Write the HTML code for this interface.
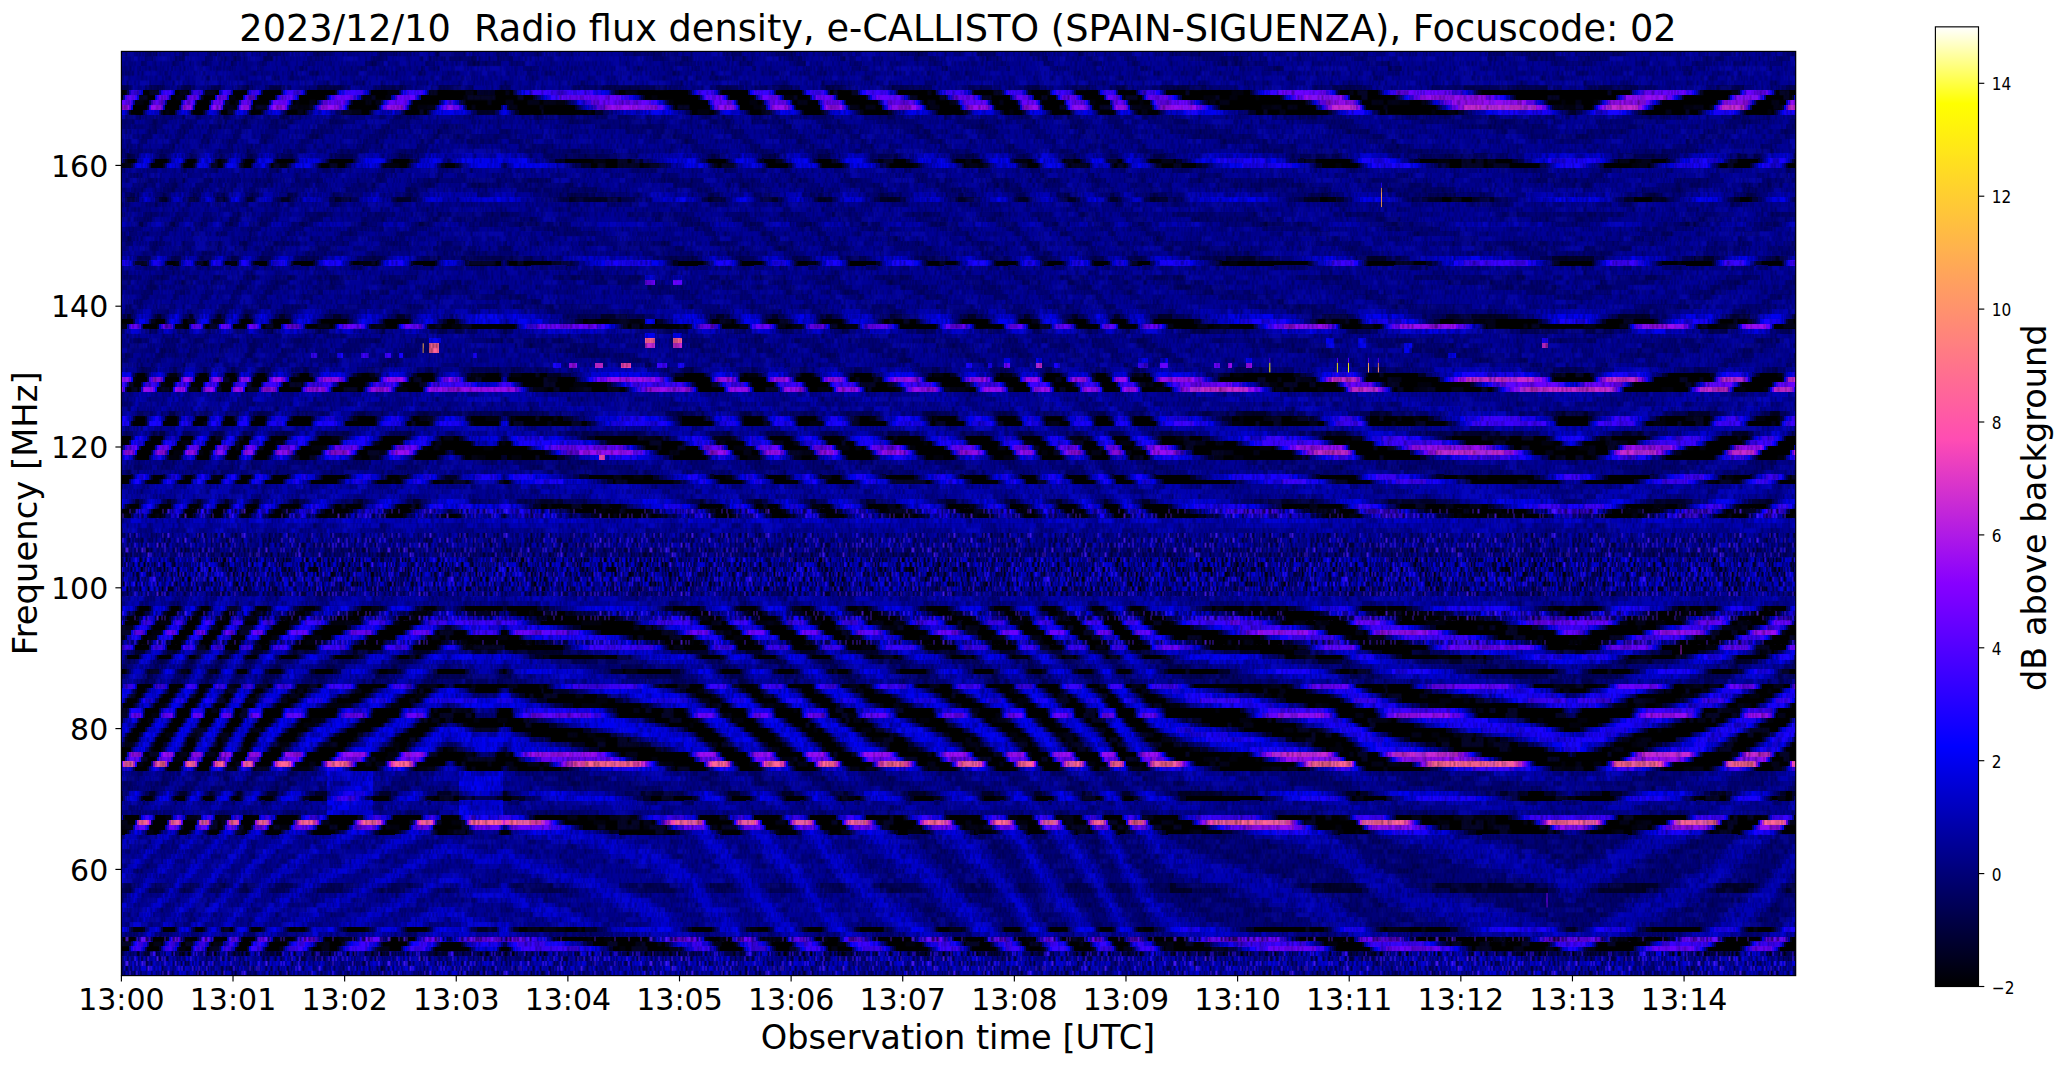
<!DOCTYPE html><html><head><meta charset="utf-8"><title>e-CALLISTO</title><style>html,body{margin:0;padding:0;background:#fff}svg{display:block}text{font-family:"DejaVu Sans","Liberation Sans",sans-serif;fill:#000}</style></head><body>
<svg width="2066" height="1067" viewBox="0 0 2066 1067">
<rect width="2066" height="1067" fill="#fff"/>
<g transform="translate(121.40 53.832) scale(2.00036 4.86421)" fill="none" stroke-width="1.05" shape-rendering="crispEdges">
<path stroke="#000096" d="M0 0h837M0 1h837M0 2h837M0 3h837M0 4h837M0 5h837M0 6h837M0 7h837M0 13h837M0 14h837M0 15h837M0 16h837M0 17h837M0 18h837M0 19h837M0 20h837M0 24h837M0 25h837M0 27h837M0 28h837M0 31h837M0 32h837M0 33h837M0 34h837M0 36h837M0 37h837M0 38h837M0 39h837M0 40h837M0 41h837M0 44h837M0 45h837M0 46h837M0 47h837M0 48h837M0 49h837M0 50h837M0 51h837M0 52h837M0 58h837M0 59h837M0 60h837M0 61h837M0 62h837M0 63h837M0 64h837M0 70h837M0 71h837M0 72h837M0 73h837M0 77h837M0 84h837M0 91h837M0 98h837M0 102h837M0 103h837M0 148h837M0 149h837M0 150h837M0 151h837M0 154h837M0 155h837M0 156h837M0 161h837M0 162h837M0 163h837M0 164h837M0 165h837M0 166h837M0 167h837M0 168h837M0 169h837M0 170h837M0 173h837M0 174h837M0 175h837M0 176h837M0 177h837M0 178h837M0 179h837"/>
<path stroke="#000000" d="M0 8h837M0 9h837M0 10h837M0 11h837M0 12h837M0 22h837M0 23h837M0 43h837M0 55h837M0 56h837M0 66h837M0 67h837M0 68h837M0 69h837M0 75h837M0 76h837M0 79h837M0 80h837M0 81h837M0 82h837M0 83h837M0 87h837M0 88h837M0 93h837M0 94h837M0 95h837M0 114h837M0 115h837M0 116h837M0 117h837M0 118h837M0 119h837M0 120h837M0 121h837M0 122h837M0 124h837M0 127h837M0 130h837M0 131h837M0 132h837M0 133h837M0 134h837M0 135h837M0 136h837M0 137h837M0 138h837M0 139h837M0 140h837M0 141h837M0 142h837M0 143h837M0 144h837M0 145h837M0 146h837M0 147h837M0 153h837M0 157h837M0 158h837M0 159h837M0 160h837M0 180h837M0 182h837M0 183h837M0 184h837"/>
<path stroke="#00005a" d="M0 21h837M0 42h837M0 54h837M0 74h837M0 78h837M0 125h837M0 128h837M0 171h837M0 172h837M0 185h837"/>
<path stroke="#000078" d="M0 26h837M0 29h837M0 53h837M0 57h837M0 85h837M0 86h837M0 126h837M0 129h837"/>
<path stroke="#00002d" d="M0 30h837M0 92h837M0 123h837M0 152h837"/>
<path stroke="#0000b4" d="M0 35h837M0 65h837M0 89h837M0 90h837M0 96h837M0 97h837M0 99h837M0 100h837M0 101h837M0 111h837M0 112h837M0 113h837M0 181h837M0 189h837"/>
<path stroke="#0000d2" d="M0 104h837M0 105h837M0 106h837M0 107h837M0 108h837M0 109h837M0 110h837M0 186h837M0 187h837M0 188h837"/>
<path stroke="#000000" d="M599 30h8m53 0h15m81 0h9m44 0h6M569 123h17m44 0h15m130 0h13m31 0h7M617 152h2m84 0h8m29 0h4m54 0h4m30 0h3"/>
<path stroke="#00002d" d="M107 8h1m70 0h9m9 0h1m50 0h2m34 0h1m15 0h1m125 0h1m138 0h1m43 0h1m19 0h1m48 0h1m76 0h1m53 0h1m17 0h1M68 9h1m33 0h1m17 0h1m85 0h1m54 0h1m26 0h1m14 0h1m12 0h1m55 0h1m107 0h1m19 0h1m78 0h1m58 0h1m57 0h1m83 0h1m54 0h1M44 10h1m70 0h1m54 0h1m51 0h1m50 0h1m46 0h1m79 0h1m16 0h1m29 0h1m11 0h1m43 0h1m38 0h1m50 0h1m58 0h1m59 0h1m25 0h1m30 0h1m27 0h1M51 11h1m32 0h1m43 0h1m15 0h1m48 0h1m33 0h1m48 0h1m125 0h1m33 0h1m11 0h1m36 0h1m8 0h1m9 0h1m43 0h1m108 0h1m57 0h1m19 0h1m59 0h1m34 0h1M4 12h1m15 0h1m14 0h1m5 0h1m22 0h1m5 0h1m11 0h1m9 0h1m17 0h1m13 0h1m16 0h1m11 0h1m24 0h9m10 0h2m38 0h4m43 0h1m11 0h1m16 0h1m10 0h1m15 0h1m10 0h1m16 0h1m14 0h2m22 0h1m14 0h1m17 0h1m9 0h1m13 0h1m9 0h1m13 0h1m7 0h1m10 0h1m10 0h1m44 0h4m36 0h2m23 0h1m39 0h3m52 0h4m31 0h2m28 0h2m21 0h1m14 0h1M1 22h1m5 0h1m15 0h1m8 0h1m19 0h1m8 0h1m4 0h1m10 0h1m8 0h1m16 0h1m12 0h1m18 0h1m10 0h1m70 0h5m35 0h4m31 0h1m9 0h1m16 0h2m9 0h1m16 0h1m9 0h1m18 0h2m14 0h2m22 0h1m12 0h1m16 0h1m8 0h1m14 0h1m8 0h1m13 0h1m19 0h1m13 0h3m58 0h3m23 0h1m31 0h3m46 0h3m48 0h2m24 0h2m29 0h1m14 0h1m16 0h1M5 23h1m15 0h1m8 0h1m5 0h1m22 0h1m23 0h1m15 0h1m12 0h1m18 0h1m11 0h1m16 0h2m5 0h2m61 0h5m34 0h3m23 0h1m10 0h1m15 0h1m10 0h2m14 0h1m10 0h1m20 0h1m16 0h1m21 0h1m12 0h1m15 0h1m8 0h1m13 0h1m10 0h1m11 0h1m6 0h1m13 0h1m20 0h3m57 0h3m18 0h1m39 0h4m47 0h3m27 0h2m23 0h2m32 0h1m15 0h1m17 0h1M552 42h17m53 0h10m83 0h21m50 0h10m29 0h6M43 43h1m22 0h1m18 0h1m10 0h1m18 0h1m12 0h1m16 0h1m11 0h1m14 0h2m19 0h1m26 0h4m52 0h2m14 0h1m16 0h1m10 0h1m15 0h1m10 0h1m15 0h1m13 0h2m23 0h1m14 0h1m18 0h1m10 0h1m12 0h1m9 0h1m14 0h1m7 0h1m10 0h1m42 0h3m43 0h2m26 0h1m30 0h3m60 0h1m19 0h1m32 0h2m25 0h1m20 0h1m13 0h1M3 54h2m13 0h2m14 0h2m12 0h2m12 0h2m15 0h3m24 0h4m28 0h4m98 0h13m44 0h4m24 0h3m24 0h3m29 0h6m33 0h4m24 0h3m21 0h3m18 0h3m19 0h7m75 0h13m49 0h31m55 0h16m40 0h10m22 0h1M45 55h1m5 0h1m7 0h1m5 0h1m9 0h1m8 0h1m14 0h1m13 0h1m17 0h1m12 0h1m16 0h2m4 0h2m58 0h4m37 0h3m23 0h1m11 0h1m15 0h1m10 0h1m15 0h1m10 0h1m19 0h1m16 0h2m20 0h1m13 0h1m14 0h1m9 0h1m13 0h1m9 0h1m11 0h1m7 0h1m12 0h1m20 0h3m56 0h3m20 0h1m37 0h3m49 0h2m30 0h2m24 0h2m30 0h1m16 0h1m16 0h1M18 56h1m43 0h1m7 0h1m21 0h1m13 0h1m17 0h1m28 0h1m43 0h1m52 0h1m33 0h1m55 0h1m13 0h1m52 0h1m18 0h1m13 0h1m12 0h1m23 0h1m10 0h1m9 0h1m8 0h1m58 0h1m42 0h1m19 0h1m50 0h2m125 0h1M7 66h1m4 0h1m10 0h1m4 0h1m9 0h1m4 0h1m8 0h1m4 0h1m9 0h1m4 0h1m13 0h2m6 0h2m20 0h2m9 0h2m17 0h2m8 0h1m16 0h2m14 0h1m4 0h1m18 0h7m57 0h4m10 0h1m17 0h2m7 0h2m17 0h2m7 0h1m17 0h2m9 0h2m26 0h2m9 0h3m20 0h2m6 0h2m14 0h1m7 0h1m15 0h2m5 0h1m12 0h1m6 0h2m34 0h6m35 0h3m30 0h1m25 0h4m63 0h2m17 0h2m34 0h3m21 0h2m21 0h2m11 0h1M51 67h1m32 0h1m43 0h1m15 0h1m48 0h1m33 0h1m48 0h1m125 0h1m33 0h1m11 0h1m36 0h1m8 0h1m9 0h1m43 0h1m109 0h1m56 0h1m19 0h1m59 0h1m34 0h1M49 68h1m5 0h1m7 0h1m58 0h1m17 0h1m11 0h1m47 0h1m42 0h2m41 0h1m27 0h1m54 0h1m15 0h1m23 0h1m55 0h1m9 0h1m13 0h1m18 0h1m11 0h1m48 0h2m36 0h1m23 0h1m42 0h2m79 0h1m30 0h1m22 0h1M9 69h1m15 0h1m178 0h2m46 0h1m90 0h1m45 0h1m21 0h1m54 0h1m23 0h1m33 0h1m50 0h1m59 0h1m49 0h1M557 74h15m52 0h11m82 0h16m50 0h11m30 0h5M6 75h1m5 0h1m9 0h1m5 0h1m8 0h1m19 0h1m8 0h1m5 0h1m12 0h1m9 0h1m19 0h1m11 0h1m17 0h1m10 0h1m16 0h2m14 0h1m4 0h1m26 0h5m52 0h2m12 0h2m16 0h1m9 0h1m16 0h1m9 0h1m16 0h2m11 0h2m24 0h2m12 0h1m19 0h1m9 0h1m13 0h1m8 0h1m15 0h1m6 0h1m11 0h1m8 0h1m35 0h5m38 0h3m26 0h2m29 0h3m60 0h2m15 0h2m32 0h2m25 0h1m21 0h1m12 0h1M5 76h1m6 0h1m15 0h1m28 0h1m69 0h1m46 0h1m19 0h1m38 0h2m44 0h1m15 0h1m14 0h1m12 0h1m26 0h1m122 0h1m12 0h1m8 0h1m9 0h1m47 0h2m68 0h1m39 0h2m52 0h1m75 0h1M602 78h10m54 0h23m61 0h11m44 0h8M14 79h1m29 0h1m5 0h1m13 0h1m9 0h1m23 0h1m12 0h1m18 0h1m11 0h1m16 0h1m9 0h2m62 0h4m34 0h3m21 0h1m11 0h1m15 0h1m10 0h1m15 0h1m10 0h1m20 0h1m16 0h2m20 0h1m12 0h1m24 0h1m13 0h1m9 0h1m11 0h1m7 0h1m13 0h1m22 0h4m56 0h1m61 0h3m47 0h2m23 0h2m23 0h2m33 0h1m15 0h1m17 0h1M81 80h1m12 0h1m14 0h1m16 0h1m28 0h1m19 0h1m66 0h1m37 0h1m16 0h1m27 0h1m12 0h1m13 0h1m32 0h1m37 0h1m14 0h1m12 0h1m23 0h1m43 0h1m37 0h1m47 0h1m19 0h1m45 0h1m47 0h1m10 0h1m26 0h1m52 0h1M77 81h1m43 0h1m81 0h2m55 0h1m54 0h1m41 0h1m13 0h1m21 0h1m96 0h1m18 0h1m19 0h1m46 0h1m59 0h1m57 0h2m51 0h1m34 0h1m20 0h1M45 82h1m7 0h1m21 0h1m42 0h1m13 0h1m15 0h1m13 0h1m3 0h1m45 0h2m54 0h1m21 0h1m42 0h1m11 0h1m28 0h1m22 0h1m70 0h1m13 0h1m52 0h1m49 0h1m119 0h1m70 0h1M7 83h1m15 0h1m5 0h1m22 0h1m5 0h1m7 0h1m6 0h1m12 0h1m10 0h1m18 0h1m12 0h1m16 0h1m11 0h1m12 0h1m18 0h3m25 0h4m52 0h2m16 0h1m15 0h1m10 0h1m15 0h1m11 0h1m14 0h1m13 0h2m23 0h1m14 0h1m18 0h1m10 0h1m23 0h1m13 0h1m8 0h1m19 0h1m29 0h3m44 0h3m27 0h1m28 0h3m61 0h1m23 0h1m32 0h2m24 0h1m20 0h1m13 0h1M5 87h1m9 0h1m5 0h1m9 0h1m4 0h1m8 0h1m29 0h1m7 0h1m16 0h1m11 0h2m18 0h1m10 0h1m18 0h6m61 0h5m32 0h3m25 0h2m9 0h1m16 0h1m9 0h2m15 0h1m9 0h1m20 0h2m14 0h2m21 0h2m11 0h1m16 0h1m7 0h1m14 0h1m9 0h1m12 0h1m5 0h1m14 0h1m17 0h3m60 0h2m18 0h1m39 0h4m45 0h3m32 0h2m21 0h2m33 0h1m14 0h1m18 0h1M12 88h1m6 0h1m8 0h1m20 0h1m7 0h1m5 0h1m44 0h1m18 0h1m12 0h1m33 0h1m19 0h1m48 0h3m33 0h1m18 0h1m11 0h1m41 0h1m12 0h1m19 0h2m17 0h1m19 0h1m50 0h1m10 0h1m18 0h1m14 0h1m33 0h3m48 0h2m17 0h1m47 0h2m44 0h1m12 0h1m24 0h2m34 0h1m35 0h1M2 93h1m15 0h1m20 0h1m22 0h1m5 0h1m10 0h1m9 0h1m16 0h1m13 0h1m16 0h1m11 0h1m56 0h4m40 0h3m35 0h1m11 0h1m15 0h1m11 0h1m15 0h1m9 0h1m17 0h1m16 0h1m22 0h1m13 0h1m26 0h1m13 0h1m9 0h1m20 0h1m11 0h1m12 0h2m52 0h3m30 0h1m26 0h2m44 0h3m65 0h1m28 0h2m24 0h1m15 0h1M0 94h1m5 0h1m15 0h1m14 0h1m22 0h1m15 0h1m8 0h1m15 0h1m12 0h2m17 0h1m11 0h1m77 0h3m37 0h3m27 0h1m10 0h1m43 0h1m9 0h1m19 0h1m16 0h1m21 0h2m12 0h1m15 0h1m8 0h1m14 0h1m9 0h1m32 0h1m17 0h2m58 0h2m22 0h1m34 0h3m48 0h2m39 0h2m24 0h2m30 0h1M14 95h1m5 0h1m9 0h1m19 0h1m8 0h1m4 0h1m9 0h1m7 0h1m15 0h1m11 0h2m19 0h1m9 0h2m16 0h3m6 0h2m65 0h5m30 0h3m23 0h1m9 0h2m16 0h1m9 0h1m16 0h1m9 0h1m20 0h2m14 0h2m21 0h2m10 0h2m15 0h1m7 0h1m15 0h1m8 0h1m18 0h1m14 0h1m20 0h4m58 0h2m17 0h1m43 0h3m45 0h2m25 0h2m21 0h2m34 0h1m14 0h1M8 114h1m5 0h1m9 0h1m4 0h1m9 0h1m4 0h1m8 0h1m4 0h1m8 0h1m5 0h2m13 0h1m8 0h2m19 0h2m9 0h2m17 0h2m8 0h2m10 0h2m19 0h2m15 0h6m58 0h4m13 0h2m16 0h2m8 0h1m17 0h1m8 0h2m16 0h1m10 0h2m24 0h3m11 0h1m20 0h2m8 0h1m14 0h1m7 0h2m15 0h1m6 0h1m11 0h1m7 0h1m28 0h5m38 0h4m32 0h1m22 0h3m65 0h3m25 0h2m35 0h3m19 0h1m22 0h1M6 115h1m4 0h1m10 0h1m4 0h1m9 0h1m3 0h1m9 0h1m4 0h1m8 0h1m4 0h2m12 0h2m6 0h2m19 0h3m8 0h2m18 0h2m7 0h2m21 0h13m6 0h3m24 0h8m51 0h4m8 0h2m16 0h2m7 0h2m17 0h2m7 0h1m17 0h2m10 0h3m24 0h3m9 0h3m19 0h2m6 0h2m14 0h1m7 0h1m15 0h2m5 0h1m11 0h2m6 0h2m42 0h5m33 0h3m26 0h2m29 0h5m58 0h3m6 0h3m33 0h3m23 0h2m22 0h2m11 0h1M8 116h1m15 0h1m14 0h1m8 0h1m13 0h1m25 0h1m17 0h2m11 0h1m18 0h1m10 0h1m58 0h5m34 0h4m38 0h1m9 0h1m17 0h1m9 0h1m16 0h1m9 0h1m18 0h1m13 0h2m24 0h1m11 0h2m17 0h1m8 0h1m13 0h1m9 0h1m13 0h1m19 0h1m10 0h2m55 0h3m27 0h2m27 0h2m41 0h3m68 0h1m26 0h2m40 0h1M17 117h1m21 0h1m7 0h1m30 0h1m25 0h1m31 0h1m12 0h1m58 0h2m46 0h1m72 0h1m14 0h1m11 0h1m34 0h1m20 0h1m15 0h1m38 0h1m31 0h1m26 0h1m52 0h1m32 0h1m25 0h1m51 0h2m88 0h1m23 0h1m31 0h1M15 118h1m15 0h1m13 0h1m5 0h1m13 0h1m18 0h1m15 0h1m12 0h2m17 0h1m11 0h1m17 0h5m59 0h4m36 0h2m26 0h1m10 0h1m15 0h1m10 0h1m15 0h1m10 0h1m19 0h1m16 0h2m20 0h2m12 0h1m15 0h1m8 0h1m13 0h1m10 0h1m11 0h1m6 0h1m13 0h1m18 0h2m58 0h2m21 0h1m36 0h3m48 0h3m34 0h1m24 0h2m46 0h1m17 0h1M20 119h1m75 0h1m13 0h1m17 0h1m12 0h1m15 0h1m35 0h1m44 0h2m36 0h1m47 0h1m11 0h1m14 0h1m11 0h1m38 0h1m19 0h1m13 0h1m37 0h1m10 0h1m18 0h1m13 0h1m29 0h2m72 0h1m44 0h1m48 0h1m17 0h1m59 0h1M10 120h1m15 0h1m28 0h1m22 0h1m12 0h1m31 0h1m28 0h1m46 0h1m54 0h2m29 0h1m15 0h1m39 0h1m27 0h1m20 0h1m50 0h1m12 0h1m23 0h1m29 0h1m16 0h1m43 0h2m40 0h1m19 0h1m54 0h2m62 0h1m35 0h1M14 121h1m15 0h1m8 0h1m19 0h1m8 0h1m5 0h1m13 0h1m9 0h2m19 0h1m11 0h1m17 0h1m10 0h2m6 0h2m37 0h5m57 0h3m17 0h1m16 0h1m9 0h2m16 0h1m9 0h1m15 0h2m10 0h2m24 0h2m12 0h2m19 0h2m9 0h1m13 0h1m8 0h1m15 0h1m7 0h1m10 0h1m7 0h1m26 0h3m41 0h3m34 0h1m21 0h3m64 0h3m30 0h2m35 0h2m20 0h1m20 0h1M66 122h1m30 0h1m60 0h1m32 0h1m29 0h1m51 0h1m18 0h1m27 0h1m14 0h1m11 0h1m14 0h1m14 0h1m22 0h1m58 0h1m10 0h1m22 0h1m9 0h1m38 0h2m48 0h1m59 0h1m59 0h1m25 0h1m58 0h1M18 124h1m20 0h1m8 0h1m13 0h1m5 0h1m10 0h1m8 0h1m17 0h1m12 0h2m17 0h1m10 0h1m57 0h4m37 0h5m36 0h1m9 0h2m15 0h2m9 0h1m16 0h1m9 0h1m17 0h2m14 0h2m22 0h2m12 0h1m17 0h1m8 0h1m13 0h1m9 0h1m13 0h1m6 0h1m11 0h1m11 0h2m54 0h3m29 0h1m26 0h3m42 0h4m65 0h2m27 0h2m24 0h1m15 0h1M598 125h12m50 0h22m70 0h13m42 0h8M3 127h1m9 0h1m15 0h1m4 0h1m8 0h1m4 0h1m23 0h2m6 0h1m14 0h2m9 0h2m20 0h1m9 0h2m16 0h2m14 0h2m15 0h2m2 0h1m51 0h6m24 0h4m20 0h1m9 0h1m16 0h2m8 0h2m15 0h2m8 0h2m22 0h2m13 0h2m21 0h1m10 0h2m14 0h1m7 0h2m14 0h2m7 0h1m11 0h1m6 0h1m16 0h2m25 0h6m53 0h2m13 0h2m50 0h4m38 0h2m15 0h2m19 0h2m37 0h2m13 0h2m19 0h1M15 130h1m29 0h1m7 0h1m13 0h1m7 0h1m42 0h1m13 0h1m15 0h1m13 0h2m2 0h1m46 0h1m53 0h2m21 0h1m14 0h1m39 0h1m28 0h1m22 0h1m16 0h1m17 0h1m12 0h1m22 0h1m13 0h1m52 0h1m49 0h1m58 0h1m60 0h1m94 0h1M7 131h1m4 0h1m10 0h1m4 0h1m9 0h1m3 0h1m9 0h1m4 0h1m8 0h1m4 0h1m13 0h2m6 0h2m20 0h2m9 0h2m18 0h2m7 0h1m18 0h3m11 0h1m5 0h2m20 0h8m55 0h3m9 0h2m17 0h2m7 0h2m17 0h2m6 0h2m17 0h2m9 0h2m26 0h2m9 0h3m20 0h1m7 0h2m14 0h1m6 0h2m15 0h2m5 0h1m11 0h2m6 0h1m38 0h6m34 0h3m28 0h2m26 0h4m62 0h2m13 0h2m34 0h3m22 0h1m22 0h1m12 0h1M4 132h1m5 0h1m9 0h1m5 0h1m8 0h1m19 0h1m13 0h1m11 0h2m8 0h1m17 0h2m11 0h2m17 0h1m10 0h1m46 0h3m36 0h5m42 0h2m10 0h1m16 0h1m9 0h2m15 0h1m9 0h1m17 0h2m13 0h1m24 0h1m12 0h2m17 0h1m9 0h1m13 0h1m8 0h1m14 0h1m6 0h1m11 0h1m9 0h2m47 0h4m33 0h2m24 0h2m38 0h3m84 0h1m28 0h2m22 0h1m14 0h1M8 133h1m15 0h1m14 0h1m8 0h1m13 0h1m25 0h1m17 0h2m11 0h1m18 0h1m10 0h1m58 0h5m34 0h4m38 0h1m9 0h1m17 0h1m9 0h1m16 0h1m9 0h1m18 0h1m13 0h2m24 0h1m11 0h2m17 0h1m8 0h1m13 0h1m9 0h1m13 0h1m19 0h1m10 0h2m55 0h3m27 0h2m27 0h2m41 0h3m68 0h1m26 0h2m40 0h1M6 134h1m9 0h1m5 0h1m14 0h1m8 0h1m19 0h1m10 0h1m7 0h1m16 0h1m12 0h1m18 0h1m10 0h1m75 0h5m34 0h4m28 0h2m9 0h1m16 0h1m10 0h1m15 0h2m8 0h2m18 0h2m14 0h2m22 0h1m12 0h1m16 0h1m8 0h1m13 0h2m8 0h1m12 0h1m6 0h1m13 0h1m14 0h3m59 0h2m22 0h1m33 0h4m45 0h4m43 0h1m24 0h2m30 0h1m14 0h1m16 0h1M3 135h1m30 0h1m7 0h1m28 0h1m8 0h1m58 0h1m35 0h1m12 0h1m6 0h1m50 0h2m33 0h1m29 0h1m14 0h1m26 0h1m12 0h1m20 0h1m17 0h1m46 0h1m9 0h1m13 0h1m20 0h1m23 0h1m37 0h2m46 0h1m67 0h2m43 0h1m8 0h1m25 0h1M93 136h1m13 0h1m17 0h1m28 0h1m93 0h1m33 0h1m16 0h1m39 0h1m66 0h1m18 0h1m13 0h1m122 0h1m45 0h1m18 0h1m49 0h1m44 0h1m4 0h1m26 0h1m53 0h1M0 137h1m8 0h1m15 0h1m5 0h1m22 0h1m5 0h1m7 0h1m7 0h1m12 0h1m10 0h2m18 0h2m11 0h1m16 0h1m13 0h2m38 0h4m56 0h3m21 0h1m15 0h1m11 0h1m15 0h1m10 0h1m15 0h1m11 0h2m22 0h2m14 0h1m19 0h1m11 0h1m13 0h1m8 0h1m14 0h1m8 0h1m10 0h1m8 0h1m21 0h3m42 0h3m35 0h1m21 0h2m62 0h3m40 0h1m35 0h2m19 0h1m20 0h1m11 0h1M14 138h1m23 0h1m5 0h1m29 0h1m12 0h1m9 0h2m18 0h1m12 0h1m16 0h1m10 0h2m10 0h1m20 0h1m22 0h4m54 0h2m17 0h1m15 0h1m10 0h1m16 0h1m10 0h1m15 0h1m12 0h1m23 0h2m14 0h1m18 0h1m24 0h1m9 0h1m14 0h1m7 0h1m10 0h1m8 0h1m27 0h4m43 0h3m29 0h1m26 0h3m62 0h2m25 0h2m33 0h2m22 0h1m20 0h1M5 139h1m15 0h1m14 0h1m5 0h1m13 0h1m14 0h1m11 0h1m9 0h1m18 0h1m12 0h1m17 0h1m10 0h1m21 0h1m11 0h1m6 0h1m35 0h4m46 0h2m12 0h1m15 0h1m11 0h1m15 0h1m10 0h1m15 0h1m14 0h1m23 0h2m13 0h1m18 0h1m9 0h1m12 0h1m10 0h1m13 0h1m7 0h1m10 0h1m9 0h1m41 0h3m39 0h2m23 0h1m36 0h3m54 0h2m8 0h2m30 0h2m28 0h1m21 0h1M3 140h1m5 0h1m9 0h1m14 0h1m5 0h1m39 0h1m9 0h1m16 0h2m12 0h1m17 0h1m11 0h1m50 0h3m40 0h3m39 0h1m10 0h1m16 0h1m10 0h1m15 0h1m10 0h1m16 0h2m14 0h2m22 0h1m13 0h2m16 0h1m9 0h1m13 0h1m9 0h1m13 0h1m6 0h1m11 0h1m10 0h2m50 0h3m33 0h1m24 0h2m42 0h3m73 0h2m29 0h1m23 0h1M8 141h1m8 0h1m6 0h1m22 0h1m5 0h1m13 0h1m10 0h1m8 0h1m16 0h1m13 0h1m17 0h1m11 0h1m63 0h3m39 0h4m32 0h1m10 0h1m16 0h1m10 0h1m15 0h1m10 0h1m17 0h1m16 0h1m22 0h1m13 0h1m16 0h1m8 0h1m13 0h1m9 0h1m20 0h1m11 0h1m13 0h2m55 0h3m27 0h1m28 0h3m45 0h4m55 0h2m27 0h2m25 0h1m15 0h1m15 0h1M1 142h1m4 0h1m9 0h1m4 0h2m9 0h1m4 0h1m8 0h1m4 0h1m8 0h1m4 0h1m10 0h2m6 0h1m16 0h3m9 0h2m19 0h2m7 0h2m79 0h8m27 0h6m28 0h2m8 0h2m16 0h2m7 0h2m16 0h2m7 0h2m20 0h2m12 0h3m22 0h2m9 0h2m17 0h1m6 0h2m14 0h2m7 0h1m13 0h1m5 0h1m13 0h2m13 0h4m60 0h3m19 0h1m36 0h5m41 0h5m41 0h2m21 0h3m31 0h2m13 0h1m17 0h1M14 143h1m5 0h1m9 0h1m13 0h1m5 0h1m8 0h1m4 0h1m9 0h1m7 0h1m15 0h1m12 0h1m18 0h2m10 0h1m16 0h2m7 0h3m63 0h5m31 0h3m23 0h1m9 0h2m15 0h2m9 0h1m15 0h2m9 0h1m20 0h2m14 0h2m21 0h1m11 0h2m15 0h1m7 0h1m14 0h2m8 0h1m18 0h1m14 0h1m21 0h4m57 0h2m17 0h1m43 0h3m45 0h2m25 0h2m21 0h2m34 0h1m14 0h2m17 0h1M11 144h1m15 0h1m20 0h1m7 0h1m81 0h1m15 0h1m22 0h1m9 0h1m61 0h1m77 0h1m26 0h1m33 0h1m17 0h1m115 0h1m40 0h1m115 0h1m43 0h1m1 0h2m26 0h1m35 0h1M10 145h1m6 0h1m8 0h1m20 0h1m7 0h1m35 0h1m12 0h1m18 0h1m12 0h1m15 0h1m46 0h1m56 0h2m71 0h1m11 0h1m14 0h1m12 0h1m21 0h1m36 0h1m12 0h1m57 0h1m8 0h1m17 0h1m43 0h1m61 0h1m55 0h2m59 0h1M67 146h1m19 0h1m79 0h1m165 0h1m26 0h1m53 0h1m30 0h1m90 0h1m49 0h1m30 0h1m88 0h1m68 0h1m43 0h1m13 0h1M13 147h1m15 0h1m22 0h1m13 0h1m6 0h1m11 0h1m10 0h1m18 0h1m12 0h1m17 0h1m10 0h1m14 0h1m17 0h1m2 0h1m26 0h4m51 0h2m15 0h1m15 0h1m11 0h1m15 0h1m10 0h1m15 0h1m13 0h1m23 0h2m14 0h1m18 0h1m10 0h1m12 0h1m9 0h1m14 0h1m7 0h1m10 0h1m8 0h1m31 0h4m43 0h2m27 0h1m29 0h3m60 0h1m21 0h1m32 0h2m24 0h1m20 0h1m13 0h1M10 153h1m5 0h1m9 0h1m19 0h1m8 0h1m4 0h1m8 0h1m6 0h1m14 0h1m9 0h2m22 0h1m8 0h1m17 0h1m16 0h8m11 0h3m8 0h3m59 0h4m20 0h2m16 0h2m9 0h1m16 0h1m9 0h1m16 0h1m10 0h2m23 0h2m13 0h1m20 0h1m10 0h1m14 0h1m8 0h1m14 0h1m8 0h1m10 0h1m7 0h1m20 0h3m38 0h4m40 0h1m17 0h3m60 0h4m47 0h1m37 0h2m16 0h2m20 0h1m10 0h1M1 157h1m52 0h1m34 0h1m116 0h1m51 0h1m29 0h1m13 0h1m89 0h1m50 0h1m35 0h1m97 0h1m35 0h1m79 0h2M66 158h1m33 0h1m120 0h1m70 0h1m54 0h1m29 0h1m79 0h1m12 0h1m22 0h1m155 0h1m92 0h1M44 159h1m68 0h1m16 0h1m25 0h1m16 0h1m55 0h2m63 0h1m12 0h1m41 0h1m30 0h1m38 0h1m39 0h1m12 0h1m69 0h1m54 0h1m60 0h1m54 0h1m51 0h1m65 0h1M3 160h1m15 0h1m14 0h1m8 0h1m13 0h1m14 0h1m7 0h1m14 0h1m11 0h2m18 0h2m10 0h1m16 0h1m16 0h1m15 0h1m4 0h1m49 0h5m28 0h2m19 0h2m9 0h1m16 0h1m10 0h1m15 0h1m10 0h1m21 0h2m14 0h2m20 0h2m11 0h1m14 0h1m8 0h1m14 0h1m8 0h1m11 0h1m6 0h1m15 0h2m28 0h5m51 0h2m15 0h1m49 0h4m40 0h2m13 0h2m21 0h2m36 0h1m15 0h1m19 0h1M524 171h3m68 0h22m38 0h51m37 0h25m32 0h16m18 0h3M524 172h11m66 0h19m44 0h49m25 0h24m35 0h16m19 0h5M5 180h1m5 0h1m24 0h1m4 0h1m8 0h1m13 0h1m5 0h1m12 0h1m8 0h1m18 0h2m11 0h1m17 0h1m10 0h1m24 0h10m8 0h3m33 0h6m45 0h2m10 0h1m16 0h2m9 0h1m16 0h1m9 0h1m16 0h2m12 0h2m24 0h1m12 0h2m18 0h1m8 0h1m13 0h1m9 0h1m14 0h1m6 0h1m11 0h1m8 0h2m44 0h4m35 0h2m24 0h2m35 0h4m54 0h6m32 0h2m27 0h1m22 0h1m13 0h1M7 182h1m15 0h1m36 0h1m15 0h1m9 0h1m14 0h1m116 0h1m44 0h2m39 0h1m14 0h1m38 0h1m17 0h1m18 0h1m50 0h1m85 0h1m55 0h1m58 0h1m53 0h2m41 0h1m28 0h1m27 0h1m32 0h1M44 183h1m85 0h1m28 0h1m10 0h1m62 0h3m36 0h2m21 0h1m11 0h1m15 0h1m26 0h1m31 0h1m17 0h1m33 0h1m24 0h1m13 0h1m21 0h1m7 0h1m37 0h3m56 0h1m19 0h1m41 0h2m49 0h1m23 0h1m24 0h2m49 0h1m17 0h1M19 184h1m8 0h1m28 0h1m5 0h1m8 0h1m22 0h1m12 0h1m18 0h1m28 0h1m17 0h1m14 0h1m4 0h1m49 0h2m32 0h2m18 0h1m11 0h1m15 0h1m10 0h1m48 0h1m16 0h1m20 0h1m12 0h1m23 0h1m24 0h1m10 0h1m22 0h1m32 0h3m50 0h1m66 0h2m43 0h1m13 0h1m23 0h1m52 0h1"/>
<path stroke="#00005a" d="M0 7h4m10 0h6m10 0h5m10 0h5m9 0h5m10 0h8m16 0h12m20 0h11m18 0h11m71 0h32m24 0h11m17 0h10m17 0h10m23 0h15m23 0h12m16 0h8m16 0h9m13 0h6m16 0h23m63 0h15m51 0h42m25 0h20m39 0h14m21 0h5M3 8h1m30 0h1m35 0h1m9 0h1m11 0h1m31 0h1m14 0h1m57 0h1m48 0h1m37 0h1m55 0h1m12 0h1m33 0h1m19 0h1m32 0h1m11 0h1m23 0h1m11 0h1m18 0h1m13 0h1m43 0h1m63 0h1m46 0h1m111 0h1M207 9h1m52 0h1m96 0h1m35 0h1m18 0h1m97 0h1m18 0h1m50 0h1m58 0h1m55 0h1m107 0h1M85 10h1m44 0h1m14 0h1m13 0h1m63 0h1m48 0h1m34 0h1m70 0h1m55 0h1m106 0h1m77 0h1m33 0h1m57 0h1m104 0h1M13 11h1m51 0h1m30 0h1m60 0h1m14 0h1m55 0h1m107 0h1m26 0h1m96 0h1m54 0h1m31 0h1m49 0h1m23 0h1m36 0h1m106 0h1M11 12h1m15 0h1m21 0h1m6 0h1m24 0h1m11 0h1m15 0h1m15 0h1m14 0h1m13 0h1m21 0h2m9 0h1m8 0h1m44 0h3m38 0h2m13 0h1m14 0h1m12 0h1m13 0h1m12 0h1m14 0h1m17 0h1m20 0h1m16 0h1m15 0h1m11 0h1m11 0h1m11 0h1m30 0h1m12 0h1m41 0h2m42 0h1m20 0h2m43 0h2m48 0h2m4 0h2m28 0h1m32 0h1m19 0h1m16 0h1M16 22h1m21 0h1m7 0h1m55 0h1m14 0h1m16 0h1m12 0h1m66 0h3m44 0h3m27 0h1m11 0h1m14 0h1m12 0h1m14 0h1m11 0h1m16 0h1m18 0h1m20 0h1m14 0h1m25 0h1m12 0h1m10 0h1m11 0h1m7 0h1m11 0h1m17 0h2m54 0h2m27 0h1m28 0h2m52 0h3m44 0h1m28 0h2m26 0h1m16 0h1M14 23h1m29 0h1m6 0h1m13 0h1m8 0h1m9 0h1m13 0h1m14 0h1m16 0h1m13 0h1m14 0h1m9 0h2m56 0h3m42 0h1m21 0h1m12 0h1m53 0h1m17 0h2m18 0h1m19 0h1m14 0h1m13 0h1m10 0h1m34 0h1m20 0h1m24 0h3m53 0h1m22 0h1m36 0h2m54 0h1m25 0h1m27 0h1m30 0h1m17 0h1M5 29h2m14 0h2m13 0h2m12 0h2m12 0h2m17 0h3m25 0h4m27 0h4m77 0h14m56 0h3m25 0h3m24 0h3m27 0h5m35 0h4m25 0h3m21 0h3m20 0h2m18 0h4m75 0h10m50 0h14m93 0h10m42 0h5M2 30h1m4 0h1m9 0h2m4 0h1m9 0h1m3 0h2m8 0h1m4 0h1m9 0h1m3 0h1m11 0h2m5 0h2m17 0h3m8 0h3m18 0h2m7 0h3m68 0h8m26 0h7m34 0h2m7 0h2m17 0h2m7 0h2m16 0h2m7 0h2m19 0h3m10 0h3m23 0h3m8 0h3m17 0h2m5 0h2m14 0h2m6 0h2m14 0h1m4 0h2m12 0h2m9 0h4m59 0h5m20 0h2m32 0h5m36 0h7m55 0h3m21 0h4m28 0h2m12 0h2m16 0h1M9 35h2m14 0h2m13 0h1m13 0h2m12 0h2m19 0h3m28 0h3m26 0h4m46 0h10m77 0h3m25 0h3m24 0h4m24 0h4m36 0h4m28 0h3m21 0h3m21 0h2m17 0h3m58 0h12m50 0h9m139 0h8m35 0h3M6 43h1m6 0h1m8 0h1m6 0h1m7 0h1m20 0h1m14 0h1m40 0h1m14 0h1m60 0h1m1 0h1m31 0h3m48 0h1m17 0h1m14 0h1m12 0h1m26 0h1m30 0h1m21 0h1m16 0h1m52 0h1m42 0h1m30 0h2m48 0h1m59 0h2m57 0h1m21 0h1m30 0h1m28 0h1M6 55h1m7 0h1m7 0h1m7 0h1m6 0h1m36 0h1m23 0h1m15 0h1m30 0h1m13 0h2m8 0h1m54 0h3m44 0h2m20 0h1m27 0h1m12 0h1m13 0h1m12 0h1m16 0h2m19 0h1m18 0h1m15 0h1m36 0h1m11 0h1m30 0h1m24 0h2m53 0h1m24 0h1m33 0h3m54 0h2m27 0h1m28 0h1m47 0h1M41 56h1m6 0h1m89 0h1m110 0h1m63 0h1m13 0h1m40 0h1m19 0h1m133 0h1m44 0h1m111 0h1m73 0h1m33 0h1M14 57h1m14 0h2m13 0h1m13 0h2m13 0h3m21 0h3m29 0h3m26 0h5m4 0h5m19 0h2m75 0h8m30 0h3m24 0h3m24 0h3m34 0h5m31 0h3m22 0h2m22 0h3m17 0h2m30 0h18m63 0h9m75 0h19m14 0h14m47 0h10m26 0h6M10 65h2m14 0h2m13 0h2m12 0h2m13 0h2m19 0h3m29 0h4m25 0h4m19 0h14m6 0h5m81 0h5m25 0h3m25 0h3m24 0h4m35 0h4m30 0h3m20 0h3m22 0h2m17 0h3m48 0h13m55 0h7m87 0h12m55 0h6m33 0h3M13 66h1m15 0h1m7 0h1m20 0h1m7 0h1m6 0h1m11 0h1m10 0h1m18 0h1m13 0h1m15 0h1m11 0h1m14 0h1m17 0h1m2 0h1m26 0h5m50 0h2m15 0h1m15 0h1m11 0h1m15 0h1m10 0h1m15 0h1m13 0h2m22 0h2m14 0h1m18 0h1m10 0h1m12 0h1m9 0h1m22 0h1m10 0h1m40 0h3m44 0h3m26 0h1m30 0h3m59 0h1m21 0h1m31 0h2m26 0h1m19 0h1M13 67h1m51 0h1m30 0h1m60 0h1m14 0h1m55 0h1m107 0h1m26 0h1m96 0h1m54 0h1m31 0h1m49 0h1m23 0h1m143 0h1M10 68h1m8 0h1m6 0h1m64 0h1m16 0h1m14 0h1m15 0h1m59 0h1m45 0h1m39 0h1m12 0h1m27 0h1m14 0h1m11 0h1m32 0h1m37 0h1m16 0h1m55 0h1m70 0h1m61 0h1m45 0h1m148 0h1M2 69h1m30 0h1m71 0h1m15 0h1m15 0h1m115 0h1m74 0h1m26 0h1m15 0h1m239 0h1m74 0h1m63 0h1m32 0h1m39 0h1M43 75h1m7 0h1m13 0h1m18 0h1m11 0h1m17 0h1m13 0h1m15 0h1m12 0h1m14 0h1m20 0h1m32 0h3m47 0h2m31 0h1m11 0h1m14 0h1m11 0h1m14 0h1m15 0h1m22 0h1m15 0h1m17 0h1m11 0h1m11 0h1m10 0h1m13 0h1m8 0h1m9 0h1m10 0h1m31 0h3m46 0h2m58 0h3m56 0h1m19 0h1m30 0h1m28 0h1m19 0h1m14 0h1M50 76h1m21 0h1m22 0h1m15 0h1m30 0h1m13 0h1m32 0h1m45 0h2m41 0h1m58 0h1m26 0h1m17 0h1m20 0h1m17 0h1m15 0h1m23 0h1m55 0h1m33 0h2m48 0h1m63 0h1m67 0h1m27 0h1m50 0h1m16 0h1M5 79h1m15 0h1m14 0h1m21 0h1m24 0h1m13 0h1m14 0h1m16 0h1m13 0h1m14 0h1m12 0h1m19 0h2m37 0h3m41 0h1m33 0h1m13 0h1m12 0h1m26 0h1m18 0h1m19 0h1m18 0h1m14 0h1m13 0h1m22 0h1m11 0h1m31 0h1m27 0h2m52 0h2m20 0h1m39 0h2m52 0h1m21 0h1m27 0h1m31 0h1m17 0h1M4 80h1m37 0h1m145 0h1m6 0h1m44 0h2m39 0h1m29 0h1m72 0h1m20 0h1m56 0h1m95 0h2m44 0h1m65 0h1m87 0h1m32 0h1M9 81h1m15 0h1m6 0h1m70 0h1m31 0h1m69 0h1m53 0h1m70 0h1m12 0h1m67 0h1m17 0h1m25 0h1m10 0h1m61 0h1m48 0h1m35 0h1m79 0h1M15 82h1m51 0h1m19 0h1m12 0h1m62 0h1m1 0h1m48 0h1m52 0h1m37 0h1m12 0h1m95 0h1m17 0h1m12 0h1m140 0h1m57 0h1m130 0h1m24 0h1M37 83h1m6 0h1m29 0h1m10 0h1m29 0h1m14 0h1m14 0h1m13 0h1m10 0h1m51 0h2m48 0h2m33 0h1m12 0h1m57 0h1m21 0h1m16 0h1m16 0h1m12 0h1m11 0h1m43 0h1m37 0h2m50 0h1m25 0h1m32 0h2m58 0h1m25 0h1m30 0h1m27 0h1m18 0h1M30 87h1m20 0h1m7 0h1m5 0h1m18 0h1m14 0h1m14 0h1m16 0h1m12 0h1m15 0h2m6 0h1m57 0h3m40 0h2m35 0h1m14 0h1m26 0h1m11 0h1m18 0h1m18 0h1m19 0h1m14 0h1m14 0h1m9 0h1m12 0h1m22 0h1m7 0h1m12 0h1m21 0h3m55 0h2m21 0h1m36 0h2m52 0h2m29 0h1m25 0h2m30 0h1m16 0h1m16 0h1M42 88h1m38 0h1m12 0h1m14 0h1m16 0h1m28 0h1m19 0h1m12 0h1m51 0h3m37 0h2m15 0h1m13 0h1m13 0h1m12 0h1m45 0h1m20 0h1m17 0h1m14 0h1m12 0h1m10 0h1m56 0h1m37 0h3m44 0h1m20 0h1m44 0h2m47 0h1m10 0h1m27 0h1m32 0h1m18 0h1M6 92h1m2 0h2m10 0h2m2 0h2m9 0h2m2 0h1m10 0h1m2 0h2m9 0h1m3 0h1m14 0h2m3 0h3m20 0h4m5 0h3m19 0h3m4 0h3m45 0h9m14 0h12m52 0h4m3 0h3m18 0h3m4 0h3m18 0h3m3 0h3m19 0h3m5 0h5m26 0h4m5 0h4m20 0h3m3 0h2m15 0h3m3 0h3m16 0h2m2 0h2m13 0h2m4 0h3m49 0h7m23 0h5m28 0h4m24 0h7m98 0h4m19 0h4m24 0h2m10 0h1M9 93h1m15 0h1m7 0h1m20 0h1m50 0h1m15 0h1m28 0h1m53 0h2m47 0h3m45 0h1m41 0h1m11 0h1m15 0h1m18 0h1m20 0h1m15 0h1m15 0h1m10 0h1m11 0h1m11 0h1m11 0h1m34 0h1m49 0h2m34 0h1m23 0h2m49 0h3m61 0h1m31 0h1m22 0h1m17 0h1M15 94h1m15 0h1m20 0h1m13 0h1m33 0h1m45 0h1m16 0h3m54 0h3m43 0h2m24 0h1m12 0h1m14 0h1m11 0h1m14 0h1m11 0h1m17 0h1m18 0h1m35 0h1m24 0h1m12 0h1m22 0h1m7 0h1m11 0h1m20 0h2m55 0h1m57 0h2m53 0h2m36 0h1m28 0h1m28 0h1m16 0h1M5 95h1m15 0h1m14 0h1m7 0h1m38 0h1m13 0h1m14 0h1m17 0h1m12 0h1m14 0h1m11 0h2m19 0h2m39 0h3m38 0h2m20 0h1m27 0h1m11 0h1m14 0h1m11 0h1m18 0h1m18 0h1m19 0h1m14 0h1m13 0h1m9 0h1m13 0h1m10 0h1m10 0h1m7 0h1m12 0h1m25 0h3m54 0h1m20 0h1m39 0h3m50 0h1m23 0h1m25 0h1m32 0h1m16 0h1m17 0h1M30 114h1m7 0h1m20 0h1m27 0h1m11 0h1m17 0h1m13 0h1m15 0h1m12 0h2m6 0h2m44 0h3m53 0h2m19 0h1m14 0h1m11 0h1m15 0h1m11 0h1m14 0h1m13 0h1m22 0h1m15 0h2m17 0h1m11 0h1m12 0h1m10 0h1m13 0h1m8 0h1m9 0h1m9 0h1m24 0h3m47 0h2m29 0h1m26 0h3m60 0h2m30 0h1m32 0h2m23 0h1m20 0h1m12 0h1M5 115h1m6 0h1m8 0h1m6 0h1m7 0h1m5 0h1m14 0h1m25 0h1m10 0h1m17 0h1m13 0h1m16 0h1m11 0h1m18 0h2m18 0h1m35 0h5m44 0h2m14 0h1m14 0h1m11 0h1m15 0h1m10 0h1m15 0h1m15 0h1m22 0h1m15 0h1m17 0h1m10 0h1m12 0h1m9 0h1m13 0h1m8 0h1m9 0h1m10 0h1m37 0h4m41 0h2m23 0h1m36 0h3m54 0h1m12 0h2m29 0h2m28 0h1m20 0h1m14 0h1M2 116h1m15 0h1m14 0h1m20 0h1m13 0h1m10 0h1m9 0h1m15 0h1m14 0h1m16 0h1m12 0h1m54 0h3m43 0h3m34 0h1m11 0h1m15 0h1m11 0h1m14 0h1m11 0h1m16 0h1m16 0h1m22 0h1m30 0h1m54 0h1m11 0h1m13 0h1m52 0h2m58 0h1m46 0h3m64 0h1m29 0h1m24 0h1m15 0h1M61 117h1m6 0h1m51 0h1m85 0h2m49 0h1m44 0h1m13 0h1m55 0h1m106 0h1m30 0h1m16 0h1m50 0h1m58 0h1m54 0h1m55 0h1m32 0h1m40 0h1M6 118h1m15 0h1m14 0h1m21 0h1m15 0h1m9 0h1m13 0h1m45 0h1m15 0h1m5 0h1m55 0h3m42 0h2m23 0h1m12 0h1m26 0h1m26 0h1m17 0h1m19 0h1m18 0h1m15 0h1m13 0h1m54 0h1m11 0h1m21 0h2m55 0h1m58 0h2m54 0h1m32 0h1m27 0h1m29 0h1m16 0h1M43 119h1m38 0h1m154 0h1m39 0h1m18 0h1m12 0h1m73 0h1m66 0h1m99 0h1m51 0h1m63 0h1m93 0h1m51 0h1M2 120h1m30 0h1m71 0h1m31 0h1m62 0h1m52 0h1m32 0h1m27 0h1m13 0h1m26 0h1m53 0h1m17 0h1m61 0h1m34 0h1m46 0h1m60 0h1m52 0h1m99 0h1m38 0h1M8 121h1m6 0h1m8 0h1m20 0h1m7 0h1m13 0h1m7 0h1m11 0h1m12 0h1m17 0h1m13 0h1m15 0h1m13 0h2m1 0h3m44 0h3m52 0h2m21 0h1m14 0h1m12 0h1m14 0h1m11 0h1m28 0h1m22 0h1m16 0h1m17 0h1m12 0h1m22 0h1m13 0h1m28 0h1m23 0h2m47 0h2m31 0h1m25 0h2m60 0h2m35 0h1m33 0h1m23 0h1m32 0h1M44 122h1m40 0h1m29 0h1m14 0h1m28 0h1m10 0h1m51 0h2m48 0h1m34 0h1m109 0h1m29 0h1m93 0h1m51 0h1m25 0h1m33 0h1m115 0h1m46 0h1M6 123h1m5 0h1m9 0h1m5 0h1m8 0h1m4 0h1m8 0h1m5 0h1m7 0h1m5 0h2m11 0h2m8 0h2m17 0h3m10 0h2m16 0h2m9 0h2m17 0h3m11 0h2m4 0h2m25 0h9m48 0h4m11 0h1m16 0h2m8 0h2m15 0h2m8 0h2m15 0h3m11 0h2m23 0h3m11 0h2m18 0h2m8 0h2m12 0h2m7 0h2m14 0h2m5 0h2m10 0h2m7 0h2m35 0h8m35 0h4m25 0h2m29 0h6m57 0h2m12 0h3m31 0h4m23 0h2m21 0h2m11 0h2M2 124h1m6 0h1m15 0h1m7 0h1m20 0h1m34 0h1m15 0h1m15 0h1m15 0h1m12 0h1m53 0h3m46 0h3m32 0h1m12 0h1m26 0h1m14 0h1m11 0h1m15 0h1m18 0h1m20 0h1m15 0h1m15 0h1m10 0h1m11 0h1m11 0h1m11 0h1m33 0h2m49 0h3m33 0h1m23 0h2m49 0h3m61 0h1m31 0h1m22 0h1m17 0h1M1 126h2m14 0h2m13 0h2m13 0h2m12 0h2m14 0h3m23 0h4m28 0h4m111 0h11m39 0h3m25 0h3m23 0h4m31 0h5m32 0h4m23 0h3m21 0h3m18 0h2m23 0h7m80 0h4m67 0h16m50 0h6m50 0h5m27 0h2M12 127h1m6 0h1m8 0h1m20 0h1m7 0h1m5 0h1m17 0h1m12 0h1m13 0h2m17 0h1m12 0h1m33 0h1m19 0h1m47 0h3m34 0h2m17 0h1m11 0h1m14 0h1m12 0h1m13 0h1m12 0h1m19 0h2m17 0h1m18 0h2m13 0h1m12 0h1m23 0h1m10 0h1m18 0h1m13 0h2m33 0h4m47 0h2m17 0h1m47 0h2m44 0h1m12 0h2m23 0h2m34 0h1m17 0h1m17 0h1M12 129h2m14 0h2m12 0h2m13 0h2m12 0h3m20 0h3m29 0h4m25 0h3m14 0h4m12 0h3m1 0h4m79 0h7m26 0h4m24 0h3m24 0h4m34 0h5m30 0h3m21 0h3m22 0h2m17 0h2m39 0h15m61 0h5m88 0h7m9 0h7m54 0h5m32 0h3M87 130h1m12 0h1m63 0h2m48 0h1m51 0h1m51 0h1m40 0h1m36 0h1m60 0h1m34 0h1m41 0h1m51 0h1m58 0h1m58 0h1m38 0h1m31 0h1m43 0h1M6 131h1m15 0h1m14 0h1m5 0h1m28 0h1m22 0h1m18 0h1m13 0h1m16 0h1m10 0h1m16 0h1m15 0h1m34 0h4m49 0h2m14 0h1m15 0h1m11 0h1m15 0h1m10 0h1m15 0h1m13 0h2m22 0h2m14 0h1m18 0h1m23 0h1m9 0h1m13 0h1m8 0h1m9 0h1m9 0h1m33 0h4m43 0h2m25 0h1m32 0h3m58 0h1m17 0h1m31 0h2m26 0h1m20 0h1M19 132h1m21 0h1m7 0h1m13 0h1m6 0h1m21 0h1m15 0h1m15 0h1m15 0h1m12 0h1m43 0h2m44 0h2m39 0h1m13 0h1m14 0h1m26 0h1m11 0h1m15 0h1m16 0h2m20 0h2m15 0h1m15 0h1m23 0h1m10 0h1m12 0h1m18 0h1m12 0h1m44 0h2m39 0h1m22 0h1m43 0h3m79 0h2m31 0h1m20 0h1M2 133h1m15 0h1m14 0h1m20 0h1m13 0h1m10 0h1m9 0h1m15 0h1m14 0h1m16 0h1m12 0h1m54 0h3m43 0h3m34 0h1m11 0h1m15 0h1m11 0h1m14 0h1m11 0h1m16 0h1m16 0h1m22 0h1m30 0h1m54 0h1m11 0h1m13 0h1m52 0h2m58 0h1m46 0h3m64 0h1m29 0h1m24 0h1m15 0h1M0 134h1m6 0h1m15 0h1m7 0h1m20 0h1m7 0h1m15 0h1m9 0h1m14 0h1m14 0h1m16 0h1m12 0h1m70 0h4m43 0h2m38 0h1m14 0h1m12 0h1m43 0h1m18 0h1m20 0h1m14 0h1m14 0h1m34 0h1m19 0h1m11 0h1m18 0h2m55 0h2m25 0h1m30 0h2m53 0h2m39 0h2m27 0h2m27 0h1m16 0h1M19 135h1m73 0h1m14 0h1m16 0h1m50 0h1m67 0h2m36 0h1m15 0h1m40 0h1m46 0h1m37 0h1m14 0h1m47 0h1m18 0h1m13 0h1m40 0h1m64 0h1m47 0h1m46 0h1m6 0h1m61 0h1m18 0h1m17 0h1M3 136h1m7 0h1m15 0h1m6 0h1m21 0h1m23 0h1m96 0h1m9 0h1m8 0h1m50 0h1m35 0h1m28 0h1m54 0h1m19 0h1m64 0h1m10 0h1m12 0h1m44 0h1m41 0h1m112 0h1m46 0h4m62 0h1M16 137h1m22 0h1m6 0h1m41 0h1m30 0h1m14 0h1m14 0h1m58 0h3m51 0h2m25 0h1m41 0h1m12 0h1m13 0h1m14 0h1m20 0h1m17 0h1m17 0h1m13 0h1m11 0h1m10 0h1m23 0h1m38 0h2m48 0h2m57 0h2m57 0h3m44 0h1m33 0h1m22 0h1m18 0h1M7 138h1m15 0h1m6 0h1m21 0h1m6 0h1m6 0h1m19 0h1m29 0h1m14 0h1m14 0h1m13 0h1m7 0h2m48 0h3m49 0h2m20 0h1m13 0h1m12 0h1m14 0h1m26 0h1m14 0h2m20 0h1m17 0h1m16 0h1m12 0h1m11 0h1m24 0h1m18 0h1m10 0h1m24 0h2m50 0h2m26 0h1m30 0h2m58 0h2m29 0h1m30 0h2m25 0h1m33 0h1M12 139h1m15 0h1m21 0h1m13 0h1m17 0h1m11 0h1m16 0h1m14 0h1m15 0h1m12 0h1m19 0h1m59 0h3m42 0h1m15 0h1m41 0h1m26 0h1m16 0h2m20 0h1m16 0h1m16 0h1m11 0h1m35 0h1m18 0h1m11 0h1m37 0h3m44 0h1m21 0h1m40 0h3m50 0h1m12 0h1m28 0h1m31 0h1m19 0h1m15 0h1M10 140h1m15 0h1m21 0h1m6 0h1m13 0h1m36 0h1m15 0h1m15 0h1m13 0h1m47 0h2m46 0h3m35 0h1m12 0h1m14 0h1m12 0h1m26 0h1m14 0h1m18 0h1m20 0h1m16 0h1m38 0h1m11 0h1m11 0h1m18 0h1m13 0h1m47 0h2m37 0h1m22 0h1m47 0h2m70 0h1m32 0h1m21 0h1m16 0h1M1 141h1m30 0h1m6 0h1m21 0h1m26 0h1m14 0h1m15 0h1m15 0h1m13 0h1m59 0h3m46 0h2m29 0h1m12 0h1m14 0h1m12 0h1m13 0h1m28 0h1m18 0h1m20 0h1m15 0h1m14 0h1m10 0h1m11 0h1m11 0h1m11 0h1m35 0h2m51 0h2m31 0h1m25 0h2m52 0h3m51 0h1m31 0h1m23 0h1m17 0h1M0 142h1m14 0h1m15 0h1m20 0h1m13 0h1m18 0h1m14 0h1m14 0h1m17 0h1m11 0h2m16 0h3m54 0h4m41 0h3m24 0h1m12 0h1m14 0h1m11 0h1m14 0h1m11 0h1m17 0h2m17 0h1m20 0h1m13 0h2m14 0h1m9 0h1m12 0h1m10 0h1m11 0h1m7 0h1m11 0h1m19 0h3m54 0h3m23 0h1m32 0h3m51 0h3m36 0h2m26 0h2m28 0h1m16 0h1M5 143h1m15 0h1m14 0h1m21 0h1m24 0h1m13 0h1m14 0h1m16 0h1m13 0h1m14 0h1m12 0h1m19 0h2m38 0h3m39 0h2m20 0h1m39 0h1m26 0h1m18 0h1m18 0h1m19 0h1m14 0h1m13 0h1m9 0h1m24 0h1m10 0h1m7 0h1m12 0h1m26 0h3m52 0h2m20 0h1m39 0h3m50 0h2m21 0h2m25 0h2m31 0h1M178 144h1m17 0h1m51 0h1m34 0h1m15 0h1m12 0h1m54 0h1m95 0h1m100 0h1m43 0h1m19 0h1m49 0h1m45 0h1m101 0h1M78 145h1m121 0h1m54 0h1m45 0h1m12 0h1m94 0h1m44 0h1m34 0h1m81 0h1m115 0h1m97 0h1m19 0h1m18 0h1M75 146h1m86 0h1m51 0h1m53 0h1m49 0h1m78 0h1m84 0h1m162 0h1m96 0h1M6 147h1m15 0h1m14 0h1m20 0h1m38 0h1m16 0h1m14 0h1m15 0h1m12 0h1m12 0h1m19 0h2m31 0h3m46 0h2m18 0h1m27 0h1m13 0h1m12 0h1m13 0h1m15 0h1m21 0h1m17 0h1m16 0h1m35 0h1m12 0h1m18 0h1m10 0h1m28 0h2m49 0h2m24 0h1m33 0h2m57 0h1m23 0h1m29 0h2m27 0h1m34 0h1M1 152h2m9 0h2m3 0h1m10 0h1m4 0h1m9 0h1m3 0h1m9 0h1m3 0h1m10 0h1m5 0h1m15 0h3m30 0h2m6 0h3m18 0h2m35 0h2m57 0h8m16 0h5m20 0h2m6 0h2m17 0h2m6 0h3m16 0h2m6 0h3m23 0h4m9 0h3m22 0h3m6 0h3m15 0h2m4 0h2m16 0h2m5 0h2m12 0h1m4 0h2m18 0h4m22 0h8m52 0h2m11 0h3m56 0h7m28 0h3m10 0h4m16 0h3m38 0h3m11 0h2m21 0h1M1 153h1m30 0h1m7 0h1m36 0h1m12 0h1m32 0h2m10 0h1m15 0h1m25 0h11m14 0h3m53 0h3m26 0h1m14 0h1m12 0h1m14 0h1m11 0h1m14 0h1m13 0h1m20 0h2m16 0h1m18 0h1m12 0h1m12 0h1m34 0h1m18 0h1m18 0h1m45 0h3m36 0h1m21 0h1m56 0h3m52 0h1m34 0h2m39 0h1M9 157h1m15 0h1m6 0h1m70 0h1m31 0h1m33 0h1m34 0h2m53 0h1m70 0h1m12 0h1m67 0h1m17 0h1m25 0h1m10 0h1m23 0h1m37 0h1m47 0h1m59 0h1m58 0h1m51 0h1m34 0h1m20 0h1M15 158h1m36 0h1m167 0h1m46 0h1m37 0h1m126 0h1m80 0h1m21 0h1m54 0h1m115 0h1m126 0h1M51 159h1m13 0h1m18 0h1m143 0h1m44 0h1m61 0h1m64 0h1m47 0h1m54 0h1m11 0h1m27 0h1m52 0h1m23 0h1m36 0h1m79 0h1m28 0h1M12 160h1m15 0h1m20 0h1m13 0h1m17 0h1m12 0h1m14 0h1m16 0h1m13 0h1m14 0h1m18 0h2m65 0h3m35 0h2m16 0h1m12 0h1m14 0h1m12 0h1m13 0h1m12 0h1m19 0h1m18 0h1m18 0h1m14 0h1m12 0h1m10 0h1m12 0h1m10 0h1m18 0h1m13 0h1m35 0h3m47 0h1m18 0h1m46 0h2m46 0h1m11 0h1m25 0h1m34 0h1m17 0h1m17 0h1M4 180h1m15 0h1m6 0h1m7 0h1m20 0h1m14 0h1m10 0h1m10 0h1m16 0h1m14 0h1m15 0h1m12 0h1m21 0h2m17 0h1m42 0h3m41 0h1m13 0h1m27 0h1m14 0h1m11 0h1m14 0h1m16 0h2m21 0h1m15 0h1m16 0h1m10 0h1m23 0h1m12 0h1m8 0h1m9 0h1m11 0h1m40 0h3m41 0h2m21 0h1m41 0h2m50 0h2m6 0h2m28 0h2m30 0h1m20 0h1m15 0h1M0 182h1m37 0h1m94 0h1m13 0h1m68 0h2m47 0h1m25 0h1m54 0h1m68 0h1m15 0h1m37 0h1m11 0h1m105 0h1m58 0h1m56 0h1m70 0h1M5 183h1m15 0h1m14 0h1m46 0h1m13 0h1m14 0h1m30 0h1m14 0h1m12 0h1m19 0h2m38 0h2m41 0h1m60 0h1m26 0h1m18 0h1m38 0h1m14 0h1m13 0h1m34 0h1m31 0h1m27 0h1m54 0h1m60 0h2m134 0h1M12 184h1m36 0h1m31 0h1m12 0h1m45 0h1m102 0h1m36 0h1m44 0h1m12 0h1m13 0h1m12 0h1m19 0h1m18 0h1m70 0h1m29 0h1m13 0h1m36 0h1m48 0h1m18 0h1m47 0h1m58 0h1m60 0h1m35 0h1"/>
<path stroke="#000078" d="M0 0h3m10 0h5m11 0h5m9 0h5m10 0h4m11 0h7m16 0h10m22 0h10m19 0h16m17 0h4m57 0h27m22 0h10m18 0h9m18 0h9m25 0h14m24 0h10m17 0h7m17 0h8m13 0h6m19 0h27m59 0h13m60 0h34m17 0h18m42 0h13m23 0h7M12 1h4m11 0h5m10 0h4m10 0h4m11 0h5m17 0h8m24 0h8m21 0h24m10 0h8m70 0h17m22 0h7m20 0h8m19 0h8m29 0h11m25 0h8m17 0h6m19 0h6m13 0h6m26 0h30m53 0h11m76 0h19m6 0h16m46 0h11m26 0h7M10 2h3m13 0h3m12 0h3m11 0h3m11 0h4m18 0h5m26 0h6m24 0h5m16 0h17m4 0h8m75 0h10m22 0h6m22 0h5m22 0h6m33 0h7m27 0h5m19 0h5m20 0h4m15 0h4m41 0h23m49 0h12m82 0h19m50 0h10m29 0h6M9 3h1m15 0h1m14 0h1m13 0h1m13 0h2m19 0h2m29 0h3m27 0h2m49 0h8m77 0h3m26 0h2m25 0h2m26 0h3m37 0h3m29 0h2m21 0h3m22 0h1m18 0h2m60 0h10m52 0h7m140 0h5m37 0h3M4 7h2m6 0h2m6 0h2m6 0h2m5 0h2m6 0h2m5 0h2m5 0h2m5 0h2m6 0h2m8 0h3m9 0h4m12 0h5m11 0h4m11 0h4m10 0h4m11 0h6m13 0h6m31 0h15m32 0h8m13 0h3m11 0h3m10 0h4m10 0h4m10 0h3m10 0h4m13 0h6m15 0h5m13 0h5m12 0h4m9 0h3m8 0h3m9 0h4m9 0h3m7 0h3m6 0h3m9 0h4m23 0h16m37 0h10m15 0h5m30 0h16m42 0h7m11 0h7m20 0h10m24 0h5m14 0h5m12 0h4M41 8h1m111 0h1m91 0h1m80 0h1m41 0h1m128 0h1m68 0h1m40 0h1M32 9h1m44 0h1m130 0h1m121 0h1m136 0h1m60 0h1m165 0h1m52 0h1m31 0h1M14 10h1m22 0h1m36 0h1m23 0h1m70 0h1m54 0h1m136 0h1m37 0h1m114 0h1m25 0h1m53 0h1m59 0h1m84 0h1m28 0h1M29 11h1m43 0h1m39 0h1m76 0h1m38 0h1m45 0h1m18 0h1m85 0h1m38 0h1m126 0h1m112 0h1m154 0h1M19 12h1m22 0h1m20 0h1m7 0h1m36 0h1m66 0h1m12 0h1m6 0h1m48 0h2m35 0h1m16 0h1m12 0h1m54 0h1m19 0h1m18 0h1m18 0h1m37 0h1m24 0h1m32 0h1m37 0h3m45 0h1m18 0h1m47 0h2m45 0h1m8 0h1m26 0h1m34 0h1m17 0h1M2 13h8m8 0h8m7 0h7m8 0h7m7 0h7m10 0h11m15 0h17m15 0h14m53 0h52m32 0h14m14 0h13m14 0h13m15 0h20m20 0h17m15 0h12m11 0h13m11 0h9m11 0h16m49 0h37m23 0h54m61 0h33m22 0h19M0 14h7m9 0h7m9 0h6m8 0h7m7 0h7m9 0h10m15 0h16m17 0h13m72 0h46m27 0h13m15 0h12m15 0h12m18 0h19m20 0h16m15 0h10m13 0h11m12 0h8m12 0h20m57 0h26m33 0h54m41 0h28m29 0h17m16 0h3M0 15h5m9 0h7m9 0h6m8 0h6m9 0h6m9 0h9m15 0h13m19 0h12m17 0h12m66 0h36m23 0h12m16 0h11m16 0h11m21 0h17m22 0h13m15 0h9m15 0h10m12 0h7m14 0h25m60 0h18m46 0h47m25 0h23m36 0h15m20 0h5M0 16h3m10 0h5m10 0h6m9 0h5m9 0h5m10 0h7m16 0h11m21 0h11m18 0h19m14 0h6m57 0h28m21 0h10m17 0h10m17 0h10m24 0h15m23 0h11m16 0h8m16 0h8m13 0h6m19 0h31m55 0h14m60 0h34m14 0h20m41 0h14m22 0h8M11 17h5m11 0h5m9 0h5m10 0h4m10 0h6m16 0h9m23 0h9m20 0h45m68 0h19m20 0h8m19 0h9m18 0h10m27 0h12m24 0h9m16 0h7m18 0h7m12 0h7m25 0h34m49 0h14m73 0h41m44 0h13m25 0h8M9 18h4m12 0h4m11 0h4m10 0h4m11 0h4m16 0h7m25 0h8m21 0h7m16 0h17m4 0h12m71 0h11m21 0h7m21 0h7m20 0h8m30 0h10m25 0h7m17 0h6m18 0h6m13 0h6m39 0h29m44 0h15m79 0h19m47 0h13m28 0h7M8 19h3m13 0h3m12 0h2m12 0h3m11 0h3m17 0h5m26 0h6m24 0h5m46 0h17m69 0h6m23 0h5m22 0h5m23 0h7m33 0h6m26 0h5m19 0h4m20 0h4m15 0h4m56 0h19m44 0h15m129 0h12m32 0h6M4 20h7m8 0h8m8 0h6m8 0h7m7 0h7m11 0h11m16 0h16m16 0h13m45 0h48m39 0h14m14 0h13m15 0h12m15 0h19m21 0h17m16 0h11m12 0h12m13 0h9m10 0h13m45 0h42m22 0h46m79 0h33m21 0h17M2 21h1m4 0h2m8 0h2m4 0h2m8 0h1m4 0h1m8 0h2m3 0h2m8 0h1m3 0h2m10 0h2m6 0h2m16 0h3m9 0h3m17 0h3m7 0h3m62 0h11m26 0h10m32 0h3m6 0h3m16 0h2m7 0h3m15 0h3m6 0h3m17 0h4m10 0h4m22 0h3m9 0h3m16 0h2m6 0h2m13 0h3m6 0h2m13 0h2m4 0h2m11 0h3m8 0h5m55 0h7m21 0h3m28 0h7m35 0h10m55 0h4m21 0h6m25 0h3m12 0h2m15 0h1M0 22h1m52 0h1m6 0h1m6 0h1m8 0h1m10 0h1m13 0h1m16 0h1m14 0h1m14 0h1m63 0h2m50 0h2m24 0h1m13 0h1m40 0h1m28 0h1m20 0h1m18 0h1m16 0h1m13 0h1m22 0h1m12 0h1m50 0h1m51 0h2m57 0h1m57 0h2m41 0h1m31 0h1m24 0h1m18 0h1m13 0h1M6 23h1m15 0h1m14 0h1m59 0h1m16 0h1m43 0h1m12 0h1m19 0h2m31 0h3m46 0h2m18 0h1m27 0h1m13 0h1m12 0h1m13 0h1m37 0h1m17 0h1m16 0h1m35 0h1m12 0h1m18 0h1m10 0h1m28 0h2m49 0h2m24 0h1m33 0h2m57 0h1m23 0h1m29 0h1m28 0h1m34 0h1M0 24h2m12 0h4m12 0h3m12 0h3m11 0h3m12 0h5m19 0h7m25 0h7m22 0h11m85 0h18m28 0h7m21 0h6m21 0h6m29 0h9m28 0h7m19 0h5m20 0h5m15 0h4m22 0h17m70 0h8m68 0h24m27 0h11m47 0h9m26 0h5M13 25h2m14 0h2m12 0h2m13 0h1m14 0h2m21 0h3m29 0h4m25 0h4m7 0h5m17 0h4m76 0h8m29 0h3m24 0h3m24 0h3m35 0h4m31 0h3m22 0h2m22 0h3m17 0h2m33 0h12m68 0h5m86 0h8m17 0h7m53 0h5m31 0h3M6 27h7m9 0h7m8 0h7m8 0h6m8 0h7m12 0h11m19 0h14m16 0h12m16 0h17m3 0h33m50 0h18m15 0h12m16 0h12m15 0h15m23 0h16m18 0h12m13 0h11m13 0h9m10 0h11m33 0h47m27 0h33m61 0h19m33 0h27m21 0h14M5 28h6m10 0h6m9 0h5m9 0h6m8 0h6m13 0h9m19 0h13m18 0h11m45 0h40m47 0h11m17 0h11m17 0h10m18 0h14m25 0h14m19 0h9m14 0h10m15 0h7m12 0h10m49 0h36m27 0h37m93 0h28m24 0h14M1 30h1m6 0h1m15 0h1m7 0h1m20 0h1m7 0h1m5 0h1m9 0h1m9 0h1m14 0h2m14 0h1m16 0h1m12 0h1m62 0h5m41 0h5m28 0h1m11 0h2m13 0h2m11 0h1m14 0h1m11 0h1m16 0h2m16 0h2m19 0h2m14 0h1m15 0h1m9 0h1m12 0h1m10 0h2m11 0h1m7 0h1m10 0h1m15 0h3m52 0h4m27 0h2m26 0h4m48 0h5m48 0h2m28 0h3m24 0h1m16 0h1m14 0h1M2 31h2m13 0h3m13 0h2m12 0h3m11 0h3m14 0h3m23 0h5m27 0h5m102 0h16m39 0h5m23 0h4m22 0h5m28 0h8m31 0h5m23 0h3m20 0h5m17 0h3m20 0h8m78 0h7m59 0h22m54 0h9m47 0h6m26 0h1M0 33h2m9 0h7m9 0h7m7 0h7m8 0h6m8 0h9m13 0h14m17 0h14m16 0h46m54 0h33m15 0h13m15 0h13m13 0h14m21 0h19m18 0h14m13 0h11m13 0h11m10 0h9m17 0h44m42 0h20m54 0h66m36 0h19m19 0h12M9 34h7m9 0h6m9 0h6m8 0h6m8 0h8m13 0h12m19 0h13m17 0h14m1 0h43m59 0h22m16 0h12m16 0h11m16 0h13m24 0h16m19 0h12m14 0h9m15 0h9m11 0h9m24 0h45m37 0h22m66 0h38m37 0h20m22 0h12M7 35h2m2 0h2m9 0h3m2 0h2m8 0h3m1 0h2m9 0h2m2 0h2m8 0h2m2 0h3m12 0h4m3 0h4m19 0h5m3 0h5m17 0h4m4 0h4m17 0h16m4 0h5m10 0h16m53 0h8m3 0h5m16 0h4m3 0h4m16 0h4m4 0h3m16 0h5m4 0h6m24 0h6m4 0h5m19 0h4m3 0h4m13 0h4m3 0h3m15 0h3m2 0h3m11 0h3m3 0h4m36 0h18m12 0h14m28 0h8m9 0h15m62 0h17m34 0h11m8 0h7m22 0h6m3 0h5M6 36h4m12 0h4m11 0h4m10 0h5m9 0h5m14 0h7m22 0h10m21 0h9m47 0h30m56 0h9m19 0h8m20 0h7m20 0h12m28 0h11m22 0h7m16 0h7m17 0h6m13 0h8m54 0h28m34 0h27m106 0h21m29 0h10M4 37h4m12 0h4m11 0h4m11 0h3m11 0h3m15 0h5m23 0h8m23 0h7m68 0h24m51 0h6m22 0h6m21 0h6m24 0h8m31 0h8m23 0h5m18 0h6m18 0h4m15 0h7m68 0h17m42 0h24m89 0h16m36 0h8M3 38h2m14 0h2m13 0h2m13 0h1m13 0h2m15 0h3m25 0h3m28 0h3m95 0h11m48 0h3m25 0h3m24 0h3m29 0h5m34 0h3m25 0h3m21 0h3m19 0h2m19 0h5m80 0h7m57 0h12m76 0h7m47 0h4M0 39h6m8 0h8m8 0h7m7 0h7m8 0h6m9 0h10m13 0h17m16 0h14m14 0h14m19 0h2m36 0h46m19 0h14m14 0h14m13 0h14m17 0h21m18 0h17m13 0h11m12 0h13m10 0h9m12 0h29m52 0h24m37 0h56m23 0h29m30 0h19m16 0h6M0 40h4m8 0h7m9 0h7m8 0h6m8 0h6m9 0h9m13 0h14m19 0h13m16 0h19m14 0h6m51 0h35m18 0h12m15 0h13m14 0h13m21 0h18m20 0h14m13 0h10m14 0h11m11 0h8m15 0h37m50 0h17m51 0h43m12 0h24m37 0h17m19 0h9M0 41h1m10 0h6m10 0h5m9 0h6m9 0h5m9 0h7m15 0h11m20 0h12m18 0h46m62 0h25m17 0h11m17 0h10m17 0h11m25 0h15m21 0h11m15 0h9m15 0h9m11 0h8m21 0h40m45 0h17m65 0h51m40 0h16m22 0h11M8 42h1m6 0h1m8 0h1m5 0h1m8 0h1m5 0h1m7 0h2m4 0h1m8 0h1m6 0h1m12 0h2m9 0h2m17 0h3m10 0h2m15 0h3m9 0h10m36 0h7m53 0h6m16 0h2m15 0h2m9 0h2m15 0h2m9 0h1m14 0h3m10 0h3m21 0h3m13 0h2m18 0h2m9 0h2m12 0h2m8 0h2m13 0h2m7 0h1m10 0h1m7 0h2m22 0h6m39 0h6m32 0h1m21 0h5m60 0h5m32 0h3m32 0h4m19 0h2m19 0h2m11 0h1M51 43h1m13 0h1m18 0h1m12 0h1m46 0h1m13 0h1m12 0h1m19 0h1m35 0h2m44 0h2m60 0h1m26 0h1m37 0h1m34 0h1m12 0h1m10 0h1m24 0h1m9 0h1m8 0h1m11 0h1m27 0h2m51 0h1m23 0h1m36 0h1m55 0h1m23 0h1m28 0h1m48 0h1m15 0h1M7 44h3m13 0h3m12 0h2m12 0h3m11 0h3m17 0h4m25 0h6m25 0h5m54 0h18m65 0h5m23 0h5m22 0h5m24 0h6m33 0h7m25 0h4m19 0h5m20 0h3m16 0h4m62 0h17m43 0h17m117 0h12m35 0h6M1 46h7m8 0h8m8 0h7m7 0h7m8 0h6m10 0h10m15 0h16m16 0h14m68 0h46m29 0h13m15 0h13m14 0h13m17 0h19m20 0h16m15 0h11m12 0h12m12 0h8m11 0h20m55 0h29m30 0h55m44 0h30m27 0h17m16 0h2M0 47h5m9 0h7m9 0h6m9 0h6m8 0h6m10 0h8m15 0h14m19 0h12m17 0h10m64 0h28m5 0h5m24 0h11m16 0h12m15 0h12m20 0h18m21 0h13m16 0h9m14 0h11m11 0h8m14 0h24m59 0h19m44 0h49m27 0h24m35 0h15m19 0h5M0 48h3m10 0h6m10 0h5m9 0h5m10 0h5m10 0h7m16 0h11m21 0h10m19 0h17m16 0h4m56 0h28m22 0h10m18 0h9m17 0h11m24 0h14m23 0h11m16 0h8m16 0h9m12 0h7m18 0h29m58 0h13m58 0h36m17 0h19m41 0h13m23 0h7M0 49h1m10 0h5m11 0h5m10 0h4m10 0h4m11 0h5m17 0h8m24 0h9m20 0h25m8 0h10m68 0h19m21 0h8m19 0h8m19 0h9m28 0h11m24 0h9m17 0h7m17 0h7m13 0h6m25 0h32m52 0h12m74 0h22m2 0h19m44 0h13m25 0h8M10 50h3m13 0h3m11 0h4m11 0h3m11 0h4m17 0h6m26 0h7m22 0h6m16 0h17m4 0h9m74 0h10m22 0h6m22 0h6m21 0h7m31 0h8m26 0h7m18 0h5m19 0h5m14 0h5m39 0h26m48 0h13m81 0h19m49 0h11m29 0h6M9 51h1m15 0h1m13 0h2m13 0h1m13 0h2m19 0h2m29 0h3m26 0h3m48 0h10m76 0h4m24 0h3m25 0h3m25 0h4m35 0h4m29 0h3m20 0h3m21 0h3m16 0h3m59 0h12m50 0h9m138 0h7m35 0h4M4 52h7m9 0h7m8 0h7m7 0h7m7 0h8m10 0h12m15 0h17m15 0h14m24 0h10m8 0h49m38 0h16m13 0h14m14 0h13m14 0h20m20 0h18m15 0h12m11 0h13m12 0h9m10 0h14m42 0h44m21 0h47m48 0h4m29 0h34m19 0h18M0 54h1m5 0h1m9 0h1m5 0h1m8 0h1m5 0h1m8 0h1m13 0h1m5 0h1m9 0h1m8 0h1m15 0h1m12 0h2m17 0h2m10 0h1m18 0h2m55 0h7m34 0h5m25 0h2m10 0h1m15 0h2m9 0h2m14 0h2m9 0h2m17 0h3m14 0h3m20 0h2m11 0h2m15 0h1m8 0h2m12 0h2m9 0h1m11 0h2m6 0h1m12 0h1m16 0h4m56 0h4m21 0h1m33 0h5m46 0h5m37 0h2m23 0h4m28 0h2m14 0h2m16 0h1M44 55h1m40 0h1m29 0h1m14 0h1m39 0h1m50 0h3m49 0h1m33 0h1m12 0h1m14 0h1m11 0h1m52 0h1m16 0h1m29 0h1m11 0h1m10 0h1m32 0h1m37 0h2m49 0h2m58 0h1m59 0h1m25 0h1m30 0h1m27 0h1M198 56h1m49 0h1m50 0h1m108 0h1m55 0h1m165 0h1m194 0h1M6 59h8m8 0h8m7 0h7m8 0h7m7 0h8m11 0h12m17 0h16m15 0h9m18 0h19m2 0h33m49 0h1m4 0h14m14 0h13m15 0h13m14 0h16m22 0h18m17 0h12m12 0h12m13 0h9m10 0h11m30 0h51m26 0h34m58 0h23m30 0h29m20 0h15M5 60h6m10 0h6m9 0h6m8 0h6m8 0h7m11 0h11m18 0h14m17 0h12m43 0h41m46 0h13m16 0h11m16 0h11m17 0h16m23 0h15m18 0h11m13 0h10m14 0h8m11 0h11m46 0h38m26 0h13m4 0h22m93 0h29m23 0h15M3 61h6m10 0h6m9 0h5m10 0h5m9 0h5m12 0h9m18 0h13m19 0h10m61 0h38m41 0h10m18 0h10m18 0h9m19 0h15m25 0h13m18 0h9m15 0h9m14 0h7m13 0h11m59 0h28m31 0h1m4 0h34m75 0h25m29 0h13M2 62h4m11 0h5m11 0h4m10 0h5m10 0h4m12 0h7m19 0h4m3 0h3m22 0h3m2 0h4m82 0h30m37 0h8m20 0h8m19 0h8m23 0h12m27 0h10m19 0h7m17 0h7m15 0h6m15 0h12m69 0h17m43 0h7m4 0h24m58 0h18m38 0h11m20 0h1M0 63h4m12 0h4m12 0h3m11 0h3m11 0h3m13 0h5m20 0h7m25 0h7m105 0h20m34 0h6m21 0h6m21 0h6m28 0h9m28 0h8m20 0h5m19 0h6m15 0h4m22 0h10m74 0h9m59 0h28m41 0h12m45 0h8m25 0h3M0 64h1m14 0h2m14 0h1m13 0h2m12 0h2m14 0h2m22 0h3m29 0h3m27 0h8m93 0h6m36 0h3m24 0h3m24 0h3m33 0h5m32 0h2m23 0h1m24 0h2m18 0h2m28 0h8m76 0h4m80 0h11m30 0h6m52 0h5m29 0h3M8 65h2m2 0h3m9 0h2m2 0h2m9 0h2m2 0h2m8 0h2m2 0h2m8 0h3m2 0h3m12 0h4m3 0h5m19 0h5m4 0h4m17 0h4m4 0h4m9 0h6m14 0h6m5 0h14m58 0h9m5 0h5m16 0h4m3 0h4m17 0h4m3 0h4m15 0h5m4 0h5m24 0h6m4 0h6m19 0h5m3 0h4m13 0h3m3 0h4m15 0h3m2 0h3m11 0h3m3 0h3m28 0h17m13 0h16m33 0h6m7 0h12m67 0h8m12 0h9m36 0h10m6 0h6m22 0h5m3 0h4M6 66h1m15 0h1m21 0h1m52 0h1m16 0h1m43 0h1m11 0h2m19 0h2m32 0h3m45 0h2m18 0h1m27 0h1m13 0h1m12 0h1m13 0h1m16 0h1m20 0h1m17 0h1m16 0h1m23 0h1m11 0h1m12 0h1m9 0h1m8 0h1m10 0h1m27 0h3m50 0h1m24 0h1m34 0h2m56 0h1m23 0h1m29 0h1m47 0h1m15 0h1M29 67h1m43 0h1m39 0h1m76 0h1m38 0h1m45 0h1m18 0h1m54 0h1m30 0h1m38 0h1m126 0h1m112 0h1m154 0h1M3 68h1m30 0h1m45 0h1m117 0h1m47 0h2m65 0h1m73 0h1m20 0h1m43 0h1m11 0h1m11 0h1m44 0h1m45 0h1m40 0h1m68 0h1m76 0h1m32 0h1m20 0h1M203 69h1m83 0h1m27 0h1m74 0h1m36 0h1m50 0h1m30 0h1m64 0h1m59 0h1m52 0h1M0 74h1m6 0h1m6 0h2m7 0h1m6 0h2m5 0h2m6 0h1m6 0h1m6 0h1m6 0h2m7 0h2m8 0h3m10 0h4m13 0h3m13 0h3m11 0h3m12 0h10m44 0h11m40 0h7m19 0h2m11 0h3m11 0h3m11 0h3m11 0h2m11 0h3m13 0h4m16 0h5m14 0h4m13 0h3m11 0h3m9 0h2m10 0h2m10 0h3m8 0h2m7 0h2m9 0h2m19 0h7m46 0h7m23 0h3m26 0h8m50 0h8m29 0h4m26 0h5m23 0h3m16 0h3m12 0h2M13 75h1m15 0h1m28 0h1m14 0h1m39 0h1m15 0h1m60 0h1m38 0h3m43 0h1m18 0h1m13 0h1m13 0h1m26 0h1m30 0h1m20 0h1m17 0h1m52 0h1m72 0h2m51 0h1m22 0h1m37 0h1m54 0h1m21 0h1m27 0h2m48 0h1M64 76h1m108 0h1m63 0h1m39 0h1m272 0h1m51 0h1m63 0h1m93 0h1m33 0h1M0 78h1m5 0h2m7 0h1m6 0h2m7 0h1m5 0h1m7 0h1m6 0h1m7 0h1m5 0h1m8 0h2m8 0h2m13 0h2m12 0h3m15 0h2m11 0h2m15 0h5m51 0h9m36 0h6m23 0h2m10 0h2m13 0h3m9 0h3m13 0h2m9 0h2m16 0h4m14 0h4m18 0h3m12 0h2m13 0h2m8 0h2m12 0h2m9 0h2m10 0h1m7 0h1m11 0h2m16 0h6m52 0h6m21 0h2m30 0h7m46 0h7m34 0h3m23 0h5m27 0h2m14 0h3m14 0h2M13 79h1m15 0h1m21 0h1m13 0h1m7 0h1m10 0h1m11 0h1m16 0h1m30 0h1m12 0h1m14 0h1m17 0h1m2 0h1m34 0h2m45 0h2m17 0h1m41 0h1m12 0h1m13 0h1m16 0h1m38 0h1m28 0h1m11 0h1m54 0h1m30 0h2m49 0h1m23 0h1m36 0h2m55 0h1m19 0h1m29 0h1m29 0h1m34 0h1M20 80h1m14 0h1m35 0h1m38 0h1m30 0h1m34 0h1m62 0h1m126 0h1m55 0h1m64 0h1m8 0h1m9 0h1m11 0h1m41 0h1m108 0h1m50 0h1m8 0h1m81 0h1M1 81h1m52 0h1m34 0h1m60 0h1m107 0h1m29 0h1m103 0h1m50 0h1m193 0h1m143 0h1m40 0h1M164 82h1m101 0h1m92 0h1m36 0h1m60 0h1m76 0h1m110 0h1m58 0h1m38 0h1m75 0h1M6 83h1m7 0h1m7 0h1m7 0h1m67 0h1m15 0h1m45 0h1m8 0h1m54 0h3m44 0h1m21 0h1m27 0h1m12 0h1m13 0h1m12 0h1m37 0h1m18 0h1m52 0h1m11 0h1m30 0h1m24 0h2m53 0h1m59 0h2m54 0h2m27 0h1m28 0h1M5 84h7m9 0h7m8 0h6m8 0h7m7 0h7m12 0h10m18 0h14m17 0h12m23 0h11m8 0h42m45 0h13m16 0h12m16 0h11m16 0h16m24 0h15m18 0h10m13 0h11m14 0h8m11 0h11m44 0h41m24 0h40m55 0h6m32 0h30m22 0h15M6 87h1m7 0h1m7 0h1m14 0h1m36 0h1m23 0h1m31 0h1m14 0h1m13 0h1m9 0h1m53 0h3m45 0h2m20 0h1m13 0h1m26 0h1m26 0h1m16 0h1m20 0h1m34 0h1m48 0h1m30 0h1m25 0h2m51 0h2m24 0h1m33 0h2m56 0h1m27 0h1m28 0h1m47 0h1M4 88h1m15 0h1m14 0h1m35 0h1m21 0h1m16 0h1m14 0h1m15 0h1m34 0h1m18 0h1m42 0h2m42 0h1m41 0h1m14 0h1m11 0h1m14 0h1m55 0h1m16 0h1m34 0h1m12 0h1m8 0h1m9 0h1m11 0h1m41 0h1m42 0h1m22 0h1m41 0h2m50 0h1m8 0h1m29 0h1m51 0h1m15 0h1M5 92h1m5 0h1m8 0h1m6 0h1m13 0h1m8 0h1m5 0h1m7 0h1m5 0h1m11 0h2m8 0h2m16 0h2m12 0h2m16 0h1m10 0h2m21 0h12m8 0h2m35 0h7m42 0h3m10 0h2m15 0h1m10 0h2m14 0h2m9 0h2m15 0h2m13 0h2m22 0h2m13 0h2m16 0h2m8 0h2m12 0h1m9 0h2m12 0h2m6 0h1m10 0h2m9 0h1m42 0h6m35 0h3m22 0h3m35 0h5m52 0h9m29 0h3m27 0h2m20 0h2m13 0h2M17 93h1m22 0h1m6 0h1m30 0h1m11 0h1m13 0h1m31 0h1m14 0h1m50 0h2m52 0h2m29 0h1m27 0h1m13 0h1m12 0h1m13 0h1m13 0h1m20 0h1m18 0h1m17 0h1m13 0h1m56 0h1m9 0h1m16 0h1m46 0h2m37 0h1m21 0h1m54 0h2m58 0h1m33 0h1M7 94h1m15 0h1m21 0h1m29 0h1m10 0h1m29 0h1m15 0h1m29 0h1m3 0h2m50 0h2m48 0h1m50 0h1m13 0h1m42 0h1m20 0h1m18 0h1m29 0h1m35 0h1m53 0h1m52 0h2m26 0h1m30 0h1m57 0h2m64 0h1m45 0h1m14 0h1M13 95h1m15 0h1m28 0h1m14 0h1m39 0h1m15 0h1m60 0h1m38 0h3m43 0h1m18 0h1m13 0h1m13 0h1m26 0h1m30 0h1m20 0h1m17 0h1m52 0h1m72 0h2m51 0h1m22 0h1m37 0h1m54 0h1m21 0h1m27 0h2m48 0h1M12 113h2m14 0h2m12 0h2m13 0h2m12 0h3m20 0h4m28 0h4m25 0h4m12 0h6m11 0h8m78 0h8m26 0h4m24 0h3m23 0h5m34 0h5m29 0h4m21 0h3m21 0h4m16 0h3m37 0h17m59 0h7m87 0h7m8 0h8m54 0h6m30 0h4M7 114h1m15 0h1m21 0h1m29 0h1m10 0h1m29 0h1m15 0h1m29 0h1m3 0h2m49 0h3m48 0h2m49 0h1m13 0h1m26 0h1m15 0h1m20 0h1m18 0h1m29 0h1m35 0h1m52 0h2m52 0h2m26 0h1m30 0h1m57 0h2m33 0h1m30 0h1m26 0h1m18 0h1m14 0h1M50 115h1m13 0h1m7 0h1m22 0h1m15 0h1m15 0h1m14 0h1m13 0h1m16 0h1m15 0h1m45 0h3m40 0h1m44 0h1m13 0h1m12 0h1m13 0h1m17 0h1m20 0h1m17 0h1m15 0h1m23 0h1m11 0h1m43 0h1m33 0h3m47 0h1m21 0h1m40 0h2m51 0h1m15 0h1m27 0h1m31 0h1m18 0h1m16 0h1M9 116h1m15 0h1m95 0h1m82 0h1m49 0h2m45 0h1m69 0h1m18 0h1m20 0h1m15 0h1m26 0h1m11 0h1m11 0h1m11 0h1m34 0h1m49 0h2m34 0h1m23 0h2m50 0h2m61 0h1m31 0h1m22 0h1m17 0h1M1 117h1m52 0h1m34 0h1m13 0h1m46 0h1m54 0h1m52 0h1m29 0h1m54 0h1m48 0h1m50 0h1m133 0h1m35 0h1m79 0h1M30 118h1m35 0h1m48 0h1m15 0h1m28 0h1m7 0h1m52 0h2m47 0h2m20 0h1m27 0h1m13 0h1m12 0h1m29 0h1m80 0h1m11 0h1m12 0h1m9 0h1m44 0h2m52 0h1m25 0h1m32 0h1m57 0h2m29 0h1m29 0h1m27 0h1m18 0h1m14 0h1M64 119h1m46 0h1m61 0h1m62 0h1m127 0h1m56 0h1m95 0h1m33 0h1m113 0h1m67 0h1m95 0h1M69 120h1m52 0h1m78 0h1m49 0h2m47 0h1m41 0h1m27 0h1m18 0h1m52 0h1m22 0h1m106 0h1m37 0h1m22 0h1m49 0h2m66 0h1m32 0h1m21 0h1M31 121h1m6 0h1m78 0h1m29 0h1m16 0h1m50 0h2m48 0h2m65 0h1m26 0h1m15 0h1m20 0h1m18 0h1m41 0h1m34 0h1m8 0h1m10 0h1m20 0h2m51 0h2m28 0h1m28 0h2m56 0h2m38 0h1m30 0h2m43 0h1M14 122h1m22 0h1m36 0h1m23 0h1m46 0h1m23 0h1m54 0h1m136 0h1m16 0h1m20 0h1m34 0h1m79 0h1m25 0h1m53 0h1m59 0h1m56 0h1m27 0h1m28 0h1M5 123h1m7 0h1m7 0h1m7 0h1m6 0h1m6 0h1m14 0h1m14 0h1m9 0h1m12 0h1m15 0h1m15 0h2m13 0h1m13 0h1m14 0h2m16 0h1m2 0h1m36 0h6m39 0h3m16 0h2m12 0h2m12 0h2m12 0h1m12 0h2m12 0h1m16 0h3m18 0h2m16 0h2m15 0h1m12 0h1m10 0h1m11 0h2m11 0h1m9 0h1m8 0h1m11 0h1m29 0h5m47 0h3m20 0h2m37 0h4m51 0h2m17 0h2m26 0h3m29 0h2m17 0h2m15 0h1M17 124h1m22 0h1m6 0h1m13 0h1m16 0h1m11 0h1m13 0h1m31 0h1m14 0h1m49 0h3m52 0h2m29 0h1m27 0h1m13 0h1m12 0h1m13 0h1m13 0h1m20 0h1m18 0h1m17 0h1m13 0h1m56 0h1m9 0h1m16 0h1m46 0h2m37 0h1m21 0h1m54 0h2m58 0h1m33 0h2m51 0h1M1 125h1m5 0h1m8 0h2m5 0h1m8 0h1m5 0h1m7 0h1m5 0h1m8 0h1m4 0h1m10 0h1m8 0h1m15 0h2m11 0h3m16 0h2m10 0h2m67 0h8m34 0h6m28 0h2m9 0h2m15 0h2m9 0h2m14 0h2m8 0h2m17 0h3m14 0h3m20 0h3m11 0h2m15 0h1m8 0h2m12 0h2m8 0h2m11 0h2m6 0h1m11 0h2m13 0h4m55 0h5m22 0h2m30 0h5m44 0h6m45 0h3m24 0h4m26 0h2m14 0h2m15 0h1M4 127h1m30 0h1m6 0h1m28 0h1m54 0h1m14 0h1m13 0h1m19 0h2m11 0h1m6 0h1m43 0h3m39 0h1m15 0h1m13 0h1m54 0h1m17 0h1m20 0h1m56 0h1m24 0h1m8 0h1m21 0h1m39 0h2m44 0h1m20 0h1m43 0h3m47 0h2m9 0h1m27 0h1m32 0h1M1 128h1m9 0h2m3 0h2m9 0h1m4 0h2m7 0h2m3 0h2m8 0h1m4 0h1m8 0h2m5 0h2m13 0h3m7 0h4m18 0h3m7 0h3m16 0h3m19 0h14m6 0h3m55 0h10m17 0h5m16 0h3m7 0h2m16 0h2m7 0h3m14 0h3m7 0h4m21 0h5m9 0h4m19 0h4m7 0h3m13 0h2m6 0h2m14 0h3m5 0h3m10 0h2m4 0h3m17 0h5m28 0h9m44 0h3m12 0h4m55 0h10m25 0h10m18 0h3m37 0h3m13 0h2m20 0h2m8 0h1M31 130h1m85 0h1m29 0h1m67 0h1m116 0h1m42 0h1m125 0h1m10 0h1m20 0h1m53 0h1m28 0h1m86 0h1m70 0h1M13 131h1m15 0h1m21 0h1m13 0h1m7 0h1m10 0h1m11 0h1m16 0h1m30 0h1m12 0h1m14 0h1m17 0h1m2 0h1m34 0h3m44 0h2m17 0h1m13 0h1m13 0h1m13 0h1m12 0h1m13 0h1m16 0h1m20 0h1m17 0h1m16 0h1m11 0h1m11 0h1m11 0h1m42 0h1m30 0h2m49 0h1m23 0h1m36 0h2m55 0h1m19 0h1m29 0h1m29 0h1m18 0h1m15 0h1M3 132h1m7 0h1m15 0h1m6 0h1m21 0h1m23 0h1m58 0h1m37 0h11m8 0h1m48 0h3m35 0h1m28 0h1m13 0h1m26 0h1m13 0h1m19 0h1m64 0h1m10 0h1m12 0h1m20 0h1m23 0h1m41 0h2m42 0h1m19 0h2m47 0h2m44 0h5m27 0h1m34 0h1m18 0h1m17 0h1M9 133h1m15 0h1m95 0h1m82 0h1m49 0h2m45 0h1m69 0h1m18 0h1m20 0h1m15 0h1m26 0h1m11 0h1m11 0h1m11 0h1m34 0h1m49 0h2m34 0h1m23 0h2m50 0h2m61 0h1m31 0h1m22 0h1m17 0h1M15 134h1m22 0h1m6 0h1m54 0h1m16 0h1m14 0h1m14 0h1m15 0h4m48 0h2m49 0h2m23 0h1m13 0h1m40 0h1m12 0h1m15 0h1m20 0h1m18 0h1m16 0h1m24 0h1m11 0h1m22 0h1m19 0h1m21 0h2m51 0h2m56 0h2m57 0h2m68 0h1m25 0h1M11 135h1m15 0h1m21 0h1m6 0h1m6 0h1m76 0h1m13 0h1m22 0h1m9 0h1m55 0h1m68 0h1m93 0h1m56 0h1m98 0h1m43 0h1m20 0h1m45 0h1m48 0h1m4 0h1m28 0h1M139 136h1m38 0h9m59 0h1m79 0h1m26 0h1m143 0h1m66 0h1m42 0h1m20 0h1m197 0h1M8 137h1m15 0h1m7 0h1m44 0h1m24 0h1m108 0h2m47 0h2m41 0h1m13 0h1m39 0h1m16 0h1m18 0h1m19 0h1m66 0h1m19 0h1m10 0h1m17 0h1m52 0h2m30 0h1m26 0h2m53 0h2m48 0h1m30 0h2m56 0h1M75 138h1m9 0h1m13 0h1m15 0h1m45 0h2m4 0h1m53 0h3m44 0h2m50 0h1m12 0h1m13 0h1m12 0h1m36 0h1m19 0h1m29 0h1m22 0h1m11 0h1m10 0h1m42 0h2m54 0h1m58 0h1m55 0h2m32 0h1m28 0h1m28 0h1m17 0h1M4 139h1m15 0h1m14 0h1m21 0h1m14 0h1m22 0h1m14 0h1m16 0h1m13 0h1m14 0h1m17 0h1m14 0h1m4 0h1m43 0h3m37 0h2m30 0h1m13 0h1m12 0h1m13 0h1m32 0h1m18 0h1m18 0h1m14 0h1m23 0h1m12 0h1m21 0h1m21 0h1m33 0h3m48 0h1m19 0h1m44 0h1m48 0h1m14 0h1m26 0h1m33 0h1m17 0h1M2 140h1m15 0h1m43 0h1m16 0h1m11 0h1m31 0h1m13 0h1m60 0h2m51 0h2m32 0h1m14 0h1m40 0h1m47 0h1m18 0h1m32 0h1m11 0h1m10 0h1m33 0h1m24 0h1m44 0h2m40 0h1m19 0h2m50 0h3m66 0h1m34 0h1m19 0h1m18 0h1M68 141h1m8 0h1m24 0h1m17 0h1m85 0h3m51 0h2m26 0h1m14 0h1m12 0h1m40 0h1m14 0h1m20 0h1m18 0h1m67 0h1m19 0h1m9 0h1m18 0h1m48 0h2m34 0h1m23 0h1m57 0h2m48 0h1m33 0h1m54 0h1M7 142h1m15 0h1m21 0h1m29 0h1m10 0h1m12 0h1m16 0h1m15 0h1m28 0h2m3 0h2m49 0h3m48 0h2m21 0h1m27 0h1m13 0h1m12 0h1m13 0h1m15 0h1m20 0h1m17 0h2m16 0h1m12 0h1m22 0h1m12 0h1m53 0h2m50 0h2m27 0h1m29 0h2m57 0h3m32 0h1m30 0h2m25 0h1m18 0h1m14 0h1M13 143h1m15 0h1m35 0h1m7 0h1m10 0h1m11 0h1m16 0h1m43 0h1m14 0h1m17 0h1m37 0h3m44 0h2m17 0h1m13 0h1m13 0h1m13 0h1m12 0h1m13 0h1m16 0h1m20 0h1m17 0h1m40 0h1m11 0h1m42 0h1m30 0h2m49 0h1m23 0h1m36 0h2m55 0h1m49 0h1m29 0h1m18 0h1m15 0h1M107 144h1m71 0h8m60 0h1m177 0h1m251 0h1m130 0h1M69 145h1m52 0h1m78 0h1m52 0h1m31 0h1m178 0h1m12 0h1m46 0h1m46 0h1m38 0h1m21 0h1m52 0h1m63 0h1M45 146h1m86 0h1m33 0h1m48 0h1m159 0h1m116 0h1m42 0h1m51 0h1m117 0h1m68 0h1M44 147h1m6 0h1m13 0h1m8 0h1m9 0h1m45 0h1m13 0h1m14 0h1m10 0h1m56 0h2m43 0h1m34 0h1m71 0h1m54 0h1m13 0h1m10 0h1m34 0h1m20 0h1m25 0h2m53 0h1m59 0h2m54 0h1m25 0h1m27 0h1m30 0h1m17 0h1M5 148h6m10 0h6m9 0h6m9 0h5m9 0h6m12 0h10m50 0h11m43 0h37m50 0h12m17 0h10m17 0h10m18 0h14m25 0h14m19 0h10m14 0h9m15 0h8m11 0h10m47 0h37m27 0h35m60 0h3m36 0h27m24 0h14M4 149h5m10 0h6m10 0h5m9 0h5m9 0h6m12 0h8m51 0h10m56 0h39m43 0h11m17 0h10m18 0h9m19 0h15m25 0h13m19 0h8m15 0h9m15 0h6m13 0h11m57 0h29m30 0h39m79 0h27m27 0h14M1 150h7m9 0h7m8 0h7m8 0h7m7 0h7m9 0h11m14 0h1m32 0h14m63 0h50m28 0h14m14 0h13m14 0h13m16 0h20m20 0h17m14 0h11m12 0h13m11 0h9m11 0h19m53 0h31m27 0h57m47 0h31m26 0h18m14 0h2M0 151h6m9 0h7m9 0h6m8 0h7m7 0h7m9 0h10m14 0h4m28 0h14m16 0h8m57 0h45m23 0h13m14 0h13m15 0h12m18 0h20m20 0h15m14 0h11m13 0h11m11 0h9m12 0h24m57 0h23m37 0h54m30 0h27m32 0h17m17 0h4M3 152h1m7 0h1m6 0h1m8 0h1m6 0h1m7 0h1m5 0h1m7 0h1m5 0h1m8 0h1m7 0h2m12 0h1m32 0h1m11 0h1m15 0h2m13 0h2m24 0h2m50 0h5m29 0h2m16 0h2m10 0h2m14 0h1m11 0h1m14 0h1m11 0h2m19 0h2m16 0h2m18 0h2m12 0h1m12 0h2m8 0h2m12 0h2m9 0h1m10 0h1m7 0h1m14 0h3m34 0h6m44 0h2m16 0h2m49 0h5m38 0h3m3 0h4m23 0h2m34 0h2m16 0h2m18 0h1M9 153h1m7 0h1m7 0h1m21 0h1m6 0h1m6 0h1m6 0h1m20 0h1m32 0h1m13 0h1m13 0h1m54 0h2m49 0h2m30 0h1m27 0h1m12 0h1m13 0h1m12 0h1m34 0h1m19 0h1m16 0h1m14 0h1m22 0h1m12 0h1m19 0h1m26 0h2m49 0h1m34 0h1m23 0h2m52 0h2m56 0h1m32 0h1m22 0h1m17 0h1m13 0h1M11 154h1m15 0h1m13 0h1m14 0h1m13 0h2m20 0h2m59 0h2m40 0h4m82 0h5m26 0h2m25 0h2m25 0h3m37 0h3m30 0h2m22 0h2m22 0h2m17 0h2m51 0h10m57 0h5m89 0h10m57 0h4m34 0h3M5 156h5m11 0h5m10 0h4m10 0h5m9 0h5m13 0h8m52 0h9m52 0h36m48 0h10m18 0h10m18 0h9m19 0h13m27 0h11m21 0h8m15 0h8m16 0h6m13 0h9m56 0h29m32 0h33m92 0h24m28 0h12M77 157h1m43 0h1m28 0h1m109 0h1m96 0h1m13 0h1m21 0h1m135 0h1m45 0h1m59 0h1m60 0h1M45 158h1m70 0h1m15 0h1m13 0h1m72 0h1m196 0h1m200 0h1m154 0h1M97 159h1m46 0h1m46 0h1m35 0h1m46 0h1m87 0h1m72 0h1m48 0h1m9 0h1m49 0h1m111 0h1m139 0h1m18 0h1M4 160h1m15 0h1m14 0h1m6 0h1m28 0h1m21 0h1m16 0h1m30 0h1m34 0h1m11 0h1m6 0h1m43 0h2m40 0h1m29 0h1m12 0h1m14 0h1m11 0h1m14 0h1m17 0h1m20 0h1m16 0h1m16 0h1m34 0h1m12 0h1m8 0h1m9 0h1m11 0h1m39 0h3m43 0h1m20 0h1m43 0h2m49 0h1m8 0h2m27 0h1m32 0h1M393 161h11m24 0h11m15 0h9m15 0h10m11 0h8m16 0h43m43 0h20m51 0h73m35 0h20m18 0h11M396 162h11m24 0h10m15 0h9m15 0h9m11 0h9m18 0h47m38 0h23m55 0h59m35 0h21m19 0h13M399 163h11m23 0h10m15 0h9m15 0h9m10 0h10m21 0h50m33 0h26m58 0h47m33 0h23m19 0h14M367 164h3m32 0h11m22 0h10m14 0h10m15 0h8m11 0h9m26 0h51m29 0h30m60 0h34m31 0h27m19 0h14M368 165h5m32 0h11m21 0h10m14 0h9m15 0h9m10 0h10m31 0h51m24 0h36m58 0h23m30 0h30m19 0h15M370 166h7m30 0h11m21 0h10m14 0h9m15 0h8m11 0h10m38 0h47m22 0h42m53 0h15m29 0h32m19 0h16M373 167h7m30 0h11m21 0h8m14 0h10m15 0h7m11 0h12m43 0h44m21 0h46m49 0h6m29 0h33m20 0h17M375 168h8m30 0h11m19 0h9m14 0h10m14 0h8m11 0h13m48 0h40m22 0h50m71 0h33m21 0h18M378 169h9m28 0h11m19 0h9m14 0h10m14 0h7m12 0h15m52 0h35m25 0h54m57 0h32m24 0h18m13 0h1M380 170h10m28 0h11m18 0h8m15 0h10m13 0h7m13 0h18m55 0h30m28 0h57m44 0h31m26 0h18m15 0h2M0 171h1m6 0h2m6 0h2m6 0h2m6 0h1m6 0h1m7 0h1m5 0h2m6 0h1m6 0h1m8 0h1m9 0h2m12 0h3m13 0h3m14 0h2m11 0h3m31 0h9m5 0h2m20 0h6m27 0h5m20 0h4m14 0h2m11 0h2m12 0h3m10 0h3m12 0h2m11 0h2m14 0h3m18 0h3m15 0h3m15 0h2m11 0h2m10 0h2m9 0h2m12 0h2m7 0h2m9 0h1m8 0h2m26 0h7m37 0h5m31 0h2m20 0h5m66 0h3m19 0h3m36 0h4m17 0h2m22 0h2m9 0h2M5 172h1m7 0h1m7 0h1m7 0h1m6 0h1m6 0h2m5 0h1m7 0h1m5 0h1m8 0h1m8 0h2m12 0h2m13 0h3m14 0h2m12 0h2m13 0h5m3 0h4m28 0h4m22 0h6m25 0h5m18 0h4m13 0h2m11 0h2m13 0h2m11 0h2m12 0h2m11 0h2m15 0h3m18 0h3m15 0h3m14 0h3m10 0h1m11 0h2m9 0h2m12 0h1m8 0h1m9 0h1m9 0h2m33 0h8m34 0h4m28 0h2m24 0h6m62 0h2m12 0h3m34 0h4m20 0h2m22 0h2m10 0h2M389 173h11m25 0h11m16 0h9m15 0h10m11 0h8m14 0h35m50 0h20m45 0h49m14 0h27m34 0h19m17 0h8M392 174h11m25 0h10m16 0h8m16 0h9m11 0h8m16 0h42m44 0h20m49 0h46m4 0h28m34 0h20m18 0h10M395 175h11m24 0h10m15 0h9m15 0h10m11 0h8m18 0h46m39 0h22m53 0h65m34 0h21m19 0h12M398 176h11m23 0h10m15 0h9m15 0h9m11 0h9m20 0h50m34 0h25m57 0h51m33 0h23m19 0h14M367 177h2m32 0h11m22 0h10m15 0h9m15 0h9m10 0h10m24 0h51m30 0h29m59 0h38m32 0h26m18 0h15M368 178h4m32 0h11m22 0h9m14 0h10m15 0h8m11 0h10m28 0h52m26 0h33m59 0h27m30 0h29m19 0h15M370 179h5m31 0h11m22 0h9m14 0h10m14 0h9m10 0h11m35 0h49m22 0h40m54 0h19m29 0h31m19 0h16M42 180h1m38 0h1m12 0h1m14 0h1m16 0h1m28 0h1m19 0h1m12 0h1m52 0h2m37 0h2m15 0h1m13 0h1m13 0h1m12 0h1m13 0h1m32 0h1m19 0h1m17 0h1m14 0h1m12 0h1m10 0h1m56 0h1m37 0h2m46 0h1m19 0h1m44 0h2m47 0h1m10 0h1m26 0h1m33 0h1m18 0h1M4 181h4m11 0h5m11 0h4m10 0h4m10 0h4m14 0h7m20 0h10m22 0h8m66 0h32m45 0h8m19 0h8m20 0h7m22 0h12m28 0h10m21 0h6m17 0h7m16 0h5m15 0h9m65 0h21m37 0h32m79 0h21m33 0h11M31 182h1m85 0h1m97 0h1m116 0h1m42 0h1m125 0h1m10 0h1m20 0h1m82 0h1m28 0h1m97 0h1m75 0h1M29 183h1m28 0h1m14 0h1m55 0h1m100 0h1m44 0h1m32 0h1m13 0h1m26 0h1m51 0h1m70 0h1m72 0h1m52 0h1m60 0h1m54 0h1m21 0h1m27 0h1m49 0h1M109 184h1m16 0h1m28 0h1m19 0h1m65 0h2m54 0h1m125 0h1m14 0h1m12 0h1m10 0h1m94 0h1m113 0h1m47 0h1m37 0h1m52 0h1M1 185h1m9 0h2m3 0h2m9 0h2m3 0h1m9 0h1m3 0h2m8 0h2m3 0h1m9 0h1m5 0h2m14 0h2m7 0h3m19 0h3m7 0h3m17 0h2m18 0h15m6 0h2m58 0h8m16 0h5m17 0h3m6 0h3m16 0h3m6 0h3m15 0h2m7 0h3m23 0h4m9 0h4m20 0h3m7 0h2m14 0h2m6 0h2m15 0h2m5 0h2m11 0h2m4 0h2m18 0h6m26 0h9m45 0h3m12 0h3m57 0h9m25 0h10m17 0h4m37 0h3m13 0h2m20 0h2m8 0h1"/>
<path stroke="#000096" d="M19 8h1m88 0h1m89 0h1m99 0h1m14 0h1m72 0h1m21 0h1m15 0h1m39 0h1m55 0h1m46 0h1m62 0h1m44 0h1m79 0h1m31 0h1M1 9h1m37 0h1m63 0h1m31 0h1m13 0h1m59 0h1m49 0h1m29 0h1m54 0h1m28 0h1m55 0h1m14 0h1m10 0h1m35 0h1m89 0h1m31 0h1m26 0h1m180 0h1M6 10h1m15 0h1m202 0h1m45 0h1m21 0h1m40 0h1m13 0h1m122 0h1m11 0h1m55 0h1m170 0h1M58 11h1m70 0h1m100 0h1m77 0h1m13 0h1m26 0h1m51 0h1m70 0h1m72 0h1m52 0h1m115 0h1m21 0h1m27 0h1M3 12h1m8 0h1m21 0h1m45 0h1m13 0h1m12 0h1m18 0h1m12 0h1m15 0h1m90 0h2m32 0h1m45 0h1m11 0h1m14 0h1m11 0h1m21 0h1m16 0h1m33 0h1m13 0h1m23 0h1m9 0h1m10 0h1m7 0h1m15 0h1m34 0h2m49 0h1m67 0h2m42 0h1m10 0h2m23 0h1m72 0h1M0 21h2m7 0h1m6 0h1m8 0h1m6 0h1m6 0h2m5 0h1m7 0h1m5 0h2m6 0h1m7 0h2m10 0h3m10 0h3m15 0h3m11 0h3m13 0h3m50 0h9m47 0h8m21 0h3m12 0h3m10 0h3m12 0h2m11 0h2m12 0h2m12 0h3m18 0h4m14 0h4m15 0h3m11 0h2m10 0h2m9 0h2m11 0h3m8 0h2m8 0h1m8 0h2m16 0h6m42 0h7m31 0h3m19 0h6m52 0h8m44 0h3m31 0h4m19 0h2m17 0h2m12 0h1M8 22h1m6 0h1m8 0h1m6 0h1m56 0h1m11 0h1m18 0h1m43 0h3m44 0h2m54 0h2m21 0h1m15 0h1m11 0h1m14 0h1m26 0h1m13 0h1m22 0h1m16 0h1m18 0h1m11 0h1m12 0h1m33 0h1m9 0h1m9 0h1m21 0h2m47 0h2m32 0h1m24 0h2m60 0h2m38 0h1m33 0h2M13 23h1m15 0h1m28 0h1m14 0h1m11 0h1m29 0h1m13 0h1m15 0h1m26 0h1m17 0h1m31 0h2m51 0h1m32 0h1m11 0h1m15 0h1m26 0h1m14 0h1m22 0h1m15 0h1m29 0h1m12 0h1m84 0h2m46 0h1m58 0h2m60 0h1m21 0h1m31 0h2m46 0h1M0 26h8m8 0h8m8 0h7m7 0h7m7 0h7m9 0h11m14 0h17m15 0h15m67 0h50m26 0h14m14 0h13m14 0h13m16 0h21m19 0h17m14 0h11m12 0h13m10 0h9m11 0h21m53 0h30m29 0h58m41 0h32m25 0h19m14 0h3M0 29h2m7 0h2m5 0h2m7 0h2m5 0h2m6 0h2m4 0h2m6 0h2m4 0h2m7 0h2m5 0h3m11 0h3m8 0h5m15 0h4m9 0h3m13 0h4m24 0h9m10 0h9m47 0h12m18 0h5m13 0h4m8 0h3m13 0h3m8 0h4m11 0h4m9 0h4m18 0h6m11 0h5m15 0h4m9 0h4m10 0h3m7 0h3m11 0h3m7 0h3m8 0h2m6 0h3m15 0h8m31 0h14m33 0h5m12 0h9m49 0h16m21 0h3m18 0h7m31 0h7m12 0h5m17 0h4m7 0h3M0 30h1m15 0h1m14 0h1m7 0h1m6 0h1m7 0h1m5 0h1m7 0h1m7 0h1m11 0h2m11 0h1m17 0h2m12 0h2m14 0h2m54 0h6m51 0h4m22 0h2m14 0h1m11 0h1m14 0h2m10 0h2m13 0h1m13 0h2m20 0h2m15 0h2m17 0h2m11 0h2m11 0h1m10 0h1m13 0h1m9 0h1m9 0h1m8 0h1m19 0h4m44 0h4m33 0h1m22 0h3m57 0h5m41 0h2m33 0h2m20 0h2m18 0h1m12 0h1M5 35h2m6 0h2m6 0h1m7 0h2m5 0h1m6 0h2m5 0h2m6 0h1m5 0h2m7 0h2m8 0h2m11 0h3m12 0h4m13 0h3m11 0h3m12 0h4m8 0h5m16 0h4m31 0h13m33 0h7m16 0h2m11 0h3m11 0h3m10 0h3m11 0h3m10 0h3m15 0h4m16 0h4m15 0h4m12 0h3m11 0h2m9 0h2m10 0h3m9 0h3m8 0h2m7 0h2m10 0h3m21 0h12m44 0h8m16 0h4m32 0h12m43 0h7m17 0h6m20 0h8m26 0h4m14 0h4m14 0h2M0 42h1m6 0h1m8 0h1m6 0h1m7 0h1m6 0h1m7 0h1m5 0h1m7 0h1m6 0h1m8 0h1m9 0h2m13 0h2m13 0h2m15 0h2m11 0h2m65 0h8m40 0h5m24 0h2m11 0h2m13 0h2m11 0h2m12 0h2m11 0h1m16 0h2m16 0h3m18 0h3m13 0h2m13 0h2m9 0h1m12 0h1m10 0h2m10 0h1m7 0h2m10 0h2m15 0h5m51 0h5m25 0h2m27 0h5m49 0h6m40 0h2m26 0h4m25 0h2m15 0h2m14 0h1M44 43h1m29 0h1m38 0h1m16 0h1m28 0h1m10 0h1m58 0h3m40 0h1m21 0h1m12 0h1m14 0h1m26 0h1m30 0h1m38 0h1m14 0h1m37 0h1m68 0h2m54 0h1m60 0h2m52 0h1m25 0h1m26 0h1m31 0h1m16 0h1M0 53h2m6 0h3m4 0h3m6 0h3m4 0h2m6 0h2m4 0h2m7 0h2m4 0h2m6 0h2m6 0h2m10 0h3m9 0h4m15 0h4m9 0h4m13 0h4m9 0h5m33 0h13m44 0h11m18 0h4m12 0h4m8 0h4m12 0h3m9 0h3m11 0h4m9 0h5m18 0h5m12 0h5m14 0h5m9 0h3m10 0h3m7 0h3m11 0h3m7 0h3m8 0h2m6 0h4m15 0h9m34 0h14m28 0h6m14 0h11m47 0h17m35 0h7m28 0h9m14 0h5m15 0h5m8 0h4M7 54h1m7 0h1m7 0h1m6 0h1m7 0h1m6 0h1m6 0h1m6 0h1m15 0h1m10 0h1m12 0h2m15 0h2m13 0h2m13 0h2m12 0h4m2 0h3m46 0h6m46 0h4m20 0h1m13 0h2m12 0h1m13 0h1m12 0h1m13 0h1m14 0h2m20 0h2m16 0h2m15 0h2m12 0h1m11 0h1m10 0h1m12 0h1m9 0h1m9 0h1m9 0h2m21 0h4m48 0h4m26 0h2m27 0h4m56 0h4m30 0h3m29 0h3m24 0h1m18 0h1m14 0h1M52 55h1m5 0h1m7 0h1m30 0h1m18 0h1m12 0h1m16 0h1m11 0h1m12 0h1m19 0h2m26 0h2m53 0h2m16 0h1m15 0h1m53 0h1m14 0h1m23 0h1m14 0h1m18 0h1m48 0h1m8 0h1m19 0h1m29 0h3m45 0h1m28 0h1m29 0h2m61 0h1m23 0h1m32 0h2m24 0h1m20 0h1m13 0h1M107 56h1m15 0h1m123 0h1m37 0h1m55 0h1m83 0h1m142 0h1m39 0h1m69 0h1M2 57h1m7 0h2m6 0h1m7 0h2m5 0h1m7 0h1m5 0h2m6 0h1m6 0h1m6 0h2m7 0h2m11 0h2m11 0h3m15 0h3m11 0h3m13 0h2m24 0h10m8 0h6m46 0h9m26 0h4m12 0h3m10 0h3m12 0h3m10 0h2m12 0h2m11 0h3m18 0h4m15 0h3m16 0h3m11 0h2m11 0h2m8 0h3m11 0h2m9 0h2m8 0h2m7 0h2m13 0h5m37 0h8m37 0h3m16 0h5m47 0h9m61 0h3m32 0h4m16 0h3m16 0h3M0 65h1m5 0h2m7 0h1m6 0h2m6 0h2m5 0h2m6 0h1m6 0h1m6 0h2m5 0h1m8 0h2m8 0h2m12 0h3m12 0h4m13 0h3m11 0h3m12 0h9m45 0h12m37 0h9m19 0h3m10 0h3m11 0h3m11 0h3m11 0h3m9 0h3m14 0h4m16 0h4m16 0h4m12 0h3m12 0h2m8 0h3m10 0h3m9 0h3m8 0h2m7 0h2m9 0h3m16 0h9m46 0h9m20 0h4m25 0h12m44 0h11m29 0h6m22 0h8m22 0h4m14 0h4m12 0h3M14 66h1m15 0h1m20 0h1m13 0h1m8 0h1m9 0h1m13 0h1m14 0h1m16 0h1m13 0h1m14 0h2m8 0h1m58 0h3m40 0h2m21 0h1m12 0h1m14 0h1m11 0h1m14 0h1m11 0h1m18 0h1m18 0h1m19 0h1m14 0h1m13 0h1m23 0h1m10 0h1m31 0h1m24 0h2m54 0h2m21 0h1m37 0h2m52 0h2m25 0h2m25 0h2m30 0h1M58 67h1m70 0h1m100 0h1m77 0h1m13 0h1m78 0h1m70 0h1m72 0h1m52 0h1m61 0h1m53 0h1m21 0h1m27 0h1M41 68h1m28 0h1m36 0h1m45 0h1m94 0h1m35 0h1m14 0h1m68 0h1m56 0h1m140 0h1m62 0h1m48 0h1M40 69h1m49 0h1m60 0h1m50 0h1m51 0h1m155 0h1m114 0h1m47 0h1m231 0h1M1 74h2m1 0h3m9 0h2m2 0h3m9 0h2m1 0h2m9 0h2m2 0h2m8 0h2m2 0h2m11 0h2m3 0h3m17 0h4m4 0h5m19 0h4m3 0h4m80 0h16m11 0h13m28 0h4m3 0h4m17 0h4m3 0h4m16 0h4m3 0h4m20 0h6m4 0h6m23 0h5m4 0h4m17 0h3m3 0h3m14 0h4m3 0h3m13 0h3m2 0h2m13 0h5m5 0h9m60 0h7m13 0h3m37 0h10m29 0h11m41 0h4m15 0h7m31 0h3m10 0h3m17 0h2M5 75h1m15 0h1m14 0h1m46 0h1m13 0h1m14 0h1m30 0h1m14 0h1m12 0h1m19 0h2m39 0h2m39 0h2m20 0h1m39 0h1m26 0h1m18 0h1m18 0h1m19 0h1m14 0h1m13 0h1m9 0h1m24 0h1m10 0h1m7 0h1m12 0h1m26 0h2m54 0h1m20 0h1m39 0h2m51 0h1m23 0h1m25 0h1m32 0h1M43 76h1m38 0h1m45 0h1m109 0h1m57 0h1m12 0h1m14 0h1m26 0h1m31 0h1m18 0h1m47 0h1m34 0h1m18 0h1m44 0h1m72 0h1m44 0h1m48 0h1m17 0h1M8 78h1m5 0h1m9 0h1m5 0h1m7 0h2m4 0h1m8 0h1m5 0h1m7 0h1m6 0h1m12 0h2m8 0h3m17 0h3m10 0h2m15 0h3m8 0h4m5 0h5m19 0h2m16 0h9m51 0h6m14 0h3m14 0h2m9 0h2m15 0h2m8 0h3m13 0h3m10 0h3m22 0h3m12 0h3m17 0h3m8 0h2m12 0h2m8 0h2m13 0h2m6 0h2m9 0h2m7 0h2m24 0h7m39 0h6m29 0h2m22 0h6m60 0h5m25 0h4m31 0h5m19 0h3m19 0h2m11 0h1M6 79h1m36 0h1m70 0h1m13 0h1m44 0h1m51 0h3m49 0h1m31 0h1m11 0h1m26 0h1m30 0h1m22 0h1m15 0h1m17 0h1m34 0h1m13 0h1m8 0h1m9 0h1m43 0h2m46 0h1m59 0h2m108 0h1m48 0h1M82 80h1m10 0h1m31 0h1m112 0h1m43 0h1m13 0h1m27 0h1m14 0h1m11 0h1m31 0h1m22 0h1m32 0h1m10 0h1m23 0h1m86 0h1m41 0h1m22 0h1m41 0h1m52 0h1m6 0h1m30 0h1m30 0h1m36 0h1M61 81h1m6 0h1m51 0h1m85 0h1m95 0h1m13 0h1m55 0h1m106 0h1m47 0h1m50 0h1m113 0h1m55 0h1m55 0h1M31 82h1m183 0h1m116 0h1m42 0h1m116 0h1m8 0h1m10 0h1m20 0h1m53 0h1m28 0h1m86 0h1m70 0h1M51 83h1m7 0h1m5 0h1m18 0h1m14 0h1m31 0h1m12 0h1m16 0h1m5 0h2m58 0h2m40 0h2m35 0h1m53 0h1m18 0h1m18 0h1m34 0h1m14 0h1m9 0h1m35 0h1m7 0h1m12 0h1m21 0h2m56 0h2m21 0h1m37 0h1m52 0h1m30 0h1m25 0h2m30 0h1m16 0h1m16 0h1M0 85h2m9 0h7m9 0h6m8 0h7m8 0h6m8 0h8m14 0h13m19 0h13m16 0h46m57 0h29m17 0h12m15 0h12m15 0h13m22 0h18m19 0h13m14 0h10m14 0h10m10 0h9m18 0h42m44 0h19m58 0h61m37 0h18m21 0h11M9 86h7m9 0h7m7 0h7m8 0h6m8 0h8m12 0h13m18 0h14m16 0h62m54 0h25m15 0h12m15 0h13m14 0h15m22 0h17m19 0h13m12 0h11m14 0h10m9 0h10m22 0h49m34 0h25m62 0h41m35 0h22m20 0h13M44 87h1m21 0h1m18 0h1m11 0h1m17 0h1m42 0h1m11 0h1m20 0h1m29 0h2m50 0h1m18 0h1m27 0h1m14 0h1m11 0h1m14 0h1m14 0h1m22 0h1m16 0h1m29 0h1m11 0h1m10 0h1m22 0h1m9 0h1m38 0h2m48 0h1m58 0h2m59 0h1m25 0h1m30 0h2m26 0h1m33 0h1M11 88h1m15 0h1m28 0h1m7 0h1m17 0h1m28 0h1m42 0h1m22 0h2m8 0h1m8 0h1m39 0h2m45 0h1m12 0h1m15 0h1m54 0h1m15 0h1m22 0h1m14 0h1m28 0h1m12 0h1m53 0h1m43 0h2m39 0h1m64 0h1m53 0h1m5 0h2m31 0h1m29 0h1M0 89h1m9 0h7m9 0h7m8 0h6m9 0h5m9 0h8m13 0h12m20 0h12m18 0h47m60 0h26m17 0h11m17 0h11m15 0h12m24 0h16m21 0h12m14 0h9m15 0h9m11 0h8m21 0h41m44 0h18m63 0h52m39 0h18m21 0h11M9 90h6m10 0h5m9 0h6m9 0h5m9 0h7m14 0h10m21 0h11m18 0h11m9 0h41m62 0h18m17 0h10m18 0h10m16 0h13m25 0h14m21 0h11m14 0h9m16 0h8m11 0h8m29 0h42m37 0h22m70 0h28m40 0h19m23 0h11M4 92h1m7 0h1m15 0h1m6 0h1m6 0h1m6 0h1m7 0h1m5 0h1m7 0h1m9 0h1m12 0h1m13 0h2m16 0h2m12 0h2m13 0h1m18 0h2m12 0h1m5 0h2m44 0h5m34 0h3m15 0h2m11 0h2m13 0h1m12 0h1m13 0h1m12 0h2m17 0h3m17 0h2m17 0h2m13 0h1m12 0h1m10 0h1m12 0h1m10 0h1m9 0h1m8 0h1m12 0h3m33 0h6m44 0h3m17 0h2m43 0h5m44 0h3m9 0h2m24 0h3m32 0h2m17 0h1m17 0h1M1 93h1m59 0h1m7 0h1m33 0h1m18 0h1m12 0h1m64 0h2m56 0h2m26 0h1m15 0h1m11 0h1m77 0h1m16 0h1m45 0h1m9 0h1m13 0h1m9 0h1m37 0h1m43 0h2m60 0h1m57 0h2m55 0h1m35 0h1m19 0h1m19 0h1m11 0h1M38 94h1m20 0h1m39 0h1m17 0h1m13 0h1m15 0h1m13 0h1m6 0h1m47 0h2m51 0h2m20 0h1m14 0h1m39 0h1m13 0h1m37 0h1m16 0h1m17 0h1m24 0h1m10 0h1m32 0h1m9 0h1m24 0h1m50 0h1m58 0h1m60 0h1m32 0h1m31 0h1m25 0h1M43 95h1m7 0h1m13 0h1m18 0h1m11 0h1m31 0h1m15 0h1m12 0h1m14 0h1m20 0h1m32 0h3m47 0h1m32 0h1m11 0h1m14 0h1m26 0h1m15 0h1m22 0h1m33 0h1m11 0h1m11 0h1m24 0h1m8 0h1m9 0h1m10 0h1m31 0h3m46 0h2m59 0h2m56 0h1m19 0h1m30 0h1m28 0h1m19 0h1m14 0h1M13 97h3m13 0h2m13 0h2m12 0h2m13 0h3m20 0h5m28 0h4m24 0h16m17 0h4m73 0h10m28 0h4m24 0h4m23 0h4m33 0h5m30 0h5m20 0h4m21 0h3m17 0h2m30 0h15m68 0h5m83 0h11m19 0h8m52 0h6m29 0h4M0 111h5m9 0h7m9 0h6m9 0h6m8 0h6m9 0h9m15 0h14m19 0h12m16 0h11m65 0h38m23 0h12m16 0h11m16 0h11m20 0h18m21 0h14m15 0h9m15 0h10m12 0h7m14 0h25m59 0h19m44 0h48m27 0h23m36 0h15m19 0h5M0 112h3m9 0h7m9 0h6m8 0h6m9 0h6m9 0h8m14 0h13m19 0h12m17 0h21m12 0h8m54 0h32m18 0h12m16 0h11m15 0h12m23 0h17m20 0h13m14 0h10m14 0h10m11 0h8m17 0h37m50 0h16m55 0h39m10 0h23m38 0h16m21 0h9M0 113h2m7 0h3m2 0h3m8 0h3m2 0h3m6 0h3m2 0h3m7 0h3m2 0h2m7 0h3m3 0h4m10 0h6m4 0h6m15 0h7m4 0h6m13 0h6m4 0h12m6 0h11m8 0h14m49 0h15m8 0h8m13 0h5m4 0h5m13 0h6m3 0h6m12 0h5m5 0h7m19 0h8m5 0h7m16 0h6m4 0h6m10 0h5m3 0h5m12 0h4m4 0h4m8 0h4m3 0h4m17 0h16m17 0h21m31 0h7m7 0h14m52 0h21m7 0h8m8 0h11m31 0h12m6 0h7m17 0h6m4 0h5M15 114h1m15 0h1m20 0h1m13 0h1m33 0h1m14 0h1m30 0h1m16 0h3m54 0h3m43 0h2m24 0h1m12 0h1m14 0h1m11 0h1m14 0h1m11 0h1m17 0h1m18 0h1m35 0h1m24 0h1m12 0h1m22 0h1m7 0h1m11 0h1m20 0h1m56 0h1m57 0h2m53 0h2m36 0h2m27 0h1m28 0h1m16 0h1M4 115h1m8 0h1m6 0h1m14 0h1m7 0h1m38 0h1m13 0h1m13 0h1m17 0h1m12 0h1m15 0h1m14 0h1m17 0h1m2 0h1m44 0h3m35 0h2m18 0h1m12 0h1m14 0h1m11 0h1m14 0h1m11 0h1m19 0h2m17 0h1m19 0h1m13 0h1m13 0h1m9 0h1m13 0h1m10 0h1m10 0h1m7 0h1m13 0h1m29 0h3m51 0h2m18 0h1m43 0h3m47 0h1m17 0h1m24 0h2m33 0h1m16 0h1M17 116h1m22 0h1m6 0h1m30 0h1m11 0h1m13 0h1m31 0h1m14 0h1m50 0h2m52 0h2m29 0h1m27 0h1m13 0h1m12 0h1m13 0h1m13 0h1m20 0h1m18 0h1m17 0h1m13 0h1m56 0h1m9 0h1m16 0h1m46 0h2m37 0h1m21 0h1m54 0h2m58 0h1m33 0h1M9 117h1m15 0h1m6 0h1m44 0h1m57 0h1m68 0h1m54 0h1m70 0h1m40 0h1m39 0h1m17 0h1m25 0h1m10 0h1m23 0h1m37 0h1m47 0h1m59 0h1m57 0h1m52 0h1m34 0h1M14 118h1m29 0h1m7 0h1m21 0h1m11 0h1m11 0h1m17 0h1m13 0h1m15 0h1m12 0h1m9 0h1m48 0h3m51 0h1m34 0h1m53 0h1m37 0h1m16 0h1m17 0h1m78 0h1m26 0h2m48 0h2m27 0h1m29 0h2m60 0h1m27 0h1m31 0h1M50 119h1m21 0h1m22 0h1m46 0h1m13 0h1m32 0h1m45 0h1m42 0h1m58 0h1m44 0h1m20 0h1m33 0h1m23 0h1m90 0h1m48 0h1m21 0h1m40 0h1m52 0h1m43 0h1m31 0h1M18 120h1m21 0h1m21 0h1m16 0h1m10 0h1m15 0h1m44 0h1m50 0h1m47 0h1m36 0h1m122 0h1m15 0h1m26 0h1m23 0h1m20 0h1m24 0h1m49 0h1m60 0h1m47 0h1M0 121h1m6 0h1m15 0h1m36 0h1m15 0h1m9 0h1m14 0h1m31 0h1m83 0h2m44 0h2m26 0h1m12 0h1m14 0h1m26 0h1m11 0h1m17 0h1m18 0h1m35 0h1m14 0h1m22 0h1m11 0h1m49 0h2m55 0h2m57 0h1m53 0h2m41 0h1m28 0h1m27 0h1m16 0h1m15 0h1M6 122h1m15 0h1m91 0h1m45 0h1m64 0h1m45 0h1m21 0h1m40 0h1m13 0h1m122 0h1m11 0h1m55 0h1m170 0h1M4 123h1m9 0h1m5 0h1m14 0h1m8 0h1m5 0h1m13 0h1m9 0h1m7 0h1m14 0h2m11 0h2m18 0h1m10 0h2m15 0h2m9 0h3m19 0h2m43 0h6m29 0h4m21 0h1m10 0h1m16 0h1m9 0h2m15 0h1m9 0h2m20 0h2m14 0h2m20 0h2m11 0h2m14 0h1m8 0h1m14 0h1m8 0h2m11 0h1m6 0h1m13 0h2m21 0h6m55 0h3m16 0h1m43 0h5m43 0h3m21 0h3m20 0h3m34 0h2m14 0h1m18 0h1M1 124h1m8 0h1m15 0h1m5 0h1m22 0h1m13 0h1m7 0h1m13 0h1m11 0h1m18 0h1m12 0h1m16 0h1m47 0h1m57 0h2m26 0h1m15 0h1m11 0h1m15 0h1m38 0h1m22 0h1m16 0h1m19 0h1m25 0h1m9 0h1m13 0h1m9 0h1m18 0h1m18 0h2m41 0h3m40 0h1m18 0h2m57 0h3m54 0h1m36 0h1m18 0h1m19 0h1M0 125h1m7 0h1m6 0h1m8 0h1m6 0h1m7 0h1m5 0h1m7 0h1m6 0h1m6 0h1m7 0h2m10 0h2m11 0h2m16 0h2m12 0h2m14 0h2m12 0h5m41 0h7m48 0h6m20 0h2m13 0h2m11 0h2m13 0h2m10 0h2m12 0h2m13 0h2m20 0h3m14 0h3m16 0h2m11 0h2m11 0h1m9 0h2m12 0h2m8 0h1m9 0h1m9 0h1m19 0h5m45 0h5m29 0h2m23 0h5m55 0h6m37 0h2m31 0h3m21 0h2m18 0h2m12 0h1M6 126h2m4 0h2m7 0h2m5 0h2m6 0h2m4 0h2m7 0h2m4 0h2m6 0h2m5 0h2m9 0h4m7 0h4m14 0h5m9 0h4m13 0h4m8 0h4m12 0h5m12 0h7m23 0h15m41 0h7m11 0h3m13 0h4m7 0h4m12 0h4m8 0h3m12 0h4m11 0h5m19 0h5m10 0h5m14 0h4m7 0h4m10 0h3m7 0h3m11 0h3m6 0h2m9 0h2m7 0h4m26 0h16m30 0h11m20 0h6m22 0h14m51 0h7m10 0h8m25 0h10m18 0h6m17 0h5m9 0h3M11 127h1m8 0h1m6 0h1m28 0h1m7 0h1m17 0h1m10 0h1m16 0h1m14 0h1m28 0h1m22 0h2m8 0h1m8 0h1m39 0h3m43 0h2m12 0h1m15 0h1m11 0h1m14 0h1m11 0h1m15 0h1m15 0h1m22 0h1m15 0h1m16 0h1m10 0h1m12 0h1m10 0h1m31 0h1m10 0h1m42 0h3m40 0h1m22 0h1m40 0h2m52 0h1m6 0h2m29 0h1m30 0h1m20 0h1m15 0h1M2 128h2m6 0h1m7 0h2m6 0h1m7 0h1m5 0h1m7 0h1m6 0h1m6 0h1m6 0h1m9 0h2m9 0h2m14 0h3m12 0h3m13 0h3m11 0h2m45 0h7m40 0h8m32 0h3m10 0h3m12 0h3m10 0h3m12 0h2m10 0h2m14 0h3m14 0h4m18 0h3m13 0h3m14 0h2m9 0h2m10 0h2m10 0h2m11 0h2m6 0h2m9 0h2m11 0h4m42 0h8m33 0h3m19 0h5m42 0h8m66 0h4m29 0h4m18 0h3m15 0h2M1 129h2m4 0h2m8 0h2m4 0h2m7 0h2m4 0h2m7 0h1m5 0h1m7 0h2m4 0h2m8 0h3m6 0h4m12 0h5m9 0h5m14 0h3m9 0h3m56 0h13m31 0h12m26 0h4m8 0h4m12 0h4m8 0h3m13 0h3m8 0h3m14 0h5m12 0h5m18 0h4m10 0h5m13 0h3m6 0h3m11 0h3m7 0h4m10 0h2m5 0h3m9 0h3m10 0h8m47 0h12m20 0h5m22 0h12m33 0h17m47 0h7m19 0h10m21 0h4m11 0h5m12 0h2M0 130h1m37 0h1m94 0h1m82 0h1m48 0h1m25 0h1m54 0h1m68 0h1m15 0h1m37 0h1m11 0h1m106 0h1m57 0h1m55 0h1M5 131h1m15 0h1m14 0h1m21 0h1m24 0h1m13 0h1m14 0h1m16 0h1m13 0h1m14 0h1m12 0h1m19 0h2m38 0h3m39 0h2m20 0h1m39 0h1m26 0h1m18 0h1m18 0h1m19 0h1m14 0h1m13 0h1m9 0h1m24 0h1m18 0h1m12 0h1m26 0h3m52 0h2m20 0h1m39 0h2m52 0h1m21 0h2m25 0h2m31 0h1M48 132h1m22 0h1m21 0h1m13 0h1m17 0h1m12 0h1m15 0h1m21 0h1m18 0h1m52 0h2m32 0h1m16 0h1m27 0h1m11 0h1m14 0h1m11 0h1m21 0h1m17 0h1m18 0h1m13 0h1m47 0h1m18 0h1m15 0h1m37 0h3m45 0h1m17 0h1m51 0h2m41 0h1m5 0h2m24 0h1m36 0h1m36 0h1M17 133h1m22 0h1m6 0h1m30 0h1m11 0h1m13 0h1m31 0h1m14 0h1m50 0h2m52 0h2m29 0h1m27 0h1m13 0h1m12 0h1m13 0h1m13 0h1m20 0h1m18 0h1m17 0h1m13 0h1m56 0h1m9 0h1m16 0h1m46 0h2m37 0h1m21 0h1m54 0h2m58 0h1m33 0h1M53 134h1m13 0h1m7 0h1m11 0h1m11 0h1m18 0h1m29 0h1m12 0h2m4 0h1m45 0h2m53 0h2m20 0h1m27 0h1m14 0h1m11 0h1m14 0h1m13 0h1m22 0h1m16 0h1m18 0h1m11 0h1m22 0h1m13 0h1m53 0h2m47 0h2m30 0h1m26 0h1m61 0h2m34 0h1m32 0h1m23 0h1m19 0h1m13 0h1M81 135h1m27 0h1m68 0h9m9 0h1m45 0h1m40 0h1m41 0h1m26 0h1m14 0h1m17 0h1m37 0h1m27 0h1m23 0h1m43 0h1m43 0h1m108 0h1m50 0h1m1 0h2m62 0h1M19 136h1m72 0h1m15 0h1m15 0h1m120 0h1m52 0h1m41 0h1m45 0h1m20 0h1m16 0h1m15 0h1m66 0h1m57 0h1m109 0h1m79 0h1m32 0h1M1 137h1m51 0h1m7 0h1m5 0h1m19 0h1m15 0h1m14 0h1m16 0h1m12 0h1m64 0h2m43 0h2m30 0h1m11 0h1m15 0h1m11 0h1m14 0h1m46 0h1m21 0h1m14 0h1m15 0h1m9 0h1m12 0h1m10 0h1m48 0h1m55 0h2m27 0h1m29 0h1m50 0h2m51 0h1m28 0h1m26 0h1m16 0h1M6 138h1m8 0h1m6 0h1m14 0h1m7 0h1m54 0h1m13 0h1m17 0h1m12 0h1m17 0h4m57 0h2m41 0h1m25 0h1m11 0h1m42 0h1m10 0h1m18 0h1m17 0h1m21 0h1m13 0h1m24 0h1m13 0h1m42 0h1m19 0h2m57 0h2m22 0h1m34 0h2m52 0h1m35 0h1m25 0h2m46 0h1m16 0h1M43 139h1m37 0h1m27 0h1m18 0h1m44 0h1m67 0h2m34 0h1m19 0h1m11 0h1m15 0h1m26 0h1m11 0h1m58 0h1m27 0h1m33 0h1m18 0h1m14 0h1m30 0h2m52 0h1m64 0h2m62 0h1m24 0h1m70 0h1M33 140h1m7 0h1m28 0h1m21 0h1m12 0h1m18 0h1m28 0h1m43 0h1m55 0h2m29 0h1m16 0h1m11 0h1m14 0h1m11 0h1m14 0h1m12 0h1m21 0h1m16 0h1m19 0h1m12 0h1m37 0h1m9 0h1m18 0h1m16 0h2m40 0h2m61 0h1m55 0h2m100 0h1M9 141h1m6 0h1m8 0h1m20 0h1m7 0h1m34 0h1m44 0h1m15 0h1m53 0h2m56 0h2m67 0h1m11 0h1m14 0h1m12 0h1m22 0h1m16 0h1m18 0h1m12 0h1m12 0h1m9 0h1m23 0h1m39 0h2m44 0h2m59 0h1m60 0h2m81 0h1m20 0h1m19 0h1M14 142h1m15 0h1m7 0h1m20 0h1m7 0h1m6 0h1m12 0h1m10 0h1m18 0h1m13 0h1m15 0h1m12 0h1m7 0h2m43 0h4m53 0h2m34 0h1m11 0h1m15 0h1m26 0h1m13 0h1m22 0h2m14 0h1m30 0h1m12 0h1m24 0h1m8 0h1m9 0h1m9 0h1m25 0h2m46 0h2m30 0h1m26 0h2m62 0h2m29 0h1m33 0h2m22 0h1m20 0h1m12 0h1M6 143h1m15 0h1m20 0h1m7 0h1m62 0h1m13 0h1m15 0h1m28 0h1m19 0h1m31 0h3m49 0h1m15 0h1m15 0h1m11 0h1m26 0h1m30 0h1m22 0h1m15 0h1m17 0h1m11 0h1m22 0h1m13 0h1m8 0h1m9 0h1m43 0h3m45 0h1m25 0h1m33 0h2m77 0h1m30 0h1m48 0h1M34 144h1m45 0h1m11 0h1m31 0h1m215 0h1m46 0h1m19 0h1m32 0h1m35 0h1m11 0h1m18 0h1m13 0h1m43 0h1m188 0h1m33 0h1M33 145h1m71 0h1m147 0h1m88 0h1m12 0h1m14 0h1m19 0h1m36 0h1m356 0h1M15 146h1m147 0h1m103 0h1m37 0h1m126 0h1m79 0h1m133 0h1m153 0h1M14 147h1m15 0h1m67 0h1m14 0h1m46 0h1m8 0h1m59 0h3m39 0h1m22 0h1m27 0h1m11 0h1m14 0h1m11 0h1m18 0h1m18 0h1m19 0h1m52 0h1m10 0h1m55 0h2m56 0h1m21 0h1m38 0h2m51 0h1m27 0h1m25 0h1M19 152h1m21 0h1m7 0h1m13 0h1m6 0h1m10 0h1m10 0h1m10 0h2m34 0h2m12 0h1m17 0h3m15 0h2m6 0h3m42 0h5m36 0h3m11 0h2m14 0h1m11 0h2m13 0h2m10 0h2m14 0h1m16 0h2m20 0h2m14 0h2m15 0h2m9 0h1m12 0h1m10 0h1m12 0h1m8 0h1m9 0h1m11 0h2m43 0h4m38 0h2m20 0h3m41 0h5m46 0h3m29 0h2m30 0h2m20 0h1m16 0h1M39 153h1m38 0h1m70 0h1m57 0h3m44 0h2m45 0h1m42 0h1m27 0h1m17 0h1m21 0h1m14 0h1m26 0h1m12 0h1m10 0h1m31 0h1m14 0h1m52 0h2m58 0h1m49 0h2m59 0h1m30 0h1m24 0h1M159 157h1m43 0h1m57 0h1m25 0h1m15 0h1m11 0h1m164 0h1m19 0h1m8 0h1m64 0h1m39 0h1m82 0h1m48 0h1m36 0h1m39 0h1m11 0h1M75 158h1m81 0h1m239 0h1m84 0h1m106 0h1m58 0h1M58 159h1m55 0h1m14 0h1m62 0h1m33 0h1m81 0h1m12 0h1m57 0h1m38 0h1m126 0h1m49 0h1m59 0h1m58 0h1m21 0h1m30 0h1M11 160h1m15 0h1m22 0h1m5 0h1m7 0h1m17 0h1m28 0h1m13 0h1m16 0h1m11 0h1m22 0h11m8 0h1m39 0h3m43 0h2m12 0h1m15 0h1m54 0h1m15 0h1m22 0h1m14 0h1m28 0h1m12 0h1m53 0h1m43 0h2m39 0h2m22 0h2m39 0h2m52 0h1m5 0h2m30 0h2m29 0h1m20 0h1m15 0h1M9 171h1m4 0h1m10 0h1m4 0h1m8 0h1m5 0h1m8 0h1m4 0h1m8 0h1m5 0h2m12 0h2m8 0h2m19 0h2m10 0h2m16 0h2m11 0h3m11 0h4m9 0h1m3 0h1m28 0h4m19 0h4m29 0h2m10 0h2m15 0h2m9 0h1m16 0h2m8 0h2m15 0h2m10 0h2m24 0h3m10 0h2m20 0h2m7 0h2m14 0h1m6 0h2m16 0h1m5 0h1m12 0h1m5 0h2m35 0h9m22 0h6m38 0h2m13 0h5m74 0h2m14 0h3m43 0h4m11 0h2m26 0h2m6 0h1M6 172h1m5 0h1m9 0h1m5 0h1m8 0h1m4 0h1m8 0h1m5 0h1m7 0h1m5 0h2m11 0h2m8 0h2m18 0h2m10 0h2m16 0h2m9 0h2m12 0h3m23 0h2m32 0h4m17 0h4m27 0h2m9 0h2m15 0h2m9 0h2m15 0h2m8 0h2m15 0h2m10 0h3m24 0h3m10 0h2m20 0h2m6 0h2m14 0h1m6 0h2m15 0h2m4 0h2m11 0h2m5 0h2m43 0h7m21 0h6m34 0h3m16 0h5m70 0h5m2 0h5m41 0h4m13 0h3m26 0h2m7 0h1M12 180h1m15 0h1m20 0h1m7 0h1m5 0h1m44 0h1m18 0h1m12 0h1m33 0h1m19 0h1m48 0h2m34 0h1m18 0h1m11 0h1m54 0h1m20 0h1m17 0h1m19 0h1m50 0h1m10 0h1m18 0h1m14 0h1m33 0h3m49 0h1m17 0h1m47 0h2m44 0h1m12 0h1m24 0h1m35 0h1m35 0h1M2 181h2m4 0h2m7 0h2m5 0h2m7 0h2m4 0h2m6 0h2m4 0h2m6 0h2m4 0h2m9 0h3m7 0h3m13 0h4m10 0h4m14 0h4m8 0h4m50 0h12m32 0h12m29 0h4m8 0h3m13 0h3m8 0h4m12 0h4m7 0h4m13 0h5m12 0h5m18 0h5m10 0h4m13 0h4m6 0h3m11 0h3m7 0h3m11 0h2m5 0h3m9 0h3m9 0h6m45 0h14m21 0h6m20 0h11m32 0h16m57 0h6m21 0h9m19 0h5m11 0h4m12 0h1M164 182h1m101 0h1m51 0h1m40 0h1m36 0h1m60 0h1m34 0h1m41 0h1m51 0h1m117 0h1m70 0h1m24 0h1M13 183h1m51 0h1m30 0h1m16 0h1m58 0h1m17 0h1m37 0h2m64 0h1m41 0h1m26 0h1m16 0h1m38 0h1m40 0h1m54 0h1m30 0h2m49 0h1m23 0h1m36 0h1m106 0h1m29 0h1M4 184h1m30 0h1m6 0h1m28 0h1m116 0h1m6 0h1m44 0h1m40 0h1m29 0h1m72 0h1m20 0h1m90 0h1m61 0h2m44 0h1m20 0h1m44 0h1m59 0h1m27 0h1m32 0h1M2 185h1m7 0h1m7 0h1m7 0h1m6 0h1m6 0h2m6 0h1m6 0h1m6 0h1m6 0h2m8 0h1m10 0h3m12 0h3m14 0h2m13 0h2m12 0h3m43 0h6m44 0h8m29 0h3m12 0h2m12 0h2m12 0h2m12 0h2m11 0h2m12 0h3m16 0h4m17 0h2m15 0h3m12 0h3m10 0h1m10 0h2m11 0h2m9 0h2m8 0h1m8 0h2m13 0h3m41 0h7m36 0h2m18 0h5m45 0h7m65 0h3m31 0h3m18 0h2m16 0h2"/>
<path stroke="#0000b4" d="M63 8h1m59 0h1m75 0h1m44 0h1m40 0h1m55 0h1m99 0h1m126 0h1m105 0h1m134 0h1m15 0h1M88 9h1m30 0h1m90 0h1m47 0h1m43 0h1m14 0h1m74 0h1m86 0h1m213 0h1m84 0h1M30 10h1m83 0h1m45 0h1m65 0h1m94 0h1m57 0h1m38 0h1m176 0h1m59 0h1m111 0h1m30 0h1m33 0h1M171 11h1m20 0h1m38 0h1m42 0h1m160 0h1m224 0h1M28 12h1m19 0h1m8 0h1m14 0h1m22 0h1m10 0h1m20 0h1m10 0h1m17 0h1m16 0h2m14 0h1m4 0h1m53 0h3m27 0h2m19 0h1m10 0h1m16 0h1m9 0h1m16 0h1m9 0h1m23 0h1m14 0h1m21 0h1m11 0h1m23 0h1m15 0h1m44 0h1m30 0h3m52 0h1m15 0h1m52 0h2m39 0h1m13 0h1m21 0h1m37 0h1m15 0h1M10 21h2m2 0h2m10 0h2m2 0h2m9 0h1m2 0h2m9 0h2m1 0h2m9 0h3m2 0h2m15 0h3m3 0h4m21 0h4m3 0h4m19 0h3m3 0h14m4 0h12m3 0h2m2 0h7m64 0h9m6 0h6m18 0h4m2 0h4m17 0h4m3 0h4m16 0h4m3 0h5m25 0h5m5 0h4m22 0h4m3 0h4m14 0h3m3 0h3m16 0h3m2 0h3m11 0h3m2 0h3m24 0h9m23 0h10m41 0h3m11 0h5m66 0h9m31 0h4m38 0h5m11 0h3m21 0h3m7 0h2M39 22h1m5 0h1m22 0h1m6 0h1m23 0h1m20 0h1m11 0h1m16 0h1m11 0h2m3 0h2m38 0h4m58 0h2m46 0h1m16 0h1m10 0h1m15 0h1m11 0h1m24 0h1m14 0h1m54 0h1m14 0h1m27 0h1m24 0h2m43 0h2m35 0h1m21 0h2m64 0h2m35 0h1m36 0h1m20 0h1m20 0h1m11 0h1M43 23h1m8 0h1m13 0h1m19 0h1m9 0h1m19 0h1m11 0h1m17 0h1m10 0h1m15 0h1m19 0h1m24 0h4m54 0h2m14 0h1m16 0h1m37 0h1m29 0h1m24 0h1m13 0h1m19 0h1m33 0h1m14 0h1m7 0h1m10 0h1m8 0h1m33 0h3m41 0h2m28 0h1m28 0h2m63 0h1m19 0h1m34 0h1m24 0h1m21 0h1m12 0h1M11 29h5m11 0h5m10 0h4m10 0h4m11 0h5m17 0h8m24 0h9m20 0h24m9 0h10m68 0h18m22 0h8m19 0h8m19 0h9m28 0h11m24 0h9m17 0h7m17 0h7m13 0h6m26 0h31m52 0h12m74 0h21m3 0h18m45 0h12m26 0h7M9 30h1m5 0h1m9 0h1m14 0h1m4 0h1m13 0h1m9 0h1m5 0h1m14 0h1m8 0h2m20 0h2m8 0h2m18 0h1m9 0h8m31 0h5m61 0h5m15 0h2m17 0h2m7 0h2m17 0h1m8 0h1m16 0h2m9 0h2m24 0h3m10 0h2m21 0h2m8 0h1m14 0h2m6 0h2m15 0h1m6 0h2m11 0h1m6 0h1m24 0h4m35 0h5m38 0h2m16 0h4m65 0h4m35 0h2m37 0h3m16 0h1m21 0h2m9 0h1M1 42h2m3 0h1m10 0h1m4 0h1m9 0h2m3 0h1m9 0h1m3 0h1m9 0h1m3 0h2m10 0h2m5 0h2m17 0h3m7 0h3m19 0h3m6 0h2m75 0h10m22 0h8m31 0h3m6 0h2m17 0h2m6 0h3m16 0h3m5 0h3m19 0h4m9 0h3m24 0h3m7 0h3m17 0h2m5 0h2m14 0h3m5 0h2m13 0h2m4 0h1m14 0h2m9 0h4m61 0h5m17 0h3m34 0h6m35 0h8m48 0h3m19 0h4m31 0h2m11 0h2m17 0h2M5 43h1m8 0h1m6 0h1m8 0h1m5 0h1m46 0h1m14 0h1m13 0h1m30 0h1m16 0h1m8 0h1m62 0h2m37 0h1m23 0h1m38 0h1m26 0h1m19 0h1m17 0h1m20 0h1m28 0h1m33 0h1m32 0h1m22 0h2m57 0h2m19 0h1m40 0h2m49 0h1m27 0h1m24 0h1M11 53h4m12 0h4m10 0h4m11 0h4m10 0h6m15 0h9m23 0h9m21 0h9m5 0h33m68 0h18m20 0h8m19 0h9m18 0h9m28 0h12m24 0h9m16 0h7m17 0h7m13 0h6m28 0h34m48 0h14m75 0h35m44 0h14m25 0h8M8 54h1m5 0h1m9 0h1m4 0h1m9 0h1m4 0h1m8 0h1m4 0h1m8 0h1m5 0h2m12 0h2m8 0h2m19 0h2m9 0h2m17 0h2m8 0h2m9 0h3m19 0h2m15 0h7m56 0h5m13 0h2m16 0h2m8 0h2m15 0h2m8 0h2m15 0h2m10 0h2m24 0h3m11 0h2m19 0h2m8 0h2m13 0h1m7 0h2m14 0h2m6 0h1m11 0h1m7 0h1m27 0h6m37 0h5m32 0h1m21 0h5m64 0h3m25 0h2m35 0h3m19 0h2m20 0h2m10 0h2M7 55h1m5 0h1m9 0h1m5 0h1m8 0h1m34 0h1m12 0h1m9 0h1m20 0h1m10 0h1m18 0h1m9 0h1m14 0h1m17 0h1m2 0h1m22 0h3m72 0h1m27 0h1m16 0h1m9 0h1m16 0h1m12 0h1m25 0h1m12 0h1m20 0h1m9 0h1m13 0h1m8 0h1m15 0h1m18 0h1m7 0h1m33 0h2m41 0h2m30 0h1m26 0h2m64 0h1m21 0h1m35 0h1m45 0h1M3 56h1m6 0h1m15 0h1m7 0h1m20 0h1m24 0h1m10 0h1m60 0h1m46 0h1m169 0h1m17 0h1m53 0h1m10 0h1m23 0h1m44 0h1m47 0h1m61 0h1m45 0h1m76 0h1m31 0h1m21 0h1M3 57h2m4 0h1m9 0h2m4 0h1m8 0h2m3 0h2m8 0h1m4 0h1m8 0h1m4 0h1m11 0h2m6 0h3m16 0h4m8 0h3m17 0h3m7 0h3m50 0h10m26 0h10m39 0h3m7 0h2m16 0h3m6 0h3m15 0h3m6 0h3m16 0h4m10 0h4m22 0h4m8 0h4m16 0h3m6 0h2m13 0h2m6 0h3m13 0h2m4 0h2m11 0h2m7 0h4m50 0h8m25 0h4m24 0h6m33 0h8m73 0h4m24 0h4m23 0h2m12 0h2M5 66h1m15 0h1m14 0h1m22 0h1m23 0h1m15 0h1m12 0h1m18 0h1m11 0h1m17 0h1m5 0h2m62 0h4m34 0h2m24 0h1m10 0h1m26 0h1m26 0h1m20 0h1m16 0h1m21 0h1m12 0h1m15 0h1m8 0h1m36 0h1m6 0h1m13 0h1m20 0h3m58 0h2m18 0h1m40 0h3m47 0h2m29 0h1m23 0h1m33 0h1m15 0h1m17 0h1M171 67h1m20 0h1m38 0h1m42 0h1m160 0h1m108 0h1m251 0h1M92 68h1m31 0h1m72 0h1m51 0h1m77 0h1m12 0h1m47 0h1m18 0h1m32 0h1m47 0h1m18 0h1m14 0h1m42 0h1m113 0h1m73 0h1m34 0h1M255 69h1m45 0h1m40 0h1m27 0h1m71 0h1m11 0h1m233 0h1m95 0h1M9 70h6m10 0h6m9 0h5m9 0h6m8 0h7m14 0h11m20 0h12m18 0h12m6 0h39m62 0h20m17 0h11m17 0h10m17 0h11m26 0h14m21 0h11m14 0h9m16 0h8m11 0h8m27 0h42m39 0h20m70 0h33m40 0h18m23 0h11M7 71h6m10 0h6m9 0h6m8 0h6m8 0h7m13 0h10m19 0h14m17 0h11m16 0h17m4 0h29m54 0h16m16 0h12m16 0h11m16 0h14m24 0h16m19 0h11m13 0h10m14 0h9m10 0h10m35 0h44m29 0h31m63 0h19m35 0h25m22 0h13M7 72h2m14 0h2m13 0h2m12 0h2m13 0h1m18 0h3m27 0h4m26 0h4m59 0h12m68 0h3m25 0h3m24 0h3m26 0h4m36 0h4m27 0h3m20 0h3m21 0h2m18 0h3m67 0h10m49 0h10m121 0h9m38 0h4M5 73h3m12 0h4m12 0h2m12 0h3m11 0h3m15 0h5m23 0h7m24 0h6m71 0h22m52 0h5m22 0h6m22 0h5m24 0h8m32 0h7m23 0h5m19 0h5m18 0h3m17 0h6m70 0h15m44 0h22m89 0h14m38 0h8M3 74h1m14 0h2m14 0h1m13 0h2m12 0h2m15 0h3m24 0h4m28 0h3m100 0h11m45 0h3m25 0h3m24 0h3m30 0h4m34 0h4m24 0h3m21 0h3m19 0h2m20 0h5m76 0h13m50 0h29m56 0h15m41 0h10m22 0h1M14 75h1m29 0h1m5 0h1m13 0h1m9 0h1m23 0h1m12 0h1m18 0h1m11 0h1m16 0h1m9 0h2m63 0h3m34 0h2m34 0h1m15 0h1m10 0h1m15 0h1m10 0h1m20 0h1m16 0h1m21 0h1m12 0h1m38 0h1m9 0h1m33 0h1m22 0h3m57 0h1m61 0h3m47 0h1m25 0h1m23 0h1m34 0h1m15 0h1m17 0h1M4 76h1m8 0h1m6 0h1m14 0h1m60 0h1m13 0h1m30 0h1m15 0h1m14 0h1m20 0h1m45 0h2m35 0h1m59 0h1m26 0h1m20 0h1m37 0h1m13 0h1m23 0h1m13 0h1m21 0h1m21 0h1m28 0h2m54 0h1m64 0h1m90 0h1m51 0h1M0 77h2m9 0h7m9 0h7m7 0h7m8 0h6m8 0h9m13 0h14m18 0h13m16 0h45m55 0h32m16 0h12m16 0h12m14 0h14m21 0h18m19 0h14m13 0h10m14 0h11m10 0h9m17 0h42m44 0h19m56 0h65m37 0h18m20 0h11M9 78h5m11 0h5m10 0h4m10 0h5m9 0h6m15 0h8m23 0h10m20 0h8m14 0h19m2 0h16m66 0h14m19 0h9m19 0h8m19 0h10m28 0h12m23 0h8m16 0h8m17 0h6m13 0h7m33 0h12m18 0h9m37 0h3m12 0h7m71 0h4m17 0h4m40 0h5m11 0h3m24 0h2m7 0h2M22 79h1m14 0h1m19 0h1m14 0h1m12 0h1m9 0h1m19 0h1m11 0h1m17 0h1m10 0h1m32 0h1m4 0h1m27 0h3m53 0h1m14 0h1m43 0h1m26 0h1m13 0h1m24 0h1m13 0h1m19 0h1m9 0h1m13 0h1m52 0h1m35 0h3m41 0h2m26 0h1m31 0h2m60 0h1m17 0h1m32 0h2m25 0h1M11 80h1m15 0h1m28 0h1m7 0h1m89 0h1m22 0h1m9 0h1m8 0h1m40 0h1m45 0h1m28 0h1m54 0h1m95 0h1m53 0h1m44 0h1m104 0h1m59 0h1M17 81h1m189 0h1m49 0h1m98 0h1m55 0h1m97 0h1m68 0h1m58 0h1m52 0h1m88 0h1m55 0h1M38 82h1m78 0h1m15 0h1m13 0h1m68 0h1m48 0h1m149 0h1m230 0h1M15 83h1m29 0h1m29 0h1m24 0h1m12 0h1m18 0h1m10 0h1m18 0h2m2 0h1m62 0h3m35 0h2m25 0h1m10 0h1m16 0h1m10 0h1m15 0h1m30 0h1m16 0h1m21 0h1m12 0h1m39 0h1m9 0h1m52 0h2m60 0h1m59 0h2m48 0h2m32 0h1m23 0h1m33 0h1M7 87h1m15 0h1m5 0h1m22 0h1m5 0h1m14 0h1m12 0h1m29 0h1m12 0h1m16 0h1m24 0h1m18 0h1m1 0h1m25 0h3m53 0h2m32 0h1m10 0h1m56 0h1m24 0h1m14 0h1m18 0h1m10 0h1m37 0h1m28 0h1m30 0h2m44 0h2m28 0h1m28 0h2m62 0h1m23 0h1m33 0h1m24 0h1m20 0h1M41 88h1m8 0h1m19 0h1m21 0h1m31 0h1m17 0h1m10 0h1m25 0h8m10 0h1m35 0h3m48 0h1m10 0h1m27 0h1m16 0h1m9 0h1m17 0h1m13 0h1m24 0h1m32 0h1m32 0h1m14 0h1m6 0h1m11 0h1m55 0h2m36 0h1m25 0h2m36 0h2m55 0h5m34 0h1m27 0h1m22 0h1M0 91h5m9 0h7m9 0h6m8 0h7m8 0h6m9 0h9m14 0h15m18 0h13m15 0h13m20 0h1m43 0h39m22 0h12m15 0h13m14 0h13m19 0h19m20 0h14m15 0h10m13 0h11m12 0h8m13 0h27m57 0h20m43 0h50m23 0h25m35 0h16m18 0h6M3 92h1m9 0h1m4 0h2m9 0h1m4 0h1m8 0h1m4 0h1m13 0h1m9 0h2m6 0h1m14 0h2m9 0h2m20 0h1m9 0h2m16 0h2m14 0h2m15 0h2m2 0h1m51 0h6m24 0h4m20 0h1m9 0h1m16 0h2m8 0h2m15 0h2m8 0h2m22 0h2m12 0h3m21 0h2m9 0h2m14 0h2m6 0h2m14 0h2m7 0h1m11 0h2m5 0h1m16 0h2m24 0h7m53 0h2m13 0h2m50 0h5m37 0h2m14 0h3m19 0h2m37 0h2m13 0h2m19 0h1M10 93h1m15 0h1m5 0h1m22 0h1m21 0h1m13 0h1m31 0h1m28 0h1m46 0h1m60 0h2m23 0h1m17 0h1m26 0h1m10 0h1m15 0h1m11 0h1m23 0h1m14 0h1m20 0h1m11 0h1m38 0h1m19 0h1m7 0h1m19 0h2m39 0h2m42 0h1m18 0h1m60 0h2m52 0h1m37 0h1M14 94h1m15 0h1m56 0h1m10 0h1m61 0h1m8 0h1m44 0h2m55 0h1m46 0h1m15 0h1m26 0h1m13 0h1m23 0h1m14 0h1m30 0h1m37 0h1m8 0h1m45 0h2m46 0h2m30 0h1m26 0h2m62 0h1m30 0h1m33 0h1m23 0h1m20 0h1m12 0h1M6 95h1m15 0h1m14 0h1m34 0h1m22 0h1m18 0h1m30 0h1m10 0h1m16 0h1m15 0h1m33 0h3m51 0h2m14 0h1m43 0h1m10 0h1m15 0h1m13 0h1m24 0h1m14 0h1m18 0h1m23 0h1m9 0h1m42 0h1m35 0h2m43 0h1m26 0h1m32 0h2m59 0h1m17 0h1m32 0h1m26 0h1M1 98h7m9 0h7m9 0h6m8 0h6m8 0h6m11 0h9m16 0h15m17 0h13m67 0h45m31 0h12m16 0h11m16 0h11m18 0h18m22 0h15m16 0h10m13 0h11m13 0h7m12 0h17m58 0h27m31 0h50m53 0h27m29 0h15m17 0h1M0 114h1m5 0h1m15 0h1m14 0h1m22 0h1m15 0h1m8 0h1m15 0h1m12 0h1m18 0h1m11 0h1m77 0h3m37 0h3m27 0h1m10 0h1m43 0h1m9 0h1m19 0h1m16 0h1m21 0h2m12 0h1m15 0h1m8 0h1m14 0h1m9 0h1m32 0h1m17 0h2m58 0h2m22 0h1m34 0h3m48 0h2m40 0h1m24 0h2M29 115h1m19 0h1m8 0h1m4 0h1m9 0h1m7 0h1m15 0h1m11 0h1m19 0h1m10 0h1m17 0h1m12 0h1m19 0h2m48 0h3m29 0h3m21 0h1m10 0h1m16 0h1m9 0h1m16 0h1m9 0h1m22 0h1m14 0h2m21 0h1m11 0h1m15 0h1m23 0h1m8 0h1m18 0h1m15 0h1m24 0h4m56 0h1m16 0h1m47 0h3m42 0h2m19 0h2m21 0h1m36 0h1m34 0h1M1 116h1m59 0h1m7 0h1m33 0h1m18 0h1m12 0h1m64 0h2m56 0h2m26 0h1m15 0h1m11 0h1m77 0h1m16 0h1m45 0h1m9 0h1m13 0h1m9 0h1m37 0h1m43 0h2m60 0h1m57 0h2m55 0h1m35 0h1m19 0h1m19 0h1m11 0h1M121 117h1m81 0h1m56 0h1m54 0h1m41 0h1m35 0h1m115 0h1m19 0h1m45 0h1m119 0h1m107 0h1M7 118h1m15 0h1m14 0h1m58 0h1m19 0h1m29 0h1m10 0h1m11 0h1m20 0h1m24 0h2m55 0h1m17 0h1m27 0h1m15 0h1m10 0h1m15 0h1m13 0h1m23 0h1m14 0h1m30 0h1m12 0h1m9 0h1m14 0h1m18 0h1m38 0h2m45 0h1m58 0h1m63 0h1m25 0h1m33 0h1m24 0h1m20 0h1M57 119h1m69 0h1m66 0h1m39 0h1m88 0h1m26 0h1m122 0h1m21 0h1m57 0h1m109 0h1M48 120h1m72 0h1m16 0h1m64 0h2m44 0h1m65 0h1m11 0h1m26 0h1m16 0h1m16 0h1m101 0h1m18 0h1m12 0h1m51 0h1m34 0h1m25 0h1m45 0h1m70 0h1m30 0h1m23 0h1m15 0h1M16 121h1m29 0h1m5 0h1m13 0h1m35 0h1m13 0h1m17 0h1m11 0h1m72 0h3m39 0h2m29 0h1m10 0h1m27 0h1m15 0h1m29 0h1m16 0h1m21 0h1m13 0h1m25 0h1m13 0h1m9 0h1m12 0h1m6 0h1m12 0h1m16 0h1m59 0h1m24 0h1m32 0h2m49 0h2m44 0h1m26 0h1M30 122h1m100 0h1m36 0h1m57 0h1m43 0h1m50 0h1m57 0h1m38 0h1m176 0h1m59 0h1m111 0h1m30 0h1m33 0h1M3 123h1m11 0h1m3 0h1m10 0h2m2 0h1m10 0h1m3 0h1m9 0h1m3 0h1m11 0h1m4 0h2m17 0h2m6 0h3m21 0h2m6 0h2m19 0h9m73 0h7m17 0h5m26 0h3m5 0h2m18 0h2m5 0h2m18 0h2m5 0h2m24 0h3m8 0h3m24 0h3m6 0h2m17 0h2m4 0h2m16 0h2m5 0h1m14 0h1m3 0h2m16 0h3m13 0h5m64 0h3m11 0h2m49 0h5m34 0h4m27 0h2m15 0h3m39 0h1m11 0h2m20 0h1M16 124h1m24 0h1m4 0h1m23 0h1m31 0h1m20 0h1m10 0h1m18 0h1m43 0h3m60 0h4m20 0h2m17 0h1m9 0h1m17 0h1m9 0h1m15 0h1m10 0h1m24 0h2m13 0h1m21 0h1m10 0h1m14 0h1m7 0h1m15 0h1m7 0h1m11 0h1m28 0h2m37 0h2m61 0h1m62 0h3m50 0h1m38 0h1m16 0h1M9 125h1m4 0h1m10 0h1m4 0h1m9 0h1m3 0h1m9 0h1m4 0h1m8 0h2m4 0h1m14 0h2m6 0h3m20 0h3m7 0h2m18 0h2m6 0h4m5 0h5m19 0h2m7 0h8m61 0h6m11 0h3m17 0h2m6 0h3m17 0h2m6 0h2m16 0h3m7 0h3m25 0h3m8 0h3m21 0h3m6 0h2m14 0h2m5 0h2m16 0h2m4 0h2m11 0h2m5 0h2m25 0h7m31 0h7m36 0h2m16 0h5m66 0h6m27 0h4m36 0h4m15 0h2m22 0h1m9 0h2M8 126h4m11 0h5m10 0h4m11 0h4m10 0h5m15 0h7m23 0h9m21 0h8m21 0h12m7 0h23m63 0h11m20 0h7m20 0h8m19 0h11m29 0h10m23 0h7m17 0h7m17 0h6m13 0h7m46 0h30m37 0h22m72 0h10m43 0h18m28 0h9M5 127h1m15 0h1m14 0h1m4 0h1m8 0h1m19 0h1m12 0h1m8 0h1m18 0h2m11 0h1m17 0h1m10 0h1m25 0h8m10 0h2m33 0h4m48 0h1m10 0h1m17 0h1m9 0h1m16 0h1m9 0h1m17 0h1m12 0h2m24 0h1m12 0h2m18 0h1m8 0h1m14 0h1m8 0h1m14 0h1m6 0h1m11 0h1m8 0h1m46 0h3m35 0h2m24 0h2m35 0h3m55 0h6m32 0h2m27 0h1m22 0h1m13 0h1M4 128h2m1 0h3m10 0h2m1 0h3m9 0h2m1 0h2m9 0h2m2 0h2m8 0h2m2 0h2m12 0h3m3 0h3m19 0h4m4 0h4m19 0h4m3 0h4m54 0h13m13 0h14m43 0h4m3 0h3m18 0h4m2 0h4m17 0h4m3 0h3m19 0h5m4 0h5m25 0h5m4 0h4m19 0h4m2 0h3m14 0h4m3 0h3m15 0h2m2 0h2m13 0h3m3 0h5m54 0h9m19 0h5m27 0h7m26 0h9m78 0h5m18 0h6m25 0h3m9 0h3M3 129h4m12 0h4m11 0h4m10 0h5m10 0h4m13 0h6m21 0h9m22 0h9m72 0h31m42 0h8m20 0h8m19 0h8m22 0h12m27 0h10m21 0h6m17 0h7m16 0h5m15 0h10m67 0h20m39 0h33m71 0h19m35 0h11M7 130h1m15 0h1m36 0h1m15 0h1m9 0h1m14 0h1m115 0h2m45 0h1m39 0h1m14 0h1m56 0h1m18 0h1m50 0h1m85 0h1m114 0h1m53 0h1m42 0h1m28 0h1m27 0h1m32 0h1M14 131h1m29 0h1m5 0h1m13 0h1m9 0h1m23 0h1m12 0h1m18 0h1m11 0h1m16 0h1m9 0h2m63 0h3m34 0h2m34 0h1m15 0h1m10 0h1m15 0h1m10 0h1m20 0h1m16 0h1m21 0h1m12 0h1m38 0h1m9 0h1m11 0h1m21 0h1m22 0h3m57 0h1m61 0h3m47 0h2m24 0h1m23 0h1m34 0h1m15 0h1m17 0h1M18 132h1m23 0h1m19 0h1m16 0h1m14 0h1m11 0h1m19 0h1m28 0h1m19 0h1m12 0h1m61 0h3m27 0h2m18 0h1m10 0h1m26 0h1m26 0h1m23 0h1m15 0h1m20 0h1m11 0h1m14 0h1m8 0h1m14 0h1m20 0h1m24 0h1m34 0h2m49 0h1m15 0h1m54 0h2m38 0h1m8 0h2m21 0h1m38 0h1m15 0h1M1 133h1m59 0h1m7 0h1m33 0h1m18 0h1m12 0h1m64 0h2m56 0h2m26 0h1m15 0h1m11 0h1m77 0h1m16 0h1m45 0h1m9 0h1m13 0h1m9 0h1m37 0h1m43 0h2m60 0h1m57 0h2m55 0h1m35 0h1m19 0h1m19 0h1m11 0h1M8 134h1m5 0h1m9 0h1m5 0h1m28 0h1m28 0h1m9 0h1m20 0h1m11 0h1m28 0h1m7 0h2m40 0h3m57 0h2m17 0h1m16 0h1m10 0h1m16 0h1m26 0h1m11 0h1m24 0h2m13 0h1m30 0h1m13 0h1m24 0h1m7 0h1m10 0h1m8 0h1m26 0h2m43 0h2m33 0h1m23 0h2m64 0h2m30 0h2m34 0h2m42 0h1M70 135h1m21 0h1m31 0h1m28 0h1m43 0h1m43 0h1m42 0h1m12 0h1m42 0h1m43 0h1m22 0h1m32 0h1m47 0h1m18 0h1m56 0h2m39 0h1m22 0h1m42 0h1m52 0h1m32 0h1m52 0h1m15 0h1M41 136h1m21 0h1m6 0h1m82 0h1m43 0h1m46 0h1m39 0h1m203 0h1m31 0h1m153 0h1m134 0h1M17 137h1m5 0h1m14 0h1m8 0h1m30 0h1m25 0h1m12 0h1m18 0h1m10 0h1m67 0h3m37 0h3m33 0h1m37 0h1m16 0h1m9 0h1m18 0h1m15 0h1m23 0h1m12 0h1m40 0h1m22 0h1m6 0h1m12 0h1m13 0h2m58 0h2m56 0h2m45 0h3m54 0h1m26 0h1m28 0h1m14 0h1M0 138h1m30 0h1m19 0h1m8 0h1m4 0h1m10 0h1m7 0h1m16 0h1m11 0h1m19 0h1m10 0h1m81 0h4m34 0h3m37 0h1m16 0h1m10 0h1m46 0h1m15 0h1m23 0h1m11 0h1m16 0h1m32 0h1m12 0h1m6 0h1m13 0h1m17 0h1m61 0h1m20 0h1m37 0h2m48 0h2m37 0h1m23 0h1m32 0h1M13 139h1m5 0h1m9 0h1m19 0h1m13 0h1m9 0h1m22 0h1m11 0h1m31 0h1m16 0h1m14 0h1m17 0h1m2 0h1m49 0h3m29 0h2m21 0h1m37 0h1m26 0h1m21 0h2m14 0h2m21 0h1m11 0h1m23 0h1m14 0h1m44 0h1m26 0h3m55 0h1m16 0h1m48 0h2m43 0h1m17 0h1m22 0h1m36 0h1m15 0h1M11 140h1m5 0h1m9 0h1m19 0h1m8 0h1m21 0h1m25 0h1m20 0h1m10 0h1m17 0h1m22 0h11m8 0h1m58 0h3m25 0h1m28 0h1m16 0h1m26 0h1m10 0h1m23 0h1m14 0h1m21 0h1m25 0h1m8 0h1m35 0h1m26 0h1m36 0h3m45 0h1m16 0h1m58 0h2m35 0h2m24 0h1m37 0h1m16 0h1m20 0h1M0 141h1m30 0h1m8 0h1m19 0h1m15 0h1m13 0h1m10 0h1m19 0h1m11 0h1m17 0h1m50 0h2m60 0h2m21 0h1m16 0h1m10 0h1m16 0h1m9 0h1m27 0h1m24 0h1m14 0h1m20 0h1m10 0h1m38 0h1m19 0h1m7 0h1m22 0h2m40 0h2m39 0h1m19 0h2m63 0h2m43 0h1m36 0h1m40 0h1M8 142h1m15 0h1m14 0h1m4 0h1m8 0h1m4 0h1m29 0h1m8 0h1m20 0h2m9 0h2m17 0h2m8 0h2m10 0h2m19 0h2m16 0h4m59 0h3m14 0h2m16 0h2m8 0h1m17 0h1m8 0h2m16 0h1m10 0h2m25 0h1m12 0h1m20 0h2m8 0h1m14 0h1m7 0h2m15 0h1m6 0h1m11 0h1m7 0h1m28 0h4m39 0h3m33 0h1m22 0h3m66 0h2m25 0h2m36 0h2m19 0h1m22 0h1M12 143h1m15 0h1m8 0h1m19 0h1m14 0h1m12 0h1m9 0h1m19 0h1m11 0h1m17 0h1m10 0h1m17 0h1m14 0h1m4 0h1m27 0h3m53 0h2m30 0h1m9 0h1m16 0h1m26 0h1m13 0h1m24 0h1m13 0h1m19 0h1m9 0h1m13 0h1m24 0h1m18 0h1m8 0h1m36 0h3m40 0h2m58 0h2m60 0h1m16 0h2m32 0h2m25 0h1m21 0h1m12 0h1M3 144h1m37 0h1m28 0h1m68 0h1m13 0h1m43 0h1m48 0h1m37 0h1m68 0h1m98 0h1m176 0h1m46 0h1M2 145h1m37 0h1m49 0h1m46 0h1m13 0h1m50 0h1m125 0h1m81 0h1m31 0h1m81 0h1m48 0h1m60 0h1m50 0h1M38 146h1m61 0h1m16 0h1m29 0h1m16 0h2m50 0h1m240 0h1m76 0h1M5 147h1m15 0h1m14 0h1m22 0h1m23 0h1m15 0h1m12 0h1m18 0h1m11 0h1m17 0h1m5 0h2m63 0h3m34 0h2m24 0h1m10 0h1m26 0h1m26 0h1m20 0h1m16 0h1m21 0h1m12 0h1m15 0h1m8 0h1m36 0h1m6 0h1m13 0h1m20 0h2m59 0h2m18 0h1m41 0h2m47 0h2m29 0h1m23 0h1m33 0h1m15 0h1m17 0h1M0 148h2m12 0h4m12 0h3m12 0h3m11 0h3m13 0h4m19 0h5m28 0h6m23 0h9m85 0h18m29 0h6m22 0h6m21 0h6m28 0h10m27 0h7m20 0h5m19 0h6m15 0h4m22 0h16m70 0h8m67 0h26m27 0h12m47 0h8m26 0h5M0 149h1m11 0h4m12 0h4m11 0h3m11 0h4m11 0h5m18 0h7m25 0h7m22 0h13m22 0h4m68 0h17m24 0h7m21 0h6m20 0h8m29 0h10m26 0h7m18 0h6m19 0h6m14 0h5m25 0h26m58 0h10m75 0h19m12 0h15m46 0h10m26 0h7M106 150h9M103 151h7M4 152h1m5 0h1m9 0h1m5 0h1m8 0h1m4 0h1m9 0h1m4 0h1m8 0h1m4 0h1m12 0h1m7 0h2m13 0h2m34 0h2m8 0h2m21 0h2m12 0h1m11 0h4m31 0h7m44 0h2m8 0h1m17 0h2m8 0h1m17 0h1m8 0h1m17 0h2m11 0h3m24 0h2m10 0h2m19 0h1m7 0h1m14 0h1m8 0h1m14 0h1m6 0h1m11 0h2m7 0h2m49 0h5m30 0h3m25 0h3m34 0h4m85 0h3m25 0h2m23 0h2m12 0h2M2 153h1m5 0h1m9 0h1m5 0h1m8 0h1m28 0h1m16 0h1m8 0h1m14 0h1m17 0h1m15 0h1m72 0h3m38 0h3m35 0h1m10 0h1m16 0h1m10 0h1m26 0h1m17 0h1m15 0h1m23 0h1m30 0h1m8 0h1m37 0h1m6 0h1m12 0h1m12 0h1m55 0h2m29 0h1m27 0h2m44 0h3m62 0h1m28 0h1m41 0h1M2 154h4m11 0h4m12 0h3m11 0h4m10 0h4m13 0h5m53 0h7m90 0h25m37 0h7m21 0h7m20 0h7m25 0h10m29 0h8m21 0h5m18 0h6m16 0h5m17 0h10m73 0h13m49 0h30m56 0h15m41 0h10m22 0h1M0 155h4m11 0h5m11 0h4m10 0h4m10 0h4m12 0h6m18 0h4m28 0h9m21 0h7m77 0h25m28 0h9m19 0h8m19 0h8m25 0h13m25 0h10m18 0h7m17 0h7m14 0h6m17 0h19m68 0h12m55 0h36m31 0h15m43 0h11m23 0h4M16 157h1m23 0h1m5 0h1m43 0h1m11 0h1m31 0h1m35 0h1m31 0h1m59 0h1m79 0h1m27 0h1m23 0h1m15 0h1m19 0h1m11 0h1m87 0h1m42 0h1m60 0h1m63 0h1M86 158h1m85 0h1m45 0h1m49 0h1m64 0h1m112 0h1m89 0h1m170 0h1m91 0h1m18 0h1M6 159h1m15 0h1m6 0h1m43 0h1m100 0h1m50 0h1m49 0h1m17 0h1m54 0h1m52 0h1m69 0h1m74 0h1M5 160h1m15 0h1m14 0h1m4 0h1m28 0h1m12 0h1m8 0h1m19 0h1m11 0h1m18 0h1m9 0h1m43 0h2m33 0h4m48 0h1m10 0h1m17 0h1m9 0h1m16 0h1m9 0h1m17 0h1m12 0h2m24 0h2m11 0h1m19 0h1m8 0h1m14 0h1m8 0h1m14 0h1m6 0h1m11 0h1m8 0h1m46 0h3m35 0h1m26 0h1m35 0h3m55 0h5m34 0h1m27 0h1m22 0h1m13 0h1M2 161h2m4 0h1m9 0h2m4 0h1m8 0h2m3 0h2m8 0h1m4 0h1m8 0h1m4 0h2m10 0h2m6 0h2m16 0h3m9 0h4m16 0h3m7 0h3m53 0h10m27 0h9m37 0h3m7 0h3m15 0h3m7 0h3m14 0h3m7 0h2m17 0h3m9 0h5m23 0h4m7 0h3m18 0h3m4 0h3m14 0h3m3 0h3m15 0h2m3 0h2m13 0h3m2 0h4m58 0h26m34 0h31m92 0h22m30 0h11M0 162h1m4 0h2m8 0h2m4 0h2m8 0h1m4 0h2m7 0h2m4 0h1m8 0h1m4 0h1m9 0h2m6 0h3m14 0h3m9 0h3m17 0h3m8 0h3m17 0h3m49 0h10m24 0h9m30 0h3m7 0h3m15 0h3m7 0h3m14 0h3m7 0h2m17 0h4m9 0h5m22 0h4m7 0h4m17 0h3m4 0h2m15 0h3m3 0h3m15 0h2m2 0h2m13 0h4m2 0h5m63 0h23m36 0h33m78 0h22m32 0h11M3 163h1m9 0h1m5 0h1m9 0h1m4 0h1m8 0h2m3 0h2m8 0h1m4 0h1m8 0h2m6 0h2m13 0h3m8 0h4m17 0h3m8 0h3m15 0h4m9 0h4m18 0h2m33 0h10m21 0h8m25 0h3m7 0h3m15 0h3m7 0h3m14 0h3m7 0h2m18 0h4m10 0h4m22 0h4m7 0h3m17 0h3m4 0h2m15 0h3m3 0h3m14 0h2m2 0h2m14 0h4m2 0h6m67 0h19m40 0h35m65 0h20m35 0h11M0 164h2m8 0h2m4 0h2m8 0h2m4 0h1m8 0h1m4 0h1m8 0h2m3 0h2m8 0h1m5 0h2m13 0h3m7 0h4m18 0h3m7 0h3m16 0h3m20 0h8m5 0h2m4 0h2m40 0h8m20 0h7m21 0h3m8 0h2m15 0h3m7 0h3m14 0h3m7 0h2m19 0h4m10 0h4m22 0h4m6 0h3m17 0h2m4 0h3m15 0h3m3 0h3m13 0h3m2 0h2m14 0h5m3 0h7m68 0h16m45 0h37m51 0h18m38 0h12m21 0h1M8 165h1m4 0h2m9 0h1m4 0h2m7 0h2m4 0h1m8 0h1m4 0h2m7 0h2m4 0h2m12 0h2m7 0h3m18 0h4m8 0h3m15 0h3m8 0h5m2 0h6m26 0h5m43 0h7m18 0h5m19 0h3m8 0h2m15 0h3m7 0h3m14 0h3m7 0h3m19 0h4m10 0h4m22 0h3m6 0h4m16 0h2m4 0h2m16 0h2m4 0h3m13 0h2m2 0h2m16 0h5m3 0h9m68 0h14m51 0h37m38 0h17m41 0h11m22 0h3M5 166h2m4 0h1m9 0h2m4 0h1m8 0h2m3 0h2m8 0h1m4 0h1m8 0h1m4 0h2m11 0h2m7 0h3m17 0h3m9 0h3m16 0h3m7 0h3m16 0h4m14 0h4m10 0h7m41 0h7m16 0h5m16 0h3m8 0h3m14 0h3m7 0h3m14 0h3m7 0h3m20 0h5m9 0h4m21 0h4m6 0h3m15 0h3m3 0h3m15 0h3m4 0h2m13 0h2m2 0h2m17 0h7m3 0h12m66 0h11m57 0h36m27 0h16m43 0h11m23 0h5M3 167h1m4 0h2m8 0h2m4 0h2m8 0h1m4 0h2m7 0h2m4 0h1m7 0h2m4 0h1m11 0h2m6 0h2m16 0h4m9 0h3m16 0h3m8 0h3m25 0h12m5 0h3m16 0h7m38 0h7m14 0h4m16 0h3m7 0h3m14 0h3m7 0h3m14 0h3m7 0h3m21 0h5m9 0h4m21 0h3m6 0h3m15 0h3m3 0h3m15 0h3m3 0h3m12 0h3m2 0h2m19 0h9m2 0h15m61 0h11m63 0h31m19 0h16m44 0h11m24 0h7M0 168h2m4 0h1m9 0h2m4 0h1m9 0h1m4 0h1m8 0h1m4 0h2m7 0h2m3 0h2m9 0h2m6 0h2m15 0h3m9 0h4m16 0h3m8 0h3m51 0h6m17 0h8m35 0h6m12 0h4m15 0h3m7 0h3m14 0h3m7 0h3m14 0h3m7 0h3m23 0h4m9 0h3m21 0h4m5 0h3m15 0h2m4 0h2m16 0h3m3 0h3m12 0h2m2 0h3m21 0h31m55 0h12m69 0h25m10 0h17m45 0h12m24 0h8M3 169h2m8 0h2m4 0h2m8 0h2m4 0h1m8 0h1m4 0h1m8 0h2m3 0h1m9 0h2m5 0h3m13 0h3m9 0h3m18 0h3m7 0h3m16 0h11m36 0h7m18 0h7m32 0h5m11 0h3m15 0h3m7 0h3m14 0h3m7 0h3m14 0h3m8 0h3m23 0h4m8 0h4m21 0h3m5 0h3m15 0h2m4 0h2m16 0h3m3 0h2m12 0h3m2 0h2m25 0h34m50 0h13m74 0h40m44 0h13m25 0h8M1 170h2m8 0h1m5 0h1m9 0h1m4 0h2m7 0h2m4 0h1m8 0h1m4 0h1m8 0h2m5 0h2m13 0h3m8 0h3m18 0h3m8 0h3m15 0h3m15 0h3m39 0h7m17 0h6m30 0h5m9 0h3m15 0h3m7 0h3m14 0h3m7 0h3m14 0h3m8 0h4m23 0h4m8 0h4m20 0h3m5 0h3m14 0h3m3 0h3m16 0h3m2 0h3m12 0h2m2 0h3m30 0h35m44 0h16m77 0h27m44 0h15m25 0h9M10 171h1m2 0h1m12 0h1m2 0h1m10 0h1m2 0h2m10 0h1m2 0h1m10 0h1m3 0h1m16 0h2m4 0h2m23 0h3m4 0h3m20 0h2m4 0h5m3 0h4m5 0h2m14 0h3m33 0h5m9 0h5m35 0h4m4 0h2m19 0h3m3 0h3m19 0h2m4 0h2m19 0h3m3 0h4m29 0h4m2 0h4m24 0h7m17 0h6m19 0h5m14 0h5m46 0h22m46 0h13m81 0h14m50 0h11m30 0h6M7 172h1m2 0h2m11 0h1m2 0h2m10 0h1m2 0h1m10 0h2m2 0h1m9 0h2m2 0h1m15 0h2m3 0h3m22 0h3m4 0h3m20 0h3m4 0h2m17 0h2m5 0h10m5 0h1m38 0h5m8 0h4m33 0h3m4 0h2m19 0h3m3 0h3m19 0h2m4 0h2m19 0h3m4 0h3m30 0h4m2 0h4m24 0h6m17 0h6m19 0h4m15 0h5m52 0h21m43 0h16m80 0h2m50 0h13m31 0h7M3 173h2m4 0h2m8 0h2m4 0h2m7 0h2m4 0h1m8 0h1m4 0h2m7 0h1m4 0h2m10 0h3m6 0h3m16 0h3m9 0h3m16 0h3m8 0h3m20 0h3m15 0h1m7 0h5m31 0h6m14 0h5m23 0h3m7 0h3m15 0h3m7 0h3m15 0h2m7 0h3m15 0h4m8 0h4m24 0h4m7 0h4m19 0h3m4 0h2m14 0h3m4 0h3m15 0h3m2 0h2m12 0h3m2 0h4m51 0h29m34 0h27m110 0h21m27 0h11M1 174h2m4 0h1m9 0h1m4 0h2m8 0h2m3 0h2m8 0h1m4 0h1m8 0h1m4 0h1m10 0h2m6 0h2m15 0h4m9 0h3m17 0h3m7 0h3m30 0h12m3 0h2m10 0h6m30 0h5m14 0h5m21 0h2m7 0h3m15 0h3m7 0h3m15 0h2m7 0h3m16 0h3m9 0h4m24 0h4m7 0h3m19 0h3m4 0h2m14 0h3m4 0h3m15 0h2m2 0h2m13 0h3m2 0h4m57 0h27m33 0h30m96 0h22m30 0h11M4 175h2m8 0h2m4 0h2m8 0h1m4 0h2m7 0h2m3 0h2m8 0h1m4 0h1m9 0h2m5 0h3m13 0h4m8 0h4m17 0h3m7 0h3m19 0h3m31 0h3m13 0h5m29 0h5m13 0h5m19 0h2m8 0h2m15 0h3m7 0h3m15 0h3m6 0h3m16 0h4m9 0h5m23 0h3m7 0h4m18 0h2m4 0h3m14 0h3m4 0h3m14 0h2m2 0h3m13 0h3m2 0h5m62 0h23m35 0h33m82 0h22m32 0h11M2 176h1m8 0h2m4 0h2m8 0h2m4 0h1m8 0h1m4 0h2m7 0h2m3 0h2m8 0h2m5 0h2m13 0h3m8 0h3m18 0h3m8 0h3m15 0h4m9 0h4m29 0h5m13 0h6m27 0h5m12 0h4m18 0h2m8 0h3m14 0h3m7 0h3m15 0h2m7 0h3m17 0h4m9 0h5m22 0h4m7 0h3m18 0h2m4 0h2m15 0h3m4 0h2m15 0h2m2 0h2m14 0h3m3 0h5m66 0h20m39 0h34m69 0h21m34 0h11M0 177h1m8 0h2m4 0h1m9 0h2m3 0h2m8 0h1m4 0h1m8 0h2m3 0h2m7 0h2m5 0h2m12 0h2m8 0h3m18 0h3m8 0h3m16 0h3m19 0h3m31 0h5m13 0h6m26 0h4m12 0h4m16 0h3m7 0h3m14 0h3m7 0h3m15 0h2m7 0h3m18 0h4m10 0h4m22 0h4m6 0h4m16 0h3m4 0h2m15 0h3m3 0h3m14 0h2m2 0h2m15 0h4m2 0h7m68 0h17m44 0h35m56 0h19m37 0h12m20 0h1M6 178h2m4 0h2m8 0h2m4 0h2m7 0h2m4 0h1m8 0h1m4 0h1m8 0h1m5 0h2m11 0h2m7 0h3m18 0h3m8 0h3m16 0h3m8 0h6m3 0h4m7 0h6m7 0h4m20 0h4m13 0h5m25 0h5m10 0h4m15 0h3m7 0h3m15 0h2m7 0h3m15 0h2m7 0h3m19 0h4m10 0h4m22 0h3m7 0h3m16 0h3m3 0h3m15 0h3m3 0h3m13 0h2m2 0h3m15 0h5m3 0h8m69 0h14m49 0h37m43 0h16m41 0h11m22 0h2M4 179h2m4 0h1m9 0h1m5 0h1m8 0h1m4 0h2m7 0h2m4 0h1m8 0h1m4 0h2m10 0h3m6 0h3m16 0h4m8 0h4m15 0h3m8 0h3m16 0h3m12 0h3m6 0h2m22 0h5m13 0h4m24 0h4m10 0h3m15 0h3m7 0h3m15 0h2m8 0h2m15 0h2m7 0h3m20 0h5m9 0h4m21 0h4m6 0h3m16 0h2m4 0h2m16 0h3m3 0h3m13 0h2m2 0h2m16 0h7m3 0h10m67 0h13m54 0h37m31 0h16m42 0h11m23 0h4M3 180h1m15 0h1m14 0h1m8 0h1m28 0h1m7 0h1m14 0h1m11 0h1m31 0h1m16 0h1m16 0h1m15 0h1m55 0h3m29 0h2m30 0h1m16 0h1m10 0h1m15 0h1m10 0h1m22 0h1m15 0h1m33 0h1m14 0h1m8 0h1m14 0h1m20 0h1m23 0h1m29 0h3m53 0h1m15 0h1m50 0h2m41 0h1m14 0h2m21 0h1m37 0h1m15 0h1M15 182h1m51 0h1m19 0h1m12 0h1m62 0h1m1 0h1m48 0h1m52 0h1m37 0h1m108 0h1m17 0h1m12 0h1m139 0h1m58 0h1m60 0h1M51 183h1m32 0h1m43 0h1m15 0h1m12 0h1m35 0h1m33 0h1m48 0h1m102 0h1m22 0h1m33 0h1m11 0h1m36 0h1m8 0h1m9 0h1m43 0h1m47 0h1m60 0h1m57 0h1m19 0h1m30 0h1m63 0h1M20 184h1m72 0h1m16 0h1m30 0h1m34 0h1m62 0h1m84 0h1m14 0h1m11 0h1m14 0h1m55 0h1m16 0h1m34 0h1m12 0h1m18 0h1m11 0h1m41 0h1m108 0h1m50 0h1m8 0h1M3 185h2m3 0h2m9 0h2m3 0h2m8 0h2m3 0h1m9 0h1m4 0h1m8 0h1m4 0h1m11 0h3m5 0h2m18 0h3m8 0h3m17 0h3m7 0h2m52 0h9m26 0h9m40 0h3m6 0h3m16 0h3m6 0h3m16 0h2m6 0h3m17 0h3m9 0h4m23 0h4m8 0h3m18 0h2m5 0h3m13 0h2m6 0h3m13 0h2m4 0h2m11 0h3m6 0h4m51 0h7m25 0h4m25 0h5m32 0h8m75 0h4m22 0h5m23 0h3m11 0h2M0 186h1m9 0h6m10 0h6m8 0h6m9 0h6m8 0h8m13 0h12m19 0h13m17 0h53m60 0h24m16 0h12m16 0h11m16 0h13m23 0h16m20 0h12m14 0h9m15 0h9m11 0h9m22 0h44m39 0h21m65 0h44m38 0h19m21 0h12"/>
<path stroke="#0000d2" d="M10 8h1m15 0h1m22 0h1m5 0h1m25 0h1m9 0h1m48 0h1m11 0h1m89 0h2m81 0h1m26 0h1m16 0h1m15 0h1m37 0h1m27 0h1m23 0h1m32 0h1m10 0h1m49 0h1m36 0h1m24 0h1m41 0h1m82 0h1m29 0h1M8 9h1m15 0h1m36 0h1m149 0h1m45 0h1m155 0h1m97 0h1m15 0h1m54 0h1m58 0h1m50 0h1m55 0h1M51 10h1m7 0h1m71 0h1m12 0h1m23 0h1m58 0h1m42 0h1m35 0h1m91 0h1m34 0h1m14 0h1m9 0h1m35 0h1m7 0h1m35 0h1m79 0h1m37 0h1m52 0h1m30 0h1m74 0h1M21 11h1m14 0h1m60 0h1m45 0h1m14 0h1m32 0h1m40 0h1m129 0h1m18 0h1m102 0h1m59 0h1m54 0h1m20 0h1m40 0h1m101 0h1m32 0h1M2 12h1m10 0h1m4 0h1m10 0h1m3 0h1m9 0h1m18 0h1m10 0h1m5 0h1m16 0h1m8 0h1m22 0h1m8 0h1m19 0h1m14 0h1m17 0h1m2 0h1m57 0h4m20 0h3m22 0h1m8 0h1m18 0h1m7 0h1m18 0h1m7 0h1m25 0h2m10 0h2m23 0h2m8 0h1m16 0h1m6 0h1m17 0h1m6 0h1m12 0h1m5 0h1m18 0h2m24 0h4m56 0h1m13 0h1m55 0h3m35 0h1m15 0h1m18 0h2m39 0h1m13 0h1m21 0h1M12 21h2m14 0h2m12 0h2m13 0h1m14 0h2m20 0h3m29 0h3m26 0h3m14 0h4m12 0h3m2 0h2m80 0h6m28 0h2m25 0h3m24 0h3m35 0h5m30 0h3m21 0h3m22 0h2m17 0h2m36 0h23m54 0h11m80 0h31m47 0h11m27 0h7M9 22h1m4 0h1m10 0h1m4 0h1m23 0h1m4 0h1m14 0h1m14 0h1m8 0h1m22 0h1m9 0h1m18 0h1m8 0h2m7 0h2m33 0h3m64 0h3m14 0h2m17 0h1m8 0h1m18 0h1m8 0h1m17 0h1m9 0h1m26 0h2m10 0h2m21 0h2m8 0h1m14 0h1m7 0h1m16 0h1m6 0h1m11 0h1m6 0h1m27 0h3m37 0h3m57 0h2m68 0h2m32 0h1m38 0h1m18 0h1m22 0h1M7 23h1m4 0h1m10 0h1m4 0h1m9 0h1m18 0h1m14 0h1m22 0h1m21 0h1m9 0h1m19 0h1m8 0h1m17 0h1m14 0h1m4 0h1m19 0h4m60 0h2m11 0h1m18 0h1m7 0h2m17 0h1m8 0h1m17 0h2m9 0h2m26 0h2m10 0h1m21 0h1m8 0h1m14 0h1m7 0h1m16 0h1m5 0h1m12 0h1m6 0h1m37 0h3m36 0h2m31 0h1m25 0h2m66 0h1m17 0h1m36 0h2m21 0h1M10 30h2m1 0h2m11 0h2m1 0h2m10 0h1m2 0h1m10 0h2m1 0h1m11 0h2m1 0h2m16 0h3m2 0h3m24 0h3m2 0h3m21 0h3m2 0h4m8 0h4m3 0h12m2 0h4m2 0h4m71 0h6m5 0h4m21 0h2m3 0h2m20 0h3m2 0h3m19 0h3m2 0h4m29 0h4m3 0h3m25 0h3m2 0h3m17 0h2m2 0h2m18 0h3m1 0h2m14 0h2m1 0h3m29 0h6m23 0h6m45 0h1m12 0h3m73 0h5m27 0h3m42 0h3m11 0h2m24 0h1m7 0h1M3 42h3m12 0h4m12 0h3m11 0h3m11 0h3m14 0h5m22 0h7m25 0h6m87 0h22m42 0h6m21 0h6m22 0h5m26 0h9m30 0h7m22 0h5m19 0h5m17 0h4m17 0h9m70 0h7m7 0h3m43 0h10m14 0h11m59 0h5m8 0h6m37 0h3m5 0h3M50 43h1m8 0h1m4 0h1m34 0h1m11 0h1m19 0h1m10 0h1m18 0h1m5 0h2m65 0h3m32 0h2m35 0h1m16 0h1m9 0h1m16 0h1m9 0h1m21 0h1m15 0h1m22 0h1m11 0h1m24 0h1m14 0h1m21 0h1m6 0h1m14 0h1m19 0h2m61 0h1m17 0h1m43 0h2m45 0h2m29 0h1m21 0h2m34 0h1m14 0h1m18 0h1M262 46h5m9 0h4M9 54h2m1 0h2m11 0h2m1 0h1m11 0h1m1 0h2m10 0h2m1 0h1m10 0h2m2 0h1m16 0h3m2 0h3m23 0h3m3 0h3m21 0h3m2 0h3m14 0h4m12 0h3m2 0h2m4 0h9m68 0h6m4 0h3m20 0h3m2 0h3m19 0h3m2 0h3m19 0h3m3 0h4m29 0h4m3 0h4m23 0h3m2 0h3m16 0h3m2 0h2m18 0h2m2 0h2m13 0h2m2 0h3m34 0h8m23 0h6m38 0h2m15 0h4m72 0h3m19 0h3m40 0h4m13 0h2m24 0h2m7 0h1M8 55h1m3 0h1m11 0h1m3 0h1m14 0h1m9 0h1m3 0h1m9 0h1m4 0h1m14 0h1m7 0h1m22 0h1m8 0h1m20 0h1m7 0h1m16 0h2m14 0h1m4 0h1m16 0h5m74 0h1m18 0h2m7 0h1m18 0h1m7 0h1m18 0h1m9 0h2m27 0h1m10 0h1m22 0h1m7 0h1m15 0h1m6 0h1m17 0h1m5 0h1m12 0h1m5 0h1m36 0h4m35 0h2m57 0h2m67 0h1m19 0h1m37 0h2m20 0h1m34 0h1M139 56h1m60 0h1m45 0h1m67 0h1m11 0h1m26 0h1m55 0h1m79 0h1m7 0h1m10 0h1m61 0h1m105 0h1M5 57h4m12 0h4m11 0h3m11 0h4m10 0h4m14 0h6m23 0h8m23 0h7m63 0h26m52 0h7m21 0h6m21 0h6m23 0h10m30 0h8m23 0h6m17 0h6m18 0h4m15 0h7m62 0h12m5 0h8m34 0h11m8 0h14m85 0h8m7 0h9m29 0h5m3 0h4M15 66h1m4 0h1m10 0h1m13 0h1m4 0h1m13 0h1m10 0h1m6 0h1m17 0h1m9 0h2m20 0h2m8 0h1m19 0h5m68 0h5m25 0h4m27 0h1m8 0h1m17 0h2m7 0h1m17 0h2m7 0h1m22 0h2m12 0h2m23 0h2m9 0h1m17 0h1m6 0h1m15 0h2m6 0h2m18 0h1m15 0h1m16 0h3m63 0h1m16 0h1m44 0h3m42 0h2m32 0h1m20 0h2m35 0h1m13 0h1M21 67h1m14 0h1m60 0h1m14 0h1m30 0h1m14 0h1m32 0h1m40 0h1m102 0h1m26 0h1m18 0h1m38 0h1m63 0h1m114 0h1m20 0h1m40 0h1m101 0h1M48 68h1m57 0h1m31 0h1m39 0h9m9 0h1m53 0h1m32 0h1m70 0h1m12 0h1m109 0h1m86 0h1m44 0h1m18 0h1m51 0h1m43 0h2m81 0h1m18 0h1M47 69h1m21 0h1m8 0h1m43 0h1m13 0h1m64 0h1m189 0h1m73 0h1m106 0h1m60 0h1m55 0h1m59 0h1M4 75h1m15 0h1m9 0h1m4 0h1m23 0h1m22 0h1m16 0h1m10 0h1m20 0h1m9 0h1m18 0h2m5 0h2m68 0h4m28 0h2m25 0h1m9 0h1m17 0h1m26 0h1m8 0h1m22 0h2m13 0h1m23 0h1m10 0h1m16 0h1m7 0h1m15 0h1m21 0h1m5 0h1m15 0h1m19 0h2m61 0h2m16 0h1m45 0h2m43 0h2m27 0h1m20 0h2m50 0h1M29 76h1m28 0h1m14 0h1m55 0h1m60 0h1m50 0h1m33 0h1m21 0h1m10 0h1m92 0h1m144 0h1m57 0h1m16 0h1m47 0h1m45 0h1m19 0h1m22 0h1m36 0h1m34 0h1M556 78h18m49 0h12m82 0h17m49 0h11m29 0h7M12 79h1m15 0h1m23 0h1m13 0h1m27 0h1m21 0h1m9 0h1m19 0h1m8 0h1m18 0h2m43 0h3m57 0h2m11 0h1m17 0h1m9 0h1m17 0h1m8 0h1m17 0h1m11 0h1m26 0h1m11 0h1m21 0h1m23 0h1m7 0h1m15 0h1m6 0h1m11 0h1m7 0h1m39 0h3m37 0h1m29 0h1m28 0h2m63 0h1m15 0h1m35 0h1m23 0h1m22 0h1m12 0h1M50 80h1m41 0h1m18 0h1m12 0h1m17 0h1m35 0h9m48 0h2m86 0h1m16 0h1m9 0h1m31 0h1m24 0h1m13 0h1m18 0h1m32 0h1m89 0h1m38 0h1m24 0h1m37 0h2m55 0h2m2 0h1m33 0h1m28 0h1m22 0h1M47 81h1m56 0h1m31 0h1m71 0h1m47 0h1m72 0h1m61 0h1m36 0h1m38 0h1m31 0h1m26 0h1m85 0h1m26 0h1m50 0h1M0 82h1m100 0h1m115 0h1m73 0h1m12 0h1m41 0h1m48 0h1m35 0h1m37 0h1m11 0h1m50 0h1m55 0h1m113 0h1m41 0h1m56 0h1M0 83h1m4 0h1m15 0h1m9 0h1m4 0h1m13 0h1m32 0h1m17 0h1m10 0h1m20 0h1m8 0h1m21 0h2m66 0h4m29 0h2m28 0h1m8 0h1m18 0h1m8 0h1m17 0h1m8 0h1m21 0h2m12 0h2m23 0h1m10 0h1m17 0h1m7 0h1m15 0h1m7 0h1m13 0h1m5 0h1m14 0h1m16 0h2m63 0h2m17 0h1m41 0h3m43 0h2m35 0h1m21 0h1m49 0h1m18 0h1M13 87h1m24 0h1m4 0h1m52 0h1m20 0h1m10 0h1m18 0h1m9 0h1m14 0h2m19 0h1m20 0h4m58 0h2m13 0h1m17 0h1m8 0h1m17 0h1m9 0h1m16 0h1m11 0h1m26 0h1m12 0h1m20 0h1m23 0h1m8 0h1m15 0h1m6 0h1m11 0h1m7 0h1m33 0h3m39 0h2m31 0h1m25 0h2m65 0h2m20 0h1m35 0h2m21 0h1m22 0h1m11 0h1M5 88h1m4 0h1m10 0h1m4 0h1m9 0h1m18 0h1m27 0h1m7 0h1m20 0h1m10 0h1m19 0h1m8 0h1m45 0h2m30 0h3m52 0h1m27 0h1m8 0h1m18 0h1m7 0h1m19 0h1m11 0h1m26 0h1m11 0h1m20 0h1m7 0h1m14 0h1m7 0h1m43 0h1m48 0h3m32 0h1m28 0h1m32 0h3m97 0h1m25 0h1m24 0h1m12 0h1M1 92h2m11 0h1m2 0h1m12 0h1m1 0h2m10 0h2m1 0h1m10 0h2m1 0h1m12 0h2m1 0h3m17 0h3m3 0h3m23 0h3m3 0h3m20 0h5m3 0h6m19 0h2m58 0h10m7 0h7m25 0h3m3 0h3m19 0h3m2 0h3m19 0h3m2 0h3m26 0h5m3 0h4m26 0h3m3 0h3m18 0h2m2 0h2m18 0h2m2 0h3m14 0h1m2 0h2m19 0h5m11 0h8m62 0h2m9 0h2m57 0h7m27 0h3m19 0h3m13 0h3m41 0h2m9 0h2m22 0h2M16 93h1m24 0h1m4 0h1m13 0h1m9 0h1m21 0h1m9 0h1m21 0h1m9 0h1m18 0h1m43 0h2m63 0h3m19 0h1m28 0h1m17 0h1m8 0h1m17 0h1m9 0h1m25 0h1m12 0h1m22 0h1m9 0h1m15 0h1m7 0h1m23 0h1m18 0h1m22 0h2m35 0h2m45 0h1m15 0h2m63 0h3m48 0h1m39 0h1m16 0h1m21 0h1m9 0h1M8 94h1m15 0h1m19 0h1m8 0h1m13 0h1m6 0h1m43 0h1m11 0h1m17 0h1m10 0h1m10 0h1m40 0h3m58 0h2m16 0h1m16 0h1m37 0h1m28 0h1m59 0h1m24 0h1m8 0h1m42 0h1m28 0h2m43 0h1m58 0h1m65 0h2m27 0h1m35 0h2M12 95h1m15 0h1m23 0h1m4 0h1m8 0h1m18 0h1m8 0h1m20 0h1m10 0h2m18 0h1m27 0h1m19 0h1m24 0h4m56 0h2m11 0h1m17 0h1m9 0h1m17 0h1m8 0h1m17 0h1m11 0h1m26 0h1m11 0h2m20 0h1m8 0h1m22 0h1m15 0h1m6 0h1m11 0h1m7 0h1m38 0h3m38 0h2m28 0h1m28 0h3m62 0h1m15 0h1m34 0h2m23 0h1m22 0h1m12 0h1M5 96h7m9 0h7m8 0h6m8 0h7m7 0h7m11 0h11m18 0h14m17 0h13m22 0h11m8 0h43m44 0h14m15 0h12m16 0h11m16 0h17m22 0h16m18 0h11m12 0h11m14 0h8m11 0h11m44 0h41m24 0h41m53 0h8m31 0h30m22 0h15M16 114h1m15 0h1m13 0h1m4 0h1m13 0h1m11 0h1m6 0h1m17 0h1m10 0h1m20 0h1m9 0h1m81 0h5m29 0h3m31 0h1m8 0h1m17 0h2m7 0h2m17 0h1m7 0h1m21 0h2m12 0h2m24 0h1m10 0h1m17 0h1m23 0h1m7 0h1m13 0h1m5 0h1m14 0h1m13 0h3m62 0h2m19 0h1m38 0h2m43 0h3m43 0h1m21 0h2m32 0h1m14 0h1m17 0h1M3 115h1m10 0h1m4 0h1m10 0h1m3 0h1m9 0h1m3 0h1m10 0h1m14 0h1m5 0h1m17 0h2m7 0h2m21 0h2m6 0h2m19 0h3m6 0h3m73 0h6m19 0h4m25 0h2m6 0h2m18 0h2m6 0h1m18 0h1m6 0h2m24 0h3m9 0h2m24 0h2m7 0h2m17 0h1m5 0h2m16 0h1m6 0h1m13 0h1m4 0h1m17 0h2m17 0h5m61 0h2m13 0h1m51 0h3m38 0h1m23 0h1m18 0h2m38 0h1m12 0h2m20 0h1M10 116h1m15 0h1m5 0h1m22 0h1m21 0h1m13 0h1m31 0h1m28 0h1m46 0h1m60 0h2m23 0h1m17 0h1m26 0h1m10 0h1m15 0h1m11 0h1m23 0h1m14 0h1m20 0h1m11 0h1m38 0h1m19 0h1m7 0h1m19 0h2m39 0h2m42 0h1m18 0h1m60 0h2m52 0h1m37 0h1M16 117h1m23 0h1m5 0h1m43 0h1m11 0h1m31 0h1m16 0h1m50 0h1m58 0h2m24 0h1m15 0h1m106 0h1m19 0h1m11 0h1m37 0h1m19 0h1m73 0h1m39 0h1m20 0h1m60 0h2m48 0h1m36 0h1m39 0h1m11 0h1M13 118h1m15 0h1m28 0h1m8 0h1m5 0h1m13 0h1m41 0h1m41 0h1m18 0h1m1 0h1m21 0h2m58 0h2m32 0h1m9 0h1m56 0h1m25 0h1m12 0h1m20 0h1m9 0h1m46 0h1m19 0h1m31 0h2m41 0h2m31 0h1m25 0h2m65 0h1m23 0h1m35 0h2m21 0h1m34 0h1M5 119h1m6 0h1m15 0h1m54 0h1m28 0h1m61 0h1m58 0h1m45 0h1m15 0h1m14 0h1m93 0h1m15 0h1m28 0h1m36 0h1m18 0h1m10 0h1m37 0h1m45 0h1m131 0h1m29 0h1m50 0h1M9 120h1m15 0h1m8 0h1m19 0h1m25 0h1m8 0h1m17 0h1m42 0h1m54 0h2m40 0h2m39 0h1m10 0h1m43 0h1m43 0h1m23 0h1m13 0h1m17 0h1m22 0h1m108 0h2m102 0h2m72 0h1m28 0h1M1 121h1m4 0h1m15 0h1m9 0h1m4 0h1m39 0h1m7 0h1m17 0h1m11 0h1m19 0h1m9 0h1m76 0h4m32 0h3m32 0h1m8 0h1m17 0h1m9 0h1m17 0h1m8 0h1m20 0h1m13 0h2m23 0h1m11 0h1m17 0h1m7 0h1m15 0h1m7 0h1m34 0h1m13 0h2m61 0h2m21 0h1m35 0h2m44 0h3m47 0h1m23 0h2m30 0h1m14 0h1m17 0h1M51 122h1m7 0h1m24 0h1m14 0h1m44 0h1m16 0h1m65 0h2m77 0h1m91 0h1m34 0h1m14 0h1m9 0h1m35 0h1m7 0h1m35 0h1m57 0h1m21 0h1m37 0h1m52 0h1m30 0h1m74 0h1M0 123h3m13 0h3m13 0h2m12 0h3m11 0h3m13 0h4m21 0h6m26 0h6m110 0h17m34 0h5m22 0h5m22 0h5m29 0h8m30 0h6m21 0h4m20 0h5m16 0h3m21 0h13m72 0h3m6 0h2m56 0h7m20 0h7m33 0h4m8 0h3m43 0h3m6 0h2m23 0h1M0 124h1m10 0h1m3 0h1m11 0h1m3 0h1m13 0h1m10 0h1m3 0h1m10 0h1m4 0h1m15 0h2m6 0h2m22 0h2m6 0h2m20 0h1m8 0h4m9 0h12m7 0h2m67 0h4m13 0h3m20 0h2m5 0h2m19 0h1m6 0h2m17 0h2m6 0h2m27 0h2m9 0h2m23 0h2m6 0h2m16 0h1m5 0h1m17 0h1m5 0h1m13 0h1m4 0h2m23 0h3m30 0h4m46 0h1m14 0h2m66 0h3m45 0h2m40 0h1m14 0h1m22 0h1m9 0h1M10 125h4m12 0h4m11 0h3m11 0h4m11 0h4m17 0h6m26 0h7m22 0h6m14 0h19m2 0h7m75 0h11m22 0h6m22 0h6m21 0h7m31 0h8m27 0h6m18 0h5m20 0h4m15 0h5m34 0h31m45 0h4m6 0h6m77 0h5m17 0h5m44 0h5m7 0h3m25 0h3m4 0h2M6 127h1m3 0h1m15 0h1m13 0h1m10 0h1m3 0h1m9 0h1m3 0h1m14 0h1m5 0h2m21 0h2m7 0h2m19 0h2m6 0h2m46 0h4m22 0h7m53 0h2m7 0h1m19 0h1m6 0h2m18 0h2m5 0h2m19 0h2m8 0h2m27 0h3m7 0h2m21 0h2m5 0h1m16 0h1m5 0h2m16 0h1m4 0h1m13 0h1m6 0h1m50 0h3m30 0h2m28 0h2m30 0h3m98 0h2m23 0h2m24 0h1M6 128h1m15 0h1m14 0h1m13 0h2m12 0h2m17 0h3m26 0h4m27 0h3m71 0h13m61 0h3m25 0h2m25 0h3m27 0h4m35 0h4m27 0h2m21 0h3m20 0h2m18 0h3m68 0h19m39 0h26m92 0h18m34 0h9M116 130h1m102 0h1m43 0h1m67 0h1m26 0h1m57 0h1m39 0h1m74 0h1m57 0h1m25 0h1m32 0h1m51 0h1m71 0h1m45 0h1M4 131h1m15 0h1m9 0h1m4 0h1m23 0h1m15 0h1m6 0h1m16 0h1m10 0h1m20 0h1m9 0h1m18 0h3m4 0h2m68 0h5m26 0h3m25 0h1m9 0h1m17 0h1m8 0h1m17 0h1m8 0h1m22 0h2m12 0h2m23 0h1m10 0h1m16 0h1m7 0h1m15 0h1m7 0h1m13 0h1m5 0h1m15 0h1m18 0h3m61 0h2m16 0h1m45 0h3m42 0h2m27 0h1m20 0h2m36 0h1m13 0h1m19 0h1M2 132h1m9 0h1m15 0h1m4 0h1m13 0h1m9 0h1m14 0h1m5 0h1m16 0h1m8 0h2m21 0h1m8 0h2m18 0h1m16 0h2m14 0h1m4 0h1m58 0h4m21 0h2m21 0h1m8 0h1m17 0h2m7 0h1m17 0h1m8 0h1m25 0h2m11 0h2m22 0h1m9 0h1m16 0h1m6 0h1m16 0h1m7 0h1m12 0h1m5 0h1m18 0h2m28 0h4m52 0h1m13 0h1m57 0h3m34 0h1m11 0h1m19 0h1m40 0h1m13 0h1m21 0h1M10 133h1m15 0h1m5 0h1m22 0h1m21 0h1m13 0h1m31 0h1m28 0h1m46 0h1m60 0h2m23 0h1m17 0h1m26 0h1m10 0h1m15 0h1m11 0h1m23 0h1m14 0h1m20 0h1m11 0h1m38 0h1m19 0h1m7 0h1m19 0h2m39 0h2m42 0h1m18 0h1m60 0h2m52 0h1m37 0h1M39 134h1m4 0h1m9 0h1m13 0h1m5 0h1m14 0h1m7 0h1m22 0h1m9 0h1m18 0h2m7 0h2m10 0h2m19 0h2m12 0h5m62 0h3m13 0h1m18 0h1m8 0h1m18 0h1m7 0h2m17 0h1m9 0h1m27 0h1m11 0h1m21 0h2m7 0h1m15 0h1m7 0h1m16 0h1m18 0h1m6 0h1m29 0h3m38 0h2m36 0h1m20 0h2m68 0h2m27 0h1m38 0h1m19 0h1m22 0h1m10 0h1M4 135h1m15 0h1m14 0h1m5 0h1m68 0h1m30 0h1m56 0h1m40 0h2m72 0h1m10 0h1m26 0h1m16 0h1m39 0h1m13 0h1m41 0h1m9 0h1m21 0h1m21 0h1m47 0h1m37 0h1m24 0h1m40 0h1m87 0h1m29 0h1M140 136h1m57 0h1m44 0h1m69 0h1m54 0h1m197 0h1m39 0h1m22 0h1m43 0h1m82 0h1M2 137h1m4 0h1m25 0h1m18 0h1m13 0h1m19 0h1m18 0h1m10 0h1m20 0h1m8 0h1m71 0h4m30 0h3m37 0h1m7 0h2m17 0h2m7 0h1m18 0h1m7 0h1m20 0h2m11 0h2m25 0h1m10 0h1m18 0h1m7 0h1m15 0h1m7 0h1m14 0h1m19 0h1m10 0h2m62 0h2m22 0h1m33 0h2m40 0h3m58 0h1m23 0h2m61 0h1M5 138h1m10 0h1m4 0h1m14 0h1m9 0h1m36 0h1m18 0h1m9 0h1m21 0h1m8 0h1m86 0h4m27 0h3m30 0h2m7 0h1m18 0h1m8 0h1m17 0h1m8 0h1m21 0h2m12 0h1m25 0h1m9 0h1m18 0h1m6 0h1m15 0h1m7 0h1m14 0h1m4 0h1m15 0h1m13 0h3m63 0h2m58 0h3m42 0h3m40 0h1m20 0h2m34 0h1m13 0h1m18 0h1M3 139h1m30 0h1m9 0h1m13 0h1m21 0h1m16 0h1m9 0h1m21 0h2m8 0h1m18 0h1m11 0h2m19 0h2m53 0h3m24 0h2m24 0h1m7 0h2m17 0h1m8 0h1m17 0h1m8 0h1m24 0h1m12 0h1m24 0h1m9 0h1m16 0h1m6 0h1m16 0h1m7 0h1m12 0h1m5 0h1m17 0h1m21 0h4m59 0h2m13 0h1m51 0h3m39 0h1m19 0h2m18 0h2m38 0h1m13 0h1m20 0h1M1 140h1m30 0h1m9 0h1m18 0h1m9 0h1m5 0h1m15 0h1m9 0h1m22 0h1m8 0h1m19 0h1m19 0h2m11 0h1m6 0h1m62 0h3m19 0h3m19 0h1m8 0h1m18 0h1m8 0h1m17 0h1m8 0h1m25 0h2m11 0h1m23 0h1m8 0h2m15 0h1m6 0h1m16 0h1m7 0h1m18 0h1m20 0h2m31 0h3m49 0h1m14 0h1m61 0h3m29 0h3m2 0h3m20 0h1m39 0h1m14 0h1m31 0h1M10 141h1m4 0h1m10 0h1m18 0h1m9 0h1m13 0h1m5 0h1m15 0h1m8 0h1m21 0h2m8 0h1m19 0h1m9 0h6m31 0h3m64 0h3m16 0h2m18 0h1m8 0h1m18 0h1m7 0h1m17 0h2m8 0h1m26 0h2m11 0h1m22 0h1m8 0h1m15 0h1m7 0h1m16 0h1m6 0h1m18 0h1m25 0h2m35 0h3m42 0h1m16 0h2m67 0h2m39 0h2m38 0h2m16 0h1m32 0h1M9 142h1m2 0h2m11 0h1m2 0h2m10 0h1m2 0h1m10 0h2m1 0h1m10 0h2m2 0h2m15 0h2m3 0h3m23 0h3m3 0h3m21 0h2m3 0h3m14 0h4m13 0h2m2 0h2m5 0h9m66 0h6m5 0h3m20 0h2m3 0h3m19 0h3m3 0h2m19 0h3m4 0h3m28 0h4m4 0h4m23 0h3m3 0h2m16 0h2m3 0h2m18 0h2m2 0h2m13 0h2m2 0h3m33 0h6m29 0h4m37 0h1m18 0h3m71 0h2m21 0h2m40 0h2m16 0h1m24 0h1m9 0h1M7 143h1m15 0h1m18 0h1m9 0h1m13 0h1m4 0h1m14 0h1m7 0h1m21 0h1m9 0h1m19 0h1m8 0h1m19 0h2m11 0h1m6 0h1m21 0h5m58 0h2m9 0h2m18 0h1m7 0h1m18 0h1m7 0h2m17 0h2m9 0h2m26 0h2m10 0h1m21 0h1m7 0h1m15 0h1m6 0h2m16 0h1m5 0h1m12 0h1m6 0h1m40 0h3m35 0h2m29 0h1m27 0h3m63 0h2m13 0h1m36 0h2m22 0h1M245 144h1m67 0h1m12 0h1m41 0h1m128 0h1m68 0h1m40 0h1M203 145h1m48 0h1m34 0h1m12 0h1m14 0h1m73 0h1m119 0h1m64 0h1m109 0h1m66 0h1m31 0h1m22 0h1M291 146h1m54 0h1m12 0h1m36 0h1m18 0h1m53 0h1m118 0h1m115 0h1m38 0h1M15 147h1m29 0h1m4 0h1m13 0h1m10 0h1m6 0h1m17 0h1m10 0h1m20 0h1m9 0h1m19 0h5m68 0h3m28 0h3m27 0h1m8 0h1m17 0h1m26 0h1m8 0h1m22 0h2m12 0h2m23 0h1m10 0h1m17 0h1m6 0h1m15 0h1m8 0h1m34 0h1m17 0h2m63 0h1m61 0h2m43 0h2m32 0h1m20 0h2m35 0h1m13 0h1M110 148h16m49 0h14M106 149h17M103 150h3m9 0h6M110 151h7m52 0h3M5 152h2m1 0h2m11 0h2m1 0h2m10 0h2m1 0h1m11 0h1m1 0h2m10 0h1m1 0h2m14 0h2m2 0h3m17 0h2m15 0h2m17 0h3m2 0h3m25 0h12m16 0h11m8 0h12m53 0h3m2 0h3m20 0h3m2 0h3m19 0h3m2 0h3m20 0h4m3 0h4m29 0h4m3 0h3m22 0h3m2 0h2m16 0h3m2 0h3m16 0h2m2 0h2m14 0h2m2 0h3m56 0h6m20 0h4m31 0h4m24 0h6m92 0h3m18 0h4m27 0h2m9 0h1M38 153h1m9 0h1m4 0h1m13 0h1m19 0h1m16 0h1m15 0h1m17 0h1m8 0h2m64 0h4m30 0h4m39 0h1m8 0h1m18 0h1m8 0h1m17 0h1m8 0h1m19 0h2m11 0h2m25 0h1m10 0h2m18 0h1m22 0h1m8 0h1m14 0h1m19 0h1m9 0h2m58 0h3m25 0h1m30 0h2m39 0h3m66 0h1m25 0h2m27 0h1m13 0h1M118 154h8m44 0h21M114 155h12m49 0h14M107 156h18m52 0h11M69 157h1m52 0h1m78 0h1m61 0h1m22 0h1m44 0h1m26 0h1m97 0h1m8 0h1m65 0h1m40 0h1m126 0h1m84 0h1m17 0h1M7 158h1m15 0h1m295 0h1m56 0h1m270 0h1m93 0h1m31 0h1M13 159h1m23 0h1m152 0h1m33 0h1m111 0h1m123 0h1m53 0h1m32 0h1m46 0h1m26 0h1m32 0h1m113 0h1M6 160h1m3 0h1m11 0h1m3 0h1m13 0h1m10 0h1m3 0h1m9 0h1m3 0h1m14 0h1m5 0h2m21 0h2m7 0h2m20 0h1m6 0h2m46 0h4m22 0h7m53 0h2m6 0h2m19 0h1m6 0h2m18 0h2m5 0h2m19 0h2m8 0h2m28 0h2m7 0h2m21 0h2m5 0h1m16 0h1m5 0h2m16 0h1m4 0h1m13 0h1m6 0h1m50 0h4m29 0h2m28 0h2m30 0h3m98 0h2m23 0h2m24 0h1M4 161h4m12 0h4m11 0h3m11 0h4m10 0h4m14 0h6m21 0h9m23 0h7m66 0h27m49 0h7m21 0h7m20 0h7m22 0h9m32 0h7m24 0h4m20 0h3m20 0h3m18 0h2M1 162h4m12 0h4m11 0h4m11 0h4m10 0h4m12 0h6m20 0h9m23 0h8m82 0h24m42 0h7m21 0h7m20 0h7m23 0h9m31 0h7m24 0h4m20 0h3m20 0h2m19 0h2M0 163h3m11 0h5m11 0h4m11 0h3m11 0h4m11 0h6m18 0h8m24 0h8m22 0h9m67 0h21m36 0h7m21 0h7m20 0h7m24 0h10m30 0h7m23 0h4m20 0h3m19 0h2m20 0h2M12 164h4m12 0h4m10 0h4m11 0h3m11 0h5m18 0h7m25 0h7m22 0h20m15 0h4m50 0h20m31 0h8m20 0h7m20 0h7m25 0h10m30 0h6m22 0h4m21 0h3m19 0h2m21 0h3M9 165h4m12 0h4m11 0h4m10 0h4m11 0h4m16 0h7m25 0h8m21 0h8m13 0h26m55 0h18m27 0h8m20 0h7m20 0h7m26 0h10m29 0h6m22 0h4m20 0h4m18 0h2m23 0h3M7 166h4m12 0h4m11 0h3m11 0h4m10 0h4m15 0h7m23 0h9m22 0h7m23 0h14m4 0h10m55 0h16m24 0h8m20 0h7m20 0h7m28 0h9m29 0h6m21 0h3m21 0h4m17 0h2m26 0h3M4 167h4m12 0h4m11 0h4m11 0h4m10 0h4m14 0h6m22 0h9m22 0h8m48 0h16m52 0h14m23 0h7m20 0h7m20 0h7m29 0h9m28 0h6m21 0h3m21 0h3m18 0h2m30 0h2M2 168h4m12 0h4m11 0h4m10 0h4m11 0h3m13 0h6m20 0h9m23 0h8m60 0h17m49 0h12m22 0h7m20 0h7m20 0h7m30 0h9m28 0h5m20 0h4m21 0h3m17 0h2M0 169h3m12 0h4m12 0h4m10 0h4m11 0h3m12 0h5m19 0h9m24 0h7m73 0h18m44 0h11m21 0h7m20 0h7m20 0h8m30 0h8m28 0h5m20 0h4m21 0h3m17 0h2M0 170h1m11 0h5m11 0h4m11 0h4m10 0h4m11 0h5m18 0h8m24 0h8m21 0h15m49 0h17m41 0h9m21 0h7m20 0h7m20 0h8m31 0h8m27 0h5m20 0h3m22 0h2m17 0h2M11 171h2m14 0h2m12 0h2m13 0h2m12 0h3m19 0h4m28 0h4m25 0h4m12 0h5m57 0h9m44 0h4m24 0h3m24 0h4m24 0h3m37 0h2M8 172h2m14 0h2m13 0h2m13 0h2m12 0h2m18 0h3m28 0h4m26 0h4m21 0h5m10 0h5m44 0h8m40 0h4m24 0h3m24 0h4m24 0h4m37 0h2M5 173h4m12 0h4m11 0h4m10 0h4m10 0h4m15 0h6m22 0h9m22 0h8m26 0h15m1 0h7m42 0h14m31 0h7m21 0h7m20 0h7m22 0h8m32 0h7m26 0h4m19 0h4m21 0h2m17 0h2M3 174h4m11 0h4m12 0h3m11 0h4m10 0h4m13 0h6m21 0h9m23 0h7m50 0h10m41 0h14m28 0h7m21 0h7m20 0h7m22 0h9m32 0h7m25 0h4m19 0h4m20 0h2m18 0h2M0 175h4m12 0h4m11 0h4m11 0h3m11 0h4m12 0h5m20 0h8m24 0h7m59 0h13m39 0h13m26 0h8m20 0h7m21 0h6m23 0h9m31 0h7m24 0h4m20 0h4m19 0h2m19 0h2M0 176h2m11 0h4m12 0h4m10 0h4m11 0h3m12 0h5m18 0h8m24 0h8m22 0h9m38 0h13m38 0h12m24 0h8m20 0h7m20 0h7m24 0h9m31 0h7m23 0h4m20 0h4m19 0h2m19 0h3M11 177h4m12 0h3m11 0h4m11 0h3m11 0h5m16 0h8m24 0h8m22 0h19m39 0h13m36 0h12m23 0h7m20 0h7m20 0h7m25 0h10m30 0h6m23 0h4m20 0h3m19 0h2m21 0h2M8 178h4m12 0h4m11 0h4m10 0h4m10 0h5m15 0h7m24 0h8m22 0h8m13 0h7m41 0h13m35 0h10m22 0h7m20 0h7m20 0h7m26 0h10m29 0h7m22 0h3m21 0h3m18 0h2m23 0h3M6 179h4m11 0h5m10 0h4m11 0h4m10 0h4m15 0h6m23 0h8m22 0h8m22 0h12m3 0h6m29 0h13m32 0h10m21 0h7m20 0h8m19 0h7m28 0h9m29 0h6m21 0h4m21 0h3m18 0h2m25 0h3M13 180h1m4 0h1m10 0h1m18 0h1m9 0h1m3 0h1m10 0h1m5 0h1m16 0h1m9 0h1m21 0h2m8 0h1m18 0h1m14 0h1m17 0h1m2 0h1m54 0h4m23 0h2m22 0h2m7 0h1m18 0h1m8 0h1m17 0h1m8 0h1m24 0h1m12 0h2m22 0h2m9 0h1m16 0h1m6 0h1m16 0h1m7 0h1m12 0h1m5 0h1m17 0h2m23 0h4m57 0h1m13 0h1m53 0h3m37 0h1m17 0h1m19 0h1m39 0h1m13 0h1m20 0h1M13 181h2m14 0h1m13 0h2m13 0h1m13 0h3m20 0h4m28 0h4m25 0h4m9 0h5m15 0h5m77 0h8m28 0h3m24 0h4m23 0h4m34 0h5m30 0h4m21 0h3m21 0h3m17 0h2m34 0h15m65 0h5m87 0h7m15 0h7m53 0h5m31 0h3M45 182h1m7 0h1m21 0h1m42 0h1m13 0h1m15 0h1m13 0h1m3 0h1m45 0h2m54 0h1m21 0h1m54 0h1m28 0h1m22 0h1m70 0h1m13 0h1m52 0h1m107 0h1m62 0h1m35 0h1m33 0h1m56 0h1M6 183h1m15 0h1m20 0h1m70 0h1m58 0h1m51 0h2m50 0h1m15 0h1m15 0h1m11 0h1m26 0h1m69 0h1m52 0h1m77 0h2m71 0h1m33 0h1m158 0h1M11 184h1m15 0h1m28 0h1m25 0h1m42 0h1m28 0h1m22 0h1m59 0h2m43 0h1m13 0h1m86 0h1m22 0h1m43 0h1m110 0h1m41 0h1m22 0h1m41 0h1m52 0h1m6 0h1m30 0h1m30 0h1m20 0h1m15 0h1M5 185h3m13 0h3m12 0h3m11 0h4m10 0h4m15 0h5m23 0h8m23 0h7m63 0h26m52 0h6m22 0h6m21 0h6m23 0h9m31 0h8m23 0h5m18 0h6m18 0h4m16 0h6m62 0h10m8 0h7m34 0h10m11 0h11m87 0h6m9 0h7m31 0h3m5 0h3M0 189h4m9 0h7m9 0h6m8 0h6m9 0h5m9 0h9m14 0h13m20 0h12m16 0h18m15 0h5m51 0h34m20 0h11m16 0h12m15 0h12m22 0h17m21 0h13m14 0h10m14 0h10m11 0h8m16 0h32m54 0h17m51 0h43m15 0h23m37 0h16m20 0h8"/>
<path stroke="#0000f0" d="M69 8h1m39 0h1m12 0h1m77 0h2m38 0h2m44 0h1m10 0h1m16 0h1m69 0h1m24 0h1m55 0h1m23 0h1m80 0h1m34 0h1m26 0h1m39 0h1m84 0h1M17 9h1m29 0h1m5 0h1m50 0h1m13 0h1m17 0h1m11 0h1m63 0h1m43 0h1m72 0h1m26 0h1m17 0h1m16 0h1m36 0h1m39 0h1m30 0h1m26 0h1m56 0h1m58 0h1m48 0h1m85 0h1m26 0h1m31 0h1M65 10h1m18 0h1m14 0h1m61 0h1m5 0h1m60 0h1m40 0h1m90 0h1m154 0h1m21 0h1m58 0h1m60 0h1m50 0h1m57 0h1M5 11h1m77 0h1m28 0h1m120 0h1m39 0h1m21 0h1m39 0h1m64 0h1m19 0h1m28 0h1m9 0h1m43 0h1m12 0h1m26 0h1m118 0h1m50 0h1m23 0h1m93 0h1M0 12h2m12 0h4m12 0h3m11 0h4m10 0h4m12 0h5m18 0h8m24 0h8m21 0h14m19 0h2m62 0h20m26 0h8m20 0h7m20 0h7m28 0h10m27 0h8m18 0h6m19 0h6m14 0h5m21 0h7m6 0h11m61 0h2m9 0h2m59 0h6m27 0h2m17 0h2m14 0h2m42 0h2m10 0h1m23 0h1M10 22h4m12 0h4m10 0h5m10 0h4m10 0h5m16 0h8m24 0h9m20 0h8m11 0h33m70 0h14m20 0h8m20 0h8m19 0h9m29 0h10m25 0h8m16 0h7m18 0h6m13 0h6m31 0h7m25 0h5m41 0h2m14 0h3m72 0h4m26 0h2m40 0h3m14 0h1m24 0h1m8 0h1M8 23h4m12 0h4m11 0h4m10 0h4m10 0h5m15 0h8m23 0h9m21 0h8m19 0h14m6 0h19m66 0h11m20 0h7m20 0h8m20 0h9m30 0h10m23 0h8m16 0h7m18 0h5m14 0h6m41 0h7m25 0h4m34 0h2m19 0h4m69 0h2m13 0h2m39 0h3m17 0h1m24 0h2m9 0h1M12 30h1m15 0h1m13 0h2m13 0h1m14 0h1m21 0h2m30 0h2m27 0h2m16 0h3m12 0h2m4 0h2m81 0h5m27 0h3m25 0h2m25 0h2m37 0h3m31 0h2m22 0h2m23 0h1m18 0h1m38 0h23m52 0h12m81 0h27m48 0h11m27 0h7M602 42h7m56 0h14m75 0h8m46 0h5M4 43h1m10 0h1m4 0h1m10 0h1m3 0h1m9 0h1m29 0h1m6 0h1m17 0h1m9 0h1m21 0h2m7 0h1m20 0h5m70 0h5m23 0h4m27 0h1m8 0h1m18 0h1m7 0h1m18 0h1m7 0h1m23 0h2m11 0h2m24 0h1m9 0h1m17 0h1m6 0h1m16 0h1m6 0h2m13 0h1m4 0h1m16 0h1m15 0h3m64 0h1m62 0h2m41 0h2m32 0h1m19 0h1m37 0h1m12 0h1M11 54h1m15 0h1m13 0h1m14 0h1m13 0h2m20 0h2m29 0h3m27 0h2m21 0h12m7 0h4m83 0h4m26 0h2m25 0h2m25 0h3m37 0h3m30 0h2m22 0h2m22 0h2m17 0h2m45 0h23m46 0h15m79 0h19m47 0h13m28 0h7M9 55h3m13 0h3m11 0h4m11 0h3m11 0h4m16 0h7m24 0h8m22 0h7m19 0h14m6 0h16m51 0h5m9 0h14m21 0h7m20 0h7m20 0h9m30 0h10m24 0h7m17 0h6m19 0h5m14 0h5m41 0h7m23 0h5m35 0h2m18 0h4m70 0h2m15 0h2m40 0h3m15 0h2m24 0h2m8 0h1M19 56h1m49 0h1m38 0h1m13 0h1m78 0h1m42 0h2m40 0h1m11 0h1m87 0h1m37 0h1m40 0h1m54 0h1m50 0h1m35 0h1m24 0h1m42 0h1m79 0h1m29 0h1M592 57h5m53 0h8m107 0h7m43 0h3M262 58h5m9 0h4M154 59h6m442 0h4m12 0h4M602 60h4m12 0h4m19 0h4M641 61h4M663 62h4M441 63h3m13 0h3m48 0h5m6 0h4m39 0h3M0 66h5m11 0h4m12 0h4m10 0h4m10 0h4m12 0h6m19 0h9m24 0h8m98 0h25m32 0h8m20 0h7m20 0h7m25 0h12m27 0h9m19 0h6m18 0h6m15 0h5m17 0h16m67 0h4m11 0h1m48 0h5m31 0h6m35 0h3m14 0h3m38 0h2m9 0h2m20 0h2M5 67h1m77 0h1m149 0h1m39 0h1m21 0h1m104 0h1m48 0h1m9 0h1m35 0h1m7 0h1m12 0h1m26 0h1m118 0h1m50 0h1m23 0h1m93 0h1M11 68h1m6 0h1m8 0h1m28 0h1m5 0h1m16 0h1m45 0h1m28 0h1m22 0h1m9 0h1m63 0h1m30 0h1m17 0h1m11 0h1m76 0h1m16 0h1m19 0h1m12 0h1m13 0h1m9 0h1m34 0h1m24 0h1m38 0h2m63 0h1m53 0h2m39 0h2m2 0h2m24 0h1m36 0h1M17 69h1m86 0h1m151 0h1m29 0h1m27 0h1m14 0h1m26 0h1m52 0h1m18 0h1m70 0h1m26 0h1m44 0h1m40 0h1m77 0h1m133 0h1M0 75h1m2 0h1m11 0h2m2 0h1m11 0h1m2 0h1m10 0h2m2 0h1m10 0h1m2 0h1m11 0h2m3 0h2m18 0h2m5 0h3m22 0h3m4 0h2m21 0h5m74 0h8m13 0h7m28 0h3m4 0h2m19 0h2m4 0h3m18 0h2m4 0h2m25 0h3m6 0h4m25 0h3m4 0h3m18 0h2m3 0h2m17 0h2m4 0h2m14 0h1m3 0h1m17 0h3m11 0h5m65 0h2m13 0h1m48 0h4m36 0h3m30 0h2m16 0h2m38 0h2m11 0h1m20 0h1M44 76h1m4 0h1m13 0h1m17 0h1m15 0h1m10 0h2m20 0h1m9 0h1m17 0h1m11 0h2m19 0h2m49 0h3m28 0h2m23 0h1m8 0h1m17 0h1m9 0h1m16 0h1m9 0h1m22 0h2m13 0h1m22 0h2m10 0h1m15 0h1m7 0h1m15 0h1m8 0h1m18 0h1m15 0h1m23 0h3m59 0h1m64 0h2m42 0h1m21 0h1m20 0h1m52 0h1M7 79h2m2 0h1m11 0h2m2 0h1m10 0h1m2 0h2m10 0h1m2 0h1m10 0h1m2 0h2m14 0h2m4 0h2m23 0h2m5 0h2m21 0h2m4 0h2m21 0h13m6 0h3m13 0h8m62 0h4m5 0h2m19 0h3m3 0h3m19 0h2m4 0h2m19 0h3m5 0h3m28 0h3m5 0h3m23 0h2m4 0h2m16 0h1m4 0h2m17 0h2m3 0h1m13 0h2m3 0h2m43 0h5m29 0h3m31 0h1m24 0h3m66 0h2m11 0h2m37 0h2m20 0h1m24 0h1m10 0h1M5 80h1m15 0h1m14 0h1m4 0h1m28 0h1m12 0h1m28 0h1m10 0h1m19 0h1m9 0h1m43 0h2m32 0h4m49 0h2m9 0h1m17 0h1m54 0h1m12 0h1m26 0h1m11 0h1m28 0h1m14 0h1m23 0h1m6 0h1m11 0h1m8 0h1m47 0h2m35 0h1m26 0h1m35 0h1m59 0h2m35 0h1m26 0h1m37 0h1M39 81h1m38 0h1m9 0h1m30 0h1m29 0h1m59 0h1m45 0h1m33 0h1m11 0h1m42 0h1m28 0h1m70 0h1m9 0h1m36 0h1m88 0h1m108 0h1m59 0h1m29 0h1m41 0h1M7 82h1m15 0h1m36 0h1m15 0h1m9 0h1m131 0h1m45 0h1m54 0h1m56 0h1m69 0h1m142 0h1m57 0h1m53 0h1m71 0h1m44 0h1m15 0h1M1 83h1m2 0h1m11 0h1m3 0h1m11 0h1m2 0h1m10 0h1m2 0h1m10 0h2m1 0h2m11 0h2m3 0h2m19 0h2m5 0h3m22 0h2m4 0h2m94 0h3m3 0h2m14 0h7m31 0h2m4 0h2m20 0h2m4 0h2m19 0h2m4 0h2m24 0h3m6 0h3m26 0h3m5 0h2m19 0h2m3 0h2m17 0h2m3 0h2m15 0h1m3 0h1m16 0h3m9 0h4m67 0h2m14 0h1m45 0h3m37 0h3m38 0h2m17 0h2m36 0h1m12 0h1M8 87h1m3 0h1m11 0h1m3 0h1m10 0h1m2 0h1m10 0h2m2 0h1m9 0h2m2 0h2m14 0h3m3 0h3m22 0h3m4 0h3m20 0h3m4 0h2m17 0h3m11 0h2m4 0h2m10 0h8m64 0h5m5 0h3m19 0h2m4 0h2m19 0h3m4 0h2m18 0h3m5 0h3m28 0h3m6 0h3m22 0h3m3 0h3m15 0h2m4 0h2m17 0h2m3 0h1m13 0h2m3 0h2m37 0h6m30 0h3m34 0h1m21 0h3m69 0h1m17 0h2m38 0h2m18 0h1m24 0h1M6 88h1m2 0h1m12 0h1m2 0h1m11 0h1m2 0h1m10 0h1m2 0h1m10 0h2m2 0h1m14 0h2m3 0h2m22 0h3m5 0h2m21 0h2m4 0h2m48 0h7m14 0h9m56 0h3m3 0h3m19 0h2m4 0h2m20 0h2m3 0h2m21 0h2m5 0h4m28 0h3m5 0h3m22 0h2m3 0h2m16 0h2m3 0h2m17 0h2m2 0h2m13 0h2m4 0h2m52 0h3m27 0h2m30 0h2m27 0h3m101 0h2m21 0h2m26 0h1m10 0h1M0 92h1m14 0h2m14 0h1m14 0h1m13 0h1m15 0h1m23 0h3m29 0h3m28 0h3m95 0h7m35 0h3m25 0h2m25 0h2m34 0h3m33 0h3m23 0h2m22 0h2m18 0h2m26 0h11m72 0h9m66 0h27m25 0h13m46 0h9m26 0h5M0 93h1m10 0h2m2 0h1m11 0h2m2 0h1m10 0h1m2 0h1m10 0h1m2 0h1m11 0h1m3 0h2m16 0h2m4 0h3m23 0h2m4 0h3m20 0h2m5 0h8m6 0h14m6 0h2m68 0h6m9 0h4m20 0h3m4 0h2m19 0h2m4 0h2m19 0h2m4 0h3m27 0h4m5 0h3m24 0h3m4 0h2m17 0h2m3 0h2m17 0h2m3 0h2m13 0h2m2 0h2m25 0h4m26 0h5m48 0h1m12 0h2m68 0h3m44 0h1m41 0h2m13 0h1m23 0h1M13 94h1m15 0h1m9 0h1m18 0h1m9 0h1m4 0h1m14 0h1m8 0h1m21 0h1m9 0h1m19 0h1m8 0h1m12 0h2m17 0h3m14 0h4m63 0h2m13 0h1m18 0h1m7 0h2m17 0h2m7 0h1m17 0h2m8 0h2m26 0h2m10 0h2m21 0h1m8 0h1m15 0h1m6 0h1m16 0h1m6 0h1m11 0h1m6 0h1m31 0h3m37 0h3m34 0h1m21 0h3m68 0h1m25 0h1m38 0h1m19 0h1m22 0h1M7 95h2m2 0h1m11 0h2m2 0h1m10 0h1m2 0h2m10 0h1m2 0h1m10 0h1m2 0h2m14 0h2m4 0h2m22 0h3m5 0h2m21 0h2m4 0h3m19 0h14m6 0h3m13 0h8m62 0h4m5 0h2m19 0h2m5 0h2m19 0h2m4 0h2m19 0h3m5 0h3m28 0h3m5 0h3m23 0h2m4 0h2m15 0h2m4 0h2m17 0h2m3 0h1m13 0h2m3 0h2m42 0h6m29 0h3m31 0h1m24 0h3m66 0h2m11 0h2m37 0h2m20 0h1m24 0h1m10 0h1M1 114h5m11 0h5m11 0h4m10 0h4m10 0h4m13 0h6m19 0h10m22 0h9m87 0h29m35 0h8m20 0h7m20 0h7m24 0h12m27 0h10m19 0h7m17 0h7m15 0h5m16 0h13m67 0h3m14 0h2m41 0h5m33 0h5m47 0h2m16 0h3m35 0h2m10 0h2m19 0h1M0 115h3m12 0h4m12 0h3m11 0h3m12 0h3m12 0h5m20 0h7m25 0h6m24 0h6m82 0h19m31 0h6m22 0h6m20 0h6m29 0h9m28 0h7m20 0h5m19 0h6m15 0h4m20 0h17m68 0h3m7 0h3m55 0h7m25 0h6m25 0h4m10 0h4m41 0h3m7 0h2m23 0h1M0 116h1m15 0h1m24 0h1m4 0h1m13 0h1m9 0h1m5 0h1m15 0h1m8 0h2m21 0h1m8 0h2m18 0h1m24 0h10m8 0h3m63 0h3m18 0h2m19 0h1m7 0h2m17 0h1m8 0h1m17 0h1m8 0h2m25 0h2m11 0h1m22 0h2m8 0h1m15 0h1m6 0h2m16 0h1m6 0h1m18 0h1m22 0h2m34 0h3m45 0h1m15 0h2m63 0h3m48 0h1m39 0h2m15 0h1m21 0h1m9 0h1M69 117h1m52 0h1m78 0h1m61 0h1m22 0h1m27 0h1m16 0h1m10 0h1m15 0h1m11 0h1m23 0h1m14 0h1m46 0h1m8 0h1m64 0h2m41 0h1m60 0h1m63 0h1m103 0h1M8 118h1m15 0h1m14 0h1m3 0h1m9 0h1m18 0h1m15 0h1m6 0h2m21 0h2m7 0h2m19 0h2m6 0h2m14 0h2m15 0h1m3 0h1m14 0h6m62 0h3m10 0h2m18 0h1m7 0h1m18 0h2m6 0h2m17 0h2m8 0h2m27 0h2m9 0h1m22 0h2m6 0h1m15 0h2m5 0h2m16 0h1m5 0h1m12 0h1m6 0h1m34 0h4m35 0h2m34 0h1m21 0h3m68 0h1m21 0h1m38 0h2m18 0h1m23 0h1M21 119h1m14 0h1m57 0h1m48 0h1m87 0h2m47 0h1m57 0h1m26 0h1m15 0h1m56 0h1m116 0h2m42 0h1m24 0h1m36 0h2m55 0h1m44 0h1m28 0h1M3 120h1m15 0h1m19 0h1m9 0h1m13 0h1m4 0h1m19 0h1m19 0h1m10 0h2m18 0h2m8 0h1m57 0h4m32 0h4m42 0h1m8 0h1m17 0h2m8 0h1m17 0h1m8 0h1m18 0h2m12 0h1m25 0h1m11 0h1m19 0h1m7 0h1m14 0h1m7 0h2m14 0h1m5 0h1m12 0h1m9 0h2m55 0h2m29 0h1m27 0h2m39 0h2m75 0h1m26 0h1m26 0h1m13 0h1M2 121h1m2 0h1m11 0h2m2 0h1m11 0h1m2 0h1m10 0h1m3 0h1m9 0h2m2 0h1m12 0h2m3 0h2m19 0h3m5 0h3m21 0h2m5 0h2m81 0h10m14 0h8m36 0h2m4 0h2m19 0h3m4 0h2m19 0h2m4 0h2m22 0h4m6 0h3m26 0h3m5 0h3m19 0h2m3 0h2m17 0h2m3 0h2m15 0h2m2 0h2m15 0h2m7 0h4m65 0h3m17 0h1m38 0h4m36 0h4m51 0h2m18 0h3m33 0h1m12 0h1M65 122h1m9 0h1m37 0h1m48 0h1m4 0h1m61 0h2m37 0h2m24 0h1m38 0h1m15 0h1m10 0h1m19 0h1m16 0h1m21 0h1m52 0h1m9 0h1m32 0h1m20 0h2m119 0h1m50 0h1m32 0h1m24 0h1M610 123h6m65 0h20m44 0h8m49 0h6m26 0h3M12 124h3m13 0h3m11 0h3m12 0h3m12 0h4m18 0h6m26 0h6m23 0h8m4 0h9m12 0h7m73 0h13m25 0h5m22 0h6m21 0h6m31 0h9m27 0h6m19 0h5m19 0h5m15 0h4m28 0h30m51 0h2m9 0h3m71 0h6m14 0h10m13 0h2m43 0h3m9 0h2m24 0h2m6 0h1M623 125h6m88 0h17m54 0h7m31 0h4M7 127h3m12 0h4m11 0h3m12 0h3m11 0h3m16 0h5m25 0h7m23 0h6m52 0h22m62 0h7m21 0h6m22 0h5m23 0h8m32 0h7m25 0h5m18 0h5m19 0h4m15 0h6m54 0h8m17 0h5m32 0h4m19 0h7m103 0h4m16 0h3m27 0h2m8 0h2M16 130h1m29 0h1m5 0h1m13 0h1m35 0h1m31 0h1m11 0h1m73 0h2m39 0h2m29 0h1m10 0h1m43 0h1m29 0h1m16 0h1m35 0h1m39 0h1m9 0h1m12 0h1m6 0h1m12 0h1m16 0h1m59 0h1m58 0h1m49 0h1m45 0h1M0 131h4m11 0h5m11 0h4m10 0h5m10 0h4m12 0h6m18 0h10m22 0h9m22 0h4m75 0h26m29 0h9m19 0h8m19 0h8m25 0h12m26 0h10m18 0h7m17 0h7m15 0h5m17 0h6m4 0h8m66 0h3m11 0h2m49 0h4m34 0h4m30 0h3m14 0h3m39 0h1m10 0h2m21 0h1M0 132h2m11 0h5m11 0h4m10 0h4m11 0h4m11 0h5m18 0h8m24 0h8m21 0h16m17 0h4m63 0h21m24 0h8m20 0h7m19 0h8m28 0h11m25 0h9m18 0h6m18 0h7m14 0h5m21 0h5m14 0h9m57 0h2m10 0h1m61 0h6m26 0h2m13 0h2m15 0h2m42 0h1m11 0h1m23 0h1M0 133h1m15 0h1m24 0h1m4 0h1m13 0h1m9 0h1m5 0h1m15 0h1m8 0h2m21 0h1m8 0h2m18 0h1m24 0h10m8 0h3m63 0h3m18 0h2m19 0h1m7 0h2m17 0h1m8 0h1m17 0h1m8 0h2m25 0h2m11 0h1m22 0h2m8 0h1m15 0h1m6 0h2m16 0h1m6 0h1m18 0h1m22 0h2m34 0h3m45 0h1m15 0h2m63 0h3m48 0h1m39 0h2m15 0h1m21 0h1m9 0h1M9 134h5m11 0h5m10 0h4m11 0h4m10 0h5m16 0h7m24 0h9m21 0h7m14 0h19m2 0h12m70 0h13m20 0h8m20 0h7m20 0h9m29 0h11m24 0h7m17 0h7m18 0h6m13 0h6m33 0h7m26 0h5m39 0h1m16 0h3m72 0h2m23 0h2m40 0h3m14 0h2m24 0h1m8 0h1M10 135h1m15 0h1m23 0h1m4 0h1m8 0h1m17 0h1m8 0h1m19 0h1m11 0h1m18 0h1m9 0h1m46 0h2m34 0h4m46 0h2m9 0h1m17 0h1m26 0h1m27 0h1m12 0h2m25 0h1m11 0h1m19 0h1m8 0h1m38 0h1m18 0h1m8 0h1m49 0h2m34 0h1m26 0h1m37 0h2m89 0h1m27 0h1m23 0h1M49 136h1m31 0h1m27 0h1m13 0h1m118 0h1m42 0h1m39 0h1m26 0h1m32 0h1m22 0h1m14 0h1m27 0h1m12 0h1m10 0h1m43 0h1m47 0h1m62 0h1m41 0h1m114 0h1M3 137h4m11 0h5m11 0h4m10 0h4m10 0h4m13 0h7m20 0h10m22 0h8m76 0h30m41 0h7m21 0h7m20 0h7m23 0h11m28 0h10m20 0h7m17 0h7m16 0h5m15 0h10m66 0h3m17 0h2m36 0h4m31 0h5m62 0h2m18 0h3m32 0h2m10 0h2M1 138h4m12 0h4m11 0h4m11 0h4m10 0h4m12 0h6m20 0h9m23 0h8m91 0h27m35 0h7m20 0h8m19 0h8m24 0h12m27 0h9m20 0h6m17 0h7m16 0h4m17 0h5m1 0h7m68 0h3m13 0h2m43 0h4m34 0h4m44 0h2m16 0h2m37 0h1m10 0h2M0 139h3m11 0h5m11 0h4m11 0h4m10 0h4m11 0h6m18 0h9m24 0h8m20 0h11m79 0h24m27 0h7m20 0h8m19 0h8m26 0h12m26 0h9m18 0h6m18 0h7m14 0h5m19 0h5m9 0h7m65 0h1m11 0h1m55 0h4m32 0h3m22 0h2m14 0h2m41 0h1m11 0h1m22 0h1M0 140h1m11 0h5m11 0h4m11 0h4m10 0h4m11 0h5m17 0h9m24 0h8m21 0h19m14 0h6m66 0h19m23 0h8m20 0h8m19 0h8m28 0h11m25 0h8m18 0h6m18 0h7m13 0h6m23 0h5m19 0h7m53 0h1m11 0h2m65 0h5m22 0h2m8 0h2m16 0h2m41 0h2m11 0h1m23 0h1M11 141h4m12 0h4m10 0h4m11 0h4m10 0h5m17 0h8m24 0h8m21 0h9m6 0h31m70 0h16m21 0h8m20 0h7m20 0h8m29 0h11m24 0h8m17 0h7m18 0h6m13 0h6m28 0h6m24 0h5m46 0h1m13 0h2m71 0h4m34 0h1m42 0h2m12 0h2m23 0h1m8 0h1M10 142h2m14 0h2m13 0h2m13 0h1m13 0h2m19 0h3m29 0h3m26 0h3m21 0h13m6 0h5m81 0h5m25 0h3m25 0h3m24 0h4m35 0h4m30 0h3m20 0h3m22 0h2m17 0h2m42 0h29m42 0h6m3 0h9m76 0h5m10 0h6m44 0h6m6 0h4m26 0h3m3 0h3M8 143h4m12 0h4m10 0h4m11 0h4m10 0h4m16 0h7m23 0h9m21 0h8m22 0h11m8 0h21m65 0h9m21 0h7m20 0h7m21 0h9m30 0h10m23 0h7m17 0h6m19 0h5m14 0h6m44 0h7m24 0h4m32 0h3m19 0h5m68 0h2m8 0h3m39 0h3m17 0h2m24 0h2m9 0h1M19 144h1m88 0h1m89 0h1m99 0h1m87 0h1m21 0h1m15 0h1m39 0h1m55 0h1m46 0h1m107 0h1m79 0h1m31 0h1M18 145h1m43 0h1m16 0h1m26 0h1m14 0h1m82 0h1m46 0h1m119 0h1m54 0h1m26 0h1m12 0h1m10 0h1m12 0h1m7 0h1m24 0h1m51 0h1m34 0h1m24 0h1m47 0h1m139 0h1M217 146h1m48 0h1m65 0h1m168 0h1m114 0h1m30 0h1m125 0h1M0 147h1m3 0h1m11 0h1m2 0h2m10 0h2m2 0h1m10 0h1m2 0h1m10 0h1m2 0h1m12 0h2m3 0h1m19 0h2m5 0h3m22 0h3m4 0h2m96 0h8m13 0h7m31 0h2m4 0h2m19 0h3m3 0h3m18 0h2m4 0h2m25 0h3m6 0h3m26 0h3m4 0h3m19 0h1m3 0h2m17 0h2m4 0h2m14 0h2m2 0h2m16 0h2m10 0h5m66 0h2m13 0h2m46 0h3m37 0h3m35 0h2m16 0h2m38 0h1m11 0h1m20 0h1M103 148h7m59 0h6m14 0h2M103 149h3m17 0h3m43 0h22M121 150h5m43 0h22M117 151h9m46 0h19M7 152h1m15 0h1m14 0h1m13 0h1m13 0h1m18 0h2m22 0h2m11 0h2m22 0h2m67 0h8m68 0h2m26 0h2m25 0h2m27 0h3m37 0h3m28 0h2m21 0h2m21 0h2m18 0h2m65 0h20m39 0h24m101 0h18m33 0h9M3 153h5m11 0h5m10 0h4m11 0h4m10 0h4m13 0h7m18 0h1m13 0h1m19 0h8m70 0h30m44 0h8m20 0h8m19 0h8m22 0h11m28 0h10m21 0h7m16 0h8m16 0h5m15 0h9m63 0h4m19 0h2m33 0h4m30 0h5m70 0h2m20 0h3m30 0h1m11 0h1M103 154h15m51 0h1M103 155h11m55 0h6m14 0h2M103 156h4m18 0h1m43 0h8m11 0h3M0 157h1m9 0h1m15 0h1m4 0h1m23 0h1m4 0h1m15 0h1m14 0h1m9 0h1m21 0h1m9 0h1m17 0h1m6 0h1m12 0h1m27 0h2m63 0h2m19 0h1m18 0h1m9 0h1m17 0h1m8 0h1m27 0h1m25 0h1m13 0h1m21 0h1m9 0h1m39 0h1m7 0h1m11 0h1m6 0h1m23 0h1m37 0h2m43 0h1m16 0h2m66 0h1m44 0h1m39 0h1m38 0h1M99 158h1m117 0h1m51 0h1m76 0h1m13 0h1m176 0h1m50 0h1m119 0h1M85 159h1m10 0h1m18 0h1m12 0h1m16 0h1m9 0h1m37 0h1m28 0h2m52 0h1m86 0h1m14 0h1m23 0h1m14 0h1m18 0h1m10 0h1m37 0h1m18 0h1m43 0h1m44 0h1m59 0h1m61 0h1m19 0h1m59 0h1m20 0h1m13 0h1M7 160h3m13 0h3m11 0h3m12 0h3m11 0h3m16 0h5m25 0h7m23 0h6m52 0h22m62 0h6m22 0h6m22 0h5m23 0h8m32 0h7m25 0h5m18 0h5m19 0h4m15 0h6m55 0h7m17 0h5m32 0h4m19 0h7m103 0h4m16 0h3m27 0h2m8 0h2M0 180h3m11 0h4m12 0h4m10 0h4m11 0h3m12 0h5m18 0h9m24 0h8m20 0h14m19 0h2m59 0h23m26 0h7m20 0h8m19 0h8m26 0h12m26 0h9m18 0h6m18 0h7m14 0h5m20 0h5m10 0h8m62 0h2m10 0h1m57 0h5m30 0h2m19 0h2m15 0h2m41 0h1m11 0h1m22 0h1M8 182h1m15 0h1m74 0h1m61 0h1m5 0h1m43 0h1m57 0h1m47 0h1m15 0h1m26 0h1m52 0h1m97 0h1m24 0h1m46 0h2m32 0h1m24 0h1m64 0h1m69 0h1m42 0h1M28 183h1m8 0h1m19 0h1m14 0h1m12 0h1m9 0h1m19 0h1m11 0h1m17 0h1m10 0h1m17 0h1m14 0h1m4 0h1m27 0h3m53 0h2m30 0h1m9 0h1m16 0h1m26 0h1m13 0h1m24 0h1m13 0h1m19 0h1m9 0h1m13 0h1m24 0h1m27 0h1m36 0h2m41 0h2m58 0h2m60 0h1m17 0h1m32 0h2m25 0h1M50 184h1m13 0h1m46 0h1m12 0h1m17 0h1m35 0h10m8 0h1m38 0h2m46 0h1m28 0h1m10 0h1m16 0h1m26 0h1m14 0h1m24 0h1m13 0h1m18 0h1m22 0h1m9 0h1m43 0h1m44 0h2m38 0h1m24 0h1m38 0h2m54 0h1m4 0h1m32 0h1M590 185h8m51 0h11m104 0h9m41 0h5"/>
<path stroke="#1700ff" d="M4 8h1m4 0h1m10 0h1m4 0h1m9 0h1m4 0h1m9 0h1m13 0h1m17 0h1m7 0h1m19 0h2m9 0h1m19 0h2m8 0h1m50 0h3m31 0h4m47 0h1m8 0h1m18 0h1m8 0h1m17 0h2m7 0h1m18 0h2m11 0h1m26 0h2m9 0h2m19 0h1m7 0h1m15 0h1m7 0h1m15 0h1m5 0h1m12 0h1m7 0h2m52 0h3m30 0h1m28 0h1m36 0h2m86 0h1m26 0h1m24 0h1m13 0h1M67 9h1m10 0h1m8 0h1m125 0h2m39 0h2m34 0h1m10 0h1m16 0h1m26 0h1m68 0h1m30 0h1m8 0h1m23 0h1m46 0h1m58 0h1m27 0h1m30 0h1m45 0h2m58 0h1m26 0h1m43 0h1M45 10h1m29 0h1m37 0h1m18 0h1m29 0h1m3 0h1m62 0h3m36 0h1m25 0h1m27 0h1m10 0h1m15 0h1m30 0h1m16 0h1m21 0h1m52 0h1m9 0h1m53 0h1m60 0h1m60 0h1m48 0h1m33 0h1m23 0h1m33 0h1M44 11h1m85 0h1m28 0h1m10 0h1m63 0h2m36 0h1m34 0h1m15 0h1m26 0h1m31 0h1m90 0h1m21 0h1m46 0h1m57 0h1m62 0h1m98 0h1m50 0h1M532 12h6m74 0h9m67 0h27m21 0h14m46 0h10m25 0h6M547 22h25m48 0h14m79 0h26m45 0h14m26 0h8M560 23h25m40 0h19m75 0h13m44 0h17m27 0h9M0 43h4m12 0h4m12 0h3m11 0h4m10 0h4m12 0h6m19 0h9m24 0h7m101 0h23m32 0h8m20 0h7m20 0h7m26 0h11m27 0h9m19 0h6m18 0h6m16 0h4m18 0h15m68 0h3m11 0h2m48 0h5m32 0h4m35 0h2m14 0h3m39 0h1m10 0h1m21 0h1M559 55h23m42 0h18m76 0h15m45 0h15m28 0h8M40 56h1m8 0h1m13 0h1m17 0h1m8 0h1m49 0h1m10 0h1m50 0h1m39 0h2m43 0h1m37 0h1m16 0h1m9 0h1m17 0h1m14 0h1m24 0h1m31 0h1m8 0h1m23 0h1m33 0h1m62 0h1m60 0h1m40 0h1m109 0h1m24 0h1m14 0h1M710 59h3M108 62h3m28 0h2m35 0h2M216 64h4m58 0h3m141 0h3m8 0h2m31 0h3M605 66h11m54 0h31m44 0h14m43 0h9m24 0h2M44 67h1m85 0h1m28 0h1m10 0h1m63 0h2m36 0h1m34 0h1m15 0h1m26 0h1m31 0h1m51 0h1m38 0h1m67 0h2m57 0h1m62 0h1m98 0h1m50 0h1M2 68h1m30 0h1m8 0h1m28 0h1m21 0h1m11 0h1m31 0h1m37 0h2m11 0h1m6 0h1m56 0h3m26 0h1m19 0h1m9 0h1m16 0h1m10 0h1m15 0h1m10 0h1m23 0h1m14 0h1m21 0h1m34 0h1m15 0h1m8 0h1m18 0h1m17 0h1m35 0h2m48 0h1m15 0h1m56 0h2m36 0h1m6 0h1m22 0h1m38 0h1m15 0h1M10 69h1m15 0h1m28 0h1m5 0h1m90 0h1m47 0h1m56 0h1m44 0h1m66 0h1m109 0h1m9 0h1m18 0h1m18 0h1m42 0h1m61 0h1m58 0h1m93 0h1m18 0h1m31 0h1M1 75h2m14 0h2m13 0h2m13 0h2m12 0h2m14 0h3m22 0h5m28 0h4m110 0h13m38 0h4m23 0h4m23 0h4m30 0h6m32 0h4m23 0h3m21 0h4m17 0h3m21 0h11m72 0h4m6 0h3m53 0h8m20 0h8m35 0h4m8 0h4m42 0h2m6 0h3m22 0h2M0 76h4m10 0h6m10 0h5m10 0h4m10 0h4m11 0h7m17 0h10m23 0h9m19 0h11m75 0h28m26 0h8m19 0h9m18 0h9m25 0h13m25 0h10m17 0h7m17 0h8m13 0h6m17 0h6m10 0h7m63 0h1m13 0h1m51 0h3m37 0h2m23 0h1m18 0h1m39 0h1m12 0h1m21 0h1M9 79h2m14 0h2m12 0h2m13 0h2m12 0h2m18 0h4m27 0h5m25 0h4m45 0h13m74 0h5m24 0h3m24 0h4m24 0h5m34 0h5m28 0h4m19 0h4m21 0h3m16 0h3m50 0h11m9 0h9m35 0h5m12 0h7m71 0h11m41 0h5m12 0h3m26 0h2m6 0h2M6 80h5m11 0h5m10 0h4m10 0h5m9 0h5m14 0h8m21 0h10m21 0h9m46 0h32m55 0h9m19 0h9m18 0h9m19 0h12m28 0h11m21 0h8m16 0h8m16 0h6m13 0h8m50 0h4m29 0h2m28 0h2m29 0h4m98 0h2m23 0h1m25 0h1m11 0h1M8 81h1m15 0h1m8 0h1m71 0h1m104 0h2m41 0h2m62 0h1m37 0h1m34 0h1m22 0h1m13 0h1m50 0h1m32 0h1m13 0h1m55 0h2m57 0h1m46 0h2m89 0h1m26 0h1M16 82h1m29 0h1m5 0h1m63 0h1m29 0h1m72 0h1m42 0h2m67 0h1m26 0h1m35 0h1m21 0h1m39 0h1m56 0h1m17 0h1m83 0h1m32 0h1m51 0h1m44 0h1m26 0h1M2 83h2m13 0h3m13 0h2m12 0h2m13 0h1m15 0h3m23 0h5m27 0h4m104 0h14m40 0h4m24 0h4m23 0h4m29 0h6m32 0h5m23 0h3m21 0h3m18 0h3m20 0h9m73 0h4m7 0h3m49 0h8m21 0h8m43 0h3m9 0h5m39 0h3m7 0h2m21 0h2M9 87h3m13 0h3m12 0h2m13 0h2m12 0h2m19 0h3m28 0h4m26 0h4m22 0h11m8 0h10m77 0h5m24 0h4m24 0h4m23 0h5m34 0h6m28 0h3m20 0h4m21 0h3m16 0h3m45 0h30m38 0h4m10 0h7m73 0h4m8 0h5m42 0h5m10 0h3m26 0h2m6 0h2M7 88h2m14 0h2m13 0h2m12 0h2m13 0h2m17 0h3m27 0h5m25 0h4m57 0h14m68 0h3m24 0h4m24 0h3m25 0h5m35 0h5m27 0h3m20 0h3m21 0h2m17 0h4m57 0h9m12 0h6m34 0h5m15 0h7m106 0h5m13 0h3m29 0h2m6 0h2M13 93h2m14 0h2m12 0h2m12 0h2m13 0h3m20 0h4m28 0h4m25 0h5m8 0h6m14 0h6m76 0h9m27 0h4m23 0h4m23 0h4m34 0h5m30 0h4m21 0h3m21 0h3m17 0h2m31 0h26m54 0h2m6 0h4m73 0h7m11 0h12m10 0h4m44 0h3m8 0h2m25 0h1m5 0h2M9 94h4m12 0h4m11 0h4m10 0h4m11 0h4m16 0h8m23 0h9m21 0h8m15 0h17m3 0h14m69 0h13m20 0h7m21 0h7m20 0h8m30 0h10m24 0h8m17 0h6m18 0h6m13 0h6m35 0h7m26 0h4m38 0h2m16 0h3m72 0h2m21 0h2m40 0h3m14 0h2m24 0h1m9 0h1M9 95h2m14 0h2m12 0h2m13 0h2m12 0h2m18 0h4m27 0h5m25 0h4m45 0h13m74 0h5m23 0h5m23 0h4m24 0h5m34 0h5m28 0h4m19 0h4m21 0h3m16 0h3m50 0h29m35 0h5m11 0h8m71 0h11m41 0h6m10 0h4m26 0h3m5 0h2M599 114h14m48 0h33m54 0h16m40 0h10m22 0h1M610 115h7m65 0h25m35 0h10m48 0h7m26 0h4M11 116h5m11 0h5m10 0h4m10 0h4m11 0h5m17 0h8m24 0h8m21 0h24m10 0h8m69 0h18m22 0h7m20 0h8m19 0h8m29 0h11m25 0h8m17 0h6m19 0h6m13 0h6m25 0h7m20 0h7m49 0h1m11 0h3m68 0h5m19 0h6m16 0h2m42 0h2m11 0h2m23 0h1m7 0h1M0 117h1m9 0h1m4 0h1m10 0h1m4 0h1m9 0h1m3 0h1m9 0h1m4 0h1m9 0h1m5 0h1m14 0h1m8 0h2m21 0h1m8 0h2m18 0h2m9 0h4m31 0h3m63 0h4m16 0h2m18 0h2m7 0h1m18 0h1m8 0h1m17 0h1m8 0h2m25 0h2m11 0h1m22 0h2m8 0h1m15 0h1m6 0h1m16 0h1m7 0h1m11 0h1m6 0h1m23 0h2m36 0h3m42 0h1m16 0h2m65 0h3m43 0h1m38 0h2m38 0h1M9 118h4m12 0h4m11 0h3m11 0h4m10 0h4m17 0h6m25 0h7m23 0h6m18 0h15m5 0h14m71 0h10m21 0h7m21 0h6m21 0h8m31 0h9m25 0h6m18 0h5m19 0h5m14 0h6m39 0h9m20 0h6m37 0h2m15 0h4m72 0h3m15 0h3m41 0h3m14 0h1m25 0h2m7 0h2M42 119h1m28 0h1m41 0h1m12 0h1m28 0h1m19 0h1m12 0h1m6 0h1m33 0h2m50 0h1m12 0h1m16 0h1m10 0h1m26 0h1m16 0h1m13 0h1m24 0h1m13 0h1m42 0h1m9 0h1m42 0h1m41 0h2m39 0h1m61 0h1m58 0h1m11 0h1m32 0h1m63 0h1M4 120h5m11 0h5m10 0h4m11 0h4m10 0h4m13 0h7m21 0h10m22 0h8m62 0h32m47 0h8m20 0h8m19 0h8m21 0h12m27 0h11m21 0h7m16 0h7m17 0h5m14 0h9m59 0h4m23 0h2m30 0h3m32 0h4m78 0h2m22 0h2m28 0h1m11 0h1M3 121h2m14 0h2m13 0h2m12 0h3m12 0h2m15 0h3m24 0h5m26 0h5m93 0h14m46 0h4m24 0h4m23 0h4m28 0h6m32 0h5m24 0h3m21 0h3m19 0h2m19 0h7m72 0h6m7 0h4m43 0h9m17 0h10m57 0h3m10 0h5m37 0h3m6 0h3m20 0h1M5 122h1m9 0h1m5 0h1m14 0h1m8 0h1m37 0h1m16 0h1m11 0h1m19 0h1m10 0h1m19 0h4m64 0h3m32 0h2m27 0h1m9 0h1m16 0h1m36 0h1m21 0h1m14 0h1m23 0h1m11 0h1m16 0h1m7 0h1m43 0h1m14 0h1m17 0h2m61 0h2m18 0h1m40 0h2m46 0h2m57 0h1m33 0h1m14 0h1M617 124h9m80 0h14m10 0h13m48 0h9m28 0h6M577 127h17m41 0h19m114 0h16m32 0h8M1 130h1m4 0h1m15 0h1m9 0h1m4 0h1m39 0h1m7 0h1m17 0h1m11 0h1m19 0h1m9 0h1m76 0h4m32 0h3m32 0h1m8 0h1m17 0h1m9 0h1m17 0h1m8 0h1m20 0h1m13 0h2m23 0h1m11 0h1m17 0h1m7 0h1m15 0h1m42 0h1m13 0h2m61 0h2m21 0h1m35 0h2m45 0h2m47 0h1m23 0h2m30 0h1m14 0h1M525 131h4m77 0h11m55 0h34m37 0h14m43 0h10m24 0h3M531 132h14m68 0h10m68 0h26m17 0h15m45 0h11m25 0h7M11 133h5m11 0h5m10 0h4m10 0h4m11 0h5m17 0h8m24 0h8m21 0h24m10 0h8m69 0h18m22 0h7m20 0h8m19 0h8m29 0h11m25 0h8m17 0h6m19 0h6m13 0h6m25 0h7m20 0h7m49 0h1m11 0h3m68 0h5m19 0h6m16 0h2m42 0h2m11 0h2m23 0h1m7 0h1M550 134h26m45 0h16m77 0h23m45 0h14m27 0h8M5 135h5m11 0h5m10 0h5m10 0h4m10 0h5m13 0h8m21 0h11m20 0h9m49 0h34m52 0h9m19 0h9m18 0h9m19 0h12m28 0h11m21 0h8m15 0h9m16 0h6m13 0h8m52 0h4m28 0h2m28 0h2m31 0h4m92 0h2m24 0h1m25 0h1m12 0h1M4 136h1m5 0h1m15 0h1m8 0h1m19 0h1m35 0h1m49 0h1m10 0h1m46 0h2m39 0h2m55 0h1m16 0h1m26 0h1m27 0h1m14 0h1m24 0h1m31 0h1m47 0h1m6 0h1m11 0h1m9 0h1m49 0h2m35 0h1m25 0h1m39 0h1m85 0h1m28 0h1m23 0h1m14 0h1M593 137h17m42 0h31m69 0h18m37 0h10M522 138h1m78 0h13m49 0h34m50 0h16m40 0h10m22 0h2M527 139h9m73 0h11m60 0h32m27 0h14m44 0h11m24 0h5M534 140h19m61 0h11m72 0h22m12 0h16m45 0h11m25 0h8M542 141h24m52 0h13m77 0h34m45 0h12m26 0h8M627 142h3m90 0h10m56 0h6m33 0h3M564 143h24m39 0h19m75 0h8m45 0h17m28 0h9M63 144h1m27 0h1m31 0h1m75 0h1m43 0h2m40 0h1m55 0h1m99 0h1m126 0h1m37 0h1m23 0h1m43 0h1m134 0h1m15 0h1M9 145h1m15 0h1m22 0h1m5 0h1m34 0h1m48 0h1m11 0h1m54 0h2m42 0h2m37 0h1m38 0h1m15 0h1m10 0h1m33 0h1m22 0h1m31 0h1m78 0h1m53 0h1m59 0h1m44 0h2m69 0h1m29 0h1M7 146h1m15 0h1m7 0h1m54 0h1m131 0h1m46 0h1m53 0h1m56 0h1m69 0h1m86 0h1m55 0h1m58 0h1m54 0h1m114 0h1M1 147h3m13 0h2m14 0h2m12 0h2m12 0h2m15 0h3m22 0h5m28 0h4m106 0h13m40 0h4m24 0h3m23 0h4m30 0h6m32 0h4m23 0h3m21 0h4m18 0h2m20 0h10m73 0h4m7 0h2m51 0h8m21 0h8m40 0h3m9 0h4m41 0h2m7 0h2m22 0h1M111 152h11M106 153h2m9 0h2m470 0h19m39 0h30m77 0h20m34 0h11M11 157h1m2 0h2m11 0h1m2 0h1m10 0h2m2 0h1m10 0h1m2 0h1m10 0h2m2 0h2m16 0h2m4 0h3m23 0h2m4 0h3m19 0h2m3 0h1m14 0h2m3 0h12m6 0h4m67 0h7m8 0h4m20 0h3m3 0h3m19 0h2m4 0h2m18 0h3m4 0h3m27 0h4m5 0h4m23 0h3m4 0h2m16 0h2m4 0h2m17 0h2m3 0h2m13 0h1m3 0h2m25 0h4m30 0h3m46 0h1m14 0h1m69 0h3m40 0h1m41 0h1m14 0h1m32 0h1M38 158h1m20 0h1m156 0h1m74 0h1m14 0h1m91 0h1m16 0h1m17 0h1m35 0h1m32 0h1m143 0h1M43 159h1m8 0h1m13 0h1m108 0h1m44 0h2m55 0h1m14 0h1m16 0h1m10 0h1m26 0h1m16 0h1m12 0h1m92 0h1m22 0h1m19 0h1m35 0h2m41 0h1m29 0h1m29 0h1m116 0h1M577 160h17m41 0h19m114 0h16m32 0h8M529 180h10m72 0h10m63 0h30m23 0h15m44 0h11m24 0h6M30 182h1m8 0h1m19 0h1m28 0h1m30 0h1m11 0h1m17 0h1m10 0h1m7 0h1m39 0h3m59 0h2m17 0h1m16 0h1m27 0h1m9 0h1m28 0h1m24 0h1m34 0h1m10 0h1m13 0h1m8 0h1m15 0h1m7 0h1m10 0h1m34 0h2m43 0h1m58 0h1m66 0h1m32 0h1m36 0h1m20 0h1M7 183h1m3 0h2m10 0h1m3 0h1m10 0h1m3 0h1m9 0h2m2 0h1m9 0h2m2 0h2m14 0h2m4 0h3m21 0h3m5 0h3m19 0h3m4 0h3m19 0h14m6 0h3m14 0h10m58 0h5m5 0h3m18 0h2m5 0h2m18 0h3m4 0h3m17 0h3m6 0h4m26 0h4m6 0h3m21 0h3m4 0h2m15 0h2m4 0h3m16 0h2m3 0h2m11 0h3m3 0h3m39 0h5m34 0h2m29 0h1m27 0h3m63 0h1m14 0h2m35 0h1m23 0h1m22 0h1m12 0h1M5 184h1m4 0h1m10 0h1m4 0h1m9 0h1m4 0h1m13 0h1m14 0h1m12 0h1m7 0h2m19 0h2m9 0h1m19 0h1m8 0h2m43 0h3m29 0h6m49 0h2m8 0h2m17 0h1m8 0h1m18 0h1m7 0h2m17 0h2m10 0h2m26 0h1m10 0h2m20 0h1m7 0h1m14 0h1m7 0h1m15 0h1m6 0h1m11 0h2m7 0h1m47 0h3m34 0h1m26 0h1m35 0h2m57 0h4m34 0h1m27 0h1m22 0h1m13 0h1"/>
<path stroke="#3b00ff" d="M5 8h4m12 0h4m11 0h4m11 0h4m10 0h4m14 0h7m22 0h9m22 0h8m54 0h31m52 0h8m20 0h8m20 0h7m21 0h11m29 0h9m22 0h7m17 0h7m17 0h5m14 0h7m57 0h4m24 0h2m30 0h3m28 0h5m89 0h2m21 0h3m26 0h1m11 0h1M2 9h1m4 0h1m10 0h1m4 0h1m9 0h1m4 0h1m23 0h1m16 0h1m6 0h1m18 0h2m9 0h2m19 0h1m9 0h1m67 0h4m31 0h4m37 0h1m8 0h1m18 0h1m8 0h1m17 0h1m8 0h1m19 0h2m12 0h2m24 0h1m10 0h2m18 0h1m6 0h1m15 0h1m7 0h1m14 0h1m5 0h1m13 0h1m10 0h2m60 0h2m24 0h1m32 0h2m40 0h3m61 0h1m24 0h1m29 0h1m13 0h1M5 10h1m9 0h1m5 0h1m9 0h1m4 0h1m46 0h1m16 0h1m11 0h1m20 0h1m9 0h1m19 0h3m66 0h3m30 0h3m27 0h1m9 0h1m17 0h1m8 0h1m17 0h1m8 0h1m21 0h2m13 0h1m23 0h1m11 0h1m16 0h1m7 0h1m15 0h1m7 0h1m13 0h1m5 0h1m14 0h1m17 0h2m62 0h1m18 0h1m41 0h2m45 0h1m35 0h1m21 0h1m49 0h1m18 0h1M14 11h1m15 0h1m19 0h1m13 0h1m9 0h1m23 0h1m12 0h1m30 0h1m17 0h1m8 0h1m66 0h2m33 0h1m62 0h1m26 0h1m37 0h1m21 0h1m12 0h1m48 0h1m33 0h1m22 0h2m59 0h1m17 0h1m44 0h1m47 0h1m25 0h1m22 0h1m35 0h1M605 43h11m55 0h32m41 0h14m43 0h10m23 0h3M4 56h1m4 0h1m10 0h1m4 0h1m9 0h1m18 0h1m13 0h1m13 0h1m6 0h1m19 0h2m9 0h2m19 0h1m8 0h1m52 0h5m30 0h4m46 0h1m7 0h2m17 0h2m7 0h1m18 0h1m7 0h1m19 0h2m10 0h2m26 0h1m10 0h2m19 0h1m6 0h1m15 0h1m7 0h1m15 0h1m5 0h1m13 0h1m7 0h2m53 0h3m29 0h2m27 0h1m37 0h2m82 0h1m26 0h1M95 62h3m22 0h4m8 0h3M268 64h5m235 0h5M14 67h1m15 0h1m19 0h1m13 0h1m9 0h1m7 0h1m15 0h1m12 0h1m30 0h1m17 0h1m8 0h1m66 0h2m33 0h1m24 0h1m37 0h1m26 0h1m21 0h1m15 0h1m21 0h1m28 0h1m32 0h1m33 0h1m22 0h1m60 0h1m17 0h1m44 0h2m46 0h1m25 0h1m22 0h1m35 0h1M0 68h2m10 0h6m10 0h5m10 0h5m9 0h5m10 0h7m15 0h11m21 0h11m18 0h20m14 0h6m60 0h26m21 0h9m18 0h10m17 0h10m25 0h14m23 0h11m15 0h8m17 0h8m12 0h7m19 0h4m26 0h5m51 0h1m13 0h1m59 0h4m30 0h2m8 0h2m19 0h1m40 0h1m13 0h1m21 0h1M1 69h1m30 0h1m58 0h1m11 0h1m19 0h1m11 0h1m63 0h1m58 0h2m25 0h1m44 0h1m10 0h1m50 0h1m15 0h1m20 0h1m11 0h1m13 0h1m8 0h1m63 0h1m40 0h1m61 0h1m60 0h2m54 0h1m37 0h1M609 75h6m64 0h20m47 0h8m48 0h6m27 0h2M526 76h10m71 0h13m55 0h37m26 0h18m41 0h12m23 0h5M572 79h9m49 0h12m135 0h12m31 0h6M570 80h29m32 0h29m104 0h23m27 0h11M2 81h1m15 0h1m34 0h1m8 0h1m4 0h1m11 0h1m7 0h1m18 0h1m11 0h1m18 0h1m10 0h1m63 0h3m36 0h2m37 0h1m9 0h1m17 0h1m9 0h1m16 0h1m28 0h1m14 0h1m24 0h1m11 0h1m18 0h1m7 0h1m14 0h1m29 0h1m24 0h2m58 0h1m27 0h1m29 0h2m42 0h2m63 0h1m26 0h1M66 82h1m35 0h1m12 0h1m18 0h1m85 0h3m38 0h1m30 0h1m10 0h1m16 0h1m26 0h1m29 0h1m15 0h1m23 0h1m12 0h1m39 0h1m9 0h1m12 0h1m6 0h1m28 0h2m59 0h2m57 0h2m47 0h2m71 0h1m30 0h1M606 83h7m60 0h21m54 0h9m47 0h7m25 0h1M627 87h10m84 0h8m52 0h10m31 0h6M580 88h12m45 0h15m118 0h13m34 0h6M618 93h6m84 0h11m12 0h10m51 0h8m28 0h5M552 94h26m44 0h16m77 0h21m45 0h14m27 0h9M630 95h11m137 0h10m33 0h5M539 116h20m57 0h11m76 0h19m6 0h16m46 0h11m26 0h7M11 117h4m12 0h4m11 0h3m11 0h4m11 0h5m16 0h8m24 0h8m22 0h9m4 0h31m70 0h16m22 0h7m20 0h8m19 0h8m29 0h11m25 0h8m17 0h6m18 0h7m13 0h6m26 0h20m5 0h11m46 0h1m12 0h3m70 0h4m37 0h2m41 0h2m12 0h2m23 0h1m8 0h1M559 118h20m45 0h15m79 0h15m47 0h14m28 0h7M6 119h1m4 0h1m10 0h1m4 0h1m9 0h1m13 0h1m4 0h1m8 0h1m18 0h1m8 0h1m20 0h1m10 0h1m18 0h2m8 0h1m21 0h12m8 0h1m26 0h6m53 0h2m9 0h1m18 0h1m8 0h1m17 0h1m8 0h1m18 0h1m10 0h2m26 0h2m10 0h1m20 0h1m8 0h1m14 0h1m7 0h1m15 0h1m6 0h1m11 0h1m7 0h1m44 0h3m35 0h1m27 0h1m32 0h2m60 0h1m8 0h2m34 0h1m25 0h1m22 0h1M583 120h23m35 0h32m84 0h22m31 0h11M602 121h7m56 0h17m70 0h10m45 0h6M0 122h5m11 0h5m10 0h5m10 0h5m9 0h5m11 0h7m18 0h11m21 0h10m91 0h32m30 0h9m18 0h10m17 0h9m23 0h14m25 0h11m18 0h7m16 0h9m13 0h6m16 0h3m9 0h5m65 0h2m15 0h1m43 0h3m41 0h2m36 0h2m19 0h2m35 0h1m12 0h1m19 0h1M2 130h4m11 0h5m11 0h4m10 0h5m9 0h5m12 0h7m19 0h11m21 0h9m81 0h32m36 0h8m19 0h9m19 0h8m22 0h13m26 0h11m19 0h7m17 0h8m14 0h6m15 0h13m65 0h2m18 0h1m38 0h3m38 0h4m50 0h1m20 0h2m33 0h1m12 0h1m18 0h1M539 133h20m57 0h11m76 0h19m6 0h16m46 0h11m26 0h7M573 135h28m32 0h31m98 0h24m27 0h12M20 136h1m19 0h1m9 0h1m13 0h1m4 0h1m12 0h1m7 0h1m19 0h2m9 0h2m19 0h1m8 0h1m49 0h4m30 0h5m46 0h2m8 0h1m18 0h1m7 0h2m17 0h1m8 0h1m18 0h2m10 0h2m26 0h1m10 0h2m19 0h1m7 0h1m14 0h1m7 0h2m34 0h1m7 0h1m52 0h2m32 0h1m27 0h1m36 0h2m87 0h1m26 0h1M10 144h1m15 0h1m22 0h1m5 0h1m25 0h1m27 0h1m30 0h1m11 0h1m47 0h1m41 0h1m43 0h1m10 0h1m16 0h1m10 0h1m26 0h1m16 0h1m15 0h1m23 0h1m13 0h1m27 0h1m23 0h1m13 0h1m18 0h1m10 0h1m49 0h1m61 0h1m41 0h1m82 0h1m29 0h1M3 145h1m30 0h1m4 0h1m28 0h1m11 0h1m26 0h1m12 0h1m18 0h1m9 0h1m57 0h3m36 0h3m50 0h1m16 0h1m9 0h1m17 0h1m8 0h1m18 0h1m14 0h1m24 0h1m12 0h1m26 0h1m14 0h1m8 0h1m33 0h1m10 0h1m55 0h2m30 0h1m27 0h1m41 0h2m72 0h1m27 0h1m25 0h1m14 0h1M0 146h1m75 0h1m24 0h1m14 0h1m16 0h1m85 0h1m44 0h1m39 0h1m90 0h1m20 0h1m14 0h1m49 0h1m50 0h1m57 0h1m111 0h1m41 0h1m27 0h1m28 0h1M607 147h7m61 0h21m51 0h9m47 0h7m25 0h2M108 153h9M12 157h2m14 0h2m13 0h2m12 0h2m13 0h2m20 0h4m28 0h4m24 0h3m17 0h3m12 0h6m78 0h8m27 0h3m24 0h4m23 0h4m34 0h5m30 0h4m20 0h4m21 0h3m16 0h3m31 0h30m50 0h14m73 0h40m43 0h14m24 0h9M117 158h1m13 0h1m15 0h1m67 0h1m54 0h1m104 0h1m82 0h1m33 0h1m19 0h1m25 0h1m48 0h1m30 0h1m90 0h1m30 0h1m33 0h1M7 159h1m4 0h1m10 0h1m4 0h1m9 0h1m18 0h1m14 0h1m13 0h1m7 0h2m20 0h2m9 0h1m18 0h2m6 0h1m21 0h1m12 0h1m4 0h1m20 0h5m58 0h3m10 0h1m18 0h1m8 0h1m17 0h2m7 0h1m18 0h1m9 0h2m26 0h2m10 0h2m20 0h2m7 0h1m14 0h1m7 0h1m16 0h1m18 0h1m6 0h1m38 0h3m36 0h2m57 0h3m64 0h1m16 0h2m35 0h2m22 0h1m22 0h1m11 0h1M9 182h1m3 0h2m10 0h1m3 0h1m10 0h1m3 0h1m9 0h1m3 0h1m9 0h1m4 0h2m14 0h2m6 0h2m21 0h2m7 0h2m19 0h2m6 0h2m9 0h4m17 0h3m9 0h6m64 0h4m11 0h2m18 0h2m6 0h2m18 0h1m6 0h2m17 0h2m7 0h3m26 0h3m8 0h3m21 0h2m6 0h2m15 0h2m5 0h1m17 0h1m5 0h1m12 0h1m5 0h2m28 0h4m36 0h3m36 0h1m20 0h2m68 0h2m28 0h2m38 0h1m18 0h1m22 0h1m10 0h1M8 183h3m13 0h3m12 0h3m12 0h2m12 0h2m18 0h4m27 0h5m25 0h4m45 0h14m73 0h5m23 0h5m23 0h4m23 0h6m34 0h6m27 0h4m19 0h4m21 0h3m16 0h3m47 0h34m32 0h27m67 0h14m38 0h23m24 0h12M6 184h4m12 0h4m11 0h4m10 0h4m10 0h5m14 0h7m23 0h9m21 0h8m48 0h29m57 0h8m20 0h8m20 0h7m21 0h10m29 0h10m23 0h7m16 0h7m17 0h6m14 0h7m51 0h6m24 0h4m28 0h3m27 0h5m98 0h3m21 0h3m24 0h2m10 0h1"/>
<path stroke="#6900ff" d="M578 8h24m35 0h28m96 0h21m30 0h11M3 9h4m12 0h4m11 0h4m10 0h5m10 0h4m13 0h6m21 0h9m22 0h9m72 0h31m42 0h8m20 0h8m19 0h8m22 0h12m27 0h10m21 0h6m17 0h7m16 0h5m15 0h10m64 0h4m19 0h1m35 0h3m33 0h4m65 0h1m20 0h3m31 0h1m11 0h1M0 10h5m11 0h5m11 0h4m10 0h5m9 0h5m11 0h7m18 0h11m22 0h9m92 0h30m31 0h9m19 0h8m19 0h8m24 0h13m25 0h11m18 0h7m17 0h7m15 0h5m16 0h17m65 0h3m14 0h1m44 0h4m37 0h4m37 0h1m18 0h2m36 0h1m12 0h1M4 11h1m15 0h1m14 0h1m9 0h1m13 0h1m15 0h1m6 0h1m16 0h1m9 0h2m20 0h2m8 0h1m19 0h2m3 0h3m69 0h4m26 0h3m25 0h2m8 0h1m17 0h1m8 0h1m17 0h1m8 0h1m22 0h2m12 0h2m23 0h1m10 0h1m16 0h1m7 0h1m15 0h1m7 0h1m13 0h1m5 0h1m15 0h1m18 0h3m62 0h1m62 0h3m42 0h2m27 0h1m20 0h1m37 0h1m13 0h1m19 0h1M262 47h5m9 0h4M5 56h4m12 0h4m11 0h4m10 0h4m10 0h4m15 0h6m22 0h9m22 0h8m58 0h30m51 0h7m21 0h7m20 0h7m22 0h10m29 0h10m22 0h6m17 0h7m17 0h5m15 0h7m58 0h5m22 0h2m30 0h4m28 0h5m85 0h3m21 0h2m27 0h2m10 0h2M441 64h3m75 0h4m23 0h3M4 67h1m10 0h1m4 0h1m14 0h1m9 0h1m13 0h1m15 0h1m5 0h1m17 0h2m8 0h2m20 0h2m8 0h1m19 0h3m2 0h3m69 0h5m24 0h4m26 0h1m7 0h2m17 0h2m7 0h1m17 0h2m7 0h1m23 0h2m11 0h2m23 0h2m8 0h2m17 0h1m6 0h1m15 0h1m7 0h1m13 0h1m5 0h1m15 0h1m17 0h4m62 0h1m63 0h2m42 0h2m27 0h1m20 0h1m37 0h1m13 0h1m19 0h1M529 68h26m57 0h13m64 0h30m12 0h19m42 0h13m23 0h9M16 69h1m24 0h1m4 0h1m23 0h1m6 0h1m14 0h1m9 0h1m21 0h1m9 0h1m18 0h1m43 0h2m61 0h3m21 0h1m18 0h1m9 0h1m26 0h1m16 0h1m10 0h1m24 0h2m12 0h1m22 0h1m9 0h1m39 0h1m7 0h1m11 0h1m6 0h1m21 0h1m36 0h3m44 0h1m16 0h1m63 0h2m51 0h1m39 0h1m15 0h1m21 0h1M3 81h5m11 0h5m10 0h5m9 0h5m10 0h4m13 0h7m20 0h11m20 0h10m67 0h36m40 0h9m19 0h9m18 0h9m20 0h14m26 0h11m20 0h7m16 0h9m14 0h6m14 0h4m3 0h4m61 0h3m23 0h1m32 0h2m37 0h3m66 0h1m23 0h2m29 0h1m13 0h1M1 82h1m4 0h1m10 0h1m4 0h1m9 0h1m4 0h1m9 0h1m3 0h1m9 0h1m15 0h1m6 0h2m17 0h2m9 0h1m20 0h2m7 0h2m77 0h6m27 0h5m32 0h1m8 0h1m18 0h1m7 0h2m17 0h1m7 0h2m20 0h2m11 0h2m25 0h1m9 0h2m17 0h2m6 0h1m15 0h1m7 0h1m14 0h1m4 0h1m14 0h1m12 0h2m63 0h1m21 0h1m36 0h2m43 0h2m48 0h1m23 0h1m46 0h1m17 0h1M554 117h5m58 0h12m77 0h37m45 0h12m26 0h8M7 119h4m12 0h4m11 0h4m10 0h4m10 0h5m14 0h8m22 0h10m21 0h8m43 0h26m61 0h9m20 0h8m19 0h8m20 0h10m30 0h10m22 0h8m16 0h7m17 0h6m13 0h7m48 0h6m25 0h4m29 0h3m24 0h5m63 0h8m37 0h3m20 0h2m24 0h1m11 0h1M520 122h9m72 0h15m47 0h41m40 0h19m38 0h12m21 0h3M595 130h18m42 0h38m55 0h20m36 0h12m20 0h1M5 136h5m11 0h5m10 0h4m11 0h4m10 0h4m14 0h7m22 0h9m22 0h8m54 0h30m53 0h8m20 0h7m20 0h8m21 0h10m29 0h10m22 0h7m16 0h7m17 0h6m14 0h7m55 0h6m23 0h3m29 0h3m28 0h5m90 0h3m21 0h2m26 0h2m10 0h2M4 144h1m15 0h1m14 0h1m4 0h1m28 0h1m20 0h1m19 0h1m11 0h1m18 0h1m9 0h1m49 0h3m34 0h4m45 0h1m27 0h1m8 0h1m17 0h1m8 0h1m18 0h1m13 0h1m25 0h1m11 0h1m19 0h1m22 0h1m8 0h1m21 0h1m12 0h1m8 0h1m51 0h2m33 0h1m26 0h1m38 0h2m84 0h1m27 0h1m24 0h1m13 0h1M4 145h5m10 0h6m10 0h4m10 0h5m9 0h5m13 0h8m19 0h12m20 0h9m61 0h36m43 0h10m18 0h9m19 0h8m20 0h14m26 0h12m19 0h8m16 0h8m15 0h7m13 0h4m2 0h4m58 0h3m26 0h1m29 0h2m36 0h3m75 0h1m24 0h2m27 0h1M52 146h1m7 0h1m5 0h1m79 0h1m73 0h1m42 0h1m28 0h1m54 0h1m10 0h1m18 0h1m92 0h1m22 0h1m19 0h1m17 0h1m117 0h1m51 0h1m69 0h1m62 0h1M30 158h1m56 0h1m126 0h1m56 0h1m46 0h1m15 0h1m26 0h1m83 0h1m37 0h1m55 0h1m46 0h1m58 0h1m64 0h1m64 0h1m22 0h1m20 0h1m12 0h1M8 159h4m12 0h4m11 0h4m10 0h4m10 0h5m15 0h7m24 0h9m21 0h6m23 0h12m6 0h20m66 0h10m20 0h8m20 0h7m20 0h9m30 0h10m24 0h7m16 0h7m18 0h6m13 0h6m42 0h8m24 0h4m33 0h2m20 0h4m68 0h2m12 0h2m39 0h3m17 0h2m24 0h1M10 182h3m13 0h3m12 0h3m11 0h3m11 0h4m18 0h6m25 0h7m23 0h6m15 0h17m3 0h9m74 0h11m22 0h6m21 0h6m21 0h7m32 0h8m26 0h6m19 0h5m19 0h5m14 0h5m34 0h36m40 0h20m72 0h28m41 0h18m24 0h10M573 184h24m35 0h27m106 0h21m29 0h10"/>
<path stroke="#980bf4" d="M591 9h19m39 0h33m70 0h20m35 0h11M602 10h14m49 0h37m42 0h18m39 0h12m21 0h3M0 11h4m11 0h5m11 0h4m11 0h4m10 0h4m12 0h6m18 0h9m24 0h8m22 0h3m76 0h26m30 0h8m19 0h8m19 0h8m25 0h12m26 0h10m18 0h7m17 0h7m15 0h5m17 0h18m66 0h2m12 0h2m49 0h3m36 0h3m30 0h2m16 0h2m39 0h1m11 0h1M581 56h22m36 0h28m93 0h21m31 0h10M224 64h4m325 0h2m7 0h3M0 67h4m12 0h4m11 0h4m11 0h4m10 0h4m12 0h5m20 0h8m24 0h8m23 0h2m77 0h24m31 0h7m21 0h7m20 0h7m26 0h11m27 0h8m20 0h6m17 0h7m15 0h5m17 0h17m67 0h2m12 0h2m49 0h4m34 0h4m30 0h2m16 0h2m39 0h1m11 0h1M0 69h1m10 0h5m11 0h5m10 0h4m10 0h5m10 0h6m16 0h9m23 0h9m20 0h43m66 0h21m20 0h9m18 0h9m18 0h10m27 0h12m24 0h9m16 0h8m17 0h7m13 0h6m23 0h4m29 0h3m48 0h1m13 0h2m66 0h3m47 0h1m41 0h1m46 0h1M516 81h3m68 0h23m35 0h37m70 0h23m32 0h13M2 82h4m12 0h4m11 0h4m11 0h3m11 0h4m12 0h6m21 0h9m23 0h7m85 0h27m38 0h8m20 0h7m20 0h7m24 0h11m28 0h9m21 0h6m17 0h7m16 0h4m16 0h12m66 0h3m17 0h1m39 0h4m34 0h5m51 0h2m18 0h3m33 0h2m11 0h1M568 119h25m36 0h24m116 0h20m27 0h11M578 136h23m35 0h28m98 0h21m30 0h10M5 144h5m11 0h5m10 0h4m10 0h5m9 0h5m13 0h8m21 0h11m20 0h9m53 0h34m50 0h9m19 0h8m19 0h8m20 0h13m27 0h11m21 0h8m15 0h8m16 0h6m14 0h8m54 0h3m28 0h2m28 0h2m33 0h3m87 0h2m24 0h1m26 0h1M515 145h2m65 0h26m32 0h36m79 0h24m30 0h13M16 146h1m29 0h1m38 0h1m16 0h1m12 0h1m18 0h1m86 0h2m39 0h1m57 0h1m10 0h1m62 0h1m22 0h1m12 0h1m16 0h1m8 0h1m73 0h1m60 0h1m23 0h1m34 0h2m48 0h1m44 0h1m71 0h1M14 158h1m29 0h1m8 0h1m13 0h1m6 0h1m23 0h1m19 0h1m11 0h1m25 0h1m16 0h1m38 0h2m58 0h1m17 0h1m16 0h1m37 0h1m28 0h1m24 0h1m14 0h1m19 0h1m33 0h1m71 0h2m43 0h1m58 0h1m66 0h1m27 0h1M562 159h24m39 0h20m74 0h12m44 0h17m27 0h10"/>
<path stroke="#c729d6" d="M605 11h12m54 0h36m35 0h16m42 0h11m22 0h4M262 60h5m9 0h4m430 0h3M237 64h4m216 0h3M605 67h12m55 0h34m36 0h16m42 0h11m22 0h4M534 69h29m52 0h13m71 0h47m43 0h14m23 0h9M596 82h17m44 0h34m58 0h18m38 0h11m20 0h1M575 144h28m32 0h33m92 0h24m28 0h12M6 146h1m15 0h1m9 0h1m4 0h1m39 0h1m36 0h1m30 0h1m77 0h3m34 0h2m31 0h1m9 0h1m44 0h1m8 0h1m20 0h1m14 0h1m77 0h1m8 0h1m19 0h1m13 0h1m14 0h1m62 0h1m59 0h1m45 0h2m70 0h1m31 0h1M8 158h1m15 0h1m63 0h1m8 0h1m21 0h1m28 0h1m42 0h1m18 0h2m61 0h2m42 0h1m17 0h1m26 0h1m10 0h1m26 0h1m12 0h1m21 0h1m8 0h1m14 0h1m24 0h1m6 0h1m11 0h1m7 0h1m30 0h1m41 0h1m34 0h1m23 0h1m68 0h1m25 0h1m37 0h1m20 0h1m22 0h1"/>
<path stroke="#f647b8" d="M250 64h5M239 83h3M1 146h1m15 0h1m29 0h1m3 0h1m9 0h1m3 0h1m12 0h1m5 0h1m18 0h2m8 0h1m21 0h2m7 0h1m81 0h6m24 0h4m34 0h1m7 0h1m18 0h2m6 0h2m18 0h1m6 0h1m22 0h2m10 0h2m25 0h2m8 0h2m18 0h1m6 0h1m16 0h1m6 0h1m14 0h1m4 0h1m15 0h1m11 0h2m64 0h2m19 0h1m38 0h2m41 0h2m48 0h1m21 0h2m46 0h1m18 0h1M13 158h1m15 0h1m9 0h1m3 0h1m10 0h1m3 0h1m9 0h1m4 0h1m15 0h1m6 0h1m23 0h1m7 0h2m19 0h1m5 0h1m18 0h1m15 0h1m1 0h2m11 0h5m65 0h2m11 0h2m18 0h2m6 0h1m19 0h1m6 0h2m18 0h1m8 0h1m28 0h2m8 0h2m23 0h1m6 0h1m16 0h1m6 0h1m17 0h1m18 0h1m5 0h1m32 0h3m36 0h2m57 0h2m70 0h1m23 0h1m39 0h1m53 0h1"/>
<path stroke="#ff659a" d="M262 59h5m9 0h4M154 60h5M154 61h5M2 146h4m12 0h4m11 0h4m11 0h3m11 0h3m14 0h5m21 0h8m24 0h7m88 0h24m39 0h7m21 0h6m21 0h6m25 0h10m29 0h8m21 0h6m18 0h6m16 0h4m17 0h11m68 0h19m41 0h41m51 0h21m35 0h13m20 0h1M9 158h4m12 0h4m11 0h3m12 0h3m11 0h4m17 0h6m25 0h7m22 0h5m20 0h15m4 0h11m72 0h11m22 0h6m21 0h6m21 0h8m31 0h8m26 0h6m18 0h6m19 0h5m14 0h5m36 0h36m38 0h21m73 0h23m41 0h19m24 0h10"/>
</g>
<rect x="422.7" y="343.25" width="1.0" height="9.73" fill="#ffb04f"/><rect x="1269.3" y="362.71" width="1.0" height="9.73" fill="#fffb04"/><rect x="1336.9" y="362.71" width="1.0" height="9.73" fill="#fffb04"/><rect x="1348.0" y="362.71" width="1.0" height="9.73" fill="#fffb04"/><rect x="1368.0" y="362.71" width="1.0" height="9.73" fill="#ffb04f"/><rect x="1377.9" y="362.71" width="1.0" height="9.73" fill="#ff926d"/><rect x="1269.3" y="357.85" width="1.0" height="4.86" fill="#5200ff"/><rect x="1336.9" y="357.85" width="1.0" height="4.86" fill="#5200ff"/><rect x="1348.0" y="357.85" width="1.0" height="4.86" fill="#5200ff"/><rect x="1368.0" y="357.85" width="1.0" height="4.86" fill="#5200ff"/><rect x="1377.9" y="357.85" width="1.0" height="4.86" fill="#5200ff"/><rect x="1381.0" y="187.60" width="1.0" height="19.46" fill="#ffa15e"/><rect x="1381.0" y="182.73" width="1.0" height="4.86" fill="#2300ff"/><rect x="1546.5" y="892.91" width="1.0" height="14.59" fill="#8100ff"/><rect x="1680.5" y="644.83" width="1.0" height="9.73" fill="#b01ae5"/>
<g transform="translate(121.5 53.832) scale(2 4.86421)"><pattern id="pN" patternUnits="userSpaceOnUse" x="0" y="-0.5" width="127" height="13"><g fill="none" stroke-width="1" transform="translate(0 0.5)"><path stroke="#000" stroke-opacity="0.06" d="M1 0h.5m2 0h.5m4 0h.5m5.5 0h.5m5.5 0h.5m0 0h.5m0.5 0h.5m5 0h.5m0 0h.5m3.5 0h.5m1 0h.5m2 0h.5m4 0h.5m1 0h.5m4.5 0h.5m5 0h.5m0 0h.5m0 0h.5m15 0h.5m5.5 0h.5m1 0h.5m9.5 0h.5m1 0h.5m4.5 0h.5m3 0h.5m0 0h.5m7.5 0h.5m2.5 0h.5m1.5 0h.5m3.5 0h.5m2 0h.5m1 0h.5m5 0h.5M0.5 1h.5m1 0h.5m0 0h.5m11 0h.5m1.5 0h.5m3.5 0h.5m3.5 0h.5m0.5 0h.5m2 0h.5m11.5 0h.5m3.5 0h.5m0.5 0h.5m2.5 0h.5m17 0h.5m0 0h.5m6.5 0h.5m0 0h.5m10.5 0h.5m1.5 0h.5m2 0h.5m2.5 0h.5m3 0h.5m5.5 0h.5m2 0h.5m1 0h.5m2 0h.5m2 0h.5m2 0h.5m4 0h.5m1 0h.5m3.5 0h.5m1 0h.5M1 2h.5m6 0h.5m5 0h.5m2.5 0h.5m2 0h.5m1.5 0h.5m0 0h.5m0 0h.5m1.5 0h.5m2 0h.5m9.5 0h.5m4.5 0h.5m0 0h.5m1.5 0h.5m12.5 0h.5m7.5 0h.5m1.5 0h.5m0.5 0h.5m1 0h.5m2 0h.5m0 0h.5m2.5 0h.5m5.5 0h.5m2.5 0h.5m7.5 0h.5m1.5 0h.5m12.5 0h.5m6.5 0h.5m2 0h.5m2.5 0h.5m3 0h.5m0 0h.5M5.5 3h.5m11.5 0h.5m3 0h.5m1 0h.5m0.5 0h.5m15.5 0h.5m1 0h.5m2 0h.5m0 0h.5m7.5 0h.5m1 0h.5m3.5 0h.5m5 0h.5m7.5 0h.5m0.5 0h.5m3 0h.5m6 0h.5m0.5 0h.5m7.5 0h.5m2.5 0h.5m1 0h.5m4 0h.5m4 0h.5m3 0h.5m7.5 0h.5m5 0h.5m2 0h.5M5 4h.5m3.5 0h.5m6 0h.5m3.5 0h.5m0.5 0h.5m8.5 0h.5m2 0h.5m3 0h.5m6 0h.5m8.5 0h.5m1.5 0h.5m6.5 0h.5m1.5 0h.5m1 0h.5m1 0h.5m0 0h.5m1 0h.5m0.5 0h.5m1 0h.5m0.5 0h.5m0 0h.5m2.5 0h.5m0 0h.5m1.5 0h.5m9 0h.5m2.5 0h.5m2 0h.5m7 0h.5m4 0h.5m3 0h.5m0 0h.5m8.5 0h.5m6 0h.5m0 0h.5m2 0h.5m0 0h.5M1 5h.5m0.5 0h.5m0 0h.5m5 0h.5m1 0h.5m0.5 0h.5m9 0h.5m1 0h.5m2.5 0h.5m1.5 0h.5m7 0h.5m0.5 0h.5m4 0h.5m14 0h.5m3.5 0h.5m10 0h.5m4 0h.5m3.5 0h.5m6 0h.5m0 0h.5m0.5 0h.5m2 0h.5m0.5 0h.5m2.5 0h.5m0 0h.5m2.5 0h.5m5.5 0h.5m0 0h.5m9 0h.5m13 0h.5M5.5 6h.5m10 0h.5m1.5 0h.5m3 0h.5m10 0h.5m3 0h.5m0 0h.5m1 0h.5m1 0h.5m4.5 0h.5m1 0h.5m6.5 0h.5m5.5 0h.5m0 0h.5m2 0h.5m3.5 0h.5m0.5 0h.5m0 0h.5m2 0h.5m2 0h.5m3.5 0h.5m6 0h.5m1.5 0h.5m10.5 0h.5m2 0h.5m0 0h.5m2.5 0h.5m10.5 0h.5m12.5 0h.5M1 7h.5m2 0h.5m1 0h.5m3.5 0h.5m3.5 0h.5m3 0h.5m0.5 0h.5m4 0h.5m3 0h.5m2.5 0h.5m2 0h.5m5 0h.5m1 0h.5m1 0h.5m3 0h.5m10.5 0h.5m0.5 0h.5m10.5 0h.5m3 0h.5m18.5 0h.5m1 0h.5m0 0h.5m6 0h.5m0 0h.5m7.5 0h.5m1.5 0h.5m0 0h.5m0 0h.5m11 0h.5m0 0h.5m0 0h.5m1 0h.5M2.5 8h.5m2 0h.5m0.5 0h.5m4 0h.5m0 0h.5m6 0h.5m13.5 0h.5m13 0h.5m11.5 0h.5m10.5 0h.5m6 0h.5m0 0h.5m0 0h.5m15 0h.5m3 0h.5m11 0h.5m5 0h.5m2 0h.5m5 0h.5m5 0h.5M12 9h.5m1.5 0h.5m1.5 0h.5m4 0h.5m0 0h.5m0.5 0h.5m8 0h.5m1.5 0h.5m5.5 0h.5m9.5 0h.5m5 0h.5m0 0h.5m0.5 0h.5m4 0h.5m0.5 0h.5m1 0h.5m8.5 0h.5m5 0h.5m8.5 0h.5m10 0h.5m2.5 0h.5m0 0h.5m9 0h.5m3 0h.5m1 0h.5m0 0h.5m3 0h.5m6.5 0h.5M7 10h.5m1.5 0h.5m5 0h.5m1.5 0h.5m0.5 0h.5m1 0h.5m16.5 0h.5m4.5 0h.5m2 0h.5m3 0h.5m5.5 0h.5m0.5 0h.5m4 0h.5m2.5 0h.5m0 0h.5m1 0h.5m4 0h.5m1 0h.5m2.5 0h.5m6 0h.5m0 0h.5m1 0h.5m4 0h.5m8 0h.5m5 0h.5m6 0h.5m6.5 0h.5m0 0h.5m5.5 0h.5m6 0h.5M6 11h.5m0.5 0h.5m0 0h.5m2 0h.5m4.5 0h.5m2.5 0h.5m2 0h.5m0 0h.5m2 0h.5m3 0h.5m0 0h.5m4 0h.5m6 0h.5m0.5 0h.5m7 0h.5m2.5 0h.5m5 0h.5m3 0h.5m1.5 0h.5m4 0h.5m13 0h.5m2 0h.5m6 0h.5m3.5 0h.5m8.5 0h.5m0 0h.5m5.5 0h.5m1 0h.5M4 12h.5m0.5 0h.5m0 0h.5m5.5 0h.5m9 0h.5m0.5 0h.5m0.5 0h.5m6 0h.5m2 0h.5m1 0h.5m0.5 0h.5m0 0h.5m0.5 0h.5m3.5 0h.5m4 0h.5m0.5 0h.5m0.5 0h.5m6.5 0h.5m2.5 0h.5m0 0h.5m0 0h.5m1.5 0h.5m8 0h.5m5 0h.5m5 0h.5m1 0h.5m0.5 0h.5m3 0h.5m2.5 0h.5m1.5 0h.5m3.5 0h.5m4.5 0h.5m1.5 0h.5m1.5 0h.5m0.5 0h.5m11 0h.5m1.5 0h.5m5 0h.5m1.5 0h.5m1 0h.5"/><path stroke="#000" stroke-opacity="0.3" d="M2 0h.5m6.5 0h.5m2.5 0h.5m3.5 0h.5m0.5 0h.5m0 0h.5m1 0h.5m7 0h.5m3.5 0h.5m0 0h.5m15.5 0h.5m1 0h.5m2 0h.5m13.5 0h.5m3.5 0h.5m3.5 0h.5m7 0h.5m0 0h.5m1 0h.5m2 0h.5m1.5 0h.5m4.5 0h.5m5.5 0h.5m3 0h.5m4 0h.5m4 0h.5M5.5 1h.5m10.5 0h.5m6 0h.5m3.5 0h.5m1.5 0h.5m18.5 0h.5m1 0h.5m1.5 0h.5m0 0h.5m4 0h.5m0 0h.5m3.5 0h.5m0 0h.5m0.5 0h.5m11.5 0h.5m0 0h.5m2 0h.5m3 0h.5m15.5 0h.5m6.5 0h.5m17.5 0h.5m3.5 0h.5M6.5 2h.5m9.5 0h.5m2.5 0h.5m5.5 0h.5m8 0h.5m1 0h.5m2.5 0h.5m1 0h.5m0 0h.5m1 0h.5m1.5 0h.5m4.5 0h.5m0 0h.5m1.5 0h.5m3 0h.5m3.5 0h.5m8.5 0h.5m2 0h.5m9 0h.5m7 0h.5m5.5 0h.5m2 0h.5m5 0h.5m2.5 0h.5m5 0h.5m2 0h.5m9 0h.5m2.5 0h.5m0 0h.5m0.5 0h.5M4 3h.5m0 0h.5m3 0h.5m5.5 0h.5m2.5 0h.5m3 0h.5m2 0h.5m5.5 0h.5m1.5 0h.5m0 0h.5m7 0h.5m5 0h.5m1 0h.5m4.5 0h.5m5 0h.5m12.5 0h.5m7.5 0h.5m5.5 0h.5m3 0h.5m3 0h.5m1 0h.5m3.5 0h.5m1.5 0h.5m1 0h.5m6 0h.5m8.5 0h.5m2.5 0h.5m7 0h.5m0.5 0h.5M2 4h.5m3 0h.5m2 0h.5m1.5 0h.5m0 0h.5m8 0h.5m2 0h.5m0 0h.5m0 0h.5m1.5 0h.5m5.5 0h.5m2.5 0h.5m2.5 0h.5m4 0h.5m0 0h.5m28 0h.5m2 0h.5m3 0h.5m0.5 0h.5m3 0h.5m2 0h.5m1.5 0h.5m2 0h.5m1.5 0h.5m2.5 0h.5m1 0h.5m0.5 0h.5m1.5 0h.5m0 0h.5m0 0h.5m1.5 0h.5m0.5 0h.5m5 0h.5m3.5 0h.5m1 0h.5m5.5 0h.5m4 0h.5M0.5 5h.5m19.5 0h.5m6.5 0h.5m0.5 0h.5m3 0h.5m10.5 0h.5m0 0h.5m1.5 0h.5m0.5 0h.5m1 0h.5m2 0h.5m1.5 0h.5m0.5 0h.5m17.5 0h.5m3 0h.5m0 0h.5m0.5 0h.5m1.5 0h.5m5.5 0h.5m0.5 0h.5m4 0h.5m6.5 0h.5m3 0h.5m5.5 0h.5m9.5 0h.5m2.5 0h.5m2.5 0h.5M2.5 6h.5m0 0h.5m3 0h.5m1.5 0h.5m5 0h.5m6.5 0h.5m4 0h.5m0 0h.5m2 0h.5m1.5 0h.5m12 0h.5m5.5 0h.5m4 0h.5m1 0h.5m2.5 0h.5m4 0h.5m1.5 0h.5m0 0h.5m13 0h.5m0.5 0h.5m12 0h.5m3.5 0h.5m0 0h.5m0 0h.5m5 0h.5m0 0h.5m2 0h.5m3.5 0h.5m2 0h.5m5 0h.5m2.5 0h.5m0 0h.5m2.5 0h.5M0 7h.5m1 0h.5m0.5 0h.5m9 0h.5m2 0h.5m3 0h.5m1.5 0h.5m2 0h.5m0.5 0h.5m12 0h.5m12 0h.5m6.5 0h.5m2 0h.5m4 0h.5m0 0h.5m2 0h.5m0.5 0h.5m14 0h.5m1.5 0h.5m14.5 0h.5m0.5 0h.5m0.5 0h.5m1 0h.5m11.5 0h.5m5.5 0h.5M3 8h.5m0 0h.5m0 0h.5m3.5 0h.5m4.5 0h.5m1 0h.5m1 0h.5m10.5 0h.5m1 0h.5m1.5 0h.5m3.5 0h.5m6 0h.5m3 0h.5m1 0h.5m0.5 0h.5m2 0h.5m4.5 0h.5m0.5 0h.5m1.5 0h.5m1.5 0h.5m10 0h.5m2 0h.5m1 0h.5m2.5 0h.5m0 0h.5m0 0h.5m14.5 0h.5m0.5 0h.5m0.5 0h.5m3.5 0h.5m0.5 0h.5m4 0h.5m0 0h.5m5 0h.5m10.5 0h.5M9 9h.5m0.5 0h.5m9.5 0h.5m1 0h.5m2 0h.5m1.5 0h.5m9.5 0h.5m5 0h.5m0.5 0h.5m2 0h.5m3.5 0h.5m8.5 0h.5m1 0h.5m4 0h.5m1.5 0h.5m9.5 0h.5m3.5 0h.5m0 0h.5m11 0h.5m0 0h.5m9.5 0h.5m0.5 0h.5m12.5 0h.5M3.5 10h.5m6 0h.5m4.5 0h.5m4.5 0h.5m6.5 0h.5m6 0h.5m3 0h.5m22 0h.5m3 0h.5m1 0h.5m7 0h.5m18 0h.5m4.5 0h.5m2.5 0h.5m1 0h.5m3.5 0h.5m4.5 0h.5m4.5 0h.5m5.5 0h.5m2.5 0h.5m0 0h.5m2.5 0h.5M1.5 11h.5m7 0h.5m3 0h.5m0 0h.5m13 0h.5m17 0h.5m3 0h.5m0 0h.5m18 0h.5m0.5 0h.5m3 0h.5m6 0h.5m1.5 0h.5m3 0h.5m3 0h.5m2 0h.5m1.5 0h.5m15 0h.5m2.5 0h.5m4 0h.5M2 12h.5m1 0h.5m0.5 0h.5m1 0h.5m1 0h.5m0 0h.5m1 0h.5m0 0h.5m6 0h.5m2.5 0h.5m13 0h.5m25 0h.5m2 0h.5m9 0h.5m1.5 0h.5m1.5 0h.5m12.5 0h.5m7 0h.5m3 0h.5m5.5 0h.5m2.5 0h.5m13.5 0h.5m1.5 0h.5m1.5 0h.5"/><path stroke="#000" stroke-opacity="0.2" d="M2.5 0h.5m0 0h.5m0.5 0h.5m0.5 0h.5m5 0h.5m10 0h.5m16.5 0h.5m5.5 0h.5m0 0h.5m4 0h.5m5.5 0h.5m1 0h.5m2 0h.5m1 0h.5m0 0h.5m0 0h.5m0 0h.5m5 0h.5m3 0h.5m2 0h.5m0 0h.5m3 0h.5m1.5 0h.5m3.5 0h.5m1.5 0h.5m2 0h.5m0 0h.5m11 0h.5m12.5 0h.5m11.5 0h.5M8.5 1h.5m6.5 0h.5m10 0h.5m3.5 0h.5m0 0h.5m2 0h.5m1 0h.5m7 0h.5m6 0h.5m0 0h.5m0.5 0h.5m13.5 0h.5m2.5 0h.5m0.5 0h.5m3 0h.5m3.5 0h.5m1 0h.5m2.5 0h.5m1 0h.5m2.5 0h.5m2.5 0h.5m6.5 0h.5m3.5 0h.5m3.5 0h.5m4 0h.5m8.5 0h.5M3.5 2h.5m6.5 0h.5m4.5 0h.5m1 0h.5m11.5 0h.5m1 0h.5m3.5 0h.5m2.5 0h.5m7 0h.5m3 0h.5m2 0h.5m2 0h.5m0.5 0h.5m0.5 0h.5m5 0h.5m0.5 0h.5m11 0h.5m3 0h.5m4.5 0h.5m0 0h.5m7.5 0h.5m4.5 0h.5m0.5 0h.5m1 0h.5m1.5 0h.5m5.5 0h.5m2 0h.5m4.5 0h.5m1.5 0h.5m1 0h.5M2 3h.5m0 0h.5m3 0h.5m5.5 0h.5m14 0h.5m6 0h.5m4.5 0h.5m9 0h.5m5 0h.5m1.5 0h.5m0 0h.5m6.5 0h.5m2.5 0h.5m2 0h.5m2 0h.5m17 0h.5m4 0h.5m9.5 0h.5m2.5 0h.5m3 0h.5m0 0h.5m1.5 0h.5m1.5 0h.5m0.5 0h.5m2 0h.5m1.5 0h.5m0 0h.5M0.5 4h.5m2 0h.5m0 0h.5m4.5 0h.5m5.5 0h.5m5 0h.5m2.5 0h.5m5.5 0h.5m5 0h.5m1 0h.5m1 0h.5m1 0h.5m1 0h.5m6 0h.5m0 0h.5m4.5 0h.5m6 0h.5m6.5 0h.5m0 0h.5m6.5 0h.5m1.5 0h.5m2 0h.5m7 0h.5m1 0h.5m6 0h.5m1.5 0h.5m0 0h.5m7.5 0h.5m6.5 0h.5m6 0h.5m3.5 0h.5m2 0h.5m0.5 0h.5M3.5 5h.5m6 0h.5m1.5 0h.5m1.5 0h.5m2.5 0h.5m0 0h.5m6 0h.5m3.5 0h.5m4.5 0h.5m0 0h.5m6 0h.5m0 0h.5m1.5 0h.5m1 0h.5m4.5 0h.5m0 0h.5m7.5 0h.5m1.5 0h.5m0.5 0h.5m1.5 0h.5m17.5 0h.5m10 0h.5m1.5 0h.5m2 0h.5m3 0h.5m6 0h.5m3 0h.5m0 0h.5m4.5 0h.5m0.5 0h.5m0 0h.5m1.5 0h.5m0.5 0h.5m1.5 0h.5M4.5 6h.5m15.5 0h.5m10 0h.5m2 0h.5m7.5 0h.5m0 0h.5m8.5 0h.5m0.5 0h.5m11 0h.5m7.5 0h.5m0.5 0h.5m4 0h.5m0 0h.5m7.5 0h.5m2.5 0h.5m1 0h.5m1 0h.5m1 0h.5m7.5 0h.5m2.5 0h.5m1.5 0h.5m0.5 0h.5m3 0h.5m0 0h.5m4.5 0h.5M4 7h.5m0 0h.5m3.5 0h.5m0.5 0h.5m10.5 0h.5m0.5 0h.5m3 0h.5m2.5 0h.5m5.5 0h.5m2.5 0h.5m19 0h.5m1.5 0h.5m2 0h.5m10.5 0h.5m2 0h.5m0.5 0h.5m1 0h.5m0 0h.5m1 0h.5m4.5 0h.5m0 0h.5m6.5 0h.5m0 0h.5m1 0h.5m4.5 0h.5m0.5 0h.5m1 0h.5m0.5 0h.5m2 0h.5m1 0h.5m3 0h.5m0 0h.5m2.5 0h.5m3.5 0h.5m4 0h.5m1 0h.5m3 0h.5M6.5 8h.5m4.5 0h.5m7.5 0h.5m1 0h.5m5 0h.5m2 0h.5m0.5 0h.5m1.5 0h.5m2.5 0h.5m3 0h.5m3 0h.5m0 0h.5m7 0h.5m12.5 0h.5m1 0h.5m23 0h.5m3 0h.5m14.5 0h.5M10.5 9h.5m3.5 0h.5m1.5 0h.5m7.5 0h.5m0.5 0h.5m0.5 0h.5m1 0h.5m2.5 0h.5m2.5 0h.5m2 0h.5m0 0h.5m2 0h.5m12 0h.5m0 0h.5m4.5 0h.5m2.5 0h.5m2.5 0h.5m0.5 0h.5m0 0h.5m12 0h.5m3.5 0h.5m0 0h.5m1 0h.5m1.5 0h.5m4 0h.5m0 0h.5m3 0h.5m0.5 0h.5m1.5 0h.5m3 0h.5m4.5 0h.5m1 0h.5m13 0h.5m2 0h.5m1 0h.5M2 10h.5m16 0h.5m4.5 0h.5m2.5 0h.5m1 0h.5m1 0h.5m1 0h.5m1 0h.5m0 0h.5m0.5 0h.5m6 0h.5m1 0h.5m3 0h.5m3 0h.5m6.5 0h.5m1 0h.5m2.5 0h.5m6.5 0h.5m0.5 0h.5m5.5 0h.5m9.5 0h.5m1 0h.5m0 0h.5m2 0h.5m5 0h.5m1 0h.5m0.5 0h.5m1.5 0h.5m7 0h.5m0.5 0h.5m0 0h.5m2.5 0h.5m3 0h.5m1.5 0h.5m5 0h.5m3 0h.5M0 11h.5m2 0h.5m1 0h.5m3.5 0h.5m2 0h.5m0 0h.5m0 0h.5m1.5 0h.5m8 0h.5m7 0h.5m1 0h.5m0 0h.5m1.5 0h.5m1.5 0h.5m6 0h.5m0 0h.5m6.5 0h.5m2.5 0h.5m2 0h.5m0.5 0h.5m8 0h.5m5 0h.5m1.5 0h.5m5.5 0h.5m5 0h.5m7.5 0h.5m2.5 0h.5m5.5 0h.5m7 0h.5m6 0h.5m5.5 0h.5m1 0h.5M1 12h.5m1.5 0h.5m3 0h.5m10.5 0h.5m6.5 0h.5m6.5 0h.5m7.5 0h.5m3 0h.5m7 0h.5m5 0h.5m21.5 0h.5m1 0h.5m10.5 0h.5m0.5 0h.5m2.5 0h.5m4.5 0h.5m2 0h.5m0 0h.5m0.5 0h.5m1 0h.5m1.5 0h.5m6.5 0h.5m3.5 0h.5m1.5 0h.5"/><path stroke="#000" stroke-opacity="0.12" d="M7.5 0h.5m6.5 0h.5m0.5 0h.5m3.5 0h.5m4 0h.5m25 0h.5m0 0h.5m5 0h.5m6.5 0h.5m9 0h.5m3 0h.5m0.5 0h.5m0 0h.5m4 0h.5m7 0h.5m2 0h.5m5.5 0h.5m1 0h.5m4.5 0h.5m6.5 0h.5m3 0h.5m3 0h.5m3 0h.5M1.5 1h.5m8 0h.5m1 0h.5m3 0h.5m2 0h.5m4 0h.5m2 0h.5m6 0h.5m5.5 0h.5m5.5 0h.5m3 0h.5m6 0h.5m1.5 0h.5m2.5 0h.5m0 0h.5m0 0h.5m0.5 0h.5m3 0h.5m8 0h.5m7 0h.5m3 0h.5m2 0h.5m3 0h.5m1.5 0h.5m6.5 0h.5m2 0h.5m4.5 0h.5m6 0h.5m6.5 0h.5m5 0h.5M1.5 2h.5m6.5 0h.5m0.5 0h.5m0 0h.5m1 0h.5m11 0h.5m1.5 0h.5m1 0h.5m4 0h.5m6.5 0h.5m6 0h.5m1 0h.5m0.5 0h.5m33 0h.5m18 0h.5m4 0h.5m1 0h.5m17 0h.5m1 0h.5M1.5 3h.5m1 0h.5m0 0h.5m9.5 0h.5m2 0h.5m3 0h.5m1.5 0h.5m5 0h.5m0.5 0h.5m1 0h.5m4.5 0h.5m0.5 0h.5m0 0h.5m11.5 0h.5m0.5 0h.5m3 0h.5m9 0h.5m4 0h.5m3 0h.5m8.5 0h.5m7 0h.5m2.5 0h.5m5 0h.5m5 0h.5m4 0h.5m5.5 0h.5m1 0h.5m9 0h.5m0 0h.5m0.5 0h.5m2 0h.5M4 4h.5m1.5 0h.5m11.5 0h.5m5.5 0h.5m1 0h.5m2 0h.5m10 0h.5m3.5 0h.5m0.5 0h.5m6.5 0h.5m5 0h.5m3 0h.5m2.5 0h.5m8.5 0h.5m9.5 0h.5m6.5 0h.5m16 0h.5m7 0h.5m1.5 0h.5m3.5 0h.5M0 5h.5m3.5 0h.5m6.5 0h.5m1 0h.5m2 0h.5m1 0h.5m5 0h.5m1 0h.5m1.5 0h.5m3 0h.5m6 0h.5m1 0h.5m0.5 0h.5m0.5 0h.5m2 0h.5m5.5 0h.5m8.5 0h.5m0 0h.5m2.5 0h.5m2.5 0h.5m3.5 0h.5m2.5 0h.5m7.5 0h.5m9.5 0h.5m16 0h.5m7 0h.5m5 0h.5m0.5 0h.5m3 0h.5M0.5 6h.5m2.5 0h.5m8.5 0h.5m4 0h.5m4.5 0h.5m0 0h.5m0 0h.5m0.5 0h.5m8 0h.5m0 0h.5m3 0h.5m1 0h.5m0 0h.5m5.5 0h.5m11 0h.5m4 0h.5m2 0h.5m13 0h.5m4.5 0h.5m1 0h.5m0 0h.5m10 0h.5m9 0h.5m0.5 0h.5m5 0h.5m4 0h.5m0.5 0h.5m3 0h.5m2.5 0h.5m1 0h.5m2.5 0h.5M0.5 7h.5m5.5 0h.5m1 0h.5m2.5 0h.5m2 0h.5m1 0h.5m4 0h.5m7.5 0h.5m3.5 0h.5m0 0h.5m0 0h.5m7.5 0h.5m0 0h.5m3 0h.5m1.5 0h.5m16.5 0h.5m0 0h.5m0.5 0h.5m2.5 0h.5m0 0h.5m7 0h.5m0 0h.5m1.5 0h.5m10 0h.5m0 0h.5m6 0h.5m7.5 0h.5m2 0h.5m3.5 0h.5m1.5 0h.5m1 0h.5m1 0h.5m8.5 0h.5m0.5 0h.5M0.5 8h.5m0 0h.5m0.5 0h.5m5 0h.5m15 0h.5m9.5 0h.5m2 0h.5m3 0h.5m6 0h.5m7 0h.5m0.5 0h.5m4 0h.5m7 0h.5m3 0h.5m13 0h.5m2.5 0h.5m1 0h.5m2.5 0h.5m1 0h.5m3.5 0h.5m1 0h.5m3.5 0h.5m7.5 0h.5m2.5 0h.5m7.5 0h.5m1.5 0h.5m2.5 0h.5m0 0h.5m0 0h.5M3 9h.5m1.5 0h.5m0 0h.5m0 0h.5m3 0h.5m2.5 0h.5m2.5 0h.5m6.5 0h.5m0.5 0h.5m1 0h.5m2 0h.5m6.5 0h.5m0 0h.5m9 0h.5m2 0h.5m3 0h.5m6 0h.5m8 0h.5m3.5 0h.5m0 0h.5m0 0h.5m0 0h.5m1 0h.5m13.5 0h.5m8.5 0h.5m6 0h.5m7.5 0h.5m0.5 0h.5m10 0h.5M2.5 10h.5m0 0h.5m0.5 0h.5m0.5 0h.5m0 0h.5m5.5 0h.5m2 0h.5m7.5 0h.5m2.5 0h.5m0 0h.5m11.5 0h.5m1.5 0h.5m5 0h.5m3 0h.5m1.5 0h.5m13 0h.5m2 0h.5m7 0h.5m2 0h.5m1.5 0h.5m1.5 0h.5m0.5 0h.5m6 0h.5m2.5 0h.5m6 0h.5m3.5 0h.5m0.5 0h.5m2 0h.5m10.5 0h.5m2.5 0h.5m2 0h.5m3 0h.5M5 11h.5m12 0h.5m7.5 0h.5m10 0h.5m1.5 0h.5m0.5 0h.5m1 0h.5m0.5 0h.5m2.5 0h.5m6 0h.5m0 0h.5m14 0h.5m0.5 0h.5m4 0h.5m2 0h.5m4 0h.5m18.5 0h.5m4.5 0h.5m5.5 0h.5m3.5 0h.5m0 0h.5m1.5 0h.5m0 0h.5m1 0h.5m0 0h.5m5 0h.5M0 12h.5m10 0h.5m4 0h.5m1.5 0h.5m8.5 0h.5m0 0h.5m1 0h.5m1.5 0h.5m0.5 0h.5m9.5 0h.5m6 0h.5m3.5 0h.5m0.5 0h.5m2 0h.5m0 0h.5m5.5 0h.5m2 0h.5m1 0h.5m0.5 0h.5m0 0h.5m0 0h.5m1.5 0h.5m1 0h.5m0.5 0h.5m2.5 0h.5m1 0h.5m3 0h.5m6.5 0h.5m1 0h.5m31.5 0h.5"/></g></pattern><pattern id="pM" patternUnits="userSpaceOnUse" x="0" y="-0.5" width="131" height="5"><g fill="none" stroke-width="1" transform="translate(0 0.5)"><path stroke="#5a20ff" stroke-opacity="0.7" d="M0.5 0h.5m27 0h.5m3 0h.5m0 0h.5m8.5 0h.5m4 0h.5m8 0h.5m1 0h.5m24 0h.5m3.5 0h.5m1.5 0h.5m21.5 0h.5m0 0h.5m3.5 0h.5m5 0h.5m3.5 0h.5m1.5 0h.5m4.5 0h.5M6.5 1h.5m6 0h.5m4 0h.5m0 0h.5m1.5 0h.5m1 0h.5m12.5 0h.5m14.5 0h.5m6.5 0h.5m28 0h.5m3.5 0h.5m7.5 0h.5m2.5 0h.5m3 0h.5m1.5 0h.5m1 0h.5m3 0h.5m1.5 0h.5m8.5 0h.5m5.5 0h.5M2 2h.5m0 0h.5m0 0h.5m4 0h.5m2 0h.5m0 0h.5m0.5 0h.5m9.5 0h.5m5 0h.5m13 0h.5m2.5 0h.5m1.5 0h.5m8.5 0h.5m13.5 0h.5m3 0h.5m0 0h.5m6.5 0h.5m1 0h.5m7 0h.5m16.5 0h.5m9.5 0h.5m6.5 0h.5m5.5 0h.5M13 3h.5m0 0h.5m0.5 0h.5m13.5 0h.5m1 0h.5m5 0h.5m2.5 0h.5m3.5 0h.5m13 0h.5m7.5 0h.5m3 0h.5m0.5 0h.5m18 0h.5m1 0h.5m0 0h.5m9 0h.5m0 0h.5m14 0h.5M4 4h.5m3 0h.5m12.5 0h.5m2 0h.5m0 0h.5m14 0h.5m2 0h.5m10 0h.5m8.5 0h.5m0.5 0h.5m0 0h.5m20.5 0h.5m12 0h.5m10 0h.5m24.5 0h.5"/><path stroke="#000" stroke-opacity="0.45" d="M2.5 0h.5m0 0h.5m2 0h.5m3.5 0h.5m0 0h.5m2.5 0h.5m3.5 0h.5m0 0h.5m2 0h.5m2.5 0h.5m0 0h.5m2.5 0h.5m2 0h.5m7.5 0h.5m3 0h.5m1 0h.5m3.5 0h.5m5.5 0h.5m0.5 0h.5m1 0h.5m4 0h.5m5 0h.5m2 0h.5m0.5 0h.5m2.5 0h.5m0 0h.5m6 0h.5m0 0h.5m0 0h.5m13 0h.5m0 0h.5m0 0h.5m1.5 0h.5m2.5 0h.5m1 0h.5m0 0h.5m1 0h.5m1.5 0h.5m1 0h.5m0 0h.5m1 0h.5m1 0h.5m1.5 0h.5m1.5 0h.5m0 0h.5m0 0h.5m3 0h.5m2 0h.5m2.5 0h.5m1.5 0h.5m1 0h.5m1 0h.5M4.5 1h.5m0 0h.5m6.5 0h.5m0 0h.5m4 0h.5m1.5 0h.5m0 0h.5m5.5 0h.5m3 0h.5m9.5 0h.5m0.5 0h.5m3 0h.5m0.5 0h.5m1 0h.5m1 0h.5m0.5 0h.5m1 0h.5m5.5 0h.5m0.5 0h.5m1.5 0h.5m1.5 0h.5m2.5 0h.5m0.5 0h.5m0.5 0h.5m6 0h.5m6 0h.5m3.5 0h.5m0.5 0h.5m0 0h.5m2.5 0h.5m1.5 0h.5m2 0h.5m3.5 0h.5m2 0h.5m2.5 0h.5m1 0h.5m0.5 0h.5m0 0h.5m3 0h.5m5 0h.5m5 0h.5m4.5 0h.5m0 0h.5m0 0h.5m2.5 0h.5M0 2h.5m0.5 0h.5m3 0h.5m1.5 0h.5m1.5 0h.5m3 0h.5m0.5 0h.5m1.5 0h.5m3 0h.5m1 0h.5m5 0h.5m7.5 0h.5m3 0h.5m2 0h.5m16 0h.5m2 0h.5m7 0h.5m4 0h.5m2 0h.5m0 0h.5m8 0h.5m6.5 0h.5m0 0h.5m6 0h.5m2 0h.5m2.5 0h.5m0 0h.5m0.5 0h.5m0 0h.5m2 0h.5m1.5 0h.5m5 0h.5m0.5 0h.5m5 0h.5m9 0h.5m0.5 0h.5M0 3h.5m1.5 0h.5m4 0h.5m0.5 0h.5m8 0h.5m1.5 0h.5m3 0h.5m2.5 0h.5m0.5 0h.5m0.5 0h.5m7.5 0h.5m3 0h.5m6 0h.5m0 0h.5m3 0h.5m4.5 0h.5m0 0h.5m0.5 0h.5m1.5 0h.5m2.5 0h.5m2 0h.5m1.5 0h.5m2 0h.5m1.5 0h.5m10.5 0h.5m0.5 0h.5m2 0h.5m0.5 0h.5m0 0h.5m0.5 0h.5m9 0h.5m0 0h.5m0.5 0h.5m0.5 0h.5m2.5 0h.5m0 0h.5m4 0h.5m2 0h.5m0 0h.5m1 0h.5m1.5 0h.5m1.5 0h.5m3 0h.5m2.5 0h.5m2 0h.5m1 0h.5m2.5 0h.5M1 4h.5m0 0h.5m1.5 0h.5m1 0h.5m1 0h.5m10 0h.5m0 0h.5m6 0h.5m0.5 0h.5m0 0h.5m7.5 0h.5m9.5 0h.5m0.5 0h.5m1.5 0h.5m2.5 0h.5m7.5 0h.5m1.5 0h.5m4.5 0h.5m1 0h.5m5 0h.5m4.5 0h.5m0 0h.5m1 0h.5m1 0h.5m2.5 0h.5m4.5 0h.5m5 0h.5m0.5 0h.5m3 0h.5m2 0h.5m0.5 0h.5m0.5 0h.5m1.5 0h.5m2 0h.5m1 0h.5m4.5 0h.5m6 0h.5m0 0h.5m3 0h.5m0 0h.5m1 0h.5"/><path stroke="#000" stroke-opacity="0.65" d="M3.5 0h.5m0 0h.5m2.5 0h.5m0.5 0h.5m2 0h.5m3 0h.5m0.5 0h.5m5.5 0h.5m0 0h.5m2 0h.5m6 0h.5m4 0h.5m0.5 0h.5m0 0h.5m1 0h.5m6.5 0h.5m4.5 0h.5m0.5 0h.5m1 0h.5m0.5 0h.5m6 0h.5m0 0h.5m9.5 0h.5m1 0h.5m1 0h.5m0 0h.5m0 0h.5m1 0h.5m0.5 0h.5m9 0h.5m0.5 0h.5m0.5 0h.5m5 0h.5m16 0h.5m5.5 0h.5m0 0h.5m8 0h.5m0 0h.5M0.5 1h.5m2 0h.5m5 0h.5m1 0h.5m8 0h.5m3.5 0h.5m0 0h.5m4 0h.5m3.5 0h.5m5 0h.5m5 0h.5m2 0h.5m1.5 0h.5m3 0h.5m0 0h.5m1.5 0h.5m0 0h.5m0 0h.5m6 0h.5m2 0h.5m3.5 0h.5m0.5 0h.5m2 0h.5m0 0h.5m1.5 0h.5m0 0h.5m2.5 0h.5m0 0h.5m2 0h.5m0 0h.5m0.5 0h.5m6.5 0h.5m1.5 0h.5m0 0h.5m0 0h.5m0 0h.5m4.5 0h.5m0.5 0h.5m1.5 0h.5m1 0h.5m0.5 0h.5m6.5 0h.5m5.5 0h.5m1 0h.5m9.5 0h.5m0 0h.5M3.5 2h.5m8.5 0h.5m1.5 0h.5m11 0h.5m1 0h.5m1.5 0h.5m0 0h.5m1 0h.5m0 0h.5m0.5 0h.5m2 0h.5m3 0h.5m2.5 0h.5m3.5 0h.5m2 0h.5m10 0h.5m1.5 0h.5m0 0h.5m1 0h.5m0 0h.5m3 0h.5m17.5 0h.5m0 0h.5m0.5 0h.5m4.5 0h.5m1.5 0h.5m10 0h.5m0.5 0h.5m4.5 0h.5m0.5 0h.5m0.5 0h.5m3.5 0h.5m1 0h.5m0.5 0h.5m1.5 0h.5m0 0h.5m0 0h.5m1.5 0h.5M0.5 3h.5m1.5 0h.5m1.5 0h.5m4 0h.5m3 0h.5m7 0h.5m0 0h.5m10 0h.5m4.5 0h.5m4 0h.5m2 0h.5m2.5 0h.5m3 0h.5m0 0h.5m0 0h.5m1.5 0h.5m1.5 0h.5m3 0h.5m3 0h.5m1.5 0h.5m1.5 0h.5m0 0h.5m1.5 0h.5m3.5 0h.5m2 0h.5m0 0h.5m2.5 0h.5m0 0h.5m3.5 0h.5m0 0h.5m7 0h.5m0 0h.5m10.5 0h.5m1.5 0h.5m2 0h.5m4 0h.5m6 0h.5m1 0h.5m4.5 0h.5m3 0h.5m1.5 0h.5m0 0h.5m0 0h.5M0 4h.5m5.5 0h.5m3 0h.5m5 0h.5m3 0h.5m2 0h.5m0.5 0h.5m10 0h.5m4.5 0h.5m0.5 0h.5m0 0h.5m2 0h.5m0 0h.5m4.5 0h.5m0 0h.5m2 0h.5m0 0h.5m4 0h.5m1 0h.5m0 0h.5m9.5 0h.5m6 0h.5m0 0h.5m0.5 0h.5m3.5 0h.5m0 0h.5m3.5 0h.5m2 0h.5m13 0h.5m9.5 0h.5m1.5 0h.5m0.5 0h.5m2 0h.5m5.5 0h.5m7 0h.5"/><path stroke="#000" stroke-opacity="0.25" d="M8.5 0h.5m4.5 0h.5m1.5 0h.5m2.5 0h.5m3.5 0h.5m8 0h.5m1.5 0h.5m5 0h.5m0 0h.5m3 0h.5m0 0h.5m1 0h.5m1.5 0h.5m0 0h.5m1.5 0h.5m7 0h.5m0.5 0h.5m5 0h.5m0.5 0h.5m0.5 0h.5m0.5 0h.5m0 0h.5m1.5 0h.5m4 0h.5m2 0h.5m3.5 0h.5m3 0h.5m0 0h.5m3 0h.5m0.5 0h.5m0.5 0h.5m1.5 0h.5m7.5 0h.5m0 0h.5m3 0h.5m3.5 0h.5m2 0h.5m2 0h.5m3 0h.5m3 0h.5m1 0h.5m2.5 0h.5m3.5 0h.5m2 0h.5M1.5 1h.5m0.5 0h.5m2.5 0h.5m0 0h.5m3 0h.5m12 0h.5m1 0h.5m2.5 0h.5m1 0h.5m0 0h.5m1.5 0h.5m0 0h.5m2 0h.5m1 0h.5m6.5 0h.5m5.5 0h.5m0.5 0h.5m2 0h.5m7.5 0h.5m1.5 0h.5m9.5 0h.5m5.5 0h.5m9 0h.5m7 0h.5m0.5 0h.5m3 0h.5m7 0h.5m2.5 0h.5m1 0h.5m0.5 0h.5m3.5 0h.5m4 0h.5m9 0h.5m0 0h.5M0.5 2h.5m0.5 0h.5m3 0h.5m2.5 0h.5m5 0h.5m1.5 0h.5m1.5 0h.5m0 0h.5m1 0h.5m1 0h.5m1.5 0h.5m0 0h.5m8.5 0h.5m1 0h.5m4 0h.5m2.5 0h.5m0.5 0h.5m3.5 0h.5m0 0h.5m0 0h.5m3 0h.5m1.5 0h.5m1.5 0h.5m2 0h.5m2 0h.5m0 0h.5m1 0h.5m0 0h.5m2 0h.5m0 0h.5m3.5 0h.5m9 0h.5m5 0h.5m2 0h.5m0 0h.5m3 0h.5m2.5 0h.5m0 0h.5m0.5 0h.5m6.5 0h.5m4 0h.5m0 0h.5m1 0h.5m0 0h.5m0.5 0h.5m2 0h.5m0.5 0h.5m2.5 0h.5m5.5 0h.5m0.5 0h.5m0.5 0h.5M1.5 3h.5m3 0h.5m1.5 0h.5m9 0h.5m5 0h.5m0 0h.5m4 0h.5m2 0h.5m4 0h.5m2 0h.5m2 0h.5m0 0h.5m1.5 0h.5m1.5 0h.5m1.5 0h.5m1 0h.5m0 0h.5m0 0h.5m3.5 0h.5m4 0h.5m2.5 0h.5m10.5 0h.5m1.5 0h.5m2.5 0h.5m1 0h.5m9 0h.5m0.5 0h.5m2 0h.5m2 0h.5m7.5 0h.5m2 0h.5m4 0h.5m0 0h.5m1 0h.5m0 0h.5m1 0h.5m3 0h.5m0 0h.5m0 0h.5m5.5 0h.5m3 0h.5m0.5 0h.5m1.5 0h.5M0.5 4h.5m2 0h.5m4.5 0h.5m2 0h.5m0.5 0h.5m0.5 0h.5m3 0h.5m3 0h.5m0 0h.5m5.5 0h.5m1.5 0h.5m1.5 0h.5m2.5 0h.5m3.5 0h.5m3.5 0h.5m3.5 0h.5m0.5 0h.5m5.5 0h.5m3 0h.5m2.5 0h.5m0 0h.5m3.5 0h.5m0 0h.5m0 0h.5m2 0h.5m0.5 0h.5m2 0h.5m0 0h.5m0 0h.5m9 0h.5m3.5 0h.5m3.5 0h.5m0.5 0h.5m1 0h.5m0.5 0h.5m0.5 0h.5m3.5 0h.5m0 0h.5m2 0h.5m7 0h.5m0 0h.5m0.5 0h.5m3.5 0h.5m3 0h.5m0 0h.5m0 0h.5m1.5 0h.5m1.5 0h.5m1 0h.5m4.5 0h.5"/></g></pattern><pattern id="pS" patternUnits="userSpaceOnUse" x="0" y="-0.5" width="149" height="7"><g fill="none" stroke-width="1" transform="translate(0 0.5)"><path stroke="#000" stroke-opacity="0.7" d="M0 0h.5m2.5 0h.5m1 0h.5m0.5 0h.5m0 0h.5m8.5 0h.5m5 0h.5m4 0h.5m0 0h.5m0 0h.5m3 0h.5m1 0h.5m1.5 0h.5m2 0h.5m4.5 0h.5m2 0h.5m5 0h.5m0.5 0h.5m0 0h.5m1.5 0h.5m0.5 0h.5m3 0h.5m4.5 0h.5m8.5 0h.5m0.5 0h.5m0 0h.5m4 0h.5m2 0h.5m1 0h.5m4.5 0h.5m1.5 0h.5m2 0h.5m3.5 0h.5m9 0h.5m1 0h.5m2 0h.5m0 0h.5m0.5 0h.5m0.5 0h.5m4.5 0h.5m3.5 0h.5m4 0h.5m0 0h.5m1.5 0h.5m4 0h.5m4.5 0h.5M3 1h.5m3 0h.5m3.5 0h.5m3 0h.5m0 0h.5m2.5 0h.5m0 0h.5m4 0h.5m0 0h.5m2 0h.5m8 0h.5m1 0h.5m8.5 0h.5m5.5 0h.5m3 0h.5m0.5 0h.5m1 0h.5m1 0h.5m1 0h.5m8 0h.5m1.5 0h.5m3 0h.5m1 0h.5m6 0h.5m6 0h.5m2.5 0h.5m1.5 0h.5m0 0h.5m1 0h.5m13.5 0h.5m1 0h.5m7 0h.5m0.5 0h.5m3 0h.5m4.5 0h.5m0.5 0h.5m0 0h.5m5.5 0h.5m0.5 0h.5m0.5 0h.5m3 0h.5m1 0h.5m1 0h.5m2 0h.5m2 0h.5M1 2h.5m4 0h.5m0 0h.5m1.5 0h.5m0 0h.5m4.5 0h.5m0 0h.5m1 0h.5m0.5 0h.5m3 0h.5m2 0h.5m1.5 0h.5m0 0h.5m1 0h.5m3 0h.5m13.5 0h.5m1 0h.5m6.5 0h.5m2.5 0h.5m6.5 0h.5m0 0h.5m2.5 0h.5m2 0h.5m3.5 0h.5m0 0h.5m0 0h.5m1 0h.5m1.5 0h.5m5.5 0h.5m1 0h.5m1 0h.5m4.5 0h.5m0.5 0h.5m0 0h.5m13 0h.5m3.5 0h.5m2.5 0h.5m0.5 0h.5m0.5 0h.5m1.5 0h.5m8.5 0h.5m0.5 0h.5m0 0h.5m0 0h.5m12.5 0h.5m4.5 0h.5M0.5 3h.5m3.5 0h.5m0.5 0h.5m1.5 0h.5m0 0h.5m3.5 0h.5m5 0h.5m0.5 0h.5m6 0h.5m0 0h.5m1 0h.5m2.5 0h.5m0.5 0h.5m5 0h.5m1 0h.5m4 0h.5m3 0h.5m14 0h.5m2 0h.5m0 0h.5m2.5 0h.5m7.5 0h.5m0.5 0h.5m3.5 0h.5m4 0h.5m2 0h.5m8 0h.5m0 0h.5m3 0h.5m0.5 0h.5m4 0h.5m0.5 0h.5m1 0h.5m6 0h.5m1.5 0h.5m9.5 0h.5m5 0h.5m1 0h.5m2.5 0h.5m1 0h.5m1 0h.5m1.5 0h.5m1.5 0h.5m0 0h.5m2 0h.5m0.5 0h.5M0.5 4h.5m3 0h.5m3 0h.5m1 0h.5m8 0h.5m0 0h.5m5.5 0h.5m1.5 0h.5m0.5 0h.5m1.5 0h.5m2 0h.5m2 0h.5m1 0h.5m5 0h.5m0.5 0h.5m0.5 0h.5m1 0h.5m14.5 0h.5m4 0h.5m1.5 0h.5m2 0h.5m2.5 0h.5m4 0h.5m4 0h.5m2.5 0h.5m1 0h.5m3 0h.5m0.5 0h.5m2 0h.5m3.5 0h.5m0.5 0h.5m6 0h.5m3 0h.5m1.5 0h.5m0 0h.5m6.5 0h.5m2 0h.5m4.5 0h.5m8 0h.5m0 0h.5m0 0h.5m2.5 0h.5m1 0h.5m1 0h.5m0.5 0h.5m1 0h.5m2 0h.5m0.5 0h.5m0 0h.5M3 5h.5m1 0h.5m1.5 0h.5m2.5 0h.5m6.5 0h.5m1.5 0h.5m0 0h.5m4.5 0h.5m0.5 0h.5m4.5 0h.5m1.5 0h.5m0 0h.5m0.5 0h.5m7.5 0h.5m2 0h.5m4 0h.5m2.5 0h.5m0 0h.5m3.5 0h.5m1.5 0h.5m0.5 0h.5m2 0h.5m1.5 0h.5m0.5 0h.5m1 0h.5m7.5 0h.5m1.5 0h.5m0 0h.5m0 0h.5m3 0h.5m1.5 0h.5m3 0h.5m7.5 0h.5m1 0h.5m5 0h.5m1 0h.5m0.5 0h.5m4.5 0h.5m1 0h.5m3.5 0h.5m1 0h.5m0.5 0h.5m3.5 0h.5m3.5 0h.5m0 0h.5m0.5 0h.5m2.5 0h.5m3.5 0h.5m3 0h.5m1 0h.5m0.5 0h.5m0.5 0h.5m0.5 0h.5m4 0h.5m1 0h.5M0.5 6h.5m3 0h.5m5 0h.5m0 0h.5m1 0h.5m2.5 0h.5m3.5 0h.5m4 0h.5m1.5 0h.5m8 0h.5m0.5 0h.5m3.5 0h.5m1.5 0h.5m0.5 0h.5m2.5 0h.5m1 0h.5m1.5 0h.5m2 0h.5m4 0h.5m1 0h.5m2.5 0h.5m1 0h.5m5.5 0h.5m8.5 0h.5m1.5 0h.5m0 0h.5m2 0h.5m0.5 0h.5m1 0h.5m0 0h.5m0 0h.5m1 0h.5m13 0h.5m3 0h.5m2 0h.5m1.5 0h.5m4 0h.5m1.5 0h.5m2.5 0h.5m0 0h.5m1 0h.5m1.5 0h.5m3.5 0h.5m0 0h.5m0 0h.5m0 0h.5m3.5 0h.5m0 0h.5m0.5 0h.5m2 0h.5m2.5 0h.5m2 0h.5m1 0h.5m5.5 0h.5"/><path stroke="#000" stroke-opacity="0.45" d="M0.5 0h.5m2.5 0h.5m4 0h.5m0.5 0h.5m4 0h.5m2 0h.5m1 0h.5m1.5 0h.5m8 0h.5m0 0h.5m2.5 0h.5m0 0h.5m0 0h.5m3.5 0h.5m0 0h.5m20 0h.5m0 0h.5m2.5 0h.5m6 0h.5m5 0h.5m8.5 0h.5m4 0h.5m2 0h.5m1 0h.5m2.5 0h.5m3 0h.5m4 0h.5m7.5 0h.5m1.5 0h.5m1 0h.5m4 0h.5m0.5 0h.5m9 0h.5m9 0h.5m0 0h.5m0 0h.5m5 0h.5m0 0h.5m0.5 0h.5m2 0h.5M2 1h.5m2.5 0h.5m3 0h.5m7 0h.5m0 0h.5m1.5 0h.5m0.5 0h.5m0 0h.5m3.5 0h.5m3 0h.5m2.5 0h.5m0.5 0h.5m2.5 0h.5m0 0h.5m3.5 0h.5m8.5 0h.5m1.5 0h.5m0.5 0h.5m1 0h.5m3 0h.5m5 0h.5m1.5 0h.5m1.5 0h.5m1 0h.5m11 0h.5m1.5 0h.5m2 0h.5m2.5 0h.5m0 0h.5m3 0h.5m8.5 0h.5m1 0h.5m0.5 0h.5m1 0h.5m0.5 0h.5m1 0h.5m3.5 0h.5m1.5 0h.5m0 0h.5m2 0h.5m1.5 0h.5m4 0h.5m0 0h.5m2.5 0h.5m1 0h.5m0 0h.5m0 0h.5m3 0h.5m1 0h.5m2 0h.5m1.5 0h.5m0.5 0h.5m0 0h.5m6.5 0h.5M2 2h.5m4.5 0h.5m5.5 0h.5m4.5 0h.5m1 0h.5m1.5 0h.5m1.5 0h.5m1.5 0h.5m3.5 0h.5m1.5 0h.5m1.5 0h.5m0 0h.5m1 0h.5m1.5 0h.5m13.5 0h.5m1 0h.5m1 0h.5m1.5 0h.5m1 0h.5m0.5 0h.5m1.5 0h.5m2.5 0h.5m0.5 0h.5m1 0h.5m7.5 0h.5m3 0h.5m6.5 0h.5m0 0h.5m2.5 0h.5m2.5 0h.5m2 0h.5m4 0h.5m3.5 0h.5m4 0h.5m2 0h.5m2.5 0h.5m7 0h.5m0.5 0h.5m0 0h.5m7.5 0h.5m1.5 0h.5m0.5 0h.5m0 0h.5m4 0h.5m1.5 0h.5m0.5 0h.5m0.5 0h.5m2 0h.5m1 0h.5M3.5 3h.5m2.5 0h.5m3 0h.5m0.5 0h.5m0 0h.5m7 0h.5m0.5 0h.5m7.5 0h.5m6 0h.5m4.5 0h.5m0.5 0h.5m2.5 0h.5m6 0h.5m0.5 0h.5m2 0h.5m0 0h.5m0.5 0h.5m1 0h.5m0 0h.5m6.5 0h.5m2.5 0h.5m3.5 0h.5m1 0h.5m5 0h.5m0 0h.5m1 0h.5m3 0h.5m3 0h.5m4 0h.5m4 0h.5m12.5 0h.5m1 0h.5m0 0h.5m7.5 0h.5m2 0h.5m1 0h.5m1 0h.5m1 0h.5m1 0h.5m0 0h.5m8 0h.5m1 0h.5m2.5 0h.5m2 0h.5m1 0h.5m2.5 0h.5M2.5 4h.5m9.5 0h.5m0 0h.5m2 0h.5m4 0h.5m0.5 0h.5m0 0h.5m4.5 0h.5m2.5 0h.5m3 0h.5m0 0h.5m3 0h.5m1 0h.5m0.5 0h.5m0.5 0h.5m0.5 0h.5m1.5 0h.5m3 0h.5m0 0h.5m1.5 0h.5m1.5 0h.5m3.5 0h.5m0.5 0h.5m3 0h.5m0 0h.5m2.5 0h.5m0.5 0h.5m2 0h.5m3 0h.5m7.5 0h.5m1 0h.5m4 0h.5m1.5 0h.5m0.5 0h.5m3.5 0h.5m2 0h.5m2 0h.5m4.5 0h.5m3.5 0h.5m1.5 0h.5m0 0h.5m1.5 0h.5m2 0h.5m1.5 0h.5m1 0h.5m0.5 0h.5m4.5 0h.5m3 0h.5m0 0h.5m0 0h.5m0.5 0h.5m7 0h.5m1.5 0h.5m1 0h.5m1 0h.5m2.5 0h.5m4 0h.5M4 5h.5m1 0h.5m6 0h.5m3.5 0h.5m5 0h.5m4.5 0h.5m2.5 0h.5m0.5 0h.5m0 0h.5m1.5 0h.5m1 0h.5m11.5 0h.5m1 0h.5m2.5 0h.5m3 0h.5m0.5 0h.5m8 0h.5m3.5 0h.5m1.5 0h.5m5 0h.5m2.5 0h.5m2 0h.5m5 0h.5m2.5 0h.5m2 0h.5m2.5 0h.5m1.5 0h.5m8 0h.5m3 0h.5m1 0h.5m6.5 0h.5m1 0h.5m3.5 0h.5m3 0h.5m1.5 0h.5m0.5 0h.5m0 0h.5m1 0h.5m5 0h.5m4.5 0h.5m5.5 0h.5M0 6h.5m1.5 0h.5m1 0h.5m8 0h.5m4 0h.5m2 0h.5m1.5 0h.5m3 0h.5m0.5 0h.5m2 0h.5m0 0h.5m1 0h.5m1 0h.5m0 0h.5m7 0h.5m3.5 0h.5m14.5 0h.5m1.5 0h.5m3 0h.5m3.5 0h.5m0.5 0h.5m2.5 0h.5m0.5 0h.5m4 0h.5m5 0h.5m6.5 0h.5m3 0h.5m3.5 0h.5m0.5 0h.5m7 0h.5m1.5 0h.5m0 0h.5m1.5 0h.5m0 0h.5m1 0h.5m7.5 0h.5m1 0h.5m7.5 0h.5m3.5 0h.5m0.5 0h.5m1.5 0h.5m0.5 0h.5m4.5 0h.5m0.5 0h.5"/><path stroke="#000" stroke-opacity="0.95" d="M1.5 0h.5m6.5 0h.5m2 0h.5m0 0h.5m1 0h.5m3 0h.5m4 0h.5m0 0h.5m4.5 0h.5m7 0h.5m4 0h.5m3 0h.5m8 0h.5m0 0h.5m2 0h.5m5 0h.5m3 0h.5m2 0h.5m0 0h.5m5 0h.5m6 0h.5m0.5 0h.5m1 0h.5m9 0h.5m1 0h.5m4.5 0h.5m0 0h.5m2 0h.5m1.5 0h.5m1.5 0h.5m0.5 0h.5m6 0h.5m0 0h.5m2 0h.5m0 0h.5m2 0h.5m4 0h.5m0 0h.5m0.5 0h.5m0 0h.5m3.5 0h.5m5 0h.5m1 0h.5m2.5 0h.5m5.5 0h.5m1.5 0h.5m0.5 0h.5M4.5 1h.5m4.5 0h.5m0 0h.5m1 0h.5m0.5 0h.5m6 0h.5m1.5 0h.5m0 0h.5m6 0h.5m0 0h.5m4 0h.5m4.5 0h.5m0 0h.5m4.5 0h.5m0 0h.5m2 0h.5m5 0h.5m1 0h.5m0.5 0h.5m2 0h.5m5.5 0h.5m1 0h.5m1.5 0h.5m4 0h.5m2.5 0h.5m3 0h.5m2 0h.5m0.5 0h.5m0.5 0h.5m1 0h.5m0 0h.5m0.5 0h.5m4 0h.5m0.5 0h.5m3 0h.5m0 0h.5m0.5 0h.5m0 0h.5m0 0h.5m0 0h.5m0 0h.5m0 0h.5m1 0h.5m6 0h.5m0.5 0h.5m1 0h.5m1 0h.5m2.5 0h.5m2 0h.5m1.5 0h.5m0.5 0h.5m0.5 0h.5m3 0h.5m0.5 0h.5m8 0h.5m8.5 0h.5m1 0h.5m1 0h.5m3 0h.5M0.5 2h.5m6.5 0h.5m4.5 0h.5m1.5 0h.5m5.5 0h.5m7 0h.5m0 0h.5m3 0h.5m4.5 0h.5m2 0h.5m0.5 0h.5m2 0h.5m10 0h.5m2 0h.5m1 0h.5m2 0h.5m0 0h.5m6.5 0h.5m7.5 0h.5m2.5 0h.5m1.5 0h.5m0.5 0h.5m0.5 0h.5m3.5 0h.5m9 0h.5m1 0h.5m0 0h.5m1 0h.5m1.5 0h.5m2.5 0h.5m0 0h.5m0 0h.5m0.5 0h.5m1 0h.5m2 0h.5m0.5 0h.5m1.5 0h.5m9 0h.5m1 0h.5m0 0h.5m0 0h.5m3 0h.5m7 0h.5m2 0h.5m0.5 0h.5m1.5 0h.5m0.5 0h.5m0 0h.5m4 0h.5M8.5 3h.5m4 0h.5m8 0h.5m7 0h.5m1 0h.5m2 0h.5m0 0h.5m0 0h.5m8.5 0h.5m3 0h.5m0 0h.5m1 0h.5m4 0h.5m2.5 0h.5m2 0h.5m1 0h.5m1.5 0h.5m0 0h.5m6.5 0h.5m7.5 0h.5m1 0h.5m6.5 0h.5m4.5 0h.5m10 0h.5m0.5 0h.5m0.5 0h.5m0 0h.5m8 0h.5m0 0h.5m2.5 0h.5m0.5 0h.5m4.5 0h.5m2.5 0h.5m4 0h.5m0 0h.5m3 0h.5m5.5 0h.5M1 4h.5m5.5 0h.5m3.5 0h.5m16 0h.5m9.5 0h.5m7 0h.5m3.5 0h.5m1 0h.5m5 0h.5m0.5 0h.5m0 0h.5m0 0h.5m3 0h.5m1 0h.5m2 0h.5m3.5 0h.5m1 0h.5m2.5 0h.5m0.5 0h.5m8.5 0h.5m8 0h.5m5 0h.5m2 0h.5m10 0h.5m3.5 0h.5m0 0h.5m1.5 0h.5m0 0h.5m1 0h.5m0.5 0h.5m1.5 0h.5m2 0h.5m3 0h.5m2.5 0h.5m2 0h.5m0 0h.5m1 0h.5m8.5 0h.5m1.5 0h.5M2.5 5h.5m4.5 0h.5m1 0h.5m3.5 0h.5m0 0h.5m6 0h.5m0 0h.5m2 0h.5m0 0h.5m0.5 0h.5m0.5 0h.5m2 0h.5m0.5 0h.5m5.5 0h.5m2 0h.5m0 0h.5m1.5 0h.5m0.5 0h.5m4.5 0h.5m0.5 0h.5m9.5 0h.5m1 0h.5m2 0h.5m0.5 0h.5m0 0h.5m6 0h.5m2 0h.5m1.5 0h.5m1 0h.5m2 0h.5m9 0h.5m3.5 0h.5m2 0h.5m2.5 0h.5m2 0h.5m1 0h.5m4 0h.5m1 0h.5m0.5 0h.5m1.5 0h.5m1 0h.5m0.5 0h.5m0.5 0h.5m9 0h.5m0.5 0h.5m3 0h.5m3 0h.5m1 0h.5m1 0h.5m1.5 0h.5m8 0h.5m0.5 0h.5M2.5 6h.5m6 0h.5m14.5 0h.5m1.5 0h.5m10 0h.5m0.5 0h.5m1 0h.5m5.5 0h.5m1 0h.5m0.5 0h.5m1 0h.5m1.5 0h.5m0 0h.5m0 0h.5m0.5 0h.5m2.5 0h.5m6 0h.5m1.5 0h.5m1 0h.5m1 0h.5m3.5 0h.5m2.5 0h.5m0.5 0h.5m3.5 0h.5m0.5 0h.5m1.5 0h.5m7.5 0h.5m1 0h.5m0 0h.5m0 0h.5m2 0h.5m2 0h.5m0.5 0h.5m1 0h.5m2.5 0h.5m1 0h.5m4.5 0h.5m4.5 0h.5m0 0h.5m2.5 0h.5m8.5 0h.5m1.5 0h.5m3 0h.5m5 0h.5m1.5 0h.5m1 0h.5m1 0h.5m3 0h.5"/><path stroke="#3a10ff" stroke-opacity="0.9" d="M2.5 0h.5m15.5 0h.5m21 0h.5m3 0h.5m19.5 0h.5m9.5 0h.5m4 0h.5m41 0h.5m5 0h.5m0 0h.5m5.5 0h.5m2.5 0h.5m12.5 0h.5M0 1h.5m11.5 0h.5m13.5 0h.5m13.5 0h.5m1 0h.5m3 0h.5m2 0h.5m50.5 0h.5m6 0h.5m5.5 0h.5m24 0h.5m3.5 0h.5m1 0h.5m4 0h.5M10 2h.5m5.5 0h.5m6.5 0h.5m5.5 0h.5m1 0h.5m8 0h.5m3 0h.5m5 0h.5m1.5 0h.5m4.5 0h.5m4 0h.5m3.5 0h.5m3 0h.5m4.5 0h.5m14.5 0h.5m1.5 0h.5m11.5 0h.5m15 0h.5m16.5 0h.5m1 0h.5M14.5 3h.5m0.5 0h.5m0 0h.5m0 0h.5m9 0h.5m9.5 0h.5m1 0h.5m3 0h.5m4 0h.5m6.5 0h.5m15.5 0h.5m11.5 0h.5m3.5 0h.5m5.5 0h.5m6.5 0h.5m0.5 0h.5m7.5 0h.5m1.5 0h.5m0.5 0h.5m6.5 0h.5m11.5 0h.5m5 0h.5m13 0h.5m0.5 0h.5M2 4h.5m3.5 0h.5m3.5 0h.5m4.5 0h.5m1.5 0h.5m8 0h.5m9 0h.5m14.5 0h.5m3.5 0h.5m13 0h.5m18 0h.5m7 0h.5m3.5 0h.5m7 0h.5m0.5 0h.5m21.5 0h.5m7 0h.5m5 0h.5M22.5 5h.5m5.5 0h.5m10 0h.5m18 0h.5m2.5 0h.5m13.5 0h.5m22.5 0h.5m1.5 0h.5m11.5 0h.5m3 0h.5m0.5 0h.5m9 0h.5m1.5 0h.5m10.5 0h.5m9.5 0h.5M7 6h.5m5.5 0h.5m22.5 0h.5m0.5 0h.5m11 0h.5m3.5 0h.5m1.5 0h.5m21.5 0h.5m14.5 0h.5m8 0h.5m8.5 0h.5m6.5 0h.5m5 0h.5m17.5 0h.5"/></g></pattern><pattern id="pB" patternUnits="userSpaceOnUse" x="0" y="-0.5" width="211" height="17"><g fill="none" stroke-width="1" transform="translate(0 0.5)"><path stroke="#1818ff" stroke-opacity="0.16" d="M0 0h6M59 0h6M84 0h6M149 0h3M159 0h2M161 0h5M172 0h3M5 1h3M20 1h4M47 1h3M63 1h6M111 1h5M116 1h2M151 1h2M162 1h2M201 1h2M131 2h2M202 2h3M36 3h6M166 3h6M176 3h5M181 3h4M185 3h6M38 4h5M88 4h3M118 4h5M173 4h2M180 4h3M190 4h2M37 5h5M44 5h4M72 5h4M144 5h3M157 5h3M170 5h5M9 6h5M27 6h4M37 6h6M43 6h5M53 6h2M55 6h6M76 6h3M89 6h5M94 6h4M104 6h4M170 6h3M56 7h4M80 7h3M153 7h5M166 7h6M207 7h2M14 8h5M110 8h2M145 8h2M154 8h4M196 8h5M4 9h3M7 9h6M38 9h3M80 9h3M83 9h3M125 9h2M173 9h4M177 9h6M183 9h4M198 9h3M51 10h3M170 10h2M47 11h3M59 11h2M67 11h6M94 11h4M109 11h3M53 12h6M111 12h4M149 12h2M210 12h1M0 13h3M3 13h4M32 13h5M49 13h2M67 13h4M110 13h4M204 13h2M44 14h5M49 14h3M123 14h6M87 15h2M94 15h4M207 15h2M0 16h2M51 16h3M60 16h5M146 16h4M165 16h2M177 16h3"/><path stroke="#000" stroke-opacity="0.11" d="M6 0h2M11 0h4M54 0h5M94 0h5M113 0h4M137 0h6M156 0h3M2 1h3M50 1h3M53 1h4M127 1h4M164 1h6M60 2h6M81 2h3M102 2h3M124 2h3M10 3h6M16 3h4M60 3h5M89 3h4M109 3h3M118 3h3M109 4h6M129 4h5M137 4h5M162 4h6M203 4h5M42 5h2M132 5h6M194 5h2M98 6h6M141 6h5M149 6h4M166 6h4M20 7h2M31 7h5M39 7h5M46 7h2M74 7h6M91 7h3M101 7h5M139 7h3M4 8h3M35 8h6M124 8h5M187 8h2M194 8h2M13 9h2M41 9h5M48 9h4M74 9h6M93 9h2M114 9h5M127 9h2M151 9h5M156 9h3M65 10h2M71 10h5M111 10h4M118 10h4M144 10h3M163 10h5M168 10h2M190 10h2M196 10h2M209 10h2M10 11h2M17 11h6M29 11h4M61 11h6M98 11h5M177 11h6M203 11h6M13 12h3M28 12h2M9 13h4M13 13h3M25 13h5M37 13h2M39 13h4M93 13h2M167 13h3M20 14h3M57 14h6M68 14h3M71 14h6M147 14h3M160 14h5M207 14h3M10 15h4M29 15h4M50 15h6M72 15h5M77 15h2M81 15h3M139 15h2M162 15h2M202 15h3M209 15h2M16 16h6M58 16h2M116 16h5M143 16h3M184 16h4M197 16h6"/><path stroke="#000" stroke-opacity="0.06" d="M8 0h3M69 0h5M117 0h4M121 0h3M69 1h2M100 1h2M172 1h4M179 1h6M193 1h6M0 2h4M21 2h6M133 2h6M161 2h3M187 2h4M50 3h6M58 3h2M83 3h2M112 3h6M140 3h4M144 3h4M202 3h2M54 4h4M58 4h6M68 4h6M103 4h2M123 4h6M183 4h4M192 4h6M7 5h4M54 5h5M70 5h2M89 5h3M14 6h5M33 6h4M130 6h2M146 6h3M161 6h3M173 6h5M183 6h2M210 6h1M22 7h5M70 7h4M87 7h4M135 7h2M189 7h6M197 7h6M25 8h4M53 8h5M63 8h2M65 8h3M73 8h4M117 8h5M189 8h3M0 9h4M15 9h6M23 9h2M25 9h2M97 9h3M207 9h4M37 10h5M42 10h6M172 10h6M35 11h4M77 11h6M124 11h3M198 11h5M16 12h6M42 12h4M73 12h4M166 12h5M182 12h2M71 13h6M104 13h6M124 13h6M170 13h2M192 13h4M200 13h4M206 13h5M0 14h6M52 14h5M77 14h2M171 14h5M179 14h6M185 14h6M191 14h6M210 14h1M14 15h5M48 15h2M56 15h3M63 15h3M156 15h6M12 16h4M93 16h5M100 16h4M107 16h6M123 16h2M193 16h4"/><path stroke="#1818ff" stroke-opacity="0.06" d="M15 0h5M20 0h2M90 0h2M152 0h4M0 1h2M13 1h3M75 1h3M95 1h5M137 1h6M176 1h3M188 1h5M45 2h5M73 2h2M91 2h6M171 2h2M135 3h2M159 3h5M172 3h4M22 4h4M43 4h6M187 4h3M25 5h6M124 5h3M151 5h6M165 5h5M0 6h2M6 6h3M50 6h3M79 6h6M122 6h3M134 6h5M153 6h3M185 6h3M13 7h3M60 7h2M112 7h2M137 7h2M163 7h3M182 7h4M186 7h3M195 7h2M133 8h6M27 9h4M54 9h3M119 9h6M132 9h4M145 9h2M171 9h2M6 10h5M60 10h5M87 10h2M103 10h4M56 11h3M88 11h6M105 11h4M148 11h5M22 12h2M30 12h4M77 12h6M190 12h2M95 13h6M147 13h6M181 13h5M26 14h6M38 14h3M19 15h5M24 15h5M102 15h4M106 15h6M115 15h5M134 15h5M178 15h4M195 15h5M125 16h2M173 16h4"/><path stroke="#1818ff" stroke-opacity="0.1" d="M92 0h2M195 0h4M16 1h4M32 1h6M155 1h4M203 1h6M209 1h2M35 2h4M139 2h5M169 2h2M65 3h5M12 4h5M33 4h5M49 4h5M91 4h3M198 4h5M0 5h3M50 5h4M68 5h2M98 5h6M116 5h5M127 5h5M198 5h6M2 6h4M85 6h2M125 6h5M132 6h2M207 6h3M5 7h2M114 7h4M149 7h4M2 8h2M29 8h4M41 8h6M172 8h4M192 8h2M0 10h6M17 10h2M35 10h2M57 10h3M94 10h3M122 10h3M127 10h5M183 10h2M192 10h4M203 10h6M50 11h6M83 11h5M153 11h5M161 11h5M175 11h2M193 11h5M209 11h2M88 12h3M109 12h2M115 12h5M125 12h4M139 12h3M157 12h3M16 13h4M46 13h3M57 13h2M84 13h5M101 13h3M156 13h3M63 14h5M79 14h4M100 14h4M129 14h5M144 14h3M84 15h3M112 15h3M124 15h5M164 15h6M175 15h3M2 16h5M45 16h3M156 16h2M167 16h6"/><path stroke="#000" stroke-opacity="0.17" d="M187 0h2M205 0h5M71 1h4M149 1h2M4 2h2M127 2h4M173 2h6M0 3h2M47 3h3M137 3h3M154 3h5M0 4h6M64 4h4M84 4h2M94 4h5M115 4h3M148 4h4M175 4h2M22 5h3M59 5h4M76 5h3M83 5h6M160 5h5M204 5h5M19 6h2M66 6h4M116 6h6M139 6h2M191 6h5M106 7h6M174 7h2M7 8h3M33 8h2M86 8h4M185 8h2M210 8h1M31 9h2M63 9h5M203 9h4M11 10h6M19 10h3M25 10h3M92 10h2M97 10h6M125 10h2M151 10h5M178 10h5M0 11h3M23 11h6M142 11h6M8 12h2M46 12h3M65 12h4M83 12h5M94 12h6M104 12h5M129 12h6M178 12h4M30 13h2M51 13h3M79 13h5M89 13h2M130 13h2M136 13h5M172 13h4M12 14h6M83 14h4M104 14h5M109 14h3M5 15h5M120 15h4M132 15h2M141 15h3M150 15h6M187 15h3M158 16h2M190 16h3"/></g></pattern><rect x="0" y="-0.5" width="837" height="190" fill="url(#pB)"/><rect x="0" y="-0.5" width="837" height="190" fill="url(#pN)"/><rect x="0" y="93.5" width="837" height="2" fill="url(#pM)"/><rect x="0" y="98.5" width="837" height="5" fill="url(#pM)"/><rect x="0" y="103.5" width="837" height="7" fill="url(#pS)"/><rect x="0" y="110.5" width="837" height="1" fill="url(#pM)"/><rect x="0" y="114.5" width="837" height="2" fill="url(#pM)"/><rect x="0" y="120.5" width="837" height="1" fill="url(#pM)"/><rect x="0" y="181.5" width="837" height="1" fill="url(#pM)"/><rect x="0" y="184.5" width="837" height="1" fill="url(#pS)"/><rect x="0" y="185.5" width="837" height="4" fill="url(#pM)"/></g>
<rect x="121.4" y="51.4" width="1674.3" height="924.2" fill="none" stroke="#000" stroke-width="1.15"/>
<path d="M115.4 165.4 H121.4" stroke="#000" stroke-width="1.15"/>
<text x="108.3" y="176.5" font-size="30" text-anchor="end">160</text>
<path d="M115.4 306.2 H121.4" stroke="#000" stroke-width="1.15"/>
<text x="108.3" y="317.3" font-size="30" text-anchor="end">140</text>
<path d="M115.4 447 H121.4" stroke="#000" stroke-width="1.15"/>
<text x="108.3" y="458.1" font-size="30" text-anchor="end">120</text>
<path d="M115.4 587.8 H121.4" stroke="#000" stroke-width="1.15"/>
<text x="108.3" y="598.9" font-size="30" text-anchor="end">100</text>
<path d="M115.4 728.6 H121.4" stroke="#000" stroke-width="1.15"/>
<text x="108.3" y="739.7" font-size="30" text-anchor="end">80</text>
<path d="M115.4 869.4 H121.4" stroke="#000" stroke-width="1.15"/>
<text x="108.3" y="880.5" font-size="30" text-anchor="end">60</text>
<path d="M121.4 975.6 V981.4" stroke="#000" stroke-width="1.15"/>
<text x="121.4" y="1010" font-size="30" text-anchor="middle">13:00</text>
<path d="M233.02 975.6 V981.4" stroke="#000" stroke-width="1.15"/>
<text x="233.02" y="1010" font-size="30" text-anchor="middle">13:01</text>
<path d="M344.64 975.6 V981.4" stroke="#000" stroke-width="1.15"/>
<text x="344.64" y="1010" font-size="30" text-anchor="middle">13:02</text>
<path d="M456.26 975.6 V981.4" stroke="#000" stroke-width="1.15"/>
<text x="456.26" y="1010" font-size="30" text-anchor="middle">13:03</text>
<path d="M567.88 975.6 V981.4" stroke="#000" stroke-width="1.15"/>
<text x="567.88" y="1010" font-size="30" text-anchor="middle">13:04</text>
<path d="M679.5 975.6 V981.4" stroke="#000" stroke-width="1.15"/>
<text x="679.5" y="1010" font-size="30" text-anchor="middle">13:05</text>
<path d="M791.12 975.6 V981.4" stroke="#000" stroke-width="1.15"/>
<text x="791.12" y="1010" font-size="30" text-anchor="middle">13:06</text>
<path d="M902.74 975.6 V981.4" stroke="#000" stroke-width="1.15"/>
<text x="902.74" y="1010" font-size="30" text-anchor="middle">13:07</text>
<path d="M1014.36 975.6 V981.4" stroke="#000" stroke-width="1.15"/>
<text x="1014.36" y="1010" font-size="30" text-anchor="middle">13:08</text>
<path d="M1125.98 975.6 V981.4" stroke="#000" stroke-width="1.15"/>
<text x="1125.98" y="1010" font-size="30" text-anchor="middle">13:09</text>
<path d="M1237.6 975.6 V981.4" stroke="#000" stroke-width="1.15"/>
<text x="1237.6" y="1010" font-size="30" text-anchor="middle">13:10</text>
<path d="M1349.22 975.6 V981.4" stroke="#000" stroke-width="1.15"/>
<text x="1349.22" y="1010" font-size="30" text-anchor="middle">13:11</text>
<path d="M1460.84 975.6 V981.4" stroke="#000" stroke-width="1.15"/>
<text x="1460.84" y="1010" font-size="30" text-anchor="middle">13:12</text>
<path d="M1572.46 975.6 V981.4" stroke="#000" stroke-width="1.15"/>
<text x="1572.46" y="1010" font-size="30" text-anchor="middle">13:13</text>
<path d="M1684.08 975.6 V981.4" stroke="#000" stroke-width="1.15"/>
<text x="1684.08" y="1010" font-size="30" text-anchor="middle">13:14</text>
<text x="958" y="41.1" font-size="36.7" text-anchor="middle" xml:space="preserve" style="white-space:pre">2023/12/10  Radio flux density, e-CALLISTO (SPAIN-SIGUENZA), Focuscode: 02</text>
<text x="958" y="1049.4" font-size="33.6" text-anchor="middle">Observation time [UTC]</text>
<text transform="translate(36.5 513.3) rotate(-90)" font-size="33.8" text-anchor="middle">Frequency [MHz]</text>
<defs><linearGradient id="cb" x1="0" y1="0" x2="0" y2="1"><stop offset="0%" stop-color="#ffffff"/><stop offset="1%" stop-color="#ffffdf"/><stop offset="2%" stop-color="#ffffbf"/><stop offset="3%" stop-color="#ffff9f"/><stop offset="4%" stop-color="#ffff80"/><stop offset="5%" stop-color="#ffff60"/><stop offset="6%" stop-color="#ffff40"/><stop offset="7%" stop-color="#ffff20"/><stop offset="8%" stop-color="#ffff00"/><stop offset="9%" stop-color="#fffa05"/><stop offset="10%" stop-color="#fff50a"/><stop offset="11%" stop-color="#fff00f"/><stop offset="12%" stop-color="#ffeb14"/><stop offset="13%" stop-color="#ffe61a"/><stop offset="14%" stop-color="#ffe01f"/><stop offset="15%" stop-color="#ffdb24"/><stop offset="16%" stop-color="#ffd629"/><stop offset="17%" stop-color="#ffd12e"/><stop offset="18%" stop-color="#ffcc33"/><stop offset="19%" stop-color="#ffc738"/><stop offset="20%" stop-color="#ffc23d"/><stop offset="21%" stop-color="#ffbd42"/><stop offset="22%" stop-color="#ffb847"/><stop offset="23%" stop-color="#ffb34d"/><stop offset="24%" stop-color="#ffad52"/><stop offset="25%" stop-color="#ffa857"/><stop offset="26%" stop-color="#ffa35c"/><stop offset="27%" stop-color="#ff9e61"/><stop offset="28%" stop-color="#ff9966"/><stop offset="29%" stop-color="#ff946b"/><stop offset="30%" stop-color="#ff8f70"/><stop offset="31%" stop-color="#ff8a75"/><stop offset="32%" stop-color="#ff857a"/><stop offset="33%" stop-color="#ff8080"/><stop offset="34%" stop-color="#ff7a85"/><stop offset="35%" stop-color="#ff758a"/><stop offset="36%" stop-color="#ff708f"/><stop offset="37%" stop-color="#ff6b94"/><stop offset="38%" stop-color="#ff6699"/><stop offset="39%" stop-color="#ff619e"/><stop offset="40%" stop-color="#ff5ca3"/><stop offset="41%" stop-color="#ff57a8"/><stop offset="42%" stop-color="#ff52ad"/><stop offset="43%" stop-color="#ff4db3"/><stop offset="44%" stop-color="#f747b8"/><stop offset="45%" stop-color="#ef42bd"/><stop offset="46%" stop-color="#e73dc2"/><stop offset="47%" stop-color="#df38c7"/><stop offset="48%" stop-color="#d733cc"/><stop offset="49%" stop-color="#cf2ed1"/><stop offset="50%" stop-color="#c729d6"/><stop offset="51%" stop-color="#bf24db"/><stop offset="52%" stop-color="#b71fe0"/><stop offset="53%" stop-color="#af1ae6"/><stop offset="54%" stop-color="#a714eb"/><stop offset="55%" stop-color="#9f0ff0"/><stop offset="56%" stop-color="#970af5"/><stop offset="57%" stop-color="#8f05fa"/><stop offset="58%" stop-color="#8700ff"/><stop offset="59%" stop-color="#8000ff"/><stop offset="60%" stop-color="#7800ff"/><stop offset="61%" stop-color="#7000ff"/><stop offset="62%" stop-color="#6800ff"/><stop offset="63%" stop-color="#6000ff"/><stop offset="64%" stop-color="#5800ff"/><stop offset="65%" stop-color="#5000ff"/><stop offset="66%" stop-color="#4800ff"/><stop offset="67%" stop-color="#4000ff"/><stop offset="68%" stop-color="#3800ff"/><stop offset="69%" stop-color="#3000ff"/><stop offset="70%" stop-color="#2800ff"/><stop offset="71%" stop-color="#2000ff"/><stop offset="72%" stop-color="#1800ff"/><stop offset="73%" stop-color="#1000ff"/><stop offset="74%" stop-color="#0800ff"/><stop offset="75%" stop-color="#0000ff"/><stop offset="76%" stop-color="#0000f5"/><stop offset="77%" stop-color="#0000eb"/><stop offset="78%" stop-color="#0000e0"/><stop offset="79%" stop-color="#0000d6"/><stop offset="80%" stop-color="#0000cc"/><stop offset="81%" stop-color="#0000c2"/><stop offset="82%" stop-color="#0000b8"/><stop offset="83%" stop-color="#0000ad"/><stop offset="84%" stop-color="#0000a3"/><stop offset="85%" stop-color="#000099"/><stop offset="86%" stop-color="#00008f"/><stop offset="87%" stop-color="#000085"/><stop offset="88%" stop-color="#00007a"/><stop offset="89%" stop-color="#000070"/><stop offset="90%" stop-color="#000066"/><stop offset="91%" stop-color="#00005c"/><stop offset="92%" stop-color="#000052"/><stop offset="93%" stop-color="#000047"/><stop offset="94%" stop-color="#00003d"/><stop offset="95%" stop-color="#000033"/><stop offset="96%" stop-color="#000029"/><stop offset="97%" stop-color="#00001f"/><stop offset="98%" stop-color="#000014"/><stop offset="99%" stop-color="#00000a"/><stop offset="100%" stop-color="#000000"/></linearGradient></defs>
<rect x="1935.4" y="26.85" width="43.1" height="959.65" fill="url(#cb)" stroke="#000" stroke-width="1.15"/>
<path d="M1979 986.5 H1984.3" stroke="#000" stroke-width="1.15"/>
<text transform="translate(1991.8 993.6) scale(0.92 1.07)" font-size="16.67">−2</text>
<path d="M1979 873.6 H1984.3" stroke="#000" stroke-width="1.15"/>
<text transform="translate(1991.8 880.7) scale(0.92 1.07)" font-size="16.67">0</text>
<path d="M1979 760.7 H1984.3" stroke="#000" stroke-width="1.15"/>
<text transform="translate(1991.8 767.8) scale(0.92 1.07)" font-size="16.67">2</text>
<path d="M1979 647.8 H1984.3" stroke="#000" stroke-width="1.15"/>
<text transform="translate(1991.8 654.9) scale(0.92 1.07)" font-size="16.67">4</text>
<path d="M1979 534.9 H1984.3" stroke="#000" stroke-width="1.15"/>
<text transform="translate(1991.8 542) scale(0.92 1.07)" font-size="16.67">6</text>
<path d="M1979 422 H1984.3" stroke="#000" stroke-width="1.15"/>
<text transform="translate(1991.8 429.1) scale(0.92 1.07)" font-size="16.67">8</text>
<path d="M1979 309.1 H1984.3" stroke="#000" stroke-width="1.15"/>
<text transform="translate(1991.8 316.2) scale(0.92 1.07)" font-size="16.67">10</text>
<path d="M1979 196.2 H1984.3" stroke="#000" stroke-width="1.15"/>
<text transform="translate(1991.8 203.3) scale(0.92 1.07)" font-size="16.67">12</text>
<path d="M1979 83.3 H1984.3" stroke="#000" stroke-width="1.15"/>
<text transform="translate(1991.8 90.4) scale(0.92 1.07)" font-size="16.67">14</text>
<text transform="translate(2045.7 507.7) rotate(-90)" font-size="33.5" text-anchor="middle">dB above background</text>
</svg></body></html>
